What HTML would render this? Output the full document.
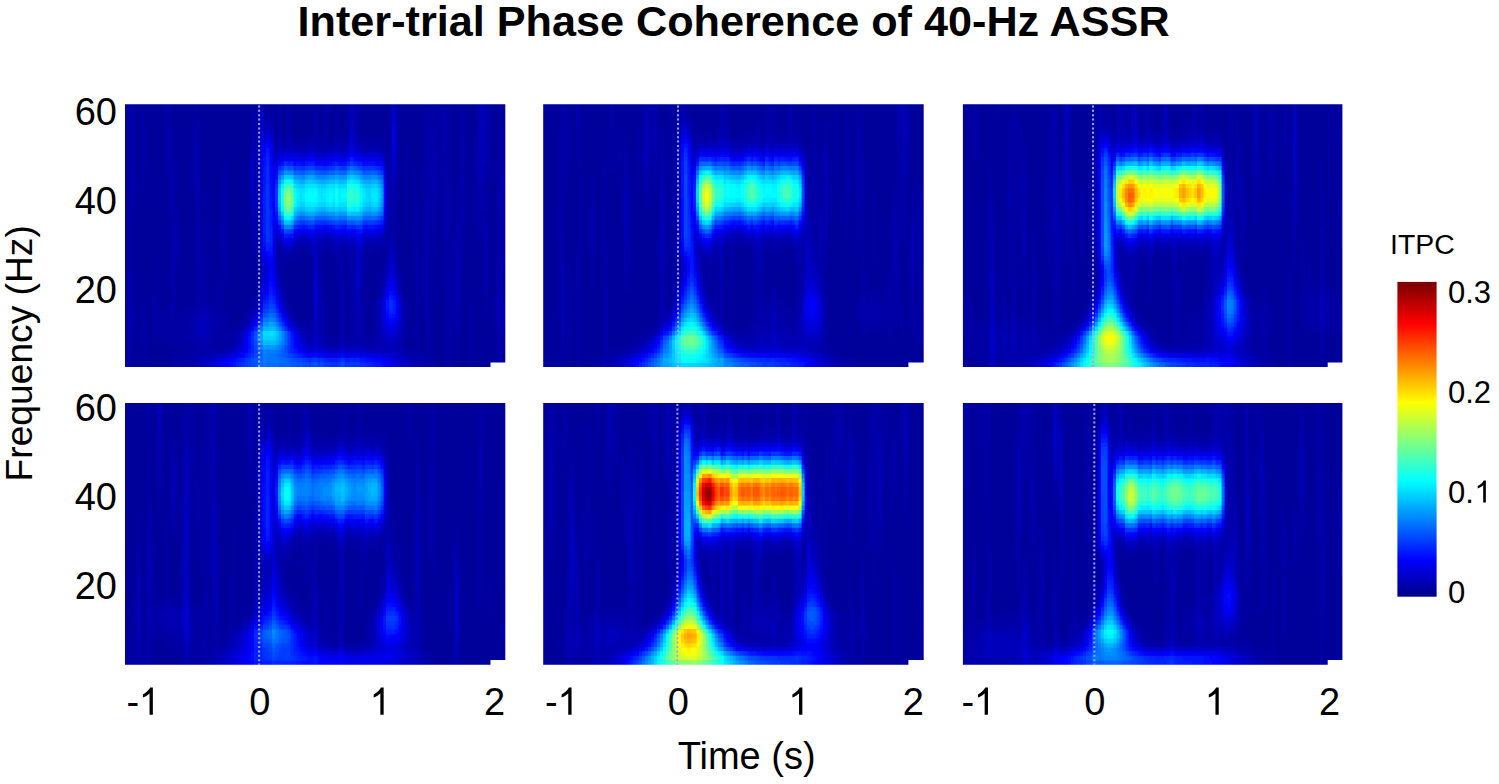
<!DOCTYPE html><html><head><meta charset="utf-8"><style>html,body{margin:0;padding:0;background:#fff;overflow:hidden}</style></head><body><svg width="1499" height="784" viewBox="0 0 1499 784" style="display:block" font-family="Liberation Sans, sans-serif"><rect width="1499" height="784" fill="#fff"/><defs><filter id="hb" x="-2%" y="-2%" width="104%" height="104%" color-interpolation-filters="sRGB"><feGaussianBlur stdDeviation="0.75"/></filter></defs><clipPath id="cp00"><polygon points="125.0,104.3 505.3,104.3 505.3,362.6 490.5,362.6 490.5,367.0 125.0,367.0"/></clipPath><g clip-path="url(#cp00)"><g fill="none" stroke-width="5.16" filter="url(#hb)"><rect x="119.0" y="99.5" width="394.0" height="271.9" fill="#00009b"/><path stroke="#0000a3" d="M128 101.8h3.6M164 101.8h3.6M194 101.8h3.6M251 101.8h3.6M263 101.8h3.6M323 101.8h3.6M353 101.8h3.6M389 101.8h3.6M425 101.8h6.6M434 101.8h3.6M458 101.8h6.6M476 101.8h3.6M488 101.8h3.6M128 106.2h3.6M164 106.2h3.6M194 106.2h3.6M251 106.2h3.6M263 106.2h3.6M323 106.2h3.6M353 106.2h3.6M389 106.2h3.6M425 106.2h12.6M449 106.2h3.6M458 106.2h6.6M476 106.2h3.6M485 106.2h6.6M128 110.7h3.6M164 110.7h3.6M194 110.7h3.6M251 110.7h3.6M266 110.7h3.6M323 110.7h6.6M353 110.7h3.6M389 110.7h3.6M425 110.7h12.6M449 110.7h3.6M458 110.7h6.6M476 110.7h3.6M485 110.7h6.6M128 115.1h3.6M140 115.1h3.6M164 115.1h3.6M194 115.1h3.6M254 115.1h3.6M266 115.1h9.6M323 115.1h6.6M335 115.1h3.6M353 115.1h3.6M389 115.1h3.6M428 115.1h6.6M449 115.1h3.6M458 115.1h6.6M476 115.1h3.6M485 115.1h6.6M128 119.6h3.6M140 119.6h3.6M164 119.6h3.6M194 119.6h6.6M254 119.6h3.6M269 119.6h6.6M323 119.6h6.6M335 119.6h3.6M353 119.6h3.6M428 119.6h6.6M449 119.6h3.6M458 119.6h6.6M476 119.6h3.6M485 119.6h6.6M128 124.1h3.6M140 124.1h3.6M164 124.1h3.6M197 124.1h3.6M254 124.1h3.6M272 124.1h3.6M323 124.1h6.6M335 124.1h3.6M428 124.1h6.6M446 124.1h6.6M458 124.1h6.6M476 124.1h3.6M485 124.1h6.6M128 128.5h3.6M140 128.5h6.6M164 128.5h3.6M197 128.5h3.6M254 128.5h3.6M323 128.5h6.6M335 128.5h3.6M428 128.5h6.6M446 128.5h6.6M458 128.5h6.6M476 128.5h3.6M485 128.5h6.6M500 128.5h3.6M128 133h3.6M140 133h6.6M164 133h3.6M170 133h3.6M191 133h3.6M197 133h3.6M254 133h3.6M284 133h3.6M323 133h6.6M359 133h3.6M446 133h6.6M458 133h6.6M473 133h6.6M485 133h6.6M500 133h3.6M128 137.4h3.6M140 137.4h6.6M164 137.4h3.6M170 137.4h3.6M191 137.4h3.6M197 137.4h3.6M254 137.4h3.6M284 137.4h3.6M290 137.4h3.6M296 137.4h3.6M308 137.4h6.6M323 137.4h6.6M332 137.4h3.6M338 137.4h3.6M359 137.4h3.6M368 137.4h3.6M446 137.4h6.6M458 137.4h3.6M473 137.4h6.6M485 137.4h6.6M497 137.4h6.6M128 141.9h3.6M140 141.9h6.6M164 141.9h3.6M170 141.9h3.6M191 141.9h3.6M197 141.9h3.6M254 141.9h3.6M275 141.9h3.6M281 141.9h3.6M293 141.9h15.6M317 141.9h9.6M329 141.9h6.6M338 141.9h9.6M362 141.9h21.6M446 141.9h6.6M458 141.9h3.6M473 141.9h6.6M485 141.9h6.6M497 141.9h6.6M128 146.3h3.6M140 146.3h6.6M164 146.3h3.6M170 146.3h3.6M191 146.3h3.6M197 146.3h3.6M254 146.3h3.6M404 146.3h3.6M446 146.3h6.6M458 146.3h3.6M473 146.3h6.6M485 146.3h6.6M497 146.3h6.6M128 150.8h3.6M140 150.8h6.6M164 150.8h3.6M170 150.8h3.6M191 150.8h3.6M197 150.8h3.6M383 150.8h3.6M404 150.8h3.6M437 150.8h6.6M446 150.8h6.6M458 150.8h3.6M473 150.8h3.6M485 150.8h6.6M497 150.8h6.6M128 155.3h3.6M140 155.3h6.6M164 155.3h3.6M170 155.3h3.6M191 155.3h3.6M197 155.3h3.6M404 155.3h3.6M437 155.3h6.6M446 155.3h6.6M458 155.3h3.6M473 155.3h3.6M485 155.3h6.6M497 155.3h6.6M128 159.7h3.6M140 159.7h6.6M164 159.7h3.6M170 159.7h3.6M191 159.7h3.6M197 159.7h3.6M224 159.7h3.6M404 159.7h3.6M437 159.7h6.6M446 159.7h6.6M458 159.7h3.6M473 159.7h3.6M485 159.7h6.6M497 159.7h6.6M128 164.2h3.6M140 164.2h6.6M164 164.2h3.6M173 164.2h3.6M191 164.2h3.6M197 164.2h3.6M224 164.2h3.6M248 164.2h3.6M404 164.2h3.6M440 164.2h3.6M446 164.2h6.6M458 164.2h3.6M473 164.2h3.6M485 164.2h6.6M497 164.2h6.6M128 168.6h3.6M140 168.6h6.6M164 168.6h6.6M173 168.6h3.6M191 168.6h3.6M197 168.6h3.6M224 168.6h3.6M248 168.6h3.6M386 168.6h3.6M404 168.6h3.6M413 168.6h3.6M422 168.6h3.6M440 168.6h3.6M446 168.6h6.6M458 168.6h3.6M473 168.6h3.6M488 168.6h3.6M497 168.6h6.6M128 173.1h3.6M140 173.1h3.6M167 173.1h3.6M173 173.1h3.6M191 173.1h3.6M197 173.1h3.6M221 173.1h6.6M248 173.1h3.6M386 173.1h3.6M404 173.1h3.6M413 173.1h3.6M422 173.1h3.6M440 173.1h3.6M446 173.1h6.6M458 173.1h3.6M473 173.1h6.6M488 173.1h3.6M497 173.1h3.6M128 177.6h3.6M140 177.6h3.6M167 177.6h3.6M173 177.6h3.6M191 177.6h3.6M221 177.6h6.6M248 177.6h3.6M386 177.6h3.6M395 177.6h3.6M404 177.6h3.6M413 177.6h3.6M422 177.6h3.6M428 177.6h3.6M440 177.6h3.6M449 177.6h3.6M458 177.6h3.6M473 177.6h6.6M488 177.6h3.6M497 177.6h3.6M128 182h3.6M140 182h3.6M167 182h3.6M173 182h3.6M191 182h3.6M221 182h6.6M248 182h3.6M395 182h3.6M404 182h3.6M413 182h3.6M422 182h3.6M428 182h3.6M440 182h3.6M449 182h3.6M458 182h3.6M473 182h6.6M488 182h3.6M497 182h3.6M128 186.5h3.6M140 186.5h3.6M167 186.5h3.6M173 186.5h3.6M191 186.5h3.6M221 186.5h6.6M248 186.5h3.6M395 186.5h3.6M404 186.5h3.6M413 186.5h3.6M422 186.5h3.6M428 186.5h3.6M440 186.5h3.6M449 186.5h3.6M458 186.5h3.6M473 186.5h6.6M488 186.5h3.6M128 190.9h3.6M167 190.9h3.6M173 190.9h3.6M191 190.9h3.6M221 190.9h6.6M248 190.9h3.6M395 190.9h3.6M404 190.9h3.6M413 190.9h3.6M422 190.9h3.6M428 190.9h3.6M440 190.9h3.6M449 190.9h3.6M455 190.9h6.6M473 190.9h6.6M128 195.4h3.6M167 195.4h3.6M173 195.4h3.6M203 195.4h3.6M221 195.4h3.6M395 195.4h3.6M404 195.4h3.6M413 195.4h3.6M422 195.4h3.6M428 195.4h6.6M449 195.4h3.6M455 195.4h6.6M473 195.4h6.6M485 195.4h3.6M509 195.4h3.6M128 199.8h3.6M167 199.8h3.6M173 199.8h3.6M197 199.8h3.6M203 199.8h3.6M221 199.8h3.6M395 199.8h3.6M404 199.8h3.6M413 199.8h3.6M422 199.8h3.6M428 199.8h6.6M449 199.8h3.6M455 199.8h6.6M473 199.8h6.6M485 199.8h3.6M509 199.8h3.6M128 204.3h3.6M167 204.3h3.6M173 204.3h3.6M197 204.3h3.6M203 204.3h3.6M221 204.3h3.6M404 204.3h3.6M413 204.3h6.6M422 204.3h3.6M428 204.3h6.6M449 204.3h3.6M455 204.3h6.6M473 204.3h6.6M485 204.3h3.6M509 204.3h3.6M128 208.8h3.6M167 208.8h3.6M173 208.8h3.6M197 208.8h3.6M203 208.8h3.6M221 208.8h3.6M404 208.8h3.6M413 208.8h6.6M422 208.8h3.6M428 208.8h6.6M449 208.8h3.6M455 208.8h6.6M473 208.8h6.6M485 208.8h3.6M509 208.8h3.6M128 213.2h6.6M167 213.2h3.6M173 213.2h6.6M194 213.2h3.6M203 213.2h3.6M221 213.2h3.6M404 213.2h3.6M413 213.2h6.6M422 213.2h3.6M428 213.2h6.6M449 213.2h3.6M455 213.2h6.6M473 213.2h9.6M485 213.2h3.6M500 213.2h3.6M509 213.2h3.6M128 217.7h6.6M170 217.7h9.6M194 217.7h3.6M203 217.7h3.6M221 217.7h3.6M254 217.7h6.6M386 217.7h3.6M404 217.7h3.6M413 217.7h6.6M422 217.7h3.6M428 217.7h6.6M449 217.7h3.6M455 217.7h6.6M473 217.7h9.6M485 217.7h3.6M500 217.7h3.6M509 217.7h3.6M128 222.1h6.6M170 222.1h3.6M176 222.1h3.6M194 222.1h3.6M203 222.1h3.6M221 222.1h3.6M254 222.1h6.6M386 222.1h3.6M404 222.1h3.6M413 222.1h6.6M428 222.1h6.6M449 222.1h3.6M458 222.1h3.6M473 222.1h9.6M485 222.1h3.6M500 222.1h3.6M509 222.1h3.6M128 226.6h6.6M170 226.6h3.6M176 226.6h3.6M194 226.6h3.6M203 226.6h6.6M254 226.6h6.6M386 226.6h3.6M404 226.6h3.6M413 226.6h6.6M428 226.6h6.6M449 226.6h3.6M461 226.6h3.6M476 226.6h6.6M485 226.6h3.6M500 226.6h3.6M506 226.6h3.6M128 231h6.6M170 231h3.6M176 231h3.6M194 231h3.6M203 231h6.6M254 231h6.6M386 231h3.6M404 231h3.6M413 231h6.6M428 231h9.6M449 231h3.6M461 231h3.6M476 231h6.6M500 231h3.6M506 231h3.6M128 235.5h6.6M170 235.5h3.6M176 235.5h3.6M194 235.5h3.6M203 235.5h6.6M254 235.5h6.6M386 235.5h3.6M413 235.5h6.6M428 235.5h9.6M446 235.5h6.6M461 235.5h3.6M479 235.5h3.6M500 235.5h3.6M506 235.5h3.6M128 240h6.6M170 240h3.6M176 240h3.6M194 240h3.6M203 240h6.6M254 240h6.6M383 240h6.6M413 240h6.6M422 240h3.6M428 240h9.6M443 240h12.6M461 240h3.6M479 240h3.6M500 240h3.6M506 240h3.6M128 244.4h6.6M176 244.4h3.6M194 244.4h3.6M203 244.4h6.6M221 244.4h3.6M254 244.4h6.6M326 244.4h3.6M383 244.4h6.6M413 244.4h6.6M422 244.4h3.6M428 244.4h9.6M443 244.4h12.6M461 244.4h3.6M479 244.4h6.6M500 244.4h3.6M506 244.4h3.6M128 248.9h6.6M176 248.9h3.6M194 248.9h3.6M200 248.9h9.6M221 248.9h6.6M251 248.9h9.6M278 248.9h3.6M296 248.9h12.6M323 248.9h12.6M344 248.9h3.6M365 248.9h18.6M395 248.9h3.6M413 248.9h6.6M422 248.9h3.6M428 248.9h9.6M443 248.9h12.6M461 248.9h3.6M482 248.9h3.6M500 248.9h3.6M506 248.9h3.6M128 253.3h6.6M176 253.3h3.6M194 253.3h3.6M200 253.3h3.6M206 253.3h3.6M221 253.3h6.6M251 253.3h9.6M278 253.3h6.6M293 253.3h6.6M308 253.3h3.6M317 253.3h6.6M332 253.3h3.6M338 253.3h3.6M353 253.3h3.6M362 253.3h3.6M368 253.3h3.6M377 253.3h3.6M395 253.3h3.6M413 253.3h3.6M422 253.3h3.6M428 253.3h3.6M434 253.3h3.6M443 253.3h12.6M461 253.3h3.6M482 253.3h3.6M500 253.3h3.6M506 253.3h3.6M128 257.8h6.6M155 257.8h3.6M176 257.8h3.6M194 257.8h3.6M200 257.8h3.6M206 257.8h3.6M221 257.8h6.6M251 257.8h3.6M278 257.8h15.6M311 257.8h3.6M317 257.8h6.6M338 257.8h3.6M353 257.8h3.6M362 257.8h3.6M395 257.8h3.6M413 257.8h3.6M422 257.8h3.6M428 257.8h3.6M434 257.8h3.6M443 257.8h12.6M461 257.8h3.6M482 257.8h3.6M500 257.8h3.6M506 257.8h3.6M128 262.2h6.6M155 262.2h3.6M176 262.2h3.6M194 262.2h3.6M200 262.2h3.6M206 262.2h3.6M221 262.2h6.6M251 262.2h3.6M278 262.2h3.6M284 262.2h3.6M311 262.2h3.6M317 262.2h6.6M335 262.2h6.6M347 262.2h3.6M353 262.2h3.6M362 262.2h3.6M383 262.2h3.6M395 262.2h3.6M413 262.2h3.6M422 262.2h3.6M428 262.2h3.6M434 262.2h3.6M443 262.2h12.6M461 262.2h3.6M482 262.2h3.6M500 262.2h3.6M506 262.2h3.6M128 266.7h6.6M155 266.7h3.6M200 266.7h3.6M206 266.7h3.6M221 266.7h6.6M251 266.7h3.6M278 266.7h3.6M311 266.7h3.6M317 266.7h6.6M335 266.7h6.6M347 266.7h3.6M353 266.7h3.6M362 266.7h3.6M383 266.7h3.6M413 266.7h3.6M422 266.7h3.6M428 266.7h3.6M434 266.7h3.6M443 266.7h12.6M461 266.7h3.6M482 266.7h3.6M500 266.7h3.6M506 266.7h3.6M128 271.2h6.6M155 271.2h3.6M200 271.2h3.6M206 271.2h3.6M215 271.2h3.6M221 271.2h6.6M278 271.2h3.6M311 271.2h3.6M317 271.2h6.6M335 271.2h6.6M347 271.2h3.6M353 271.2h3.6M362 271.2h3.6M383 271.2h3.6M422 271.2h3.6M428 271.2h3.6M434 271.2h3.6M443 271.2h12.6M461 271.2h3.6M482 271.2h3.6M500 271.2h3.6M506 271.2h3.6M131 275.6h3.6M155 275.6h3.6M200 275.6h3.6M206 275.6h3.6M215 275.6h3.6M221 275.6h6.6M311 275.6h3.6M317 275.6h3.6M335 275.6h6.6M347 275.6h3.6M353 275.6h3.6M362 275.6h3.6M377 275.6h3.6M398 275.6h3.6M422 275.6h3.6M428 275.6h3.6M434 275.6h3.6M443 275.6h12.6M461 275.6h3.6M482 275.6h3.6M500 275.6h3.6M506 275.6h3.6M131 280.1h3.6M155 280.1h3.6M200 280.1h3.6M206 280.1h3.6M215 280.1h3.6M221 280.1h6.6M257 280.1h3.6M311 280.1h3.6M317 280.1h3.6M335 280.1h6.6M347 280.1h3.6M353 280.1h3.6M362 280.1h3.6M377 280.1h6.6M398 280.1h3.6M422 280.1h3.6M428 280.1h3.6M434 280.1h3.6M443 280.1h12.6M482 280.1h3.6M500 280.1h3.6M506 280.1h3.6M131 284.5h3.6M155 284.5h3.6M173 284.5h3.6M200 284.5h3.6M206 284.5h3.6M215 284.5h9.6M257 284.5h3.6M281 284.5h3.6M311 284.5h3.6M317 284.5h3.6M338 284.5h3.6M347 284.5h3.6M353 284.5h3.6M362 284.5h3.6M377 284.5h6.6M422 284.5h3.6M428 284.5h3.6M434 284.5h3.6M443 284.5h12.6M482 284.5h6.6M500 284.5h3.6M506 284.5h3.6M131 289h3.6M155 289h3.6M173 289h3.6M200 289h3.6M206 289h3.6M215 289h9.6M257 289h3.6M281 289h3.6M311 289h3.6M338 289h3.6M353 289h3.6M362 289h3.6M377 289h3.6M422 289h3.6M428 289h3.6M434 289h3.6M446 289h9.6M482 289h6.6M500 289h3.6M131 293.4h3.6M152 293.4h6.6M170 293.4h6.6M200 293.4h3.6M206 293.4h3.6M215 293.4h9.6M284 293.4h3.6M311 293.4h3.6M338 293.4h3.6M353 293.4h3.6M362 293.4h3.6M377 293.4h3.6M401 293.4h3.6M422 293.4h3.6M428 293.4h3.6M434 293.4h3.6M446 293.4h9.6M482 293.4h6.6M494 293.4h3.6M500 293.4h6.6M131 297.9h3.6M152 297.9h6.6M170 297.9h6.6M194 297.9h3.6M200 297.9h3.6M206 297.9h3.6M215 297.9h9.6M254 297.9h3.6M284 297.9h3.6M311 297.9h3.6M338 297.9h3.6M353 297.9h3.6M362 297.9h3.6M401 297.9h3.6M428 297.9h3.6M434 297.9h3.6M446 297.9h9.6M485 297.9h3.6M494 297.9h3.6M503 297.9h3.6M125 302.4h3.6M131 302.4h3.6M143 302.4h3.6M152 302.4h6.6M170 302.4h6.6M194 302.4h3.6M200 302.4h3.6M206 302.4h3.6M215 302.4h9.6M251 302.4h3.6M287 302.4h3.6M311 302.4h3.6M338 302.4h3.6M353 302.4h3.6M362 302.4h3.6M374 302.4h3.6M404 302.4h3.6M428 302.4h3.6M434 302.4h3.6M446 302.4h9.6M470 302.4h3.6M485 302.4h3.6M494 302.4h3.6M125 306.8h3.6M131 306.8h3.6M140 306.8h6.6M152 306.8h6.6M167 306.8h3.6M173 306.8h3.6M191 306.8h6.6M200 306.8h3.6M209 306.8h15.6M251 306.8h3.6M287 306.8h3.6M311 306.8h3.6M323 306.8h3.6M338 306.8h3.6M353 306.8h3.6M362 306.8h3.6M374 306.8h3.6M404 306.8h3.6M428 306.8h3.6M446 306.8h9.6M470 306.8h3.6M485 306.8h3.6M494 306.8h3.6M125 311.3h3.6M131 311.3h3.6M140 311.3h6.6M152 311.3h18.6M173 311.3h6.6M185 311.3h9.6M209 311.3h6.6M218 311.3h6.6M248 311.3h3.6M290 311.3h3.6M311 311.3h3.6M323 311.3h3.6M338 311.3h3.6M353 311.3h3.6M362 311.3h3.6M374 311.3h3.6M404 311.3h3.6M416 311.3h3.6M428 311.3h3.6M446 311.3h3.6M452 311.3h3.6M458 311.3h3.6M470 311.3h3.6M485 311.3h3.6M494 311.3h3.6M122 315.7h6.6M131 315.7h6.6M140 315.7h6.6M152 315.7h18.6M173 315.7h21.6M218 315.7h9.6M245 315.7h3.6M293 315.7h3.6M311 315.7h3.6M323 315.7h3.6M338 315.7h3.6M353 315.7h3.6M359 315.7h6.6M374 315.7h3.6M404 315.7h3.6M416 315.7h3.6M428 315.7h3.6M446 315.7h3.6M452 315.7h3.6M458 315.7h3.6M470 315.7h3.6M494 315.7h3.6M122 320.2h6.6M131 320.2h3.6M140 320.2h6.6M152 320.2h18.6M173 320.2h15.6M221 320.2h6.6M242 320.2h6.6M296 320.2h3.6M323 320.2h3.6M338 320.2h3.6M353 320.2h3.6M359 320.2h3.6M374 320.2h3.6M404 320.2h3.6M416 320.2h3.6M428 320.2h3.6M446 320.2h3.6M452 320.2h3.6M458 320.2h3.6M470 320.2h3.6M494 320.2h3.6M125 324.7h3.6M131 324.7h3.6M140 324.7h6.6M152 324.7h18.6M173 324.7h12.6M221 324.7h6.6M239 324.7h3.6M299 324.7h6.6M323 324.7h3.6M338 324.7h3.6M353 324.7h3.6M359 324.7h3.6M374 324.7h3.6M404 324.7h3.6M416 324.7h3.6M428 324.7h3.6M446 324.7h3.6M458 324.7h3.6M470 324.7h3.6M494 324.7h3.6M503 324.7h3.6M125 329.1h3.6M131 329.1h3.6M140 329.1h6.6M152 329.1h33.6M221 329.1h6.6M233 329.1h6.6M305 329.1h6.6M323 329.1h3.6M338 329.1h3.6M353 329.1h3.6M359 329.1h3.6M374 329.1h3.6M404 329.1h3.6M416 329.1h3.6M428 329.1h3.6M446 329.1h3.6M458 329.1h3.6M470 329.1h3.6M500 329.1h6.6M125 333.6h3.6M131 333.6h3.6M140 333.6h6.6M152 333.6h33.6M218 333.6h18.6M323 333.6h3.6M338 333.6h3.6M353 333.6h3.6M359 333.6h3.6M374 333.6h3.6M404 333.6h3.6M416 333.6h3.6M425 333.6h6.6M446 333.6h3.6M455 333.6h6.6M470 333.6h3.6M500 333.6h3.6M506 333.6h3.6M131 338h3.6M140 338h6.6M155 338h3.6M164 338h21.6M215 338h18.6M323 338h18.6M347 338h3.6M353 338h3.6M359 338h3.6M365 338h3.6M371 338h6.6M404 338h3.6M416 338h3.6M425 338h6.6M446 338h6.6M455 338h6.6M470 338h3.6M506 338h3.6M131 342.5h3.6M143 342.5h3.6M170 342.5h21.6M209 342.5h21.6M326 342.5h12.6M344 342.5h6.6M365 342.5h9.6M401 342.5h6.6M416 342.5h3.6M425 342.5h6.6M446 342.5h6.6M455 342.5h6.6M470 342.5h3.6M131 346.9h3.6M143 346.9h3.6M170 346.9h24.6M209 346.9h18.6M401 346.9h6.6M416 346.9h3.6M425 346.9h6.6M446 346.9h6.6M455 346.9h6.6M470 346.9h3.6M143 351.4h3.6M179 351.4h18.6M407 351.4h12.6M425 351.4h6.6M446 351.4h6.6M455 351.4h3.6M470 351.4h3.6M143 355.9h3.6M173 355.9h21.6M419 355.9h6.6M428 355.9h3.6M446 355.9h6.6M455 355.9h3.6M470 355.9h3.6M143 360.3h3.6M173 360.3h15.6M431 360.3h6.6M446 360.3h6.6M455 360.3h3.6M470 360.3h3.6M509 360.3h3.6M128 364.8h3.6M170 364.8h15.6M431 364.8h6.6M446 364.8h6.6M455 364.8h3.6M470 364.8h3.6M509 364.8h3.6M128 369.2h3.6M176 369.2h12.6M428 369.2h9.6M446 369.2h6.6M509 369.2h3.6"/><path stroke="#0000ab" d="M131 101.8h3.6M167 101.8h3.6M257 101.8h3.6M278 101.8h3.6M287 101.8h3.6M314 101.8h3.6M326 101.8h3.6M347 101.8h3.6M356 101.8h3.6M395 101.8h3.6M440 101.8h6.6M131 106.2h3.6M167 106.2h3.6M257 106.2h3.6M278 106.2h3.6M287 106.2h3.6M314 106.2h3.6M326 106.2h3.6M347 106.2h3.6M356 106.2h3.6M395 106.2h3.6M440 106.2h6.6M131 110.7h3.6M167 110.7h3.6M257 110.7h3.6M263 110.7h3.6M278 110.7h3.6M287 110.7h3.6M314 110.7h3.6M347 110.7h3.6M356 110.7h3.6M395 110.7h3.6M440 110.7h6.6M131 115.1h3.6M167 115.1h3.6M251 115.1h3.6M257 115.1h3.6M263 115.1h3.6M278 115.1h3.6M287 115.1h3.6M314 115.1h3.6M347 115.1h3.6M356 115.1h3.6M395 115.1h3.6M425 115.1h3.6M434 115.1h3.6M440 115.1h3.6M131 119.6h3.6M167 119.6h3.6M251 119.6h3.6M257 119.6h3.6M266 119.6h3.6M278 119.6h3.6M287 119.6h3.6M314 119.6h3.6M347 119.6h3.6M356 119.6h3.6M389 119.6h3.6M395 119.6h3.6M425 119.6h3.6M434 119.6h3.6M440 119.6h6.6M131 124.1h3.6M167 124.1h3.6M194 124.1h3.6M251 124.1h3.6M269 124.1h3.6M278 124.1h3.6M287 124.1h3.6M314 124.1h3.6M347 124.1h3.6M353 124.1h6.6M389 124.1h3.6M395 124.1h3.6M425 124.1h3.6M434 124.1h3.6M440 124.1h6.6M131 128.5h3.6M167 128.5h3.6M194 128.5h3.6M272 128.5h3.6M278 128.5h3.6M287 128.5h3.6M314 128.5h3.6M347 128.5h3.6M353 128.5h6.6M389 128.5h3.6M425 128.5h3.6M434 128.5h3.6M440 128.5h6.6M131 133h3.6M167 133h3.6M194 133h3.6M272 133h3.6M278 133h3.6M287 133h3.6M314 133h3.6M335 133h3.6M353 133h6.6M389 133h3.6M425 133h12.6M440 133h6.6M131 137.4h3.6M167 137.4h3.6M194 137.4h3.6M278 137.4h3.6M287 137.4h3.6M314 137.4h3.6M335 137.4h3.6M389 137.4h3.6M425 137.4h12.6M440 137.4h6.6M461 137.4h3.6M131 141.9h3.6M167 141.9h3.6M194 141.9h3.6M284 141.9h3.6M290 141.9h3.6M308 141.9h9.6M326 141.9h3.6M359 141.9h3.6M389 141.9h3.6M425 141.9h12.6M440 141.9h6.6M461 141.9h3.6M131 146.3h3.6M167 146.3h3.6M275 146.3h3.6M281 146.3h3.6M293 146.3h15.6M317 146.3h18.6M338 146.3h9.6M362 146.3h21.6M389 146.3h3.6M425 146.3h12.6M440 146.3h6.6M461 146.3h3.6M131 150.8h3.6M167 150.8h3.6M254 150.8h3.6M275 150.8h3.6M389 150.8h3.6M395 150.8h3.6M425 150.8h12.6M443 150.8h3.6M461 150.8h3.6M476 150.8h3.6M131 155.3h3.6M167 155.3h3.6M254 155.3h3.6M383 155.3h3.6M389 155.3h3.6M395 155.3h3.6M425 155.3h9.6M443 155.3h3.6M461 155.3h3.6M476 155.3h3.6M131 159.7h3.6M167 159.7h3.6M254 159.7h3.6M389 159.7h3.6M395 159.7h3.6M425 159.7h9.6M443 159.7h3.6M461 159.7h3.6M476 159.7h3.6M131 164.2h3.6M167 164.2h6.6M254 164.2h3.6M389 164.2h3.6M395 164.2h3.6M425 164.2h9.6M443 164.2h3.6M461 164.2h3.6M476 164.2h3.6M131 168.6h3.6M170 168.6h3.6M254 168.6h3.6M389 168.6h3.6M395 168.6h3.6M425 168.6h9.6M443 168.6h3.6M461 168.6h3.6M476 168.6h3.6M131 173.1h3.6M170 173.1h3.6M254 173.1h3.6M389 173.1h3.6M395 173.1h3.6M425 173.1h9.6M443 173.1h3.6M461 173.1h3.6M500 173.1h3.6M131 177.6h3.6M170 177.6h3.6M197 177.6h3.6M254 177.6h3.6M389 177.6h3.6M425 177.6h3.6M431 177.6h3.6M443 177.6h6.6M461 177.6h3.6M500 177.6h3.6M131 182h3.6M170 182h3.6M197 182h3.6M254 182h6.6M386 182h6.6M425 182h3.6M431 182h3.6M443 182h6.6M461 182h3.6M500 182h3.6M131 186.5h3.6M170 186.5h3.6M194 186.5h6.6M254 186.5h6.6M386 186.5h6.6M425 186.5h3.6M431 186.5h3.6M443 186.5h6.6M461 186.5h3.6M479 186.5h6.6M497 186.5h6.6M131 190.9h3.6M170 190.9h3.6M194 190.9h6.6M254 190.9h6.6M386 190.9h6.6M425 190.9h3.6M431 190.9h3.6M443 190.9h6.6M461 190.9h3.6M479 190.9h6.6M497 190.9h6.6M131 195.4h3.6M170 195.4h3.6M194 195.4h6.6M224 195.4h3.6M254 195.4h6.6M386 195.4h6.6M425 195.4h3.6M434 195.4h3.6M443 195.4h6.6M461 195.4h3.6M479 195.4h6.6M497 195.4h6.6M131 199.8h3.6M170 199.8h3.6M194 199.8h3.6M224 199.8h3.6M254 199.8h6.6M386 199.8h9.6M425 199.8h3.6M434 199.8h3.6M443 199.8h6.6M461 199.8h3.6M479 199.8h6.6M497 199.8h6.6M131 204.3h3.6M170 204.3h3.6M194 204.3h3.6M224 204.3h3.6M254 204.3h6.6M386 204.3h9.6M425 204.3h3.6M434 204.3h3.6M443 204.3h6.6M461 204.3h3.6M479 204.3h6.6M497 204.3h6.6M131 208.8h3.6M170 208.8h3.6M194 208.8h3.6M224 208.8h3.6M254 208.8h6.6M386 208.8h9.6M425 208.8h3.6M434 208.8h3.6M443 208.8h6.6M461 208.8h3.6M479 208.8h6.6M497 208.8h6.6M170 213.2h3.6M197 213.2h3.6M224 213.2h3.6M254 213.2h6.6M386 213.2h9.6M425 213.2h3.6M434 213.2h3.6M443 213.2h6.6M461 213.2h3.6M482 213.2h3.6M497 213.2h3.6M197 217.7h3.6M224 217.7h3.6M389 217.7h6.6M425 217.7h3.6M434 217.7h3.6M443 217.7h6.6M461 217.7h3.6M482 217.7h3.6M497 217.7h3.6M173 222.1h3.6M197 222.1h3.6M224 222.1h3.6M389 222.1h6.6M422 222.1h6.6M434 222.1h3.6M443 222.1h6.6M455 222.1h3.6M461 222.1h3.6M482 222.1h3.6M497 222.1h3.6M173 226.6h3.6M197 226.6h3.6M221 226.6h6.6M389 226.6h6.6M422 226.6h6.6M434 226.6h3.6M443 226.6h6.6M455 226.6h6.6M482 226.6h3.6M497 226.6h3.6M509 226.6h3.6M173 231h3.6M197 231h3.6M221 231h6.6M389 231h6.6M422 231h6.6M443 231h6.6M455 231h6.6M482 231h6.6M497 231h3.6M509 231h3.6M173 235.5h3.6M197 235.5h3.6M221 235.5h6.6M251 235.5h3.6M383 235.5h3.6M392 235.5h3.6M422 235.5h6.6M443 235.5h3.6M455 235.5h6.6M482 235.5h6.6M497 235.5h3.6M509 235.5h3.6M173 240h3.6M197 240h3.6M221 240h6.6M251 240h3.6M392 240h3.6M425 240h3.6M455 240h6.6M482 240h6.6M497 240h3.6M509 240h3.6M170 244.4h6.6M197 244.4h3.6M224 244.4h3.6M251 244.4h3.6M278 244.4h3.6M299 244.4h9.6M317 244.4h3.6M323 244.4h3.6M329 244.4h6.6M344 244.4h3.6M365 244.4h18.6M392 244.4h3.6M425 244.4h3.6M458 244.4h3.6M485 244.4h3.6M497 244.4h3.6M170 248.9h6.6M197 248.9h3.6M275 248.9h3.6M281 248.9h3.6M293 248.9h3.6M308 248.9h3.6M317 248.9h6.6M338 248.9h6.6M350 248.9h6.6M362 248.9h3.6M386 248.9h3.6M425 248.9h3.6M458 248.9h3.6M485 248.9h3.6M497 248.9h3.6M170 253.3h6.6M197 253.3h3.6M203 253.3h3.6M275 253.3h3.6M284 253.3h9.6M311 253.3h3.6M335 253.3h3.6M341 253.3h3.6M347 253.3h6.6M386 253.3h3.6M416 253.3h3.6M425 253.3h3.6M458 253.3h3.6M485 253.3h3.6M497 253.3h3.6M170 257.8h6.6M197 257.8h3.6M203 257.8h3.6M275 257.8h3.6M335 257.8h3.6M341 257.8h3.6M347 257.8h6.6M386 257.8h3.6M416 257.8h3.6M425 257.8h3.6M458 257.8h3.6M485 257.8h3.6M497 257.8h3.6M170 262.2h6.6M197 262.2h3.6M203 262.2h3.6M341 262.2h3.6M350 262.2h3.6M416 262.2h3.6M425 262.2h3.6M458 262.2h3.6M485 262.2h3.6M170 266.7h6.6M197 266.7h3.6M203 266.7h3.6M341 266.7h3.6M350 266.7h3.6M395 266.7h3.6M416 266.7h3.6M425 266.7h3.6M458 266.7h3.6M485 266.7h3.6M170 271.2h6.6M197 271.2h3.6M203 271.2h3.6M341 271.2h3.6M350 271.2h3.6M395 271.2h3.6M416 271.2h3.6M425 271.2h3.6M458 271.2h3.6M485 271.2h3.6M128 275.6h3.6M170 275.6h6.6M197 275.6h3.6M203 275.6h3.6M278 275.6h3.6M320 275.6h3.6M341 275.6h3.6M350 275.6h3.6M383 275.6h3.6M416 275.6h3.6M425 275.6h3.6M458 275.6h3.6M485 275.6h3.6M128 280.1h3.6M170 280.1h6.6M197 280.1h3.6M203 280.1h3.6M278 280.1h3.6M320 280.1h3.6M341 280.1h3.6M350 280.1h3.6M383 280.1h3.6M416 280.1h3.6M425 280.1h3.6M458 280.1h3.6M485 280.1h3.6M128 284.5h3.6M170 284.5h3.6M197 284.5h3.6M203 284.5h3.6M320 284.5h3.6M341 284.5h3.6M350 284.5h3.6M398 284.5h3.6M416 284.5h3.6M425 284.5h3.6M458 284.5h3.6M128 289h3.6M170 289h3.6M197 289h3.6M203 289h3.6M317 289h6.6M350 289h3.6M359 289h3.6M380 289h3.6M398 289h3.6M416 289h3.6M425 289h3.6M458 289h3.6M506 289h3.6M128 293.4h3.6M197 293.4h3.6M203 293.4h3.6M257 293.4h3.6M281 293.4h3.6M317 293.4h6.6M350 293.4h3.6M359 293.4h3.6M380 293.4h3.6M416 293.4h3.6M425 293.4h3.6M458 293.4h3.6M506 293.4h3.6M128 297.9h3.6M197 297.9h3.6M203 297.9h3.6M317 297.9h6.6M350 297.9h3.6M359 297.9h3.6M377 297.9h3.6M416 297.9h3.6M425 297.9h3.6M458 297.9h3.6M500 297.9h3.6M506 297.9h3.6M128 302.4h3.6M197 302.4h3.6M203 302.4h3.6M254 302.4h3.6M284 302.4h3.6M317 302.4h3.6M350 302.4h3.6M359 302.4h3.6M401 302.4h3.6M416 302.4h3.6M425 302.4h3.6M458 302.4h3.6M500 302.4h6.6M128 306.8h3.6M170 306.8h3.6M197 306.8h3.6M203 306.8h6.6M317 306.8h3.6M350 306.8h3.6M359 306.8h3.6M416 306.8h3.6M425 306.8h3.6M455 306.8h6.6M500 306.8h6.6M170 311.3h3.6M194 311.3h3.6M200 311.3h3.6M206 311.3h3.6M215 311.3h3.6M251 311.3h3.6M287 311.3h3.6M317 311.3h3.6M350 311.3h3.6M359 311.3h3.6M425 311.3h3.6M449 311.3h3.6M455 311.3h3.6M500 311.3h6.6M170 315.7h3.6M194 315.7h3.6M209 315.7h9.6M248 315.7h3.6M290 315.7h3.6M317 315.7h3.6M350 315.7h3.6M425 315.7h3.6M449 315.7h3.6M455 315.7h3.6M500 315.7h6.6M170 320.2h3.6M188 320.2h6.6M212 320.2h9.6M293 320.2h3.6M311 320.2h3.6M317 320.2h3.6M350 320.2h3.6M362 320.2h3.6M425 320.2h3.6M449 320.2h3.6M455 320.2h3.6M500 320.2h6.6M170 324.7h3.6M185 324.7h9.6M212 324.7h9.6M242 324.7h3.6M296 324.7h3.6M311 324.7h3.6M317 324.7h3.6M350 324.7h3.6M362 324.7h3.6M425 324.7h3.6M449 324.7h3.6M455 324.7h3.6M500 324.7h3.6M506 324.7h3.6M128 329.1h3.6M185 329.1h9.6M212 329.1h9.6M239 329.1h3.6M302 329.1h3.6M311 329.1h3.6M317 329.1h3.6M350 329.1h3.6M362 329.1h3.6M401 329.1h3.6M425 329.1h3.6M449 329.1h3.6M455 329.1h3.6M506 329.1h3.6M128 333.6h3.6M185 333.6h9.6M209 333.6h9.6M236 333.6h3.6M305 333.6h6.6M317 333.6h3.6M350 333.6h3.6M362 333.6h3.6M401 333.6h3.6M449 333.6h3.6M128 338h3.6M185 338h12.6M209 338h6.6M233 338h3.6M308 338h3.6M350 338h3.6M362 338h3.6M401 338h3.6M128 342.5h3.6M191 342.5h12.6M206 342.5h3.6M230 342.5h6.6M323 342.5h3.6M338 342.5h3.6M353 342.5h3.6M359 342.5h6.6M374 342.5h3.6M398 342.5h3.6M497 342.5h3.6M509 342.5h3.6M128 346.9h3.6M194 346.9h15.6M227 346.9h6.6M326 346.9h12.6M344 346.9h6.6M365 346.9h12.6M398 346.9h3.6M497 346.9h3.6M509 346.9h3.6M128 351.4h3.6M197 351.4h27.6M401 351.4h6.6M497 351.4h3.6M509 351.4h3.6M128 355.9h3.6M194 355.9h9.6M407 355.9h12.6M425 355.9h3.6M497 355.9h3.6M509 355.9h3.6M128 360.3h3.6M188 360.3h6.6M419 360.3h12.6M497 360.3h3.6M185 364.8h9.6M419 364.8h12.6M497 364.8h3.6M188 369.2h6.6M419 369.2h9.6M497 369.2h3.6"/><path stroke="#0000b3" d="M350 101.8h3.6M479 101.8h6.6M479 106.2h6.6M479 110.7h3.6M443 115.1h3.6M479 115.1h3.6M263 119.6h3.6M479 119.6h3.6M257 124.1h3.6M263 124.1h6.6M251 128.5h3.6M257 128.5h3.6M269 128.5h3.6M395 128.5h3.6M251 133h3.6M257 133h3.6M347 133h3.6M395 133h3.6M251 137.4h3.6M257 137.4h3.6M272 137.4h3.6M347 137.4h3.6M353 137.4h6.6M395 137.4h3.6M257 141.9h3.6M278 141.9h3.6M287 141.9h3.6M335 141.9h3.6M353 141.9h6.6M395 141.9h3.6M194 146.3h3.6M257 146.3h3.6M278 146.3h3.6M284 146.3h9.6M308 146.3h9.6M359 146.3h3.6M395 146.3h3.6M194 150.8h3.6M257 150.8h3.6M293 150.8h3.6M302 150.8h3.6M317 150.8h9.6M329 150.8h3.6M362 150.8h3.6M374 150.8h9.6M194 155.3h3.6M257 155.3h3.6M434 155.3h3.6M479 155.3h3.6M194 159.7h3.6M257 159.7h3.6M383 159.7h3.6M434 159.7h3.6M479 159.7h3.6M194 164.2h3.6M257 164.2h3.6M434 164.2h3.6M479 164.2h6.6M194 168.6h3.6M257 168.6h3.6M434 168.6h3.6M479 168.6h6.6M194 173.1h3.6M257 173.1h3.6M434 173.1h3.6M479 173.1h6.6M194 177.6h3.6M257 177.6h3.6M434 177.6h3.6M479 177.6h6.6M194 182h3.6M434 182h3.6M479 182h6.6M434 186.5h3.6M392 190.9h3.6M434 190.9h3.6M392 195.4h3.6M251 222.1h3.6M251 226.6h3.6M251 231h3.6M383 231h3.6M389 235.5h3.6M275 240h3.6M302 240h3.6M323 240h9.6M377 240h6.6M389 240h3.6M275 244.4h3.6M293 244.4h6.6M308 244.4h3.6M320 244.4h3.6M338 244.4h6.6M350 244.4h6.6M362 244.4h3.6M389 244.4h3.6M455 244.4h3.6M509 244.4h3.6M311 248.9h3.6M335 248.9h3.6M347 248.9h3.6M392 248.9h3.6M455 248.9h3.6M509 248.9h3.6M392 253.3h3.6M455 253.3h3.6M509 253.3h3.6M455 257.8h3.6M509 257.8h3.6M275 262.2h3.6M386 262.2h3.6M455 262.2h3.6M497 262.2h3.6M509 262.2h3.6M260 266.7h3.6M275 266.7h3.6M455 266.7h3.6M497 266.7h3.6M509 266.7h3.6M260 271.2h3.6M359 271.2h3.6M455 271.2h3.6M497 271.2h3.6M260 275.6h3.6M359 275.6h3.6M395 275.6h3.6M455 275.6h3.6M497 275.6h3.6M359 280.1h3.6M455 280.1h3.6M497 280.1h3.6M278 284.5h3.6M359 284.5h3.6M383 284.5h3.6M455 284.5h3.6M497 284.5h3.6M341 289h3.6M455 289h3.6M497 289h3.6M341 293.4h3.6M398 293.4h3.6M455 293.4h3.6M497 293.4h3.6M257 297.9h3.6M281 297.9h3.6M341 297.9h3.6M380 297.9h3.6M455 297.9h3.6M320 302.4h3.6M341 302.4h3.6M377 302.4h3.6M455 302.4h3.6M506 302.4h3.6M254 306.8h3.6M284 306.8h3.6M320 306.8h3.6M341 306.8h3.6M377 306.8h3.6M401 306.8h3.6M506 306.8h3.6M128 311.3h3.6M197 311.3h3.6M203 311.3h3.6M320 311.3h3.6M341 311.3h3.6M377 311.3h3.6M401 311.3h3.6M506 311.3h3.6M128 315.7h3.6M197 315.7h6.6M206 315.7h3.6M251 315.7h3.6M320 315.7h3.6M341 315.7h3.6M356 315.7h3.6M377 315.7h3.6M401 315.7h3.6M506 315.7h3.6M128 320.2h3.6M194 320.2h3.6M200 320.2h3.6M206 320.2h6.6M248 320.2h3.6M320 320.2h3.6M341 320.2h3.6M356 320.2h3.6M377 320.2h3.6M401 320.2h3.6M506 320.2h3.6M128 324.7h3.6M194 324.7h3.6M209 324.7h3.6M245 324.7h3.6M320 324.7h3.6M341 324.7h3.6M356 324.7h3.6M377 324.7h3.6M401 324.7h3.6M194 329.1h3.6M209 329.1h3.6M242 329.1h3.6M299 329.1h3.6M320 329.1h3.6M341 329.1h3.6M356 329.1h3.6M377 329.1h3.6M497 329.1h3.6M194 333.6h3.6M200 333.6h3.6M206 333.6h3.6M302 333.6h3.6M311 333.6h3.6M320 333.6h3.6M341 333.6h3.6M356 333.6h3.6M377 333.6h6.6M497 333.6h3.6M509 333.6h3.6M197 338h12.6M236 338h3.6M305 338h3.6M311 338h3.6M317 338h3.6M341 338h3.6M356 338h3.6M377 338h6.6M398 338h3.6M497 338h3.6M509 338h3.6M203 342.5h3.6M308 342.5h3.6M317 342.5h3.6M350 342.5h3.6M356 342.5h3.6M377 342.5h9.6M395 342.5h3.6M233 346.9h3.6M323 346.9h3.6M338 346.9h3.6M353 346.9h3.6M359 346.9h6.6M377 346.9h21.6M224 351.4h6.6M395 351.4h6.6M203 355.9h9.6M404 355.9h3.6M194 360.3h6.6M410 360.3h9.6M194 364.8h3.6M413 364.8h6.6M194 369.2h6.6M410 369.2h9.6"/><path stroke="#0000bb" d="M260 101.8h3.6M260 106.2h3.6M350 106.2h3.6M260 110.7h3.6M350 110.7h3.6M482 110.7h3.6M260 115.1h3.6M350 115.1h3.6M482 115.1h3.6M482 119.6h3.6M479 124.1h6.6M266 128.5h3.6M479 128.5h6.6M269 133h3.6M479 133h6.6M479 137.4h6.6M251 141.9h3.6M272 141.9h3.6M347 141.9h3.6M479 141.9h6.6M251 146.3h3.6M272 146.3h3.6M335 146.3h3.6M353 146.3h6.6M479 146.3h6.6M251 150.8h3.6M281 150.8h3.6M296 150.8h6.6M305 150.8h3.6M314 150.8h3.6M326 150.8h3.6M332 150.8h3.6M338 150.8h9.6M365 150.8h9.6M479 150.8h6.6M275 155.3h3.6M482 155.3h3.6M482 159.7h3.6M383 164.2h3.6M392 182h3.6M392 186.5h3.6M251 204.3h3.6M251 208.8h3.6M251 213.2h3.6M251 217.7h3.6M383 226.6h3.6M278 240h3.6M299 240h3.6M305 240h3.6M317 240h6.6M332 240h3.6M344 240h3.6M362 240h15.6M281 244.4h3.6M311 244.4h3.6M335 244.4h3.6M347 244.4h3.6M284 248.9h9.6M314 248.9h3.6M389 248.9h3.6M389 253.3h3.6M260 257.8h3.6M359 257.8h3.6M392 257.8h3.6M260 262.2h3.6M359 262.2h3.6M392 262.2h3.6M359 266.7h3.6M386 266.7h3.6M275 271.2h3.6M386 271.2h3.6M509 271.2h3.6M275 275.6h3.6M509 275.6h3.6M260 280.1h3.6M395 280.1h3.6M509 280.1h3.6M260 284.5h3.6M509 284.5h3.6M278 289h3.6M383 289h3.6M509 289h3.6M356 293.4h3.6M356 297.9h3.6M497 297.9h3.6M257 302.4h3.6M281 302.4h3.6M356 302.4h3.6M497 302.4h3.6M356 306.8h3.6M497 306.8h3.6M254 311.3h3.6M356 311.3h3.6M497 311.3h3.6M203 315.7h3.6M287 315.7h3.6M497 315.7h3.6M197 320.2h3.6M203 320.2h3.6M290 320.2h3.6M497 320.2h3.6M197 324.7h12.6M293 324.7h3.6M380 324.7h3.6M497 324.7h3.6M197 329.1h12.6M296 329.1h3.6M380 329.1h3.6M398 329.1h3.6M509 329.1h3.6M197 333.6h3.6M203 333.6h3.6M239 333.6h3.6M398 333.6h3.6M302 338h3.6M320 338h3.6M383 338h3.6M395 338h3.6M236 342.5h3.6M305 342.5h3.6M311 342.5h3.6M320 342.5h3.6M341 342.5h3.6M386 342.5h9.6M317 346.9h3.6M350 346.9h3.6M356 346.9h3.6M230 351.4h3.6M365 351.4h12.6M380 351.4h15.6M212 355.9h6.6M398 355.9h6.6M200 360.3h3.6M407 360.3h3.6M197 364.8h6.6M410 364.8h3.6M200 369.2h3.6M407 369.2h3.6"/><path stroke="#0000c3" d="M392 101.8h3.6M392 106.2h3.6M260 119.6h3.6M350 119.6h3.6M260 124.1h3.6M350 124.1h3.6M260 128.5h6.6M350 128.5h3.6M347 146.3h3.6M272 150.8h3.6M278 150.8h3.6M284 150.8h9.6M308 150.8h6.6M359 150.8h3.6M251 155.3h3.6M302 155.3h3.6M317 155.3h3.6M323 155.3h3.6M362 155.3h3.6M377 155.3h6.6M251 159.7h3.6M275 159.7h3.6M251 164.2h3.6M251 168.6h3.6M251 173.1h3.6M251 177.6h3.6M392 177.6h3.6M251 182h3.6M251 186.5h3.6M251 190.9h3.6M251 195.4h3.6M251 199.8h3.6M275 235.5h3.6M323 235.5h6.6M380 235.5h3.6M293 240h6.6M308 240h3.6M338 240h6.6M350 240h6.6M314 244.4h3.6M260 253.3h3.6M314 253.3h3.6M356 253.3h6.6M314 257.8h3.6M356 257.8h3.6M389 257.8h3.6M314 262.2h3.6M356 262.2h3.6M389 262.2h3.6M356 266.7h3.6M392 266.7h3.6M356 271.2h3.6M356 275.6h3.6M386 275.6h3.6M275 280.1h3.6M356 280.1h3.6M356 284.5h3.6M395 284.5h3.6M260 289h3.6M356 289h3.6M278 293.4h3.6M509 293.4h3.6M398 297.9h3.6M509 297.9h3.6M380 302.4h3.6M257 306.8h3.6M380 306.8h3.6M284 311.3h3.6M380 311.3h3.6M380 315.7h3.6M251 320.2h3.6M380 320.2h3.6M509 320.2h3.6M248 324.7h3.6M314 324.7h3.6M398 324.7h3.6M509 324.7h3.6M245 329.1h3.6M314 329.1h3.6M299 333.6h3.6M314 333.6h3.6M383 333.6h3.6M395 333.6h3.6M239 338h3.6M386 338h9.6M239 342.5h3.6M236 346.9h3.6M308 346.9h6.6M320 346.9h3.6M341 346.9h3.6M233 351.4h3.6M326 351.4h12.6M344 351.4h6.6M353 351.4h3.6M359 351.4h6.6M377 351.4h3.6M218 355.9h6.6M395 355.9h3.6M203 360.3h9.6M401 360.3h6.6M203 364.8h3.6M407 364.8h3.6M203 369.2h6.6M401 369.2h6.6"/><path stroke="#0000cb" d="M392 110.7h3.6M392 115.1h3.6M260 133h9.6M350 133h3.6M260 137.4h3.6M269 137.4h3.6M350 137.4h3.6M260 141.9h3.6M335 150.8h3.6M347 150.8h3.6M353 150.8h6.6M272 155.3h3.6M281 155.3h3.6M293 155.3h3.6M299 155.3h3.6M305 155.3h3.6M314 155.3h3.6M320 155.3h3.6M326 155.3h6.6M341 155.3h6.6M365 155.3h3.6M374 155.3h3.6M383 168.6h3.6M392 168.6h3.6M392 173.1h3.6M383 222.1h3.6M275 231h3.6M299 235.5h6.6M317 235.5h6.6M329 235.5h3.6M344 235.5h3.6M362 235.5h3.6M374 235.5h6.6M311 240h6.6M335 240h3.6M347 240h3.6M260 244.4h3.6M290 244.4h3.6M260 248.9h3.6M356 248.9h6.6M314 266.7h3.6M389 266.7h3.6M314 271.2h3.6M392 271.2h3.6M314 275.6h3.6M314 280.1h3.6M386 280.1h3.6M275 284.5h3.6M395 289h3.6M260 293.4h3.6M383 293.4h3.6M278 297.9h3.6M398 302.4h3.6M509 302.4h3.6M281 306.8h3.6M314 306.8h3.6M509 306.8h3.6M314 311.3h3.6M509 311.3h3.6M254 315.7h3.6M314 315.7h3.6M398 315.7h3.6M509 315.7h3.6M287 320.2h3.6M314 320.2h3.6M398 320.2h3.6M290 324.7h3.6M293 329.1h3.6M383 329.1h3.6M242 333.6h3.6M386 333.6h3.6M299 338h3.6M314 338h3.6M302 342.5h3.6M314 342.5h3.6M239 346.9h3.6M305 346.9h3.6M323 351.4h3.6M338 351.4h3.6M350 351.4h3.6M224 355.9h3.6M389 355.9h6.6M212 360.3h3.6M398 360.3h3.6M206 364.8h3.6M401 364.8h6.6M209 369.2h3.6M398 369.2h3.6"/><path stroke="#0000d3" d="M392 119.6h3.6M392 124.1h3.6M269 141.9h3.6M350 141.9h3.6M260 146.3h3.6M260 150.8h3.6M260 155.3h3.6M278 155.3h3.6M287 155.3h3.6M296 155.3h3.6M332 155.3h3.6M338 155.3h3.6M368 155.3h6.6M272 159.7h3.6M392 159.7h3.6M272 164.2h6.6M392 164.2h3.6M383 173.1h3.6M260 222.1h3.6M260 226.6h3.6M260 231h3.6M260 235.5h3.6M278 235.5h3.6M305 235.5h3.6M314 235.5h3.6M332 235.5h3.6M338 235.5h6.6M365 235.5h9.6M260 240h3.6M281 240h3.6M284 244.4h6.6M356 244.4h6.6M263 266.7h3.6M263 271.2h3.6M389 271.2h3.6M263 275.6h3.6M392 275.6h3.6M314 284.5h3.6M314 289h3.6M314 293.4h3.6M260 297.9h3.6M314 297.9h3.6M383 297.9h3.6M314 302.4h3.6M398 306.8h3.6M257 311.3h3.6M398 311.3h3.6M284 315.7h3.6M383 324.7h3.6M395 329.1h3.6M296 333.6h3.6M389 333.6h6.6M242 338h3.6M299 342.5h3.6M302 346.9h3.6M314 346.9h3.6M236 351.4h3.6M308 351.4h3.6M317 351.4h3.6M356 351.4h3.6M227 355.9h3.6M383 355.9h6.6M215 360.3h3.6M395 360.3h3.6M209 364.8h6.6M398 364.8h3.6M212 369.2h3.6M395 369.2h3.6"/><path stroke="#0000db" d="M392 128.5h3.6M392 133h3.6M263 137.4h3.6M392 137.4h3.6M392 141.9h3.6M350 146.3h3.6M392 146.3h3.6M392 150.8h3.6M284 155.3h3.6M290 155.3h3.6M308 155.3h6.6M335 155.3h3.6M356 155.3h6.6M392 155.3h3.6M260 159.7h3.6M323 159.7h3.6M377 159.7h6.6M260 164.2h3.6M260 168.6h3.6M272 168.6h3.6M260 173.1h3.6M260 177.6h3.6M260 182h3.6M260 186.5h3.6M260 190.9h3.6M260 195.4h3.6M260 199.8h3.6M260 204.3h3.6M260 208.8h3.6M260 213.2h3.6M260 217.7h3.6M383 217.7h3.6M275 226.6h3.6M323 231h3.6M380 231h3.6M293 235.5h6.6M308 235.5h3.6M335 235.5h3.6M350 235.5h6.6M356 240h3.6M272 257.8h3.6M263 262.2h3.6M272 262.2h3.6M266 266.7h3.6M266 271.2h3.6M266 275.6h3.6M389 275.6h3.6M263 280.1h3.6M392 280.1h3.6M386 284.5h3.6M275 289h3.6M395 293.4h3.6M278 302.4h3.6M281 311.3h3.6M383 320.2h3.6M251 324.7h3.6M395 324.7h3.6M248 329.1h3.6M386 329.1h3.6M392 329.1h3.6M242 342.5h3.6M242 346.9h3.6M239 351.4h3.6M305 351.4h3.6M311 351.4h3.6M320 351.4h3.6M341 351.4h3.6M230 355.9h3.6M371 355.9h6.6M380 355.9h3.6M218 360.3h3.6M392 360.3h3.6M395 364.8h3.6M215 369.2h3.6M392 369.2h3.6"/><path stroke="#0000e3" d="M266 137.4h3.6M263 141.9h3.6M269 146.3h3.6M347 155.3h3.6M353 155.3h3.6M278 159.7h3.6M293 159.7h3.6M302 159.7h3.6M314 159.7h9.6M326 159.7h6.6M341 159.7h6.6M362 159.7h3.6M374 159.7h3.6M272 173.1h3.6M272 177.6h3.6M383 177.6h3.6M383 213.2h3.6M302 231h3.6M317 231h3.6M326 231h6.6M374 231h6.6M272 235.5h3.6M311 235.5h3.6M347 235.5h3.6M272 240h3.6M359 240h3.6M272 244.4h3.6M272 248.9h3.6M272 253.3h3.6M263 257.8h3.6M266 262.2h3.6M272 266.7h3.6M272 271.2h3.6M266 280.1h3.6M389 280.1h3.6M263 284.5h3.6M392 284.5h3.6M386 289h3.6M275 293.4h3.6M395 297.9h3.6M260 302.4h3.6M383 302.4h3.6M383 311.3h3.6M383 315.7h3.6M254 320.2h3.6M395 320.2h3.6M287 324.7h3.6M290 329.1h3.6M389 329.1h3.6M245 333.6h3.6M296 338h3.6M299 346.9h3.6M314 351.4h3.6M233 355.9h3.6M365 355.9h6.6M377 355.9h3.6M221 360.3h3.6M389 360.3h3.6M215 364.8h3.6M218 369.2h6.6M389 369.2h3.6"/><path stroke="#0000eb" d="M269 150.8h3.6M350 150.8h3.6M281 159.7h3.6M296 159.7h6.6M305 159.7h3.6M332 159.7h3.6M338 159.7h3.6M365 159.7h9.6M275 168.6h3.6M272 182h3.6M272 222.1h3.6M272 226.6h3.6M272 231h3.6M278 231h3.6M299 231h3.6M305 231h3.6M314 231h3.6M320 231h3.6M344 231h3.6M362 231h12.6M281 235.5h3.6M287 240h6.6M272 275.6h3.6M266 284.5h3.6M263 289h3.6M278 306.8h3.6M383 306.8h3.6M257 315.7h3.6M284 320.2h3.6M386 324.7h3.6M392 324.7h3.6M293 333.6h3.6M245 338h3.6M296 342.5h3.6M242 351.4h3.6M302 351.4h3.6M236 355.9h3.6M326 355.9h12.6M344 355.9h6.6M353 355.9h3.6M359 355.9h6.6M224 360.3h3.6M386 360.3h3.6M218 364.8h3.6M392 364.8h3.6M224 369.2h3.6M386 369.2h3.6"/><path stroke="#0000f3" d="M266 141.9h3.6M263 146.3h3.6M269 155.3h3.6M287 159.7h3.6M359 159.7h3.6M380 164.2h3.6M383 182h3.6M272 186.5h3.6M272 190.9h3.6M272 195.4h3.6M272 199.8h3.6M272 204.3h3.6M272 208.8h3.6M383 208.8h3.6M272 213.2h3.6M272 217.7h3.6M275 222.1h3.6M296 231h3.6M332 231h3.6M338 231h6.6M356 235.5h6.6M284 240h3.6M263 253.3h3.6M266 257.8h3.6M269 266.7h3.6M272 280.1h3.6M389 284.5h3.6M266 289h3.6M392 289h3.6M386 293.4h3.6M275 297.9h3.6M260 306.8h3.6M395 311.3h3.6M281 315.7h3.6M395 315.7h3.6M386 320.2h3.6M389 324.7h3.6M245 342.5h3.6M245 346.9h3.6M296 346.9h3.6M299 351.4h3.6M323 355.9h3.6M338 355.9h3.6M350 355.9h3.6M356 355.9h3.6M227 360.3h3.6M383 360.3h3.6M221 364.8h3.6M389 364.8h3.6M227 369.2h3.6M383 369.2h3.6"/><path stroke="#0000fb" d="M263 150.8h3.6M350 155.3h3.6M269 159.7h3.6M284 159.7h3.6M290 159.7h3.6M308 159.7h6.6M335 159.7h3.6M356 159.7h3.6M269 164.2h3.6M323 164.2h3.6M377 164.2h3.6M275 173.1h3.6M383 186.5h3.6M383 204.3h3.6M380 226.6h3.6M308 231h3.6M335 231h3.6M350 231h6.6M269 262.2h3.6M269 271.2h3.6M269 275.6h3.6M272 284.5h3.6M389 289h3.6M263 293.4h3.6M392 293.4h3.6M386 297.9h3.6M395 302.4h3.6M395 306.8h3.6M392 320.2h3.6M254 324.7h3.6M251 329.1h3.6M293 338h3.6M245 351.4h3.6M239 355.9h3.6M317 355.9h3.6M230 360.3h3.6M380 360.3h3.6M224 364.8h3.6M386 364.8h3.6M230 369.2h3.6M380 369.2h3.6"/><path stroke="#0004ff" d="M266 146.3h3.6M263 155.3h3.6M347 159.7h3.6M353 159.7h3.6M278 164.2h3.6M293 164.2h3.6M302 164.2h3.6M314 164.2h9.6M326 164.2h3.6M362 164.2h3.6M374 164.2h3.6M269 168.6h3.6M269 173.1h3.6M269 177.6h3.6M383 190.9h3.6M383 195.4h3.6M383 199.8h3.6M275 217.7h3.6M323 226.6h6.6M377 226.6h3.6M293 231h3.6M311 231h3.6M347 231h3.6M263 248.9h3.6M266 253.3h3.6M269 257.8h3.6M269 280.1h3.6M272 289h3.6M266 293.4h3.6M275 302.4h3.6M260 311.3h3.6M278 311.3h3.6M386 315.7h3.6M257 320.2h3.6M389 320.2h3.6M284 324.7h3.6M287 329.1h3.6M248 333.6h3.6M293 342.5h3.6M293 346.9h3.6M296 351.4h3.6M242 355.9h3.6M305 355.9h9.6M320 355.9h3.6M341 355.9h3.6M233 360.3h3.6M371 360.3h9.6M227 364.8h3.6M383 364.8h3.6M233 369.2h3.6M374 369.2h6.6"/><path stroke="#000cff" d="M263 159.7h3.6M263 164.2h3.6M281 164.2h3.6M299 164.2h3.6M329 164.2h3.6M338 164.2h9.6M365 164.2h9.6M275 177.6h3.6M269 182h3.6M269 186.5h3.6M269 190.9h3.6M269 195.4h3.6M278 226.6h3.6M302 226.6h3.6M314 226.6h9.6M329 226.6h3.6M344 226.6h3.6M362 226.6h6.6M374 226.6h3.6M356 231h3.6M263 244.4h3.6M269 253.3h3.6M269 284.5h3.6M272 293.4h3.6M389 293.4h3.6M263 297.9h3.6M392 297.9h3.6M386 311.3h3.6M392 315.7h3.6M281 320.2h3.6M290 333.6h3.6M248 338h3.6M248 342.5h3.6M248 346.9h3.6M302 355.9h3.6M314 355.9h3.6M365 360.3h6.6M230 364.8h3.6M380 364.8h3.6M236 369.2h3.6M368 369.2h6.6"/><path stroke="#0014ff" d="M266 150.8h3.6M296 164.2h3.6M305 164.2h3.6M332 164.2h3.6M263 168.6h3.6M380 168.6h3.6M263 173.1h3.6M263 177.6h3.6M263 182h3.6M263 186.5h3.6M269 199.8h3.6M269 204.3h3.6M269 208.8h3.6M275 213.2h3.6M299 226.6h3.6M305 226.6h3.6M332 226.6h3.6M341 226.6h3.6M368 226.6h6.6M281 231h3.6M359 231h3.6M263 235.5h3.6M287 235.5h6.6M263 240h3.6M269 248.9h3.6M269 289h3.6M266 297.9h3.6M386 302.4h3.6M275 306.8h3.6M386 306.8h3.6M389 315.7h3.6M290 338h3.6M248 351.4h3.6M293 351.4h3.6M245 355.9h3.6M299 355.9h3.6M236 360.3h3.6M359 360.3h6.6M233 364.8h3.6M374 364.8h6.6M239 369.2h3.6M365 369.2h3.6"/><path stroke="#001cff" d="M266 155.3h3.6M350 159.7h3.6M287 164.2h3.6M308 164.2h6.6M335 164.2h3.6M356 164.2h6.6M275 182h3.6M263 190.9h3.6M263 195.4h3.6M263 199.8h3.6M263 204.3h3.6M263 208.8h3.6M263 213.2h3.6M269 213.2h3.6M263 217.7h3.6M269 217.7h3.6M263 222.1h3.6M269 222.1h3.6M380 222.1h3.6M263 226.6h3.6M269 226.6h3.6M296 226.6h3.6M338 226.6h3.6M263 231h3.6M284 235.5h3.6M269 244.4h3.6M266 248.9h3.6M269 293.4h3.6M272 297.9h3.6M389 297.9h3.6M263 302.4h3.6M392 302.4h3.6M392 306.8h3.6M392 311.3h3.6M260 315.7h3.6M278 315.7h3.6M290 342.5h3.6M290 346.9h3.6M239 360.3h3.6M326 360.3h12.6M344 360.3h6.6M353 360.3h3.6M371 364.8h3.6M242 369.2h6.6M359 369.2h6.6"/><path stroke="#0024ff" d="M266 159.7h3.6M266 164.2h3.6M290 164.2h3.6M347 164.2h3.6M278 168.6h3.6M323 168.6h3.6M377 168.6h3.6M275 208.8h3.6M308 226.6h6.6M335 226.6h3.6M350 226.6h6.6M269 231h3.6M269 235.5h3.6M269 240h3.6M266 244.4h3.6M266 302.4h3.6M389 311.3h3.6M257 324.7h3.6M254 329.1h3.6M251 333.6h3.6M251 346.9h3.6M251 351.4h3.6M290 351.4h3.6M248 355.9h3.6M296 355.9h3.6M242 360.3h3.6M323 360.3h3.6M338 360.3h3.6M350 360.3h3.6M356 360.3h3.6M236 364.8h3.6M365 364.8h6.6M248 369.2h3.6M326 369.2h15.6M344 369.2h15.6"/><path stroke="#002cff" d="M284 164.2h3.6M353 164.2h3.6M266 168.6h3.6M293 168.6h3.6M302 168.6h3.6M314 168.6h9.6M326 168.6h3.6M362 168.6h3.6M374 168.6h3.6M266 173.1h3.6M266 177.6h3.6M266 182h3.6M275 186.5h3.6M323 222.1h3.6M377 222.1h3.6M293 226.6h3.6M347 226.6h3.6M269 297.9h3.6M272 302.4h3.6M389 302.4h3.6M263 306.8h3.6M389 306.8h3.6M275 311.3h3.6M281 324.7h3.6M284 329.1h3.6M251 338h3.6M251 342.5h3.6M293 355.9h3.6M308 360.3h3.6M317 360.3h3.6M239 364.8h3.6M359 364.8h6.6M251 369.2h6.6M308 369.2h3.6M323 369.2h3.6"/><path stroke="#0034ff" d="M299 168.6h3.6M329 168.6h3.6M341 168.6h6.6M365 168.6h9.6M380 173.1h3.6M266 186.5h3.6M266 190.9h3.6M275 190.9h3.6M266 195.4h3.6M275 195.4h3.6M266 199.8h3.6M275 199.8h3.6M266 204.3h3.6M275 204.3h3.6M266 208.8h3.6M266 213.2h3.6M266 217.7h3.6M266 222.1h3.6M278 222.1h3.6M302 222.1h3.6M314 222.1h9.6M326 222.1h3.6M362 222.1h6.6M374 222.1h3.6M266 226.6h3.6M356 226.6h6.6M266 231h3.6M266 235.5h3.6M266 240h3.6M269 302.4h3.6M266 306.8h3.6M260 320.2h3.6M278 320.2h3.6M287 333.6h3.6M287 346.9h3.6M287 351.4h3.6M251 355.9h3.6M245 360.3h3.6M305 360.3h3.6M311 360.3h3.6M320 360.3h3.6M341 360.3h3.6M242 364.8h3.6M329 364.8h9.6M344 364.8h6.6M353 364.8h3.6M257 369.2h6.6M293 369.2h15.6M311 369.2h3.6M317 369.2h6.6M341 369.2h3.6"/><path stroke="#003cff" d="M350 164.2h3.6M281 168.6h3.6M296 168.6h3.6M305 168.6h3.6M332 168.6h3.6M338 168.6h3.6M380 217.7h3.6M299 222.1h3.6M329 222.1h3.6M344 222.1h3.6M368 222.1h6.6M290 231h3.6M272 306.8h3.6M263 311.3h3.6M287 338h3.6M287 342.5h3.6M254 351.4h3.6M290 355.9h3.6M248 360.3h3.6M302 360.3h3.6M314 360.3h3.6M245 364.8h3.6M323 364.8h6.6M338 364.8h3.6M350 364.8h3.6M356 364.8h3.6M266 369.2h27.6M314 369.2h3.6"/><path stroke="#0044ff" d="M308 168.6h6.6M359 168.6h3.6M305 222.1h3.6M332 222.1h3.6M338 222.1h6.6M281 226.6h3.6M287 231h3.6M269 306.8h3.6M266 311.3h3.6M275 315.7h3.6M254 346.9h3.6M254 355.9h3.6M287 355.9h3.6M296 360.3h6.6M248 364.8h3.6M308 364.8h3.6M317 364.8h3.6M263 369.2h3.6"/><path stroke="#004cff" d="M287 168.6h3.6M335 168.6h3.6M356 168.6h3.6M278 173.1h3.6M377 173.1h3.6M296 222.1h3.6M308 222.1h3.6M335 222.1h3.6M284 231h3.6M272 311.3h3.6M257 329.1h3.6M254 333.6h3.6M254 342.5h3.6M284 346.9h3.6M257 351.4h3.6M284 351.4h3.6M251 360.3h3.6M293 360.3h3.6M251 364.8h3.6M302 364.8h6.6M311 364.8h3.6M320 364.8h3.6M341 364.8h3.6"/><path stroke="#0054ff" d="M290 168.6h3.6M347 168.6h3.6M320 173.1h6.6M362 173.1h3.6M377 217.7h3.6M311 222.1h3.6M350 222.1h3.6M269 311.3h3.6M263 315.7h3.6M260 324.7h3.6M278 324.7h3.6M281 329.1h3.6M254 338h3.6M257 355.9h3.6M284 355.9h3.6M254 360.3h3.6M290 360.3h3.6M254 364.8h3.6M296 364.8h6.6M314 364.8h3.6"/><path stroke="#005cff" d="M284 168.6h3.6M353 168.6h3.6M293 173.1h3.6M299 173.1h6.6M314 173.1h6.6M326 173.1h3.6M365 173.1h6.6M374 173.1h3.6M380 177.6h3.6M278 217.7h3.6M323 217.7h3.6M293 222.1h3.6M347 222.1h3.6M353 222.1h3.6M359 222.1h3.6M266 315.7h3.6M275 320.2h3.6M284 333.6h3.6M284 338h3.6M284 342.5h3.6M257 346.9h3.6M281 351.4h3.6M281 355.9h3.6M257 360.3h3.6M287 360.3h3.6M257 364.8h3.6M290 364.8h6.6"/><path stroke="#0064ff" d="M296 173.1h3.6M329 173.1h6.6M338 173.1h9.6M371 173.1h3.6M380 213.2h3.6M299 217.7h6.6M314 217.7h9.6M326 217.7h3.6M362 217.7h9.6M374 217.7h3.6M356 222.1h3.6M272 315.7h3.6M281 346.9h3.6M260 351.4h3.6M260 355.9h3.6M278 355.9h3.6M284 360.3h3.6M260 364.8h3.6M278 364.8h12.6"/><path stroke="#006cff" d="M350 168.6h3.6M281 173.1h3.6M305 173.1h3.6M329 217.7h3.6M338 217.7h3.6M344 217.7h3.6M371 217.7h3.6M269 315.7h3.6M257 342.5h3.6M278 351.4h3.6M275 355.9h3.6M260 360.3h3.6M278 360.3h6.6M266 364.8h12.6"/><path stroke="#0074ff" d="M308 173.1h6.6M335 173.1h3.6M359 173.1h3.6M278 177.6h3.6M377 177.6h3.6M380 182h3.6M296 217.7h3.6M305 217.7h3.6M332 217.7h3.6M341 217.7h3.6M281 222.1h3.6M290 226.6h3.6M263 320.2h6.6M257 333.6h3.6M275 351.4h3.6M266 355.9h9.6M266 360.3h12.6M263 364.8h3.6"/><path stroke="#007cff" d="M380 208.8h3.6M377 213.2h3.6M308 217.7h3.6M335 217.7h3.6M272 320.2h3.6M275 324.7h3.6M260 329.1h3.6M278 329.1h3.6M257 338h3.6M281 342.5h3.6M260 346.9h3.6M278 346.9h3.6M266 351.4h9.6M263 355.9h3.6M263 360.3h3.6"/><path stroke="#0083ff" d="M356 173.1h3.6M302 177.6h3.6M317 177.6h9.6M362 177.6h9.6M278 213.2h3.6M311 217.7h3.6M284 226.6h6.6M269 320.2h3.6M281 333.6h3.6M281 338h3.6M263 351.4h3.6"/><path stroke="#008bff" d="M287 173.1h6.6M347 173.1h3.6M353 173.1h3.6M299 177.6h3.6M314 177.6h3.6M326 177.6h3.6M371 177.6h6.6M380 186.5h3.6M320 213.2h6.6M365 213.2h6.6M293 217.7h3.6M350 217.7h6.6M359 217.7h3.6M275 346.9h3.6"/><path stroke="#0093ff" d="M284 173.1h3.6M293 177.6h6.6M329 177.6h6.6M338 177.6h9.6M278 182h3.6M380 204.3h3.6M299 213.2h6.6M317 213.2h3.6M326 213.2h3.6M362 213.2h3.6M371 213.2h6.6M347 217.7h3.6M356 217.7h3.6M263 324.7h6.6M260 342.5h3.6M278 342.5h3.6"/><path stroke="#009bff" d="M350 173.1h3.6M281 177.6h3.6M305 177.6h3.6M359 177.6h3.6M377 182h3.6M380 190.9h3.6M380 199.8h3.6M314 213.2h3.6M329 213.2h6.6M338 213.2h9.6M272 324.7h3.6M275 329.1h3.6M263 346.9h12.6"/><path stroke="#00a3ff" d="M308 177.6h6.6M335 177.6h3.6M368 182h3.6M380 195.4h3.6M278 208.8h3.6M377 208.8h3.6M296 213.2h3.6M305 213.2h3.6M281 217.7h3.6M269 324.7h3.6M260 333.6h3.6M278 333.6h3.6M260 338h3.6M278 338h3.6"/><path stroke="#00abff" d="M299 182h6.6M320 182h6.6M362 182h6.6M368 208.8h3.6M308 213.2h6.6M335 213.2h3.6M290 222.1h3.6M275 342.5h3.6"/><path stroke="#00b3ff" d="M356 177.6h3.6M317 182h3.6M326 182h3.6M338 182h3.6M371 182h6.6M278 186.5h3.6M377 186.5h3.6M320 208.8h6.6M365 208.8h3.6M359 213.2h3.6M263 329.1h6.6"/><path stroke="#00bbff" d="M347 177.6h3.6M353 177.6h3.6M293 182h6.6M314 182h3.6M329 182h6.6M341 182h6.6M278 204.3h3.6M377 204.3h3.6M299 208.8h6.6M317 208.8h3.6M362 208.8h3.6M371 208.8h6.6M293 213.2h3.6M269 329.1h6.6M275 338h3.6M263 342.5h12.6"/><path stroke="#00c3ff" d="M290 177.6h3.6M305 182h3.6M311 182h3.6M359 182h3.6M365 186.5h6.6M278 190.9h3.6M368 204.3h3.6M296 208.8h3.6M314 208.8h3.6M326 208.8h3.6M332 208.8h3.6M338 208.8h3.6M344 208.8h3.6M350 213.2h9.6M284 222.1h6.6M275 333.6h3.6"/><path stroke="#00cbff" d="M284 177.6h6.6M350 177.6h3.6M281 182h3.6M308 182h3.6M335 182h3.6M299 186.5h6.6M320 186.5h6.6M362 186.5h3.6M371 186.5h3.6M377 190.9h3.6M278 195.4h3.6M278 199.8h3.6M377 199.8h3.6M365 204.3h3.6M305 208.8h3.6M329 208.8h3.6M341 208.8h3.6M347 213.2h3.6"/><path stroke="#00d3ff" d="M296 186.5h3.6M317 186.5h3.6M338 186.5h3.6M374 186.5h3.6M365 190.9h6.6M368 195.4h3.6M377 195.4h3.6M368 199.8h3.6M299 204.3h6.6M320 204.3h6.6M362 204.3h3.6M371 204.3h3.6M308 208.8h6.6M335 208.8h3.6M359 208.8h3.6M281 213.2h3.6M263 338h12.6"/><path stroke="#00dbff" d="M326 186.5h3.6M332 186.5h3.6M341 186.5h6.6M320 190.9h3.6M365 195.4h3.6M365 199.8h3.6M317 204.3h3.6M332 204.3h3.6M338 204.3h3.6M374 204.3h3.6M293 208.8h3.6M263 333.6h6.6M272 333.6h3.6"/><path stroke="#00e3ff" d="M353 182h6.6M293 186.5h3.6M305 186.5h12.6M329 186.5h3.6M359 186.5h3.6M299 190.9h6.6M317 190.9h3.6M323 190.9h3.6M362 190.9h3.6M371 190.9h6.6M299 195.4h3.6M320 195.4h3.6M299 199.8h6.6M320 199.8h6.6M362 199.8h3.6M371 199.8h3.6M296 204.3h3.6M326 204.3h3.6M341 204.3h6.6M290 217.7h3.6M269 333.6h3.6"/><path stroke="#00ebff" d="M347 182h3.6M335 186.5h3.6M296 190.9h3.6M326 190.9h3.6M332 190.9h3.6M338 190.9h3.6M302 195.4h3.6M317 195.4h3.6M323 195.4h3.6M338 195.4h3.6M362 195.4h3.6M371 195.4h6.6M296 199.8h3.6M317 199.8h3.6M332 199.8h3.6M338 199.8h3.6M374 199.8h3.6M305 204.3h12.6M329 204.3h3.6M353 208.8h3.6"/><path stroke="#00f3ff" d="M350 182h3.6M281 186.5h3.6M305 190.9h3.6M311 190.9h3.6M329 190.9h3.6M341 190.9h6.6M359 190.9h3.6M296 195.4h3.6M326 195.4h3.6M332 195.4h3.6M326 199.8h3.6M341 199.8h6.6M335 204.3h3.6M359 204.3h3.6M347 208.8h6.6M356 208.8h3.6"/><path stroke="#00fbff" d="M290 182h3.6M293 190.9h3.6M308 190.9h3.6M314 190.9h3.6M305 195.4h9.6M329 195.4h3.6M341 195.4h6.6M359 195.4h3.6M305 199.8h12.6M329 199.8h3.6M359 199.8h3.6M293 204.3h3.6M281 208.8h3.6M284 217.7h3.6"/><path stroke="#04fffb" d="M284 182h3.6M335 190.9h3.6M314 195.4h3.6M335 199.8h3.6M287 217.7h3.6"/><path stroke="#0cfff3" d="M287 182h3.6M353 186.5h6.6M293 195.4h3.6M335 195.4h3.6M293 199.8h3.6M353 204.3h3.6"/><path stroke="#14ffeb" d="M347 186.5h3.6M281 190.9h3.6M281 204.3h3.6M350 204.3h3.6M356 204.3h3.6"/><path stroke="#1cffe3" d="M350 186.5h3.6M353 190.9h3.6M281 195.4h3.6M347 204.3h3.6M290 213.2h3.6"/><path stroke="#24ffdb" d="M356 190.9h3.6M353 195.4h3.6M281 199.8h3.6M353 199.8h6.6"/><path stroke="#2cffd3" d="M290 186.5h3.6M347 190.9h6.6M356 195.4h3.6M347 199.8h6.6"/><path stroke="#34ffcb" d="M284 186.5h3.6M347 195.4h6.6M284 213.2h3.6"/><path stroke="#3cffc3" d="M287 213.2h3.6"/><path stroke="#44ffbb" d="M290 208.8h3.6"/><path stroke="#4cffb3" d="M287 186.5h3.6M290 190.9h3.6"/><path stroke="#5cffa3" d="M284 190.9h3.6M290 195.4h3.6M290 204.3h3.6M284 208.8h3.6"/><path stroke="#64ff9b" d="M290 199.8h3.6"/><path stroke="#6cff93" d="M287 208.8h3.6"/><path stroke="#74ff8b" d="M287 190.9h3.6M284 195.4h3.6M284 204.3h3.6"/><path stroke="#7cff83" d="M284 199.8h3.6"/><path stroke="#8bff74" d="M287 195.4h3.6M287 204.3h3.6"/><path stroke="#9bff64" d="M287 199.8h3.6"/></g></g><line x1="259.1" y1="105.39999999999999" x2="259.1" y2="367.0" stroke="#a4a4ff" stroke-width="2" stroke-dasharray="2,2.4"/><clipPath id="cp01"><polygon points="543.2,104.3 923.7,104.3 923.7,362.6 908.4,362.6 908.4,367.0 543.2,367.0"/></clipPath><g clip-path="url(#cp01)"><g fill="none" stroke-width="5.16" filter="url(#hb)"><rect x="537.0" y="99.5" width="395.0" height="271.9" fill="#00009b"/><path stroke="#0000a3" d="M564 101.8h3.6M576 101.8h3.6M609 101.8h6.6M642 101.8h3.6M675 101.8h3.6M684 101.8h3.6M765 101.8h6.6M774 101.8h3.6M786 101.8h3.6M834 101.8h3.6M855 101.8h3.6M861 101.8h3.6M900 101.8h3.6M906 101.8h3.6M564 106.2h3.6M609 106.2h6.6M642 106.2h3.6M669 106.2h3.6M675 106.2h3.6M684 106.2h3.6M690 106.2h3.6M765 106.2h6.6M774 106.2h3.6M786 106.2h3.6M834 106.2h3.6M855 106.2h3.6M861 106.2h3.6M900 106.2h3.6M906 106.2h3.6M564 110.7h3.6M609 110.7h6.6M669 110.7h3.6M675 110.7h3.6M690 110.7h3.6M726 110.7h3.6M765 110.7h6.6M774 110.7h3.6M786 110.7h3.6M834 110.7h3.6M855 110.7h3.6M861 110.7h3.6M906 110.7h3.6M564 115.1h3.6M579 115.1h3.6M609 115.1h6.6M669 115.1h3.6M675 115.1h3.6M687 115.1h6.6M726 115.1h3.6M765 115.1h6.6M774 115.1h3.6M786 115.1h3.6M834 115.1h3.6M846 115.1h3.6M855 115.1h9.6M906 115.1h3.6M564 119.6h3.6M579 119.6h3.6M609 119.6h6.6M669 119.6h3.6M675 119.6h3.6M687 119.6h6.6M726 119.6h3.6M756 119.6h3.6M765 119.6h6.6M774 119.6h3.6M786 119.6h3.6M834 119.6h3.6M846 119.6h3.6M855 119.6h9.6M564 124.1h6.6M579 124.1h3.6M609 124.1h6.6M618 124.1h3.6M669 124.1h3.6M726 124.1h3.6M756 124.1h6.6M768 124.1h9.6M786 124.1h3.6M825 124.1h3.6M834 124.1h3.6M846 124.1h3.6M855 124.1h9.6M564 128.5h6.6M576 128.5h6.6M609 128.5h6.6M618 128.5h3.6M636 128.5h3.6M660 128.5h6.6M669 128.5h3.6M717 128.5h3.6M756 128.5h6.6M768 128.5h9.6M786 128.5h3.6M795 128.5h3.6M825 128.5h3.6M834 128.5h3.6M846 128.5h3.6M855 128.5h9.6M540 133h3.6M564 133h6.6M576 133h6.6M609 133h6.6M618 133h3.6M636 133h3.6M660 133h6.6M669 133h3.6M693 133h3.6M699 133h3.6M708 133h3.6M717 133h3.6M747 133h3.6M753 133h9.6M771 133h6.6M786 133h3.6M792 133h6.6M825 133h3.6M834 133h3.6M846 133h3.6M858 133h6.6M540 137.4h3.6M558 137.4h3.6M564 137.4h6.6M576 137.4h6.6M609 137.4h6.6M618 137.4h3.6M636 137.4h3.6M660 137.4h6.6M669 137.4h3.6M675 137.4h3.6M693 137.4h6.6M702 137.4h15.6M729 137.4h3.6M735 137.4h3.6M741 137.4h6.6M750 137.4h3.6M759 137.4h3.6M771 137.4h3.6M777 137.4h12.6M798 137.4h3.6M822 137.4h6.6M834 137.4h3.6M846 137.4h3.6M858 137.4h6.6M900 137.4h3.6M540 141.9h3.6M558 141.9h3.6M564 141.9h6.6M576 141.9h6.6M609 141.9h6.6M618 141.9h3.6M624 141.9h3.6M636 141.9h3.6M660 141.9h6.6M669 141.9h3.6M675 141.9h3.6M693 141.9h6.6M732 141.9h3.6M738 141.9h3.6M750 141.9h3.6M762 141.9h3.6M798 141.9h6.6M822 141.9h6.6M834 141.9h3.6M846 141.9h3.6M858 141.9h6.6M900 141.9h3.6M906 141.9h3.6M540 146.3h3.6M558 146.3h3.6M564 146.3h6.6M576 146.3h6.6M609 146.3h6.6M618 146.3h3.6M624 146.3h3.6M636 146.3h3.6M660 146.3h6.6M669 146.3h9.6M822 146.3h3.6M834 146.3h3.6M858 146.3h6.6M900 146.3h3.6M906 146.3h3.6M558 150.8h3.6M564 150.8h6.6M576 150.8h6.6M609 150.8h6.6M618 150.8h3.6M624 150.8h3.6M636 150.8h3.6M660 150.8h6.6M669 150.8h9.6M804 150.8h3.6M810 150.8h3.6M819 150.8h3.6M834 150.8h3.6M858 150.8h6.6M900 150.8h3.6M906 150.8h3.6M558 155.3h3.6M564 155.3h6.6M576 155.3h6.6M609 155.3h6.6M618 155.3h3.6M624 155.3h6.6M636 155.3h3.6M651 155.3h3.6M663 155.3h3.6M669 155.3h9.6M804 155.3h3.6M810 155.3h3.6M819 155.3h3.6M834 155.3h3.6M858 155.3h3.6M900 155.3h3.6M906 155.3h3.6M558 159.7h3.6M564 159.7h6.6M576 159.7h6.6M603 159.7h3.6M609 159.7h6.6M618 159.7h3.6M627 159.7h3.6M636 159.7h3.6M651 159.7h3.6M663 159.7h3.6M669 159.7h9.6M810 159.7h3.6M819 159.7h3.6M834 159.7h3.6M858 159.7h3.6M900 159.7h3.6M906 159.7h3.6M558 164.2h3.6M564 164.2h3.6M579 164.2h3.6M603 164.2h3.6M609 164.2h6.6M618 164.2h3.6M627 164.2h3.6M636 164.2h3.6M651 164.2h3.6M669 164.2h9.6M810 164.2h3.6M819 164.2h3.6M834 164.2h3.6M858 164.2h3.6M900 164.2h3.6M906 164.2h3.6M558 168.6h3.6M564 168.6h3.6M579 168.6h3.6M603 168.6h3.6M609 168.6h6.6M618 168.6h3.6M627 168.6h3.6M636 168.6h3.6M642 168.6h3.6M648 168.6h6.6M669 168.6h9.6M810 168.6h3.6M819 168.6h3.6M834 168.6h3.6M858 168.6h3.6M900 168.6h3.6M906 168.6h3.6M558 173.1h3.6M564 173.1h3.6M579 173.1h3.6M591 173.1h3.6M603 173.1h3.6M618 173.1h3.6M627 173.1h3.6M636 173.1h3.6M642 173.1h3.6M648 173.1h6.6M669 173.1h9.6M810 173.1h3.6M819 173.1h3.6M834 173.1h3.6M858 173.1h3.6M897 173.1h6.6M906 173.1h3.6M558 177.6h3.6M564 177.6h3.6M579 177.6h3.6M591 177.6h3.6M603 177.6h3.6M627 177.6h3.6M636 177.6h3.6M642 177.6h3.6M648 177.6h9.6M669 177.6h9.6M810 177.6h3.6M819 177.6h3.6M834 177.6h3.6M858 177.6h3.6M897 177.6h6.6M906 177.6h3.6M558 182h3.6M564 182h3.6M579 182h3.6M591 182h3.6M603 182h3.6M621 182h3.6M627 182h3.6M636 182h3.6M642 182h3.6M648 182h9.6M669 182h9.6M810 182h3.6M816 182h6.6M834 182h3.6M858 182h3.6M894 182h9.6M906 182h3.6M558 186.5h9.6M579 186.5h3.6M591 186.5h3.6M603 186.5h3.6M621 186.5h3.6M627 186.5h3.6M636 186.5h3.6M642 186.5h3.6M648 186.5h3.6M654 186.5h3.6M669 186.5h9.6M807 186.5h6.6M816 186.5h3.6M858 186.5h3.6M894 186.5h9.6M906 186.5h3.6M918 186.5h3.6M558 190.9h9.6M579 190.9h3.6M591 190.9h3.6M603 190.9h3.6M621 190.9h3.6M636 190.9h3.6M642 190.9h3.6M648 190.9h3.6M654 190.9h3.6M669 190.9h9.6M807 190.9h6.6M816 190.9h3.6M858 190.9h3.6M894 190.9h9.6M915 190.9h6.6M558 195.4h6.6M579 195.4h3.6M591 195.4h3.6M603 195.4h3.6M621 195.4h3.6M645 195.4h3.6M654 195.4h3.6M669 195.4h9.6M807 195.4h12.6M858 195.4h3.6M873 195.4h3.6M894 195.4h9.6M909 195.4h12.6M558 199.8h6.6M579 199.8h3.6M603 199.8h3.6M621 199.8h3.6M645 199.8h3.6M654 199.8h3.6M669 199.8h9.6M807 199.8h12.6M822 199.8h3.6M858 199.8h3.6M873 199.8h3.6M894 199.8h9.6M909 199.8h12.6M558 204.3h6.6M579 204.3h3.6M603 204.3h3.6M621 204.3h3.6M645 204.3h3.6M669 204.3h9.6M807 204.3h12.6M822 204.3h3.6M840 204.3h3.6M858 204.3h6.6M873 204.3h3.6M894 204.3h9.6M909 204.3h9.6M561 208.8h3.6M579 208.8h3.6M588 208.8h3.6M603 208.8h3.6M621 208.8h3.6M645 208.8h3.6M669 208.8h9.6M810 208.8h9.6M822 208.8h3.6M840 208.8h3.6M858 208.8h6.6M873 208.8h3.6M894 208.8h9.6M909 208.8h9.6M561 213.2h3.6M579 213.2h3.6M588 213.2h3.6M603 213.2h3.6M621 213.2h3.6M669 213.2h6.6M810 213.2h9.6M822 213.2h3.6M840 213.2h3.6M858 213.2h6.6M873 213.2h3.6M891 213.2h3.6M897 213.2h6.6M909 213.2h9.6M555 217.7h3.6M561 217.7h3.6M579 217.7h3.6M588 217.7h3.6M603 217.7h3.6M621 217.7h3.6M669 217.7h6.6M810 217.7h9.6M822 217.7h3.6M840 217.7h3.6M846 217.7h3.6M855 217.7h9.6M873 217.7h3.6M891 217.7h3.6M897 217.7h6.6M909 217.7h3.6M555 222.1h3.6M561 222.1h3.6M579 222.1h3.6M588 222.1h3.6M603 222.1h3.6M621 222.1h3.6M657 222.1h3.6M669 222.1h6.6M813 222.1h6.6M822 222.1h3.6M840 222.1h3.6M846 222.1h3.6M855 222.1h9.6M873 222.1h3.6M888 222.1h6.6M897 222.1h6.6M909 222.1h3.6M555 226.6h3.6M561 226.6h3.6M579 226.6h3.6M588 226.6h3.6M603 226.6h3.6M657 226.6h3.6M669 226.6h6.6M813 226.6h6.6M822 226.6h3.6M846 226.6h3.6M855 226.6h9.6M873 226.6h3.6M888 226.6h6.6M897 226.6h6.6M909 226.6h3.6M555 231h3.6M561 231h3.6M579 231h3.6M588 231h3.6M603 231h3.6M657 231h3.6M669 231h3.6M813 231h6.6M822 231h3.6M846 231h3.6M855 231h9.6M873 231h3.6M888 231h6.6M897 231h9.6M909 231h3.6M579 235.5h3.6M588 235.5h3.6M603 235.5h3.6M657 235.5h3.6M669 235.5h3.6M813 235.5h6.6M822 235.5h3.6M846 235.5h3.6M855 235.5h9.6M873 235.5h3.6M888 235.5h6.6M897 235.5h9.6M915 235.5h3.6M579 240h3.6M588 240h3.6M603 240h3.6M657 240h3.6M669 240h3.6M813 240h6.6M822 240h3.6M846 240h3.6M855 240h9.6M873 240h3.6M888 240h6.6M897 240h9.6M915 240h3.6M558 244.4h3.6M579 244.4h3.6M588 244.4h3.6M603 244.4h3.6M657 244.4h3.6M663 244.4h3.6M669 244.4h3.6M726 244.4h3.6M732 244.4h15.6M750 244.4h3.6M762 244.4h3.6M768 244.4h6.6M777 244.4h15.6M816 244.4h3.6M822 244.4h6.6M855 244.4h3.6M861 244.4h3.6M873 244.4h3.6M888 244.4h6.6M897 244.4h3.6M903 244.4h3.6M915 244.4h3.6M558 248.9h3.6M576 248.9h6.6M588 248.9h3.6M657 248.9h3.6M663 248.9h3.6M723 248.9h12.6M747 248.9h3.6M762 248.9h21.6M792 248.9h3.6M801 248.9h3.6M822 248.9h6.6M855 248.9h3.6M861 248.9h3.6M873 248.9h3.6M888 248.9h6.6M897 248.9h3.6M903 248.9h3.6M915 248.9h3.6M558 253.3h3.6M576 253.3h6.6M657 253.3h3.6M663 253.3h3.6M714 253.3h3.6M729 253.3h6.6M762 253.3h3.6M774 253.3h3.6M792 253.3h3.6M801 253.3h3.6M822 253.3h6.6M855 253.3h3.6M861 253.3h3.6M873 253.3h3.6M888 253.3h6.6M897 253.3h3.6M915 253.3h3.6M558 257.8h3.6M576 257.8h6.6M591 257.8h3.6M657 257.8h3.6M663 257.8h3.6M711 257.8h6.6M729 257.8h6.6M753 257.8h3.6M762 257.8h3.6M801 257.8h3.6M822 257.8h6.6M855 257.8h3.6M861 257.8h3.6M873 257.8h3.6M888 257.8h6.6M897 257.8h3.6M915 257.8h3.6M558 262.2h3.6M576 262.2h6.6M591 262.2h3.6M657 262.2h3.6M663 262.2h3.6M702 262.2h6.6M711 262.2h6.6M729 262.2h6.6M753 262.2h3.6M762 262.2h3.6M795 262.2h3.6M801 262.2h3.6M822 262.2h6.6M861 262.2h3.6M888 262.2h6.6M897 262.2h3.6M915 262.2h3.6M558 266.7h3.6M567 266.7h3.6M576 266.7h6.6M591 266.7h3.6M627 266.7h3.6M657 266.7h3.6M663 266.7h3.6M702 266.7h9.6M714 266.7h6.6M729 266.7h6.6M753 266.7h3.6M795 266.7h9.6M822 266.7h6.6M861 266.7h3.6M888 266.7h6.6M897 266.7h3.6M915 266.7h6.6M558 271.2h3.6M567 271.2h3.6M576 271.2h6.6M591 271.2h3.6M624 271.2h6.6M657 271.2h3.6M663 271.2h3.6M702 271.2h9.6M714 271.2h6.6M729 271.2h6.6M753 271.2h3.6M771 271.2h3.6M795 271.2h9.6M822 271.2h3.6M861 271.2h6.6M888 271.2h6.6M897 271.2h3.6M915 271.2h6.6M558 275.6h3.6M567 275.6h6.6M576 275.6h6.6M591 275.6h3.6M624 275.6h6.6M657 275.6h3.6M663 275.6h3.6M702 275.6h3.6M708 275.6h3.6M714 275.6h6.6M729 275.6h6.6M753 275.6h3.6M771 275.6h3.6M795 275.6h9.6M822 275.6h3.6M861 275.6h6.6M888 275.6h6.6M897 275.6h3.6M915 275.6h6.6M558 280.1h3.6M567 280.1h6.6M576 280.1h6.6M591 280.1h3.6M624 280.1h6.6M657 280.1h3.6M663 280.1h3.6M702 280.1h3.6M708 280.1h3.6M714 280.1h6.6M729 280.1h6.6M753 280.1h6.6M771 280.1h3.6M795 280.1h9.6M822 280.1h3.6M861 280.1h6.6M888 280.1h6.6M897 280.1h3.6M909 280.1h3.6M918 280.1h3.6M558 284.5h3.6M567 284.5h6.6M576 284.5h6.6M591 284.5h3.6M624 284.5h6.6M657 284.5h3.6M663 284.5h3.6M672 284.5h3.6M705 284.5h6.6M714 284.5h3.6M729 284.5h6.6M753 284.5h6.6M771 284.5h3.6M798 284.5h6.6M822 284.5h3.6M861 284.5h6.6M888 284.5h6.6M897 284.5h3.6M909 284.5h3.6M918 284.5h3.6M558 289h3.6M567 289h6.6M576 289h6.6M624 289h6.6M672 289h3.6M705 289h6.6M714 289h3.6M729 289h3.6M753 289h6.6M771 289h6.6M798 289h3.6M822 289h3.6M861 289h6.6M873 289h3.6M891 289h3.6M897 289h3.6M909 289h3.6M918 289h3.6M558 293.4h3.6M567 293.4h6.6M576 293.4h6.6M672 293.4h3.6M708 293.4h3.6M714 293.4h3.6M729 293.4h3.6M753 293.4h6.6M774 293.4h3.6M798 293.4h3.6M822 293.4h3.6M861 293.4h18.6M885 293.4h3.6M891 293.4h3.6M897 293.4h3.6M909 293.4h6.6M918 293.4h3.6M558 297.9h3.6M570 297.9h3.6M576 297.9h6.6M672 297.9h3.6M714 297.9h3.6M729 297.9h3.6M753 297.9h6.6M762 297.9h3.6M768 297.9h3.6M774 297.9h3.6M798 297.9h3.6M858 297.9h3.6M867 297.9h21.6M891 297.9h9.6M909 297.9h6.6M918 297.9h3.6M558 302.4h3.6M570 302.4h3.6M576 302.4h6.6M669 302.4h3.6M711 302.4h3.6M729 302.4h3.6M753 302.4h6.6M762 302.4h9.6M777 302.4h6.6M795 302.4h3.6M825 302.4h3.6M858 302.4h3.6M867 302.4h3.6M876 302.4h12.6M891 302.4h9.6M909 302.4h6.6M918 302.4h3.6M927 302.4h3.6M558 306.8h3.6M570 306.8h3.6M576 306.8h6.6M669 306.8h3.6M711 306.8h3.6M729 306.8h3.6M753 306.8h6.6M762 306.8h9.6M777 306.8h9.6M795 306.8h3.6M825 306.8h3.6M855 306.8h6.6M879 306.8h9.6M891 306.8h12.6M909 306.8h6.6M918 306.8h12.6M558 311.3h3.6M567 311.3h6.6M576 311.3h6.6M666 311.3h3.6M729 311.3h3.6M753 311.3h6.6M762 311.3h3.6M780 311.3h18.6M825 311.3h3.6M855 311.3h6.6M882 311.3h6.6M891 311.3h12.6M909 311.3h21.6M558 315.7h3.6M567 315.7h6.6M576 315.7h6.6M717 315.7h3.6M729 315.7h3.6M753 315.7h3.6M780 315.7h18.6M825 315.7h3.6M855 315.7h6.6M879 315.7h9.6M891 315.7h12.6M909 315.7h18.6M567 320.2h6.6M576 320.2h6.6M657 320.2h3.6M717 320.2h3.6M729 320.2h3.6M750 320.2h6.6M783 320.2h12.6M825 320.2h3.6M858 320.2h3.6M879 320.2h18.6M900 320.2h3.6M909 320.2h15.6M567 324.7h3.6M576 324.7h6.6M657 324.7h3.6M723 324.7h3.6M729 324.7h3.6M747 324.7h6.6M786 324.7h9.6M825 324.7h3.6M858 324.7h39.6M900 324.7h3.6M909 324.7h15.6M567 329.1h3.6M576 329.1h6.6M651 329.1h6.6M726 329.1h9.6M744 329.1h9.6M825 329.1h3.6M861 329.1h21.6M888 329.1h6.6M900 329.1h3.6M909 329.1h15.6M567 333.6h3.6M576 333.6h6.6M645 333.6h6.6M732 333.6h18.6M825 333.6h3.6M861 333.6h6.6M888 333.6h6.6M900 333.6h3.6M912 333.6h15.6M567 338h3.6M576 338h6.6M636 338h6.6M825 338h3.6M888 338h3.6M918 338h12.6M567 342.5h3.6M576 342.5h6.6M630 342.5h9.6M822 342.5h6.6M918 342.5h12.6M567 346.9h3.6M576 346.9h6.6M621 346.9h12.6M822 346.9h6.6M924 346.9h6.6M567 351.4h3.6M576 351.4h6.6M606 351.4h3.6M612 351.4h12.6M825 351.4h9.6M567 355.9h3.6M576 355.9h6.6M606 355.9h6.6M834 355.9h12.6M567 360.3h3.6M576 360.3h6.6M594 360.3h9.6M843 360.3h12.6M561 364.8h3.6M567 364.8h3.6M576 364.8h6.6M591 364.8h12.6M846 364.8h12.6M561 369.2h3.6M576 369.2h6.6M591 369.2h12.6M843 369.2h12.6"/><path stroke="#0000ab" d="M561 101.8h3.6M645 101.8h12.6M678 101.8h6.6M723 101.8h3.6M771 101.8h3.6M789 101.8h3.6M813 101.8h3.6M561 106.2h3.6M576 106.2h3.6M645 106.2h12.6M678 106.2h6.6M723 106.2h3.6M771 106.2h3.6M789 106.2h3.6M813 106.2h3.6M561 110.7h3.6M576 110.7h3.6M642 110.7h15.6M678 110.7h3.6M684 110.7h3.6M723 110.7h3.6M771 110.7h3.6M789 110.7h3.6M813 110.7h3.6M900 110.7h3.6M561 115.1h3.6M576 115.1h3.6M642 115.1h3.6M648 115.1h9.6M678 115.1h3.6M684 115.1h3.6M723 115.1h3.6M771 115.1h3.6M789 115.1h3.6M813 115.1h3.6M900 115.1h3.6M561 119.6h3.6M576 119.6h3.6M642 119.6h3.6M648 119.6h9.6M678 119.6h3.6M723 119.6h3.6M771 119.6h3.6M789 119.6h3.6M813 119.6h3.6M900 119.6h3.6M906 119.6h3.6M561 124.1h3.6M576 124.1h3.6M642 124.1h3.6M648 124.1h9.6M687 124.1h6.6M723 124.1h3.6M765 124.1h3.6M789 124.1h3.6M813 124.1h3.6M900 124.1h3.6M906 124.1h3.6M561 128.5h3.6M642 128.5h3.6M648 128.5h6.6M690 128.5h3.6M723 128.5h6.6M765 128.5h3.6M789 128.5h3.6M813 128.5h3.6M900 128.5h3.6M906 128.5h3.6M561 133h3.6M642 133h3.6M648 133h6.6M723 133h6.6M765 133h6.6M789 133h3.6M813 133h3.6M855 133h3.6M900 133h3.6M906 133h3.6M561 137.4h3.6M642 137.4h3.6M648 137.4h6.6M699 137.4h3.6M717 137.4h3.6M723 137.4h3.6M747 137.4h3.6M753 137.4h6.6M768 137.4h3.6M774 137.4h3.6M789 137.4h9.6M813 137.4h3.6M855 137.4h3.6M906 137.4h3.6M561 141.9h3.6M642 141.9h3.6M648 141.9h6.6M702 141.9h6.6M711 141.9h6.6M729 141.9h3.6M735 141.9h3.6M741 141.9h6.6M759 141.9h3.6M771 141.9h3.6M777 141.9h12.6M813 141.9h3.6M855 141.9h3.6M561 146.3h3.6M642 146.3h3.6M648 146.3h6.6M693 146.3h3.6M732 146.3h3.6M738 146.3h3.6M762 146.3h3.6M798 146.3h6.6M813 146.3h3.6M825 146.3h3.6M846 146.3h3.6M855 146.3h3.6M897 146.3h3.6M561 150.8h3.6M642 150.8h3.6M648 150.8h6.6M813 150.8h3.6M822 150.8h6.6M846 150.8h3.6M855 150.8h3.6M897 150.8h3.6M561 155.3h3.6M642 155.3h3.6M648 155.3h3.6M654 155.3h3.6M660 155.3h3.6M813 155.3h3.6M822 155.3h6.6M846 155.3h3.6M855 155.3h3.6M861 155.3h3.6M897 155.3h3.6M561 159.7h3.6M624 159.7h3.6M642 159.7h3.6M648 159.7h3.6M654 159.7h3.6M660 159.7h3.6M804 159.7h3.6M813 159.7h3.6M822 159.7h3.6M846 159.7h3.6M855 159.7h3.6M861 159.7h3.6M897 159.7h3.6M561 164.2h3.6M624 164.2h3.6M642 164.2h3.6M648 164.2h3.6M654 164.2h3.6M660 164.2h6.6M804 164.2h3.6M813 164.2h3.6M822 164.2h3.6M846 164.2h3.6M855 164.2h3.6M861 164.2h3.6M897 164.2h3.6M561 168.6h3.6M624 168.6h3.6M654 168.6h3.6M660 168.6h6.6M813 168.6h3.6M822 168.6h3.6M846 168.6h3.6M855 168.6h3.6M861 168.6h3.6M897 168.6h3.6M561 173.1h3.6M624 173.1h3.6M654 173.1h3.6M660 173.1h6.6M813 173.1h3.6M822 173.1h3.6M846 173.1h3.6M855 173.1h3.6M861 173.1h3.6M561 177.6h3.6M660 177.6h6.6M813 177.6h3.6M822 177.6h3.6M846 177.6h3.6M855 177.6h3.6M861 177.6h3.6M903 177.6h3.6M561 182h3.6M645 182h3.6M663 182h3.6M813 182h3.6M822 182h3.6M846 182h3.6M855 182h3.6M861 182h3.6M903 182h3.6M645 186.5h3.6M663 186.5h3.6M813 186.5h3.6M819 186.5h6.6M846 186.5h3.6M855 186.5h3.6M861 186.5h3.6M903 186.5h3.6M627 190.9h3.6M645 190.9h3.6M663 190.9h3.6M813 190.9h3.6M819 190.9h6.6M846 190.9h3.6M855 190.9h3.6M861 190.9h3.6M903 190.9h3.6M627 195.4h3.6M663 195.4h3.6M819 195.4h6.6M846 195.4h3.6M855 195.4h3.6M861 195.4h3.6M903 195.4h3.6M591 199.8h3.6M627 199.8h3.6M663 199.8h3.6M819 199.8h3.6M846 199.8h3.6M855 199.8h3.6M861 199.8h3.6M903 199.8h3.6M591 204.3h3.6M627 204.3h3.6M663 204.3h3.6M819 204.3h3.6M846 204.3h3.6M855 204.3h3.6M903 204.3h3.6M918 204.3h3.6M558 208.8h3.6M591 208.8h3.6M627 208.8h3.6M663 208.8h3.6M807 208.8h3.6M819 208.8h3.6M846 208.8h3.6M855 208.8h3.6M903 208.8h3.6M918 208.8h3.6M558 213.2h3.6M591 213.2h3.6M627 213.2h3.6M663 213.2h3.6M675 213.2h3.6M807 213.2h3.6M819 213.2h3.6M846 213.2h3.6M855 213.2h3.6M894 213.2h3.6M903 213.2h3.6M918 213.2h3.6M558 217.7h3.6M591 217.7h3.6M627 217.7h3.6M663 217.7h3.6M675 217.7h3.6M807 217.7h3.6M894 217.7h3.6M903 217.7h3.6M912 217.7h9.6M558 222.1h3.6M591 222.1h3.6M627 222.1h3.6M663 222.1h3.6M675 222.1h3.6M810 222.1h3.6M894 222.1h3.6M903 222.1h3.6M912 222.1h9.6M558 226.6h3.6M591 226.6h3.6M627 226.6h3.6M663 226.6h3.6M675 226.6h3.6M810 226.6h3.6M825 226.6h3.6M894 226.6h3.6M903 226.6h3.6M912 226.6h9.6M558 231h3.6M591 231h3.6M627 231h3.6M663 231h3.6M675 231h3.6M810 231h3.6M825 231h3.6M894 231h3.6M912 231h9.6M558 235.5h6.6M591 235.5h3.6M627 235.5h3.6M663 235.5h3.6M810 235.5h3.6M825 235.5h3.6M894 235.5h3.6M909 235.5h3.6M918 235.5h3.6M558 240h6.6M591 240h3.6M627 240h3.6M663 240h3.6M732 240h12.6M750 240h3.6M762 240h3.6M768 240h6.6M786 240h6.6M801 240h3.6M810 240h3.6M825 240h3.6M909 240h3.6M918 240h3.6M561 244.4h3.6M591 244.4h3.6M627 244.4h3.6M723 244.4h3.6M729 244.4h3.6M747 244.4h3.6M765 244.4h3.6M774 244.4h3.6M792 244.4h3.6M801 244.4h3.6M810 244.4h6.6M909 244.4h3.6M918 244.4h3.6M561 248.9h3.6M591 248.9h3.6M603 248.9h3.6M624 248.9h6.6M714 248.9h3.6M753 248.9h3.6M798 248.9h3.6M813 248.9h6.6M909 248.9h3.6M918 248.9h3.6M561 253.3h3.6M591 253.3h3.6M603 253.3h3.6M624 253.3h6.6M711 253.3h3.6M717 253.3h3.6M753 253.3h6.6M795 253.3h6.6M813 253.3h6.6M909 253.3h3.6M918 253.3h3.6M561 257.8h3.6M603 257.8h3.6M624 257.8h6.6M678 257.8h3.6M699 257.8h9.6M717 257.8h3.6M756 257.8h3.6M795 257.8h6.6M813 257.8h6.6M909 257.8h3.6M918 257.8h3.6M561 262.2h3.6M603 262.2h3.6M624 262.2h6.6M678 262.2h3.6M699 262.2h3.6M708 262.2h3.6M717 262.2h3.6M756 262.2h3.6M798 262.2h3.6M816 262.2h3.6M909 262.2h3.6M918 262.2h3.6M603 266.7h3.6M624 266.7h3.6M678 266.7h3.6M699 266.7h3.6M756 266.7h3.6M816 266.7h3.6M894 266.7h3.6M909 266.7h3.6M603 271.2h3.6M678 271.2h3.6M699 271.2h3.6M756 271.2h6.6M894 271.2h3.6M909 271.2h3.6M603 275.6h3.6M678 275.6h3.6M756 275.6h6.6M894 275.6h3.6M909 275.6h6.6M603 280.1h3.6M678 280.1h3.6M759 280.1h3.6M894 280.1h3.6M912 280.1h3.6M603 284.5h3.6M702 284.5h3.6M759 284.5h3.6M894 284.5h3.6M912 284.5h3.6M603 289h3.6M663 289h3.6M759 289h3.6M801 289h3.6M888 289h3.6M894 289h3.6M912 289h3.6M603 293.4h3.6M663 293.4h3.6M705 293.4h3.6M759 293.4h3.6M771 293.4h3.6M801 293.4h3.6M888 293.4h3.6M894 293.4h3.6M567 297.9h3.6M603 297.9h3.6M663 297.9h3.6M705 297.9h6.6M759 297.9h3.6M771 297.9h3.6M822 297.9h3.6M861 297.9h6.6M888 297.9h3.6M567 302.4h3.6M603 302.4h3.6M663 302.4h3.6M672 302.4h3.6M708 302.4h3.6M714 302.4h3.6M759 302.4h3.6M774 302.4h3.6M798 302.4h3.6M822 302.4h3.6M861 302.4h6.6M870 302.4h6.6M888 302.4h3.6M567 306.8h3.6M603 306.8h3.6M663 306.8h3.6M714 306.8h3.6M759 306.8h3.6M774 306.8h3.6M798 306.8h3.6M861 306.8h18.6M888 306.8h3.6M603 311.3h3.6M669 311.3h3.6M711 311.3h3.6M759 311.3h3.6M765 311.3h6.6M774 311.3h6.6M798 311.3h3.6M861 311.3h21.6M888 311.3h3.6M603 315.7h3.6M666 315.7h3.6M756 315.7h15.6M777 315.7h3.6M798 315.7h3.6M861 315.7h18.6M888 315.7h3.6M927 315.7h3.6M603 320.2h3.6M756 320.2h15.6M777 320.2h6.6M795 320.2h3.6M861 320.2h18.6M924 320.2h6.6M603 324.7h3.6M753 324.7h18.6M777 324.7h9.6M795 324.7h3.6M822 324.7h3.6M924 324.7h6.6M603 329.1h3.6M723 329.1h3.6M753 329.1h6.6M777 329.1h21.6M822 329.1h3.6M924 329.1h6.6M603 333.6h3.6M651 333.6h3.6M750 333.6h6.6M786 333.6h12.6M822 333.6h3.6M927 333.6h3.6M561 338h3.6M603 338h3.6M642 338h6.6M735 338h18.6M822 338h3.6M561 342.5h3.6M603 342.5h3.6M639 342.5h3.6M561 346.9h3.6M603 346.9h3.6M633 346.9h6.6M561 351.4h3.6M603 351.4h3.6M624 351.4h6.6M822 351.4h3.6M561 355.9h3.6M603 355.9h3.6M612 355.9h9.6M828 355.9h6.6M561 360.3h3.6M606 360.3h6.6M834 360.3h9.6M606 364.8h3.6M837 364.8h9.6M606 369.2h3.6M834 369.2h9.6"/><path stroke="#0000b3" d="M720 101.8h3.6M897 101.8h3.6M903 101.8h3.6M720 106.2h3.6M897 106.2h3.6M681 110.7h3.6M720 110.7h3.6M897 110.7h3.6M645 115.1h3.6M681 115.1h3.6M720 115.1h3.6M897 115.1h3.6M645 119.6h3.6M684 119.6h3.6M720 119.6h3.6M897 119.6h3.6M645 124.1h3.6M678 124.1h3.6M720 124.1h3.6M897 124.1h3.6M645 128.5h3.6M654 128.5h3.6M678 128.5h3.6M720 128.5h3.6M897 128.5h3.6M645 133h3.6M654 133h3.6M678 133h3.6M690 133h3.6M720 133h3.6M897 133h3.6M654 137.4h3.6M726 137.4h3.6M765 137.4h3.6M897 137.4h3.6M654 141.9h3.6M699 141.9h3.6M708 141.9h3.6M717 141.9h3.6M723 141.9h3.6M747 141.9h3.6M753 141.9h6.6M768 141.9h3.6M774 141.9h3.6M789 141.9h9.6M897 141.9h3.6M654 146.3h3.6M696 146.3h3.6M729 146.3h3.6M735 146.3h3.6M741 146.3h3.6M750 146.3h3.6M771 146.3h3.6M654 150.8h3.6M693 150.8h3.6M801 150.8h3.6M903 155.3h3.6M825 159.7h3.6M903 159.7h3.6M645 164.2h3.6M825 164.2h3.6M903 164.2h3.6M645 168.6h3.6M804 168.6h3.6M825 168.6h3.6M903 168.6h3.6M645 173.1h3.6M825 173.1h3.6M903 173.1h3.6M624 177.6h3.6M645 177.6h3.6M825 177.6h3.6M624 182h3.6M660 182h3.6M825 182h3.6M624 186.5h3.6M660 186.5h3.6M825 186.5h3.6M624 190.9h3.6M660 190.9h3.6M825 190.9h3.6M624 195.4h3.6M660 195.4h3.6M825 195.4h3.6M624 199.8h3.6M660 199.8h3.6M825 199.8h3.6M624 204.3h3.6M660 204.3h3.6M825 204.3h3.6M624 208.8h3.6M660 208.8h3.6M825 208.8h3.6M624 213.2h3.6M660 213.2h3.6M825 213.2h3.6M624 217.7h3.6M660 217.7h3.6M819 217.7h3.6M825 217.7h3.6M624 222.1h3.6M660 222.1h3.6M807 222.1h3.6M819 222.1h3.6M825 222.1h3.6M624 226.6h3.6M660 226.6h3.6M807 226.6h3.6M819 226.6h3.6M624 231h3.6M807 231h3.6M819 231h3.6M624 235.5h3.6M675 235.5h3.6M738 235.5h3.6M771 235.5h3.6M801 235.5h3.6M819 235.5h3.6M912 235.5h3.6M624 240h3.6M675 240h3.6M723 240h9.6M744 240h3.6M765 240h3.6M777 240h9.6M819 240h3.6M894 240h3.6M912 240h3.6M624 244.4h3.6M675 244.4h3.6M714 244.4h3.6M753 244.4h3.6M798 244.4h3.6M819 244.4h3.6M894 244.4h3.6M912 244.4h3.6M675 248.9h6.6M696 248.9h3.6M711 248.9h3.6M717 248.9h3.6M756 248.9h3.6M795 248.9h3.6M810 248.9h3.6M819 248.9h3.6M894 248.9h3.6M912 248.9h3.6M675 253.3h6.6M696 253.3h9.6M759 253.3h3.6M810 253.3h3.6M819 253.3h3.6M894 253.3h3.6M912 253.3h3.6M675 257.8h3.6M708 257.8h3.6M720 257.8h3.6M759 257.8h3.6M810 257.8h3.6M819 257.8h3.6M894 257.8h3.6M912 257.8h3.6M675 262.2h3.6M720 262.2h3.6M759 262.2h3.6M813 262.2h3.6M819 262.2h3.6M894 262.2h3.6M912 262.2h3.6M561 266.7h3.6M660 266.7h3.6M675 266.7h3.6M720 266.7h3.6M759 266.7h3.6M813 266.7h3.6M819 266.7h3.6M912 266.7h3.6M561 271.2h3.6M660 271.2h3.6M675 271.2h3.6M720 271.2h3.6M816 271.2h6.6M912 271.2h3.6M561 275.6h3.6M660 275.6h3.6M675 275.6h3.6M699 275.6h3.6M720 275.6h3.6M816 275.6h6.6M561 280.1h3.6M660 280.1h3.6M675 280.1h3.6M720 280.1h3.6M561 284.5h3.6M660 284.5h3.6M678 284.5h3.6M720 284.5h3.6M561 289h3.6M660 289h3.6M702 289h3.6M720 289h3.6M561 293.4h3.6M660 293.4h3.6M720 293.4h3.6M561 297.9h3.6M660 297.9h3.6M720 297.9h3.6M801 297.9h3.6M561 302.4h3.6M660 302.4h3.6M720 302.4h3.6M771 302.4h3.6M561 306.8h3.6M660 306.8h3.6M672 306.8h3.6M708 306.8h3.6M720 306.8h3.6M771 306.8h3.6M822 306.8h3.6M561 311.3h3.6M660 311.3h6.6M714 311.3h3.6M720 311.3h3.6M771 311.3h3.6M822 311.3h3.6M561 315.7h3.6M660 315.7h6.6M711 315.7h6.6M720 315.7h3.6M774 315.7h3.6M822 315.7h3.6M561 320.2h3.6M660 320.2h3.6M666 320.2h3.6M720 320.2h3.6M774 320.2h3.6M798 320.2h3.6M822 320.2h3.6M561 324.7h3.6M717 324.7h3.6M774 324.7h3.6M798 324.7h3.6M561 329.1h3.6M657 329.1h3.6M759 329.1h12.6M774 329.1h3.6M798 329.1h3.6M561 333.6h3.6M654 333.6h3.6M726 333.6h6.6M756 333.6h15.6M777 333.6h9.6M798 333.6h3.6M648 338h3.6M753 338h6.6M762 338h3.6M777 338h24.6M642 342.5h3.6M738 342.5h18.6M783 342.5h18.6M813 342.5h9.6M639 346.9h3.6M807 346.9h15.6M630 351.4h3.6M813 351.4h9.6M621 355.9h3.6M822 355.9h6.6M603 360.3h3.6M612 360.3h6.6M831 360.3h3.6M603 364.8h3.6M609 364.8h6.6M834 364.8h3.6M603 369.2h3.6M609 369.2h3.6M831 369.2h3.6"/><path stroke="#0000bb" d="M903 106.2h3.6M903 110.7h3.6M903 115.1h3.6M681 119.6h3.6M903 119.6h3.6M681 124.1h6.6M903 124.1h3.6M687 128.5h3.6M903 128.5h3.6M903 133h3.6M645 137.4h3.6M678 137.4h3.6M690 137.4h3.6M720 137.4h3.6M903 137.4h3.6M645 141.9h3.6M678 141.9h3.6M726 141.9h3.6M765 141.9h3.6M903 141.9h3.6M645 146.3h3.6M678 146.3h3.6M702 146.3h6.6M711 146.3h6.6M744 146.3h3.6M759 146.3h3.6M768 146.3h3.6M777 146.3h15.6M903 146.3h3.6M645 150.8h3.6M696 150.8h3.6M732 150.8h3.6M738 150.8h3.6M762 150.8h3.6M798 150.8h3.6M903 150.8h3.6M645 155.3h3.6M693 155.3h3.6M645 159.7h3.6M804 173.1h3.6M804 177.6h3.6M804 217.7h3.6M804 222.1h3.6M804 226.6h3.6M660 231h3.6M801 231h6.6M660 235.5h3.6M729 235.5h9.6M741 235.5h3.6M750 235.5h3.6M762 235.5h3.6M768 235.5h3.6M786 235.5h6.6M804 235.5h6.6M660 240h3.6M678 240h3.6M747 240h3.6M774 240h3.6M792 240h3.6M798 240h3.6M804 240h6.6M660 244.4h3.6M678 244.4h3.6M696 244.4h3.6M717 244.4h3.6M756 244.4h6.6M795 244.4h3.6M804 244.4h6.6M660 248.9h3.6M699 248.9h3.6M720 248.9h3.6M759 248.9h3.6M804 248.9h3.6M660 253.3h3.6M705 253.3h6.6M720 253.3h3.6M804 253.3h3.6M660 257.8h3.6M696 257.8h3.6M804 257.8h3.6M660 262.2h3.6M696 262.2h3.6M804 262.2h3.6M810 262.2h3.6M804 266.7h3.6M810 266.7h3.6M804 271.2h3.6M813 271.2h3.6M813 275.6h3.6M699 280.1h3.6M816 280.1h6.6M675 284.5h3.6M816 284.5h6.6M675 289h6.6M819 289h3.6M675 293.4h3.6M702 293.4h3.6M705 302.4h3.6M801 302.4h3.6M669 315.7h3.6M771 315.7h3.6M663 320.2h3.6M771 320.2h3.6M660 324.7h3.6M720 324.7h3.6M771 324.7h3.6M771 329.1h3.6M723 333.6h3.6M774 333.6h3.6M801 333.6h3.6M819 333.6h3.6M732 338h3.6M759 338h3.6M765 338h6.6M774 338h3.6M801 338h3.6M807 338h15.6M645 342.5h3.6M735 342.5h3.6M756 342.5h15.6M774 342.5h9.6M801 342.5h12.6M642 346.9h3.6M744 346.9h12.6M777 346.9h30.6M633 351.4h6.6M807 351.4h6.6M624 355.9h6.6M618 360.3h3.6M825 360.3h6.6M615 364.8h3.6M828 364.8h6.6M612 369.2h6.6M825 369.2h6.6"/><path stroke="#0000c3" d="M687 133h3.6M690 141.9h3.6M720 141.9h3.6M690 146.3h3.6M708 146.3h3.6M717 146.3h3.6M723 146.3h3.6M747 146.3h3.6M753 146.3h6.6M774 146.3h3.6M792 146.3h6.6M678 150.8h3.6M729 150.8h3.6M735 150.8h3.6M741 150.8h3.6M750 150.8h3.6M771 150.8h3.6M678 155.3h3.6M801 155.3h3.6M678 159.7h3.6M678 164.2h3.6M678 168.6h3.6M678 173.1h3.6M678 177.6h3.6M678 182h3.6M804 182h3.6M678 186.5h3.6M804 186.5h3.6M678 190.9h3.6M804 190.9h3.6M678 195.4h3.6M678 199.8h3.6M678 204.3h3.6M804 204.3h3.6M678 208.8h3.6M804 208.8h3.6M678 213.2h3.6M804 213.2h3.6M678 217.7h3.6M678 222.1h3.6M678 226.6h3.6M678 231h3.6M678 235.5h3.6M723 235.5h6.6M744 235.5h3.6M765 235.5h3.6M777 235.5h9.6M798 235.5h3.6M696 240h3.6M714 240h3.6M753 240h9.6M711 244.4h3.6M720 244.4h3.6M702 248.9h3.6M807 248.9h3.6M807 253.3h3.6M807 257.8h3.6M807 262.2h3.6M681 266.7h3.6M696 266.7h3.6M681 271.2h3.6M810 271.2h3.6M804 275.6h3.6M810 275.6h3.6M804 280.1h3.6M813 280.1h3.6M699 284.5h3.6M816 289h3.6M678 293.4h3.6M819 293.4h3.6M675 297.9h3.6M702 297.9h3.6M819 297.9h3.6M705 306.8h3.6M801 306.8h3.6M672 311.3h3.6M708 311.3h3.6M801 311.3h3.6M801 315.7h3.6M714 320.2h3.6M801 320.2h3.6M801 324.7h3.6M801 329.1h3.6M819 329.1h3.6M657 333.6h3.6M771 333.6h3.6M807 333.6h3.6M813 333.6h6.6M651 338h3.6M729 338h3.6M771 338h3.6M804 338h3.6M648 342.5h3.6M732 342.5h3.6M771 342.5h3.6M738 346.9h6.6M756 346.9h15.6M774 346.9h3.6M639 351.4h3.6M795 351.4h6.6M804 351.4h3.6M630 355.9h3.6M813 355.9h9.6M621 360.3h3.6M822 360.3h3.6M618 364.8h3.6M825 364.8h3.6M618 369.2h3.6M822 369.2h3.6"/><path stroke="#0000cb" d="M681 128.5h6.6M699 146.3h3.6M720 146.3h3.6M726 146.3h3.6M765 146.3h3.6M690 150.8h3.6M714 150.8h3.6M744 150.8h3.6M759 150.8h3.6M777 150.8h3.6M786 150.8h6.6M693 159.7h3.6M804 195.4h3.6M804 199.8h3.6M801 226.6h3.6M732 231h9.6M762 231h3.6M771 231h3.6M747 235.5h3.6M774 235.5h3.6M792 235.5h3.6M717 240h6.6M795 240h3.6M699 244.4h3.6M705 248.9h6.6M681 262.2h3.6M807 266.7h3.6M696 271.2h3.6M807 271.2h3.6M681 275.6h3.6M807 275.6h3.6M807 280.1h6.6M804 284.5h3.6M813 284.5h3.6M699 289h3.6M804 289h3.6M816 293.4h3.6M675 302.4h3.6M819 302.4h3.6M669 320.2h3.6M711 320.2h3.6M819 320.2h3.6M663 324.7h6.6M819 324.7h3.6M660 329.1h3.6M717 329.1h6.6M813 329.1h6.6M804 333.6h3.6M810 333.6h3.6M726 338h3.6M645 346.9h3.6M735 346.9h3.6M771 346.9h3.6M780 351.4h15.6M801 351.4h3.6M810 355.9h3.6M624 360.3h3.6M621 364.8h3.6M822 364.8h3.6M621 369.2h3.6"/><path stroke="#0000d3" d="M681 133h3.6M687 137.4h3.6M702 150.8h6.6M711 150.8h3.6M717 150.8h3.6M756 150.8h3.6M768 150.8h3.6M780 150.8h6.6M792 150.8h3.6M690 155.3h3.6M696 155.3h3.6M732 155.3h3.6M762 155.3h3.6M798 155.3h3.6M690 159.7h3.6M801 159.7h3.6M693 164.2h3.6M729 231h3.6M741 231h3.6M750 231h3.6M768 231h3.6M786 231h6.6M798 231h3.6M696 235.5h3.6M714 235.5h3.6M753 235.5h9.6M693 240h3.6M711 240h3.6M693 244.4h3.6M681 257.8h3.6M696 275.6h3.6M681 280.1h3.6M807 284.5h6.6M813 289h3.6M804 293.4h3.6M678 297.9h3.6M816 297.9h3.6M702 302.4h3.6M819 306.8h3.6M819 311.3h3.6M672 315.7h3.6M708 315.7h3.6M819 315.7h3.6M714 324.7h3.6M804 324.7h3.6M816 324.7h3.6M804 329.1h9.6M654 338h3.6M651 342.5h3.6M648 346.9h3.6M642 351.4h3.6M747 351.4h24.6M774 351.4h6.6M633 355.9h3.6M807 355.9h3.6M627 360.3h3.6M816 360.3h6.6M624 364.8h3.6M624 369.2h3.6M816 369.2h6.6"/><path stroke="#0000db" d="M684 133h3.6M708 150.8h3.6M723 150.8h3.6M747 150.8h3.6M753 150.8h3.6M774 150.8h3.6M795 150.8h3.6M729 155.3h3.6M735 155.3h6.6M771 155.3h3.6M690 164.2h3.6M693 231h3.6M723 231h6.6M744 231h3.6M777 231h9.6M693 235.5h3.6M717 235.5h6.6M795 235.5h3.6M702 244.4h3.6M708 244.4h3.6M693 248.9h3.6M693 253.3h3.6M807 289h6.6M699 293.4h3.6M813 293.4h3.6M804 297.9h3.6M675 306.8h3.6M705 311.3h3.6M816 315.7h3.6M804 320.2h3.6M816 320.2h3.6M807 324.7h9.6M729 342.5h3.6M732 346.9h3.6M645 351.4h3.6M741 351.4h6.6M771 351.4h3.6M636 355.9h3.6M804 355.9h3.6M813 360.3h3.6M816 364.8h6.6M813 369.2h3.6"/><path stroke="#0000e3" d="M681 137.4h3.6M687 141.9h3.6M699 150.8h3.6M720 150.8h3.6M726 150.8h3.6M765 150.8h3.6M741 155.3h3.6M750 155.3h3.6M759 155.3h3.6M801 164.2h3.6M690 168.6h3.6M690 173.1h3.6M801 222.1h3.6M693 226.6h3.6M738 226.6h3.6M762 226.6h3.6M771 226.6h3.6M696 231h3.6M759 231h3.6M765 231h3.6M792 231h3.6M699 240h3.6M705 244.4h3.6M681 253.3h3.6M693 257.8h3.6M684 266.7h3.6M684 271.2h3.6M696 280.1h3.6M681 284.5h3.6M807 293.4h6.6M813 297.9h3.6M678 302.4h3.6M804 302.4h3.6M816 302.4h3.6M816 306.8h3.6M804 311.3h3.6M816 311.3h3.6M804 315.7h3.6M807 320.2h3.6M813 320.2h3.6M669 324.7h3.6M711 324.7h3.6M663 329.1h3.6M720 333.6h3.6M723 338h3.6M726 342.5h3.6M651 346.9h3.6M738 351.4h3.6M639 355.9h3.6M795 355.9h9.6M630 360.3h3.6M810 360.3h3.6M627 364.8h3.6M813 364.8h3.6M627 369.2h3.6M810 369.2h3.6"/><path stroke="#0000eb" d="M684 137.4h3.6M681 141.9h3.6M714 155.3h3.6M744 155.3h3.6M768 155.3h3.6M777 155.3h3.6M783 155.3h9.6M693 168.6h3.6M690 177.6h3.6M693 222.1h3.6M732 226.6h6.6M798 226.6h3.6M714 231h3.6M747 231h3.6M753 231h6.6M774 231h3.6M684 262.2h3.6M693 262.2h3.6M684 275.6h3.6M696 284.5h3.6M681 289h3.6M699 297.9h3.6M807 297.9h3.6M702 306.8h3.6M804 306.8h3.6M675 311.3h3.6M807 315.7h3.6M813 315.7h3.6M672 320.2h3.6M708 320.2h3.6M810 320.2h3.6M666 329.1h3.6M660 333.6h3.6M717 333.6h3.6M657 338h3.6M654 342.5h3.6M729 346.9h3.6M648 351.4h3.6M735 351.4h3.6M786 355.9h9.6M633 360.3h3.6M807 360.3h3.6M630 364.8h3.6M810 364.8h3.6M630 369.2h3.6M807 369.2h3.6"/><path stroke="#0000f3" d="M687 146.3h3.6M705 155.3h3.6M711 155.3h3.6M717 155.3h3.6M723 155.3h3.6M756 155.3h3.6M780 155.3h3.6M792 155.3h3.6M696 159.7h3.6M732 159.7h3.6M762 159.7h3.6M798 159.7h3.6M690 182h3.6M690 186.5h3.6M729 226.6h3.6M741 226.6h3.6M750 226.6h3.6M768 226.6h3.6M789 226.6h3.6M720 231h3.6M795 231h3.6M711 235.5h3.6M702 240h3.6M681 248.9h3.6M693 266.7h3.6M684 280.1h3.6M810 297.9h3.6M807 302.4h3.6M813 302.4h3.6M807 306.8h3.6M813 306.8h3.6M807 311.3h3.6M813 311.3h3.6M705 315.7h3.6M810 315.7h3.6M714 329.1h3.6M642 355.9h3.6M768 355.9h3.6M777 355.9h9.6M633 369.2h3.6M804 369.2h3.6"/><path stroke="#0000fb" d="M681 146.3h3.6M687 150.8h3.6M702 155.3h3.6M708 155.3h3.6M720 155.3h3.6M726 155.3h3.6M753 155.3h3.6M765 155.3h3.6M774 155.3h3.6M795 155.3h3.6M738 159.7h3.6M771 159.7h3.6M801 168.6h3.6M693 173.1h3.6M690 190.9h3.6M690 195.4h3.6M690 199.8h3.6M690 204.3h3.6M693 217.7h3.6M801 217.7h3.6M723 226.6h6.6M744 226.6h3.6M777 226.6h3.6M783 226.6h6.6M717 231h3.6M708 240h3.6M681 244.4h3.6M684 257.8h3.6M693 271.2h3.6M696 289h3.6M681 293.4h3.6M810 302.4h3.6M678 306.8h3.6M810 306.8h3.6M810 311.3h3.6M723 342.5h3.6M654 346.9h3.6M726 346.9h3.6M651 351.4h3.6M732 351.4h3.6M753 355.9h15.6M771 355.9h6.6M636 360.3h3.6M804 360.3h3.6M633 364.8h3.6M807 364.8h3.6M801 369.2h3.6"/><path stroke="#0004ff" d="M684 141.9h3.6M681 150.8h3.6M687 155.3h3.6M699 155.3h3.6M747 155.3h3.6M729 159.7h3.6M735 159.7h3.6M741 159.7h3.6M759 159.7h3.6M690 208.8h3.6M690 213.2h6.6M690 217.7h3.6M690 222.1h3.6M690 226.6h3.6M696 226.6h3.6M759 226.6h3.6M765 226.6h3.6M780 226.6h3.6M792 226.6h3.6M699 235.5h3.6M681 240h3.6M705 240h3.6M687 262.2h3.6M687 266.7h3.6M687 271.2h3.6M693 275.6h3.6M684 284.5h3.6M699 302.4h3.6M702 311.3h3.6M675 315.7h3.6M711 329.1h3.6M657 342.5h3.6M645 355.9h3.6M747 355.9h6.6M639 360.3h3.6M798 360.3h6.6M804 364.8h3.6M636 369.2h3.6M795 369.2h6.6"/><path stroke="#000cff" d="M681 155.3h3.6M681 159.7h3.6M687 159.7h3.6M714 159.7h3.6M750 159.7h3.6M768 159.7h3.6M789 159.7h3.6M687 164.2h3.6M693 177.6h3.6M681 199.8h3.6M681 204.3h3.6M681 208.8h3.6M681 213.2h3.6M801 213.2h3.6M681 217.7h3.6M681 222.1h3.6M732 222.1h3.6M738 222.1h3.6M762 222.1h3.6M771 222.1h3.6M798 222.1h3.6M681 226.6h3.6M756 226.6h3.6M774 226.6h3.6M681 231h3.6M690 231h3.6M681 235.5h3.6M690 235.5h3.6M690 240h3.6M684 253.3h3.6M687 257.8h3.6M687 275.6h3.6M696 293.4h3.6M705 320.2h3.6M708 324.7h3.6M669 329.1h3.6M663 333.6h3.6M723 346.9h3.6M729 351.4h3.6M741 355.9h6.6M792 360.3h6.6M636 364.8h3.6M792 369.2h3.6"/><path stroke="#0014ff" d="M684 146.3h3.6M744 159.7h3.6M756 159.7h3.6M777 159.7h3.6M783 159.7h6.6M681 164.2h3.6M696 164.2h3.6M798 164.2h3.6M681 168.6h3.6M687 168.6h3.6M681 173.1h3.6M687 173.1h3.6M801 173.1h3.6M681 177.6h3.6M687 177.6h3.6M681 182h3.6M693 182h3.6M681 186.5h3.6M681 190.9h3.6M681 195.4h3.6M693 208.8h3.6M729 222.1h3.6M735 222.1h3.6M714 226.6h3.6M720 226.6h3.6M747 226.6h3.6M753 226.6h3.6M711 231h3.6M690 244.4h3.6M690 248.9h3.6M690 253.3h3.6M690 257.8h3.6M690 262.2h3.6M690 266.7h3.6M693 280.1h3.6M684 289h3.6M681 297.9h3.6M678 311.3h3.6M672 324.7h3.6M666 333.6h3.6M660 338h3.6M720 338h3.6M657 346.9h3.6M654 351.4h3.6M726 351.4h3.6M648 355.9h3.6M738 355.9h3.6M642 360.3h3.6M786 360.3h6.6M798 364.8h6.6M639 369.2h3.6M786 369.2h6.6"/><path stroke="#001cff" d="M711 159.7h3.6M717 159.7h3.6M723 159.7h3.6M780 159.7h3.6M792 159.7h3.6M762 164.2h3.6M687 182h3.6M687 186.5h3.6M693 186.5h3.6M687 190.9h3.6M687 195.4h3.6M693 204.3h3.6M741 222.1h3.6M768 222.1h3.6M789 222.1h3.6M717 226.6h3.6M795 226.6h3.6M702 235.5h3.6M687 253.3h3.6M690 271.2h3.6M687 280.1h3.6M693 284.5h3.6M699 306.8h3.6M702 315.7h3.6M714 333.6h3.6M735 355.9h3.6M777 360.3h9.6M639 364.8h3.6M792 364.8h6.6M642 369.2h3.6M777 369.2h9.6"/><path stroke="#0024ff" d="M684 150.8h3.6M705 159.7h3.6M720 159.7h3.6M726 159.7h3.6M753 159.7h3.6M765 159.7h3.6M774 159.7h3.6M795 159.7h3.6M732 164.2h3.6M738 164.2h3.6M771 164.2h3.6M693 190.9h3.6M693 195.4h3.6M687 199.8h3.6M693 199.8h3.6M687 204.3h3.6M687 208.8h3.6M801 208.8h3.6M687 213.2h3.6M696 222.1h3.6M723 222.1h6.6M750 222.1h3.6M759 222.1h3.6M777 222.1h3.6M786 222.1h3.6M708 235.5h3.6M684 248.9h6.6M690 275.6h3.6M687 284.5h3.6M684 293.4h3.6M696 297.9h3.6M681 302.4h3.6M675 320.2h3.6M717 338h3.6M651 355.9h3.6M645 360.3h3.6M765 360.3h6.6M774 360.3h3.6M789 364.8h3.6M768 369.2h9.6"/><path stroke="#002cff" d="M684 155.3h3.6M699 159.7h6.6M708 159.7h3.6M747 159.7h3.6M729 164.2h3.6M735 164.2h3.6M801 177.6h3.6M687 217.7h3.6M687 222.1h3.6M744 222.1h3.6M765 222.1h3.6M780 222.1h6.6M792 222.1h3.6M687 226.6h3.6M699 231h3.6M705 235.5h3.6M687 244.4h3.6M690 280.1h3.6M693 289h3.6M660 342.5h3.6M720 342.5h3.6M657 351.4h3.6M723 351.4h3.6M732 355.9h3.6M756 360.3h9.6M771 360.3h3.6M642 364.8h3.6M780 364.8h9.6M645 369.2h3.6M759 369.2h9.6"/><path stroke="#0034ff" d="M684 159.7h3.6M741 164.2h3.6M759 164.2h3.6M768 164.2h3.6M801 204.3h3.6M756 222.1h3.6M774 222.1h3.6M687 231h3.6M687 235.5h3.6M687 240h3.6M684 244.4h3.6M687 289h3.6M684 297.9h3.6M699 311.3h3.6M678 315.7h3.6M705 324.7h3.6M708 329.1h3.6M711 333.6h3.6M750 360.3h6.6M774 364.8h6.6M648 369.2h3.6M753 369.2h6.6"/><path stroke="#003cff" d="M684 164.2h3.6M714 164.2h3.6M777 164.2h3.6M789 164.2h3.6M684 168.6h3.6M684 173.1h3.6M801 182h3.6M732 217.7h3.6M738 217.7h3.6M762 217.7h3.6M771 217.7h3.6M798 217.7h3.6M720 222.1h3.6M684 240h3.6M690 284.5h3.6M693 293.4h3.6M696 302.4h3.6M672 329.1h3.6M669 333.6h3.6M717 342.5h3.6M660 346.9h3.6M720 346.9h3.6M654 355.9h3.6M729 355.9h3.6M648 360.3h3.6M744 360.3h6.6M645 364.8h3.6M762 364.8h12.6M747 369.2h6.6"/><path stroke="#0044ff" d="M723 164.2h3.6M744 164.2h3.6M750 164.2h3.6M756 164.2h3.6M786 164.2h3.6M792 164.2h3.6M696 168.6h3.6M798 168.6h3.6M684 177.6h3.6M684 182h3.6M684 186.5h3.6M801 186.5h3.6M684 190.9h3.6M684 195.4h3.6M684 199.8h3.6M801 199.8h3.6M684 204.3h3.6M684 208.8h3.6M684 213.2h3.6M684 217.7h3.6M729 217.7h3.6M735 217.7h3.6M768 217.7h3.6M684 222.1h3.6M714 222.1h3.6M747 222.1h3.6M753 222.1h3.6M795 222.1h3.6M684 226.6h3.6M711 226.6h3.6M684 231h3.6M684 235.5h3.6M687 293.4h3.6M681 306.8h3.6M702 320.2h3.6M663 338h3.6M726 355.9h3.6M741 360.3h3.6M756 364.8h6.6M651 369.2h3.6M744 369.2h3.6"/><path stroke="#004cff" d="M711 164.2h3.6M717 164.2h6.6M726 164.2h3.6M765 164.2h3.6M774 164.2h3.6M780 164.2h6.6M795 164.2h3.6M762 168.6h3.6M801 190.9h3.6M801 195.4h3.6M696 217.7h3.6M741 217.7h3.6M717 222.1h3.6M702 231h3.6M690 289h3.6M684 302.4h3.6M675 324.7h3.6M717 346.9h3.6M651 360.3h3.6M738 360.3h3.6M648 364.8h3.6M750 364.8h6.6M654 369.2h3.6M738 369.2h6.6"/><path stroke="#0054ff" d="M753 164.2h3.6M732 168.6h3.6M738 168.6h3.6M771 168.6h3.6M723 217.7h6.6M759 217.7h3.6M765 217.7h3.6M777 217.7h3.6M789 217.7h3.6M708 231h3.6M687 297.9h3.6M693 297.9h3.6M696 306.8h3.6M699 315.7h3.6M678 320.2h3.6M666 338h3.6M714 338h3.6M660 351.4h3.6M720 351.4h3.6M657 355.9h3.6M723 355.9h3.6M735 360.3h3.6M747 364.8h3.6M735 369.2h3.6"/><path stroke="#005cff" d="M747 164.2h3.6M729 168.6h3.6M735 168.6h3.6M744 217.7h3.6M750 217.7h3.6M774 217.7h3.6M792 217.7h3.6M699 226.6h3.6M690 293.4h3.6M681 311.3h3.6M663 342.5h3.6M654 360.3h3.6M732 360.3h3.6M651 364.8h3.6M741 364.8h6.6M657 369.2h3.6M732 369.2h3.6"/><path stroke="#0064ff" d="M699 164.2h9.6M741 168.6h3.6M759 168.6h3.6M768 168.6h3.6M798 213.2h3.6M756 217.7h3.6M780 217.7h9.6M705 231h3.6M693 302.4h3.6M684 306.8h3.6M705 329.1h3.6M708 333.6h3.6M717 351.4h3.6M738 364.8h3.6M723 369.2h9.6"/><path stroke="#006cff" d="M708 164.2h3.6M723 168.6h3.6M777 168.6h3.6M696 173.1h3.6M738 213.2h3.6M762 213.2h3.6M771 213.2h3.6M720 217.7h3.6M795 217.7h3.6M690 297.9h3.6M687 302.4h3.6M696 311.3h3.6M702 324.7h3.6M666 342.5h3.6M714 342.5h3.6M663 346.9h3.6M729 360.3h3.6M654 364.8h3.6M735 364.8h3.6M660 369.2h3.6"/><path stroke="#0074ff" d="M714 168.6h3.6M744 168.6h3.6M756 168.6h3.6M765 168.6h3.6M774 168.6h3.6M789 168.6h6.6M798 173.1h3.6M696 213.2h3.6M732 213.2h6.6M714 217.7h3.6M747 217.7h3.6M753 217.7h3.6M711 222.1h3.6M699 320.2h3.6M675 329.1h3.6M672 333.6h3.6M711 338h3.6M714 346.9h3.6M660 355.9h3.6M657 360.3h3.6M726 360.3h3.6M732 364.8h3.6M663 369.2h6.6M717 369.2h3.6"/><path stroke="#007cff" d="M717 168.6h6.6M726 168.6h3.6M750 168.6h3.6M780 168.6h3.6M795 168.6h3.6M729 213.2h3.6M741 213.2h3.6M768 213.2h3.6M717 217.7h3.6M690 302.4h3.6M693 306.8h3.6M681 315.7h3.6M678 324.7h3.6M669 338h3.6M666 346.9h3.6M663 351.4h3.6M717 355.9h6.6M657 364.8h3.6M669 369.2h3.6M708 369.2h9.6M720 369.2h3.6"/><path stroke="#0083ff" d="M783 168.6h6.6M738 173.1h3.6M762 173.1h3.6M771 173.1h3.6M723 213.2h6.6M759 213.2h3.6M765 213.2h3.6M687 306.8h3.6M684 311.3h3.6M666 351.4h3.6M714 351.4h3.6M723 360.3h3.6M726 364.8h6.6M672 369.2h3.6M699 369.2h9.6"/><path stroke="#008bff" d="M711 168.6h3.6M753 168.6h3.6M729 173.1h9.6M774 213.2h6.6M789 213.2h6.6M702 226.6h3.6M708 226.6h3.6M696 315.7h3.6M711 342.5h3.6M660 360.3h3.6M723 364.8h3.6M675 369.2h6.6M687 369.2h12.6"/><path stroke="#0093ff" d="M699 168.6h3.6M747 168.6h3.6M741 173.1h3.6M759 173.1h3.6M768 173.1h3.6M696 177.6h3.6M798 208.8h3.6M744 213.2h3.6M756 213.2h3.6M699 222.1h3.6M690 306.8h3.6M693 311.3h3.6M702 329.1h3.6M705 333.6h3.6M711 346.9h3.6M663 355.9h6.6M660 364.8h3.6M681 369.2h6.6"/><path stroke="#009bff" d="M723 173.1h3.6M774 173.1h3.6M696 208.8h3.6M738 208.8h3.6M762 208.8h3.6M771 208.8h3.6M780 213.2h9.6M795 213.2h3.6M705 226.6h3.6M687 311.3h3.6M684 315.7h3.6M681 320.2h3.6M699 324.7h3.6M669 342.5h3.6M669 346.9h3.6M711 351.4h3.6M714 355.9h3.6M717 360.3h3.6"/><path stroke="#00a3ff" d="M702 168.6h3.6M726 173.1h3.6M765 173.1h3.6M777 173.1h3.6M792 173.1h3.6M798 177.6h3.6M732 208.8h6.6M720 213.2h3.6M750 213.2h3.6M708 338h3.6M669 351.4h3.6M720 360.3h3.6M663 364.8h6.6M717 364.8h6.6"/><path stroke="#00abff" d="M705 168.6h6.6M714 173.1h3.6M744 173.1h3.6M756 173.1h3.6M789 173.1h3.6M795 173.1h3.6M729 208.8h3.6M768 208.8h3.6M714 213.2h6.6M747 213.2h3.6M753 213.2h3.6M690 311.3h3.6M696 320.2h3.6M678 329.1h3.6M675 333.6h3.6M669 355.9h3.6M711 355.9h3.6M663 360.3h6.6M669 364.8h3.6M714 364.8h3.6"/><path stroke="#00b3ff" d="M717 173.1h6.6M780 173.1h3.6M735 177.6h6.6M762 177.6h3.6M771 177.6h3.6M696 182h3.6M723 208.8h6.6M741 208.8h3.6M765 208.8h3.6M774 208.8h3.6M711 217.7h3.6M687 315.7h3.6M693 315.7h3.6M672 338h3.6M714 360.3h3.6M711 364.8h3.6"/><path stroke="#00bbff" d="M750 173.1h3.6M783 173.1h6.6M729 177.6h6.6M768 177.6h3.6M696 204.3h3.6M798 204.3h3.6M759 208.8h3.6M777 208.8h3.6M792 208.8h3.6M684 320.2h3.6M708 342.5h3.6M708 346.9h3.6M708 351.4h3.6M669 360.3h3.6M711 360.3h3.6M672 364.8h3.6M708 364.8h3.6"/><path stroke="#00c3ff" d="M711 173.1h3.6M747 173.1h3.6M753 173.1h3.6M723 177.6h3.6M741 177.6h3.6M759 177.6h3.6M774 177.6h3.6M798 182h3.6M744 208.8h3.6M789 208.8h3.6M690 315.7h3.6M681 324.7h3.6M672 351.4h3.6M708 355.9h3.6M705 364.8h3.6"/><path stroke="#00cbff" d="M699 173.1h3.6M726 177.6h3.6M765 177.6h3.6M777 177.6h3.6M792 177.6h3.6M696 186.5h3.6M735 204.3h6.6M762 204.3h3.6M771 204.3h3.6M756 208.8h3.6M780 208.8h3.6M795 208.8h3.6M699 217.7h3.6M702 222.1h3.6M708 222.1h3.6M693 320.2h3.6M696 324.7h3.6M699 329.1h3.6M702 333.6h3.6M672 342.5h3.6M672 346.9h3.6M672 355.9h3.6M672 360.3h3.6M708 360.3h3.6M675 364.8h6.6M699 364.8h6.6"/><path stroke="#00d3ff" d="M795 177.6h3.6M696 199.8h3.6M729 204.3h6.6M765 204.3h6.6M774 204.3h3.6M720 208.8h3.6M783 208.8h3.6M687 320.2h3.6M705 338h3.6M705 355.9h3.6M687 364.8h12.6"/><path stroke="#00dbff" d="M714 177.6h3.6M744 177.6h3.6M756 177.6h3.6M735 182h6.6M762 182h3.6M771 182h3.6M798 186.5h3.6M696 190.9h3.6M696 195.4h3.6M798 199.8h3.6M723 204.3h6.6M741 204.3h3.6M714 208.8h3.6M750 208.8h3.6M786 208.8h3.6M690 320.2h3.6M678 333.6h3.6M705 351.4h3.6M705 360.3h3.6M681 364.8h6.6"/><path stroke="#00e3ff" d="M717 177.6h6.6M780 177.6h3.6M789 177.6h3.6M723 182h3.6M729 182h6.6M765 182h6.6M774 182h3.6M759 204.3h3.6M777 204.3h3.6M792 204.3h3.6M717 208.8h3.6M747 208.8h3.6M753 208.8h3.6M705 222.1h3.6M684 324.7h3.6M705 342.5h3.6M705 346.9h3.6M675 355.9h3.6M675 360.3h3.6M702 360.3h3.6"/><path stroke="#00ebff" d="M702 173.1h3.6M783 177.6h3.6M741 182h3.6M759 182h3.6M798 190.9h3.6M798 195.4h3.6M735 199.8h6.6M762 199.8h3.6M768 199.8h9.6M795 204.3h3.6M711 213.2h3.6M693 324.7h3.6M681 329.1h3.6M675 338h3.6M675 351.4h3.6M702 355.9h3.6M678 360.3h3.6M699 360.3h3.6"/><path stroke="#00f3ff" d="M708 173.1h3.6M747 177.6h3.6M753 177.6h3.6M786 177.6h3.6M726 182h3.6M777 182h3.6M792 182h6.6M735 186.5h6.6M762 186.5h3.6M771 186.5h6.6M723 199.8h3.6M729 199.8h6.6M765 199.8h3.6M744 204.3h3.6M756 204.3h3.6M687 324.7h3.6M696 329.1h3.6M675 346.9h3.6M702 351.4h3.6M678 355.9h3.6M696 360.3h3.6"/><path stroke="#00fbff" d="M705 173.1h3.6M711 177.6h3.6M750 177.6h3.6M756 182h3.6M723 186.5h3.6M729 186.5h6.6M765 186.5h6.6M735 190.9h6.6M762 190.9h3.6M771 190.9h6.6M735 195.4h6.6M762 195.4h15.6M726 199.8h3.6M741 199.8h3.6M720 204.3h3.6M780 204.3h3.6M789 204.3h3.6M699 213.2h3.6M690 324.7h3.6M699 333.6h3.6M675 342.5h3.6M699 355.9h3.6M687 360.3h9.6"/><path stroke="#04fffb" d="M699 177.6h3.6M714 182h3.6M744 182h3.6M726 186.5h3.6M741 186.5h3.6M759 186.5h3.6M792 186.5h3.6M723 190.9h3.6M729 190.9h6.6M765 190.9h6.6M723 195.4h3.6M729 195.4h6.6M759 199.8h3.6M777 199.8h3.6M792 199.8h6.6M783 204.3h3.6M702 338h3.6M702 346.9h3.6M678 351.4h3.6M696 355.9h3.6M681 360.3h6.6"/><path stroke="#0cfff3" d="M717 182h6.6M780 182h3.6M789 182h3.6M777 186.5h3.6M795 186.5h3.6M726 190.9h3.6M741 190.9h3.6M792 190.9h3.6M726 195.4h3.6M741 195.4h3.6M777 195.4h3.6M792 195.4h3.6M714 204.3h6.6M747 204.3h3.6M753 204.3h3.6M786 204.3h3.6M702 217.7h3.6M684 329.1h3.6M699 351.4h3.6M693 355.9h3.6"/><path stroke="#14ffeb" d="M783 182h3.6M756 186.5h3.6M759 190.9h3.6M777 190.9h3.6M795 190.9h3.6M759 195.4h3.6M795 195.4h3.6M744 199.8h3.6M756 199.8h3.6M750 204.3h3.6M708 217.7h3.6M687 329.1h3.6M693 329.1h3.6M678 338h3.6M702 342.5h3.6M678 346.9h3.6M681 355.9h12.6"/><path stroke="#1cffe3" d="M747 182h3.6M753 182h3.6M744 186.5h3.6M720 199.8h3.6M780 199.8h3.6M789 199.8h3.6M711 208.8h3.6M690 329.1h3.6M681 333.6h3.6M696 333.6h3.6M696 351.4h3.6"/><path stroke="#24ffdb" d="M786 182h3.6M714 186.5h9.6M780 186.5h3.6M744 190.9h3.6M756 190.9h3.6M744 195.4h3.6M756 195.4h3.6M714 199.8h6.6M678 342.5h3.6M699 346.9h3.6M681 351.4h3.6"/><path stroke="#2cffd3" d="M702 177.6h3.6M699 182h3.6M750 182h3.6M789 186.5h3.6M720 190.9h3.6M780 190.9h3.6M720 195.4h3.6M780 195.4h3.6M747 199.8h3.6M753 199.8h3.6M783 199.8h3.6M699 208.8h3.6M705 217.7h3.6M699 338h3.6M684 351.4h12.6"/><path stroke="#34ffcb" d="M711 182h3.6M747 186.5h3.6M753 186.5h3.6M783 186.5h3.6M714 190.9h6.6M789 190.9h3.6M714 195.4h6.6M789 195.4h3.6M786 199.8h3.6M684 333.6h3.6M699 342.5h3.6"/><path stroke="#3cffc3" d="M708 177.6h3.6M786 186.5h3.6M747 190.9h3.6M753 190.9h3.6M783 190.9h3.6M747 195.4h3.6M753 195.4h3.6M783 195.4h3.6M750 199.8h3.6M687 333.6h3.6M693 333.6h3.6M696 346.9h3.6"/><path stroke="#44ffbb" d="M690 333.6h3.6M681 346.9h3.6"/><path stroke="#4cffb3" d="M705 177.6h3.6M699 186.5h3.6M750 186.5h3.6M786 190.9h3.6M786 195.4h3.6M699 204.3h3.6M711 204.3h3.6M702 213.2h3.6M696 338h3.6M684 346.9h6.6M693 346.9h3.6"/><path stroke="#54ffab" d="M711 186.5h3.6M750 190.9h3.6M750 195.4h3.6M708 213.2h3.6M681 338h3.6M681 342.5h3.6M696 342.5h3.6M690 346.9h3.6"/><path stroke="#64ff9b" d="M699 190.9h3.6M699 199.8h3.6M711 199.8h3.6M684 338h3.6M693 338h3.6M684 342.5h3.6M693 342.5h3.6"/><path stroke="#6cff93" d="M702 182h3.6M711 190.9h3.6M699 195.4h3.6M711 195.4h3.6M687 338h6.6M687 342.5h6.6"/><path stroke="#74ff8b" d="M708 182h3.6M705 213.2h3.6"/><path stroke="#83ff7c" d="M702 208.8h3.6"/><path stroke="#8bff74" d="M708 208.8h3.6"/><path stroke="#93ff6c" d="M705 182h3.6"/><path stroke="#9bff64" d="M702 186.5h3.6"/><path stroke="#a3ff5c" d="M708 186.5h3.6"/><path stroke="#abff54" d="M702 204.3h3.6"/><path stroke="#b3ff4c" d="M708 204.3h3.6M705 208.8h3.6"/><path stroke="#bbff44" d="M702 190.9h3.6"/><path stroke="#c3ff3c" d="M708 190.9h3.6M702 199.8h3.6"/><path stroke="#cbff34" d="M705 186.5h3.6M702 195.4h3.6M708 199.8h3.6"/><path stroke="#d3ff2c" d="M708 195.4h3.6"/><path stroke="#e3ff1c" d="M705 204.3h3.6"/><path stroke="#ebff14" d="M705 190.9h3.6"/><path stroke="#fbff04" d="M705 199.8h3.6"/><path stroke="#fffb00" d="M705 195.4h3.6"/></g></g><line x1="678.0" y1="105.39999999999999" x2="678.0" y2="367.0" stroke="#a4a4ff" stroke-width="2" stroke-dasharray="2,2.4"/><clipPath id="cp02"><polygon points="962.9,104.3 1342.4,104.3 1342.4,362.6 1327.7,362.6 1327.7,367.0 962.9,367.0"/></clipPath><g clip-path="url(#cp02)"><g fill="none" stroke-width="5.16" filter="url(#hb)"><rect x="957.0" y="99.5" width="393.0" height="271.9" fill="#00009b"/><path stroke="#0000a3" d="M957 101.8h6.6M972 101.8h6.6M996 101.8h3.6M1011 101.8h6.6M1050 101.8h6.6M1062 101.8h3.6M1095 101.8h3.6M1101 101.8h3.6M1125 101.8h3.6M1137 101.8h3.6M1146 101.8h3.6M1191 101.8h3.6M1230 101.8h3.6M1251 101.8h3.6M1257 101.8h3.6M1269 101.8h6.6M1296 101.8h3.6M1338 101.8h3.6M957 106.2h3.6M972 106.2h6.6M996 106.2h3.6M1011 106.2h6.6M1053 106.2h3.6M1062 106.2h3.6M1095 106.2h3.6M1101 106.2h3.6M1137 106.2h3.6M1143 106.2h3.6M1191 106.2h3.6M1227 106.2h6.6M1251 106.2h3.6M1257 106.2h3.6M1266 106.2h9.6M1296 106.2h3.6M1338 106.2h3.6M957 110.7h3.6M975 110.7h3.6M996 110.7h3.6M1011 110.7h6.6M1053 110.7h3.6M1062 110.7h3.6M1095 110.7h3.6M1101 110.7h6.6M1137 110.7h3.6M1143 110.7h3.6M1149 110.7h3.6M1191 110.7h3.6M1227 110.7h6.6M1251 110.7h3.6M1257 110.7h3.6M1266 110.7h9.6M1296 110.7h3.6M1338 110.7h3.6M957 115.1h3.6M975 115.1h3.6M996 115.1h3.6M1011 115.1h6.6M1062 115.1h3.6M1095 115.1h3.6M1101 115.1h9.6M1137 115.1h3.6M1143 115.1h3.6M1149 115.1h3.6M1191 115.1h3.6M1227 115.1h6.6M1251 115.1h3.6M1257 115.1h3.6M1266 115.1h9.6M1296 115.1h3.6M1329 115.1h3.6M1338 115.1h3.6M957 119.6h3.6M975 119.6h3.6M1008 119.6h6.6M1062 119.6h3.6M1095 119.6h3.6M1104 119.6h6.6M1137 119.6h3.6M1143 119.6h3.6M1149 119.6h3.6M1167 119.6h3.6M1185 119.6h9.6M1227 119.6h6.6M1251 119.6h3.6M1257 119.6h3.6M1266 119.6h6.6M1296 119.6h3.6M1329 119.6h3.6M1338 119.6h3.6M957 124.1h3.6M975 124.1h3.6M1008 124.1h6.6M1062 124.1h3.6M1068 124.1h3.6M1092 124.1h6.6M1110 124.1h3.6M1137 124.1h3.6M1143 124.1h3.6M1149 124.1h3.6M1167 124.1h3.6M1185 124.1h9.6M1227 124.1h6.6M1236 124.1h3.6M1251 124.1h3.6M1257 124.1h3.6M1266 124.1h6.6M1296 124.1h3.6M1329 124.1h3.6M1338 124.1h3.6M957 128.5h3.6M975 128.5h3.6M1008 128.5h6.6M1020 128.5h3.6M1047 128.5h3.6M1062 128.5h3.6M1068 128.5h3.6M1092 128.5h6.6M1110 128.5h3.6M1128 128.5h3.6M1137 128.5h3.6M1143 128.5h3.6M1167 128.5h3.6M1182 128.5h9.6M1227 128.5h6.6M1236 128.5h3.6M1251 128.5h3.6M1257 128.5h3.6M1266 128.5h6.6M1296 128.5h3.6M1329 128.5h3.6M1338 128.5h3.6M957 133h3.6M975 133h3.6M1008 133h6.6M1020 133h3.6M1047 133h3.6M1062 133h3.6M1068 133h3.6M1092 133h6.6M1113 133h3.6M1128 133h3.6M1140 133h3.6M1152 133h9.6M1176 133h3.6M1182 133h3.6M1197 133h3.6M1203 133h3.6M1209 133h12.6M1227 133h6.6M1236 133h3.6M1251 133h3.6M1257 133h3.6M1266 133h6.6M1296 133h3.6M1329 133h3.6M1335 133h6.6M957 137.4h3.6M975 137.4h3.6M1008 137.4h6.6M1020 137.4h3.6M1047 137.4h3.6M1062 137.4h3.6M1068 137.4h3.6M1092 137.4h6.6M1113 137.4h3.6M1158 137.4h3.6M1170 137.4h6.6M1179 137.4h3.6M1206 137.4h6.6M1215 137.4h3.6M1227 137.4h6.6M1236 137.4h3.6M1251 137.4h3.6M1257 137.4h3.6M1266 137.4h6.6M1296 137.4h3.6M1329 137.4h3.6M1335 137.4h6.6M957 141.9h3.6M972 141.9h6.6M1008 141.9h6.6M1017 141.9h6.6M1047 141.9h3.6M1062 141.9h3.6M1068 141.9h3.6M1092 141.9h3.6M1221 141.9h3.6M1227 141.9h6.6M1239 141.9h3.6M1251 141.9h3.6M1257 141.9h3.6M1266 141.9h6.6M1296 141.9h3.6M1329 141.9h3.6M1338 141.9h3.6M972 146.3h6.6M1008 146.3h6.6M1017 146.3h9.6M1047 146.3h3.6M1062 146.3h3.6M1068 146.3h3.6M1227 146.3h6.6M1239 146.3h3.6M1251 146.3h3.6M1257 146.3h3.6M1266 146.3h6.6M1284 146.3h3.6M1296 146.3h3.6M1329 146.3h3.6M1338 146.3h3.6M972 150.8h6.6M1011 150.8h15.6M1047 150.8h3.6M1062 150.8h3.6M1068 150.8h3.6M1227 150.8h6.6M1239 150.8h3.6M1251 150.8h3.6M1257 150.8h3.6M1266 150.8h6.6M1284 150.8h3.6M1296 150.8h3.6M1329 150.8h3.6M1338 150.8h3.6M972 155.3h6.6M1011 155.3h9.6M1023 155.3h3.6M1047 155.3h3.6M1056 155.3h3.6M1062 155.3h3.6M1068 155.3h3.6M1227 155.3h6.6M1239 155.3h3.6M1251 155.3h3.6M1257 155.3h3.6M1266 155.3h9.6M1284 155.3h3.6M1296 155.3h3.6M1329 155.3h3.6M1338 155.3h3.6M972 159.7h3.6M1011 159.7h9.6M1023 159.7h3.6M1047 159.7h3.6M1056 159.7h3.6M1062 159.7h3.6M1068 159.7h3.6M1224 159.7h9.6M1239 159.7h3.6M1251 159.7h3.6M1257 159.7h3.6M1266 159.7h9.6M1284 159.7h3.6M1296 159.7h3.6M1329 159.7h3.6M1338 159.7h3.6M987 164.2h3.6M1011 164.2h9.6M1023 164.2h3.6M1047 164.2h3.6M1056 164.2h3.6M1062 164.2h3.6M1068 164.2h3.6M1224 164.2h9.6M1239 164.2h3.6M1251 164.2h3.6M1257 164.2h3.6M1266 164.2h9.6M1284 164.2h3.6M1296 164.2h3.6M1320 164.2h3.6M1329 164.2h3.6M1338 164.2h3.6M987 168.6h3.6M1011 168.6h9.6M1023 168.6h3.6M1047 168.6h3.6M1056 168.6h3.6M1062 168.6h3.6M1068 168.6h3.6M1227 168.6h6.6M1239 168.6h3.6M1251 168.6h3.6M1257 168.6h3.6M1266 168.6h9.6M1296 168.6h3.6M1320 168.6h3.6M1329 168.6h3.6M1338 168.6h3.6M987 173.1h6.6M1011 173.1h9.6M1023 173.1h3.6M1047 173.1h3.6M1056 173.1h3.6M1062 173.1h3.6M1068 173.1h3.6M1089 173.1h3.6M1227 173.1h6.6M1239 173.1h6.6M1257 173.1h3.6M1266 173.1h9.6M1296 173.1h3.6M1320 173.1h3.6M1329 173.1h3.6M1338 173.1h6.6M987 177.6h6.6M1011 177.6h9.6M1047 177.6h3.6M1056 177.6h3.6M1062 177.6h3.6M1068 177.6h3.6M1089 177.6h3.6M1227 177.6h6.6M1242 177.6h3.6M1257 177.6h3.6M1266 177.6h3.6M1272 177.6h3.6M1296 177.6h3.6M1320 177.6h3.6M1329 177.6h3.6M1338 177.6h6.6M987 182h6.6M1011 182h9.6M1044 182h6.6M1056 182h3.6M1062 182h3.6M1068 182h3.6M1089 182h3.6M1230 182h3.6M1242 182h3.6M1257 182h3.6M1266 182h3.6M1272 182h3.6M1296 182h3.6M1320 182h3.6M1329 182h3.6M1338 182h6.6M987 186.5h6.6M1011 186.5h9.6M1044 186.5h6.6M1056 186.5h3.6M1062 186.5h3.6M1068 186.5h6.6M1080 186.5h3.6M1089 186.5h3.6M1257 186.5h3.6M1266 186.5h3.6M1296 186.5h3.6M1320 186.5h3.6M1329 186.5h3.6M1338 186.5h6.6M987 190.9h6.6M1011 190.9h9.6M1044 190.9h6.6M1059 190.9h6.6M1071 190.9h3.6M1080 190.9h3.6M1089 190.9h3.6M1233 190.9h3.6M1254 190.9h6.6M1266 190.9h3.6M1296 190.9h3.6M1320 190.9h3.6M1329 190.9h3.6M1338 190.9h6.6M987 195.4h6.6M1011 195.4h9.6M1044 195.4h6.6M1059 195.4h6.6M1071 195.4h3.6M1080 195.4h3.6M1089 195.4h3.6M1233 195.4h3.6M1254 195.4h6.6M1266 195.4h3.6M1290 195.4h3.6M1296 195.4h3.6M1329 195.4h3.6M1338 195.4h6.6M987 199.8h6.6M1011 199.8h9.6M1044 199.8h9.6M1059 199.8h6.6M1071 199.8h3.6M1080 199.8h3.6M1089 199.8h3.6M1233 199.8h3.6M1254 199.8h3.6M1266 199.8h3.6M1290 199.8h3.6M1296 199.8h3.6M1329 199.8h3.6M1338 199.8h6.6M960 204.3h3.6M1011 204.3h9.6M1044 204.3h9.6M1059 204.3h3.6M1068 204.3h6.6M1077 204.3h6.6M1089 204.3h3.6M1233 204.3h3.6M1239 204.3h3.6M1254 204.3h3.6M1266 204.3h3.6M1290 204.3h3.6M1296 204.3h3.6M1338 204.3h3.6M960 208.8h3.6M1011 208.8h9.6M1044 208.8h9.6M1059 208.8h3.6M1068 208.8h6.6M1077 208.8h3.6M1089 208.8h3.6M1233 208.8h3.6M1239 208.8h3.6M1254 208.8h3.6M1290 208.8h3.6M1296 208.8h3.6M1338 208.8h3.6M960 213.2h3.6M1011 213.2h9.6M1044 213.2h9.6M1059 213.2h3.6M1068 213.2h6.6M1077 213.2h3.6M1089 213.2h3.6M1233 213.2h9.6M1254 213.2h3.6M1290 213.2h3.6M1296 213.2h3.6M1338 213.2h3.6M960 217.7h3.6M1011 217.7h9.6M1044 217.7h9.6M1059 217.7h3.6M1068 217.7h6.6M1077 217.7h3.6M1089 217.7h3.6M1233 217.7h9.6M1254 217.7h3.6M1290 217.7h3.6M1296 217.7h3.6M1341 217.7h3.6M960 222.1h3.6M1011 222.1h9.6M1044 222.1h9.6M1059 222.1h3.6M1068 222.1h6.6M1077 222.1h3.6M1089 222.1h3.6M1233 222.1h9.6M1254 222.1h3.6M1290 222.1h3.6M1296 222.1h3.6M1341 222.1h3.6M960 226.6h3.6M1011 226.6h12.6M1044 226.6h9.6M1059 226.6h3.6M1068 226.6h6.6M1077 226.6h3.6M1089 226.6h3.6M1233 226.6h9.6M1290 226.6h3.6M1341 226.6h3.6M960 231h3.6M1011 231h6.6M1020 231h3.6M1044 231h9.6M1059 231h3.6M1065 231h3.6M1071 231h3.6M1077 231h3.6M1089 231h3.6M1236 231h6.6M1290 231h3.6M1341 231h3.6M960 235.5h3.6M1011 235.5h6.6M1020 235.5h3.6M1032 235.5h3.6M1044 235.5h9.6M1059 235.5h3.6M1065 235.5h3.6M1071 235.5h3.6M1077 235.5h3.6M1236 235.5h6.6M1290 235.5h3.6M1341 235.5h3.6M960 240h3.6M1011 240h6.6M1020 240h3.6M1032 240h3.6M1047 240h6.6M1059 240h3.6M1065 240h3.6M1071 240h3.6M1077 240h6.6M1236 240h3.6M1242 240h3.6M1290 240h6.6M1341 240h3.6M993 244.4h3.6M1011 244.4h6.6M1020 244.4h3.6M1032 244.4h3.6M1047 244.4h6.6M1059 244.4h3.6M1065 244.4h3.6M1071 244.4h3.6M1080 244.4h3.6M1236 244.4h3.6M1242 244.4h3.6M1290 244.4h6.6M1302 244.4h3.6M1341 244.4h3.6M993 248.9h3.6M1008 248.9h9.6M1020 248.9h3.6M1032 248.9h3.6M1047 248.9h3.6M1059 248.9h3.6M1065 248.9h3.6M1071 248.9h3.6M1080 248.9h3.6M1155 248.9h6.6M1170 248.9h3.6M1179 248.9h3.6M1194 248.9h3.6M1203 248.9h3.6M1236 248.9h3.6M1242 248.9h3.6M1290 248.9h6.6M1302 248.9h3.6M993 253.3h3.6M1008 253.3h9.6M1020 253.3h3.6M1032 253.3h3.6M1047 253.3h3.6M1059 253.3h3.6M1065 253.3h3.6M1071 253.3h3.6M1080 253.3h3.6M1137 253.3h9.6M1152 253.3h3.6M1161 253.3h12.6M1176 253.3h18.6M1197 253.3h9.6M1236 253.3h3.6M1242 253.3h3.6M1290 253.3h6.6M1302 253.3h3.6M993 257.8h3.6M1008 257.8h9.6M1020 257.8h3.6M1032 257.8h3.6M1047 257.8h3.6M1059 257.8h3.6M1065 257.8h3.6M1071 257.8h3.6M1080 257.8h3.6M1119 257.8h6.6M1137 257.8h3.6M1146 257.8h3.6M1176 257.8h12.6M1200 257.8h3.6M1206 257.8h3.6M1290 257.8h6.6M1302 257.8h3.6M993 262.2h3.6M1008 262.2h9.6M1047 262.2h3.6M1059 262.2h3.6M1071 262.2h3.6M1119 262.2h9.6M1131 262.2h3.6M1137 262.2h3.6M1146 262.2h3.6M1182 262.2h3.6M1206 262.2h6.6M1239 262.2h3.6M1290 262.2h6.6M1302 262.2h3.6M993 266.7h3.6M1008 266.7h9.6M1059 266.7h3.6M1071 266.7h3.6M1092 266.7h6.6M1122 266.7h6.6M1131 266.7h9.6M1146 266.7h6.6M1182 266.7h3.6M1209 266.7h3.6M1239 266.7h3.6M1290 266.7h6.6M1302 266.7h3.6M1308 266.7h3.6M993 271.2h3.6M1008 271.2h9.6M1059 271.2h3.6M1071 271.2h3.6M1092 271.2h6.6M1122 271.2h6.6M1131 271.2h6.6M1146 271.2h6.6M1209 271.2h3.6M1239 271.2h3.6M1290 271.2h3.6M1302 271.2h3.6M1308 271.2h3.6M1008 275.6h9.6M1059 275.6h3.6M1071 275.6h3.6M1092 275.6h6.6M1122 275.6h6.6M1131 275.6h6.6M1146 275.6h6.6M1179 275.6h3.6M1209 275.6h3.6M1242 275.6h3.6M1287 275.6h6.6M1302 275.6h3.6M1308 275.6h3.6M1008 280.1h3.6M1014 280.1h3.6M1059 280.1h3.6M1071 280.1h3.6M1092 280.1h6.6M1122 280.1h6.6M1131 280.1h6.6M1146 280.1h6.6M1176 280.1h6.6M1209 280.1h3.6M1242 280.1h3.6M1287 280.1h6.6M1302 280.1h3.6M1308 280.1h3.6M957 284.5h3.6M1008 284.5h3.6M1014 284.5h3.6M1053 284.5h3.6M1059 284.5h3.6M1071 284.5h3.6M1092 284.5h3.6M1125 284.5h3.6M1131 284.5h6.6M1146 284.5h6.6M1176 284.5h6.6M1209 284.5h3.6M1242 284.5h3.6M1287 284.5h6.6M1302 284.5h3.6M1308 284.5h6.6M957 289h3.6M1002 289h3.6M1014 289h3.6M1053 289h3.6M1059 289h3.6M1071 289h3.6M1092 289h3.6M1131 289h3.6M1149 289h3.6M1176 289h6.6M1209 289h3.6M1245 289h3.6M1263 289h3.6M1287 289h6.6M1302 289h3.6M1308 289h12.6M1323 289h3.6M957 293.4h6.6M1002 293.4h3.6M1014 293.4h3.6M1023 293.4h3.6M1053 293.4h9.6M1071 293.4h3.6M1131 293.4h3.6M1149 293.4h3.6M1176 293.4h6.6M1203 293.4h3.6M1209 293.4h3.6M1245 293.4h3.6M1263 293.4h3.6M1287 293.4h6.6M1302 293.4h18.6M1323 293.4h9.6M960 297.9h9.6M1002 297.9h3.6M1014 297.9h3.6M1023 297.9h3.6M1053 297.9h9.6M1089 297.9h3.6M1131 297.9h3.6M1149 297.9h3.6M1176 297.9h6.6M1203 297.9h3.6M1248 297.9h3.6M1263 297.9h3.6M1287 297.9h6.6M1299 297.9h9.6M1314 297.9h3.6M1323 297.9h15.6M963 302.4h9.6M1002 302.4h6.6M1014 302.4h3.6M1023 302.4h3.6M1053 302.4h9.6M1131 302.4h3.6M1176 302.4h6.6M1203 302.4h3.6M1251 302.4h6.6M1260 302.4h9.6M1287 302.4h6.6M1299 302.4h9.6M1326 302.4h18.6M966 306.8h6.6M1005 306.8h3.6M1014 306.8h3.6M1023 306.8h3.6M1053 306.8h6.6M1086 306.8h3.6M1134 306.8h3.6M1173 306.8h9.6M1203 306.8h3.6M1251 306.8h12.6M1266 306.8h3.6M1287 306.8h6.6M1299 306.8h9.6M1329 306.8h21.6M966 311.3h9.6M1005 311.3h3.6M1014 311.3h3.6M1023 311.3h3.6M1053 311.3h6.6M1083 311.3h3.6M1134 311.3h3.6M1173 311.3h9.6M1197 311.3h9.6M1251 311.3h12.6M1266 311.3h6.6M1287 311.3h6.6M1299 311.3h9.6M1329 311.3h21.6M966 315.7h9.6M1005 315.7h6.6M1014 315.7h3.6M1023 315.7h3.6M1053 315.7h6.6M1080 315.7h3.6M1137 315.7h3.6M1173 315.7h9.6M1191 315.7h12.6M1254 315.7h9.6M1266 315.7h6.6M1287 315.7h6.6M1302 315.7h6.6M1329 315.7h21.6M966 320.2h9.6M996 320.2h3.6M1008 320.2h3.6M1017 320.2h15.6M1053 320.2h6.6M1077 320.2h3.6M1140 320.2h3.6M1173 320.2h9.6M1188 320.2h15.6M1254 320.2h6.6M1266 320.2h6.6M1287 320.2h6.6M1302 320.2h9.6M1326 320.2h24.6M960 324.7h18.6M996 324.7h6.6M1008 324.7h3.6M1017 324.7h6.6M1026 324.7h6.6M1035 324.7h6.6M1053 324.7h6.6M1071 324.7h6.6M1143 324.7h6.6M1173 324.7h9.6M1185 324.7h18.6M1257 324.7h3.6M1266 324.7h6.6M1287 324.7h6.6M1302 324.7h18.6M1323 324.7h27.6M960 329.1h27.6M996 329.1h6.6M1008 329.1h3.6M1017 329.1h3.6M1029 329.1h3.6M1035 329.1h12.6M1053 329.1h6.6M1068 329.1h3.6M1146 329.1h6.6M1173 329.1h9.6M1185 329.1h18.6M1254 329.1h9.6M1266 329.1h6.6M1287 329.1h6.6M1308 329.1h12.6M1323 329.1h27.6M957 333.6h30.6M996 333.6h6.6M1035 333.6h15.6M1053 333.6h15.6M1152 333.6h3.6M1173 333.6h9.6M1185 333.6h18.6M1254 333.6h9.6M1266 333.6h3.6M1287 333.6h6.6M957 338h3.6M963 338h24.6M999 338h3.6M1038 338h24.6M1155 338h6.6M1173 338h9.6M1185 338h18.6M1254 338h9.6M1266 338h3.6M1287 338h6.6M957 342.5h3.6M966 342.5h21.6M1038 342.5h18.6M1158 342.5h9.6M1173 342.5h30.6M1251 342.5h18.6M1287 342.5h6.6M957 346.9h3.6M966 346.9h21.6M999 346.9h3.6M1041 346.9h12.6M1167 346.9h6.6M1182 346.9h9.6M1251 346.9h15.6M1287 346.9h6.6M957 351.4h3.6M969 351.4h18.6M999 351.4h3.6M1254 351.4h12.6M1287 351.4h6.6M1320 351.4h3.6M957 355.9h3.6M972 355.9h15.6M996 355.9h6.6M1257 355.9h6.6M1266 355.9h3.6M1287 355.9h6.6M1320 355.9h3.6M978 360.3h9.6M996 360.3h6.6M1008 360.3h3.6M1266 360.3h9.6M1287 360.3h6.6M1320 360.3h3.6M987 364.8h3.6M996 364.8h6.6M1005 364.8h6.6M1266 364.8h12.6M1287 364.8h6.6M1320 364.8h3.6M987 369.2h3.6M996 369.2h15.6M1266 369.2h9.6M1287 369.2h6.6M1320 369.2h3.6"/><path stroke="#0000ab" d="M1068 101.8h3.6M1098 101.8h3.6M1116 101.8h9.6M1161 101.8h3.6M1194 101.8h3.6M1200 101.8h3.6M1284 101.8h3.6M960 106.2h3.6M1050 106.2h3.6M1068 106.2h3.6M1098 106.2h3.6M1116 106.2h12.6M1146 106.2h3.6M1161 106.2h3.6M1194 106.2h3.6M1200 106.2h3.6M1284 106.2h3.6M960 110.7h3.6M972 110.7h3.6M1050 110.7h3.6M1068 110.7h3.6M1116 110.7h12.6M1146 110.7h3.6M1161 110.7h3.6M1194 110.7h3.6M1200 110.7h3.6M1284 110.7h3.6M960 115.1h3.6M972 115.1h3.6M1050 115.1h6.6M1068 115.1h3.6M1116 115.1h12.6M1146 115.1h3.6M1161 115.1h3.6M1194 115.1h3.6M1200 115.1h3.6M1284 115.1h3.6M960 119.6h3.6M972 119.6h3.6M1014 119.6h3.6M1050 119.6h6.6M1068 119.6h3.6M1101 119.6h3.6M1116 119.6h12.6M1146 119.6h3.6M1161 119.6h3.6M1194 119.6h3.6M1200 119.6h3.6M1272 119.6h3.6M1284 119.6h3.6M960 124.1h3.6M972 124.1h3.6M1014 124.1h3.6M1050 124.1h6.6M1101 124.1h9.6M1116 124.1h3.6M1122 124.1h6.6M1146 124.1h3.6M1161 124.1h3.6M1194 124.1h3.6M1200 124.1h3.6M1272 124.1h3.6M1284 124.1h3.6M960 128.5h3.6M972 128.5h3.6M1014 128.5h3.6M1050 128.5h6.6M1107 128.5h3.6M1122 128.5h6.6M1149 128.5h3.6M1161 128.5h3.6M1191 128.5h3.6M1200 128.5h3.6M1272 128.5h3.6M1284 128.5h3.6M960 133h3.6M972 133h3.6M1014 133h3.6M1050 133h6.6M1110 133h3.6M1122 133h3.6M1137 133h3.6M1143 133h3.6M1161 133h3.6M1167 133h3.6M1185 133h9.6M1272 133h3.6M1284 133h3.6M960 137.4h3.6M972 137.4h3.6M1014 137.4h3.6M1050 137.4h6.6M1110 137.4h3.6M1122 137.4h3.6M1128 137.4h3.6M1137 137.4h6.6M1152 137.4h6.6M1176 137.4h3.6M1182 137.4h6.6M1197 137.4h3.6M1203 137.4h3.6M1212 137.4h3.6M1218 137.4h3.6M1272 137.4h3.6M1284 137.4h3.6M960 141.9h3.6M1014 141.9h3.6M1050 141.9h6.6M1095 141.9h3.6M1113 141.9h3.6M1170 141.9h6.6M1206 141.9h3.6M1215 141.9h3.6M1236 141.9h3.6M1272 141.9h3.6M1284 141.9h3.6M960 146.3h3.6M1014 146.3h3.6M1050 146.3h6.6M1092 146.3h6.6M1221 146.3h3.6M1236 146.3h3.6M1272 146.3h3.6M960 150.8h3.6M1008 150.8h3.6M1050 150.8h6.6M1092 150.8h6.6M1236 150.8h3.6M1272 150.8h3.6M960 155.3h3.6M1008 155.3h3.6M1020 155.3h3.6M1050 155.3h6.6M1092 155.3h3.6M1236 155.3h3.6M960 159.7h3.6M1008 159.7h3.6M1020 159.7h3.6M1050 159.7h6.6M1092 159.7h3.6M960 164.2h3.6M1008 164.2h3.6M1020 164.2h3.6M1050 164.2h6.6M1092 164.2h3.6M960 168.6h3.6M1008 168.6h3.6M1020 168.6h3.6M1050 168.6h6.6M1224 168.6h3.6M1254 168.6h3.6M960 173.1h3.6M1008 173.1h3.6M1020 173.1h3.6M1050 173.1h6.6M1224 173.1h3.6M1254 173.1h3.6M960 177.6h3.6M1008 177.6h3.6M1020 177.6h6.6M1050 177.6h6.6M1239 177.6h3.6M1254 177.6h3.6M960 182h3.6M1008 182h3.6M1020 182h6.6M1050 182h6.6M1227 182h3.6M1239 182h3.6M1254 182h3.6M960 186.5h3.6M1008 186.5h3.6M1023 186.5h3.6M1050 186.5h6.6M1227 186.5h6.6M1239 186.5h6.6M1254 186.5h3.6M960 190.9h3.6M1023 190.9h3.6M1050 190.9h9.6M1068 190.9h3.6M1227 190.9h6.6M1239 190.9h6.6M960 195.4h3.6M1020 195.4h6.6M1050 195.4h9.6M1068 195.4h3.6M1227 195.4h6.6M1236 195.4h9.6M1320 195.4h3.6M960 199.8h3.6M1020 199.8h6.6M1053 199.8h6.6M1068 199.8h3.6M1227 199.8h6.6M1236 199.8h9.6M1320 199.8h3.6M987 204.3h6.6M1020 204.3h6.6M1053 204.3h6.6M1230 204.3h3.6M1236 204.3h3.6M1320 204.3h3.6M1341 204.3h3.6M987 208.8h6.6M1008 208.8h3.6M1020 208.8h6.6M1053 208.8h3.6M1080 208.8h3.6M1230 208.8h3.6M1236 208.8h3.6M1320 208.8h3.6M1341 208.8h3.6M987 213.2h6.6M1008 213.2h3.6M1020 213.2h3.6M1065 213.2h3.6M1080 213.2h3.6M1320 213.2h3.6M1341 213.2h3.6M987 217.7h6.6M1008 217.7h3.6M1020 217.7h3.6M1065 217.7h3.6M1080 217.7h3.6M1320 217.7h3.6M987 222.1h6.6M1008 222.1h3.6M1020 222.1h3.6M1065 222.1h3.6M1080 222.1h3.6M1224 222.1h3.6M1293 222.1h3.6M1320 222.1h3.6M987 226.6h3.6M1008 226.6h3.6M1065 226.6h3.6M1080 226.6h3.6M1224 226.6h3.6M1242 226.6h3.6M1293 226.6h3.6M1320 226.6h3.6M987 231h3.6M1008 231h3.6M1080 231h3.6M1224 231h3.6M1233 231h3.6M1242 231h3.6M1293 231h3.6M987 235.5h3.6M1008 235.5h3.6M1053 235.5h3.6M1080 235.5h3.6M1224 235.5h3.6M1233 235.5h3.6M1242 235.5h3.6M1293 235.5h3.6M987 240h3.6M1008 240h3.6M1053 240h3.6M1221 240h6.6M1233 240h3.6M1008 244.4h3.6M1053 244.4h3.6M1155 244.4h6.6M1170 244.4h3.6M1179 244.4h3.6M1194 244.4h3.6M1221 244.4h3.6M1053 248.9h3.6M1092 248.9h3.6M1119 248.9h3.6M1137 248.9h12.6M1152 248.9h3.6M1161 248.9h9.6M1176 248.9h3.6M1182 248.9h12.6M1197 248.9h6.6M1206 248.9h6.6M1221 248.9h3.6M1053 253.3h3.6M1092 253.3h6.6M1119 253.3h9.6M1146 253.3h3.6M1206 253.3h6.6M1221 253.3h3.6M1023 257.8h3.6M1053 257.8h3.6M1092 257.8h6.6M1125 257.8h3.6M1131 257.8h6.6M1149 257.8h3.6M1209 257.8h3.6M1221 257.8h3.6M1236 257.8h3.6M1023 262.2h3.6M1032 262.2h3.6M1053 262.2h3.6M1092 262.2h6.6M1128 262.2h3.6M1134 262.2h3.6M1149 262.2h3.6M1236 262.2h3.6M1023 266.7h3.6M1032 266.7h3.6M1053 266.7h6.6M1119 266.7h3.6M1128 266.7h3.6M1173 266.7h3.6M1206 266.7h3.6M1023 271.2h3.6M1032 271.2h3.6M1053 271.2h6.6M1119 271.2h3.6M1128 271.2h3.6M1173 271.2h3.6M1206 271.2h3.6M993 275.6h3.6M1023 275.6h3.6M1032 275.6h3.6M1053 275.6h6.6M1128 275.6h3.6M1173 275.6h3.6M1206 275.6h3.6M1239 275.6h3.6M993 280.1h3.6M1011 280.1h3.6M1023 280.1h3.6M1032 280.1h3.6M1053 280.1h6.6M1128 280.1h3.6M1173 280.1h3.6M1206 280.1h3.6M993 284.5h3.6M1011 284.5h3.6M1023 284.5h3.6M1032 284.5h3.6M1056 284.5h3.6M1095 284.5h3.6M1122 284.5h3.6M1128 284.5h3.6M1173 284.5h3.6M1206 284.5h3.6M987 289h3.6M993 289h3.6M1011 289h3.6M1023 289h3.6M1032 289h3.6M1056 289h3.6M1122 289h9.6M1173 289h3.6M1206 289h3.6M1242 289h3.6M987 293.4h3.6M993 293.4h3.6M1011 293.4h3.6M1032 293.4h3.6M1092 293.4h3.6M1125 293.4h6.6M1173 293.4h3.6M1206 293.4h3.6M957 297.9h3.6M987 297.9h3.6M1011 297.9h3.6M1032 297.9h3.6M1173 297.9h3.6M1209 297.9h3.6M1245 297.9h3.6M1308 297.9h6.6M1317 297.9h3.6M957 302.4h6.6M987 302.4h3.6M1011 302.4h3.6M1032 302.4h3.6M1089 302.4h3.6M1173 302.4h3.6M1248 302.4h3.6M1308 302.4h12.6M1323 302.4h3.6M960 306.8h6.6M987 306.8h3.6M1002 306.8h3.6M1011 306.8h3.6M1032 306.8h3.6M1131 306.8h3.6M1248 306.8h3.6M1263 306.8h3.6M1308 306.8h12.6M1323 306.8h6.6M960 311.3h6.6M987 311.3h3.6M1002 311.3h3.6M1011 311.3h3.6M1032 311.3h3.6M1086 311.3h3.6M1248 311.3h3.6M1263 311.3h3.6M1308 311.3h12.6M1323 311.3h6.6M960 315.7h6.6M987 315.7h3.6M1002 315.7h3.6M1032 315.7h3.6M1083 315.7h3.6M1134 315.7h3.6M1203 315.7h3.6M1251 315.7h3.6M1263 315.7h3.6M1308 315.7h12.6M1323 315.7h6.6M960 320.2h6.6M987 320.2h3.6M1005 320.2h3.6M1014 320.2h3.6M1032 320.2h3.6M1080 320.2h3.6M1137 320.2h3.6M1203 320.2h3.6M1251 320.2h3.6M1260 320.2h6.6M1311 320.2h9.6M1323 320.2h3.6M957 324.7h3.6M987 324.7h3.6M1005 324.7h3.6M1014 324.7h3.6M1023 324.7h3.6M1032 324.7h3.6M1077 324.7h3.6M1140 324.7h3.6M1203 324.7h3.6M1251 324.7h6.6M1260 324.7h6.6M957 329.1h3.6M987 329.1h3.6M1005 329.1h3.6M1014 329.1h3.6M1020 329.1h9.6M1032 329.1h3.6M1071 329.1h3.6M1143 329.1h3.6M1203 329.1h3.6M1251 329.1h3.6M1263 329.1h3.6M1008 333.6h3.6M1017 333.6h15.6M1068 333.6h3.6M1149 333.6h3.6M1203 333.6h3.6M1251 333.6h3.6M1263 333.6h3.6M996 338h3.6M1008 338h3.6M1017 338h6.6M1026 338h6.6M1035 338h3.6M1062 338h3.6M1152 338h3.6M1203 338h3.6M1248 338h6.6M1263 338h3.6M1320 338h3.6M996 342.5h6.6M1008 342.5h3.6M1017 342.5h6.6M1026 342.5h6.6M1035 342.5h3.6M1056 342.5h6.6M1155 342.5h3.6M1203 342.5h3.6M1248 342.5h3.6M1320 342.5h3.6M996 346.9h3.6M1008 346.9h3.6M1017 346.9h6.6M1026 346.9h6.6M1035 346.9h6.6M1053 346.9h3.6M1161 346.9h6.6M1173 346.9h9.6M1191 346.9h12.6M1248 346.9h3.6M1320 346.9h3.6M987 351.4h3.6M996 351.4h3.6M1005 351.4h6.6M1014 351.4h18.6M1035 351.4h15.6M1248 351.4h6.6M987 355.9h3.6M1002 355.9h9.6M1014 355.9h15.6M1251 355.9h6.6M1263 355.9h3.6M987 360.3h3.6M1002 360.3h6.6M1014 360.3h9.6M1257 360.3h9.6M1002 364.8h3.6M1011 364.8h12.6M1260 364.8h6.6M1011 369.2h12.6M1257 369.2h9.6"/><path stroke="#0000b3" d="M1131 101.8h3.6M1131 106.2h3.6M1098 110.7h3.6M1098 115.1h3.6M1098 119.6h3.6M1098 124.1h3.6M1119 124.1h3.6M1101 128.5h6.6M1116 128.5h6.6M1146 128.5h3.6M1194 128.5h3.6M1116 133h6.6M1125 133h3.6M1146 133h6.6M1194 133h3.6M1200 133h3.6M1119 137.4h3.6M1125 137.4h3.6M1143 137.4h3.6M1167 137.4h3.6M1188 137.4h6.6M1155 141.9h6.6M1176 141.9h6.6M1203 141.9h3.6M1209 141.9h6.6M1218 141.9h3.6M1221 150.8h3.6M1254 150.8h3.6M1095 155.3h3.6M1254 155.3h3.6M1095 159.7h3.6M1236 159.7h3.6M1254 159.7h3.6M1095 164.2h3.6M1236 164.2h3.6M1254 164.2h3.6M1092 168.6h6.6M1236 168.6h3.6M1092 173.1h6.6M1236 173.1h3.6M1092 177.6h6.6M1224 177.6h3.6M1236 177.6h3.6M1092 182h6.6M1224 182h3.6M1236 182h3.6M1020 186.5h3.6M1092 186.5h6.6M1236 186.5h3.6M1008 190.9h3.6M1020 190.9h3.6M1065 190.9h3.6M1095 190.9h3.6M1236 190.9h3.6M1008 195.4h3.6M1065 195.4h3.6M1095 195.4h3.6M1008 199.8h3.6M1065 199.8h3.6M1095 199.8h3.6M1008 204.3h3.6M1065 204.3h3.6M1095 204.3h3.6M1227 204.3h3.6M1242 204.3h3.6M1293 204.3h3.6M1056 208.8h3.6M1065 208.8h3.6M1095 208.8h3.6M1224 208.8h6.6M1242 208.8h3.6M1293 208.8h3.6M1023 213.2h3.6M1053 213.2h6.6M1095 213.2h3.6M1224 213.2h9.6M1242 213.2h3.6M1293 213.2h3.6M1023 217.7h3.6M1053 217.7h6.6M1095 217.7h3.6M1224 217.7h9.6M1242 217.7h3.6M1293 217.7h3.6M1023 222.1h3.6M1053 222.1h6.6M1095 222.1h3.6M1242 222.1h3.6M990 226.6h3.6M1023 226.6h3.6M1053 226.6h6.6M1092 226.6h6.6M990 231h3.6M1023 231h3.6M1053 231h6.6M1092 231h6.6M1320 231h3.6M990 235.5h3.6M1023 235.5h3.6M1056 235.5h3.6M1092 235.5h6.6M1221 235.5h3.6M1320 235.5h3.6M990 240h3.6M1023 240h3.6M1056 240h3.6M1092 240h6.6M1320 240h3.6M987 244.4h6.6M1023 244.4h3.6M1056 244.4h3.6M1092 244.4h6.6M1119 244.4h3.6M1140 244.4h3.6M1146 244.4h3.6M1152 244.4h3.6M1161 244.4h9.6M1176 244.4h3.6M1185 244.4h9.6M1203 244.4h6.6M1224 244.4h3.6M1233 244.4h3.6M1320 244.4h3.6M987 248.9h3.6M1023 248.9h3.6M1056 248.9h3.6M1095 248.9h3.6M1116 248.9h3.6M1122 248.9h3.6M1224 248.9h3.6M1233 248.9h3.6M1320 248.9h3.6M987 253.3h3.6M1023 253.3h3.6M1056 253.3h3.6M1116 253.3h3.6M1131 253.3h6.6M1149 253.3h3.6M1173 253.3h3.6M1218 253.3h3.6M1320 253.3h3.6M987 257.8h3.6M1056 257.8h3.6M1116 257.8h3.6M1128 257.8h3.6M1173 257.8h3.6M1218 257.8h3.6M1320 257.8h3.6M987 262.2h3.6M1056 262.2h3.6M1116 262.2h3.6M1173 262.2h3.6M1218 262.2h6.6M1320 262.2h3.6M987 266.7h3.6M1218 266.7h6.6M1236 266.7h3.6M1320 266.7h3.6M987 271.2h3.6M1218 271.2h3.6M1320 271.2h3.6M987 275.6h3.6M1119 275.6h3.6M1320 275.6h3.6M987 280.1h3.6M1119 280.1h3.6M1239 280.1h3.6M1320 280.1h3.6M987 284.5h3.6M1320 284.5h3.6M1095 289h3.6M1320 289h3.6M1242 293.4h3.6M993 297.9h3.6M1092 297.9h3.6M1125 297.9h6.6M1206 297.9h3.6M993 302.4h3.6M1128 302.4h3.6M1206 302.4h6.6M957 306.8h3.6M993 306.8h3.6M1089 306.8h3.6M1206 306.8h6.6M957 311.3h3.6M993 311.3h3.6M1131 311.3h3.6M1209 311.3h3.6M957 315.7h3.6M993 315.7h3.6M1011 315.7h3.6M1209 315.7h3.6M1248 315.7h3.6M957 320.2h3.6M993 320.2h3.6M1002 320.2h3.6M1011 320.2h3.6M1209 320.2h3.6M1248 320.2h3.6M1002 324.7h3.6M1011 324.7h3.6M1248 324.7h3.6M1002 329.1h3.6M1011 329.1h3.6M1074 329.1h3.6M1209 329.1h3.6M1248 329.1h3.6M1320 329.1h3.6M987 333.6h3.6M1005 333.6h3.6M1014 333.6h3.6M1032 333.6h3.6M1209 333.6h3.6M1248 333.6h3.6M1320 333.6h3.6M987 338h3.6M1005 338h3.6M1014 338h3.6M1023 338h3.6M1032 338h3.6M1065 338h3.6M1209 338h3.6M1245 338h3.6M987 342.5h3.6M1005 342.5h3.6M1014 342.5h3.6M1023 342.5h3.6M1032 342.5h3.6M1062 342.5h3.6M1209 342.5h3.6M1245 342.5h3.6M987 346.9h3.6M1002 346.9h6.6M1011 346.9h6.6M1023 346.9h3.6M1032 346.9h3.6M1056 346.9h6.6M1158 346.9h3.6M1203 346.9h3.6M1209 346.9h3.6M1245 346.9h3.6M1002 351.4h3.6M1011 351.4h3.6M1032 351.4h3.6M1050 351.4h3.6M1245 351.4h3.6M1011 355.9h3.6M1029 355.9h12.6M1248 355.9h3.6M1011 360.3h3.6M1023 360.3h9.6M1251 360.3h6.6M990 364.8h6.6M1023 364.8h6.6M1254 364.8h6.6M990 369.2h6.6M1023 369.2h3.6M1251 369.2h6.6"/><path stroke="#0000bb" d="M1065 101.8h3.6M1134 101.8h3.6M1254 101.8h3.6M1293 101.8h3.6M1065 106.2h3.6M1134 106.2h3.6M1254 106.2h3.6M1293 106.2h3.6M1131 110.7h6.6M1254 110.7h3.6M1293 110.7h3.6M1131 115.1h6.6M1254 115.1h3.6M1131 119.6h6.6M1164 119.6h3.6M1254 119.6h3.6M1131 124.1h6.6M1164 124.1h3.6M1254 124.1h3.6M1098 128.5h3.6M1131 128.5h3.6M1164 128.5h3.6M1254 128.5h3.6M1098 133h6.6M1107 133h3.6M1131 133h3.6M1164 133h3.6M1254 133h3.6M1116 137.4h3.6M1146 137.4h6.6M1161 137.4h3.6M1194 137.4h3.6M1200 137.4h3.6M1254 137.4h3.6M1065 141.9h3.6M1110 141.9h3.6M1119 141.9h6.6M1128 141.9h3.6M1137 141.9h6.6M1152 141.9h3.6M1182 141.9h9.6M1197 141.9h3.6M1254 141.9h3.6M1065 146.3h3.6M1113 146.3h3.6M1170 146.3h3.6M1254 146.3h3.6M1065 150.8h3.6M1065 155.3h3.6M1065 159.7h3.6M1065 164.2h3.6M1065 168.6h3.6M1065 173.1h3.6M1065 177.6h3.6M1065 182h3.6M1065 186.5h3.6M1224 186.5h3.6M1293 186.5h3.6M1092 190.9h3.6M1224 190.9h3.6M1293 190.9h3.6M1092 195.4h3.6M1224 195.4h3.6M1293 195.4h3.6M1092 199.8h3.6M1224 199.8h3.6M1293 199.8h3.6M1092 204.3h3.6M1224 204.3h3.6M1092 208.8h3.6M1092 213.2h3.6M1092 217.7h3.6M1092 222.1h3.6M1227 222.1h6.6M1227 226.6h6.6M1230 231h3.6M1158 240h3.6M1170 240h3.6M1179 240h3.6M1194 240h3.6M1116 244.4h3.6M1137 244.4h3.6M1143 244.4h3.6M1182 244.4h3.6M1197 244.4h6.6M1209 244.4h3.6M990 248.9h3.6M1125 248.9h3.6M1149 248.9h3.6M1173 248.9h3.6M1218 248.9h3.6M990 253.3h3.6M1128 253.3h3.6M1224 253.3h3.6M1233 253.3h3.6M990 257.8h3.6M1212 257.8h6.6M990 262.2h3.6M1212 262.2h6.6M990 266.7h3.6M1116 266.7h3.6M1212 266.7h6.6M990 271.2h3.6M1098 271.2h3.6M1212 271.2h6.6M1221 271.2h3.6M1236 271.2h3.6M990 275.6h3.6M1098 275.6h3.6M1212 275.6h9.6M990 280.1h3.6M1212 280.1h9.6M990 284.5h3.6M1212 284.5h3.6M1239 284.5h3.6M990 289h3.6M1212 289h3.6M990 293.4h3.6M1095 293.4h3.6M1122 293.4h3.6M1212 293.4h3.6M1320 293.4h3.6M990 297.9h3.6M1320 297.9h3.6M990 302.4h3.6M1092 302.4h3.6M1245 302.4h3.6M990 306.8h3.6M1128 306.8h3.6M1245 306.8h3.6M990 311.3h3.6M1206 311.3h3.6M1245 311.3h3.6M990 315.7h3.6M1086 315.7h3.6M1131 315.7h3.6M1206 315.7h3.6M1083 320.2h3.6M1134 320.2h3.6M1206 320.2h3.6M1320 320.2h3.6M993 324.7h3.6M1080 324.7h3.6M1137 324.7h3.6M1206 324.7h6.6M1320 324.7h3.6M993 329.1h3.6M1140 329.1h3.6M1206 329.1h3.6M1245 329.1h3.6M993 333.6h3.6M1002 333.6h3.6M1011 333.6h3.6M1071 333.6h3.6M1146 333.6h3.6M1206 333.6h3.6M1245 333.6h3.6M1002 338h3.6M1011 338h3.6M1068 338h3.6M1149 338h3.6M1206 338h3.6M1002 342.5h3.6M1011 342.5h3.6M1065 342.5h3.6M1152 342.5h3.6M1206 342.5h3.6M1212 342.5h3.6M1242 342.5h3.6M1062 346.9h3.6M1155 346.9h3.6M1206 346.9h3.6M1212 346.9h3.6M1242 346.9h3.6M993 351.4h3.6M1053 351.4h3.6M1167 351.4h36.6M1239 351.4h6.6M990 355.9h6.6M1041 355.9h6.6M1245 355.9h3.6M990 360.3h6.6M1032 360.3h6.6M1248 360.3h3.6M1029 364.8h3.6M1251 364.8h3.6M1026 369.2h6.6M1248 369.2h3.6"/><path stroke="#0000c3" d="M1164 101.8h3.6M1164 106.2h3.6M1065 110.7h3.6M1164 110.7h3.6M1065 115.1h3.6M1164 115.1h3.6M1293 115.1h3.6M1065 119.6h3.6M1293 119.6h3.6M1065 124.1h3.6M1293 124.1h3.6M1065 128.5h3.6M1134 128.5h3.6M1293 128.5h3.6M1065 133h3.6M1104 133h3.6M1134 133h3.6M1293 133h3.6M1065 137.4h3.6M1098 137.4h3.6M1107 137.4h3.6M1131 137.4h3.6M1164 137.4h3.6M1125 141.9h3.6M1143 141.9h6.6M1161 141.9h3.6M1167 141.9h3.6M1191 141.9h6.6M1110 146.3h3.6M1158 146.3h3.6M1173 146.3h3.6M1179 146.3h3.6M1206 146.3h15.6M1221 155.3h3.6M1293 164.2h3.6M1293 168.6h3.6M1293 173.1h3.6M1293 177.6h3.6M1293 182h3.6M1221 231h3.6M1227 231h3.6M1227 235.5h6.6M1119 240h3.6M1146 240h3.6M1155 240h3.6M1176 240h3.6M1188 240h3.6M1203 240h6.6M1122 244.4h3.6M1173 244.4h3.6M1218 244.4h3.6M1131 248.9h6.6M1212 248.9h6.6M1212 253.3h6.6M1224 257.8h3.6M1233 257.8h3.6M1233 262.2h3.6M1098 266.7h3.6M1116 271.2h3.6M1221 275.6h3.6M1236 275.6h3.6M1098 280.1h3.6M1119 284.5h3.6M1215 284.5h6.6M1239 289h3.6M1122 297.9h3.6M1212 297.9h3.6M1242 297.9h3.6M1125 302.4h3.6M1320 302.4h3.6M1320 306.8h3.6M1089 311.3h3.6M1320 311.3h3.6M1245 315.7h3.6M1320 315.7h3.6M990 320.2h3.6M1245 320.2h3.6M990 324.7h3.6M1245 324.7h3.6M990 329.1h3.6M1077 329.1h3.6M990 333.6h3.6M1212 333.6h3.6M990 338h6.6M1212 338h3.6M1242 338h3.6M990 342.5h6.6M1149 342.5h3.6M1239 342.5h3.6M990 346.9h6.6M1236 346.9h6.6M990 351.4h3.6M1056 351.4h6.6M1161 351.4h6.6M1203 351.4h3.6M1209 351.4h3.6M1236 351.4h3.6M1047 355.9h6.6M1239 355.9h6.6M1038 360.3h3.6M1245 360.3h3.6M1032 364.8h6.6M1248 364.8h3.6M1032 369.2h3.6M1242 369.2h6.6"/><path stroke="#0000cb" d="M1101 137.4h3.6M1134 137.4h3.6M1293 137.4h3.6M1098 141.9h3.6M1116 141.9h3.6M1131 141.9h3.6M1149 141.9h3.6M1164 141.9h3.6M1200 141.9h3.6M1293 141.9h3.6M1119 146.3h6.6M1137 146.3h3.6M1155 146.3h3.6M1176 146.3h3.6M1203 146.3h3.6M1293 146.3h3.6M1110 150.8h6.6M1293 150.8h3.6M1293 155.3h3.6M1293 159.7h3.6M1170 235.5h3.6M1116 240h3.6M1137 240h9.6M1152 240h3.6M1161 240h9.6M1173 240h3.6M1182 240h6.6M1191 240h3.6M1197 240h6.6M1209 240h3.6M1227 240h6.6M1149 244.4h3.6M1212 244.4h6.6M1230 244.4h3.6M1128 248.9h3.6M1098 262.2h3.6M1224 262.2h3.6M1116 275.6h3.6M1221 280.1h3.6M1236 280.1h3.6M1098 284.5h3.6M1119 289h3.6M1215 289h3.6M1215 293.4h3.6M1095 297.9h3.6M1212 302.4h3.6M1092 306.8h3.6M1212 306.8h3.6M1128 311.3h3.6M1212 311.3h3.6M1212 315.7h3.6M1212 320.2h3.6M1212 324.7h3.6M1212 329.1h3.6M1242 329.1h3.6M1074 333.6h3.6M1143 333.6h3.6M1242 333.6h3.6M1146 338h3.6M1068 342.5h3.6M1215 342.5h6.6M1065 346.9h3.6M1152 346.9h3.6M1215 346.9h9.6M1233 346.9h3.6M1158 351.4h3.6M1206 351.4h3.6M1212 351.4h3.6M1218 351.4h6.6M1233 351.4h3.6M1236 355.9h3.6M1041 360.3h3.6M1242 360.3h3.6M1038 364.8h3.6M1245 364.8h3.6M1035 369.2h3.6M1239 369.2h3.6"/><path stroke="#0000d3" d="M1104 137.4h3.6M1107 141.9h3.6M1098 146.3h3.6M1128 146.3h3.6M1140 146.3h3.6M1146 146.3h3.6M1152 146.3h3.6M1182 146.3h9.6M1194 146.3h3.6M1170 150.8h3.6M1221 159.7h3.6M1221 226.6h3.6M1158 235.5h3.6M1122 240h3.6M1215 240h6.6M1113 244.4h3.6M1125 244.4h3.6M1131 244.4h6.6M1227 244.4h3.6M1113 248.9h3.6M1230 248.9h3.6M1098 257.8h3.6M1224 266.7h3.6M1233 266.7h3.6M1098 289h3.6M1218 289h3.6M1239 293.4h3.6M1122 302.4h3.6M1242 302.4h3.6M1125 306.8h3.6M1242 306.8h3.6M1086 320.2h3.6M1131 320.2h3.6M1242 320.2h3.6M1083 324.7h3.6M1134 324.7h3.6M1242 324.7h3.6M1137 329.1h3.6M1071 338h3.6M1215 338h6.6M1239 338h3.6M1221 342.5h3.6M1236 342.5h3.6M1224 346.9h3.6M1062 351.4h3.6M1215 351.4h3.6M1224 351.4h3.6M1053 355.9h3.6M1233 355.9h3.6M1044 360.3h3.6M1239 360.3h3.6M1041 364.8h3.6M1242 364.8h3.6M1038 369.2h3.6M1236 369.2h3.6"/><path stroke="#0000db" d="M1101 141.9h3.6M1134 141.9h3.6M1116 146.3h3.6M1125 146.3h3.6M1143 146.3h3.6M1161 146.3h3.6M1167 146.3h3.6M1191 146.3h3.6M1197 146.3h6.6M1098 150.8h3.6M1158 150.8h3.6M1173 150.8h3.6M1206 150.8h3.6M1215 150.8h3.6M1110 155.3h3.6M1119 235.5h3.6M1155 235.5h3.6M1179 235.5h3.6M1194 235.5h3.6M1206 235.5h3.6M1113 240h3.6M1212 240h3.6M1128 244.4h3.6M1227 248.9h3.6M1098 253.3h3.6M1113 253.3h3.6M1230 253.3h3.6M1113 257.8h3.6M1224 271.2h3.6M1233 271.2h3.6M1116 280.1h3.6M1221 284.5h3.6M1236 284.5h3.6M1119 293.4h3.6M1218 293.4h3.6M1215 297.9h3.6M1095 302.4h3.6M1242 311.3h3.6M1089 315.7h3.6M1242 315.7h3.6M1080 329.1h3.6M1215 329.1h3.6M1215 333.6h3.6M1239 333.6h3.6M1221 338h3.6M1236 338h3.6M1071 342.5h3.6M1146 342.5h3.6M1224 342.5h3.6M1233 342.5h3.6M1068 346.9h3.6M1149 346.9h3.6M1230 346.9h3.6M1155 351.4h3.6M1227 351.4h6.6M1056 355.9h3.6M1191 355.9h12.6M1047 360.3h3.6M1236 360.3h3.6M1239 364.8h3.6M1233 369.2h3.6"/><path stroke="#0000e3" d="M1131 146.3h3.6M1149 146.3h3.6M1164 146.3h3.6M1119 150.8h6.6M1179 150.8h3.6M1209 150.8h6.6M1218 150.8h3.6M1098 155.3h3.6M1113 155.3h3.6M1110 159.7h3.6M1113 235.5h3.6M1140 235.5h3.6M1146 235.5h3.6M1164 235.5h3.6M1173 235.5h6.6M1185 235.5h6.6M1203 235.5h3.6M1209 235.5h3.6M1149 240h3.6M1098 244.4h3.6M1098 248.9h3.6M1227 253.3h3.6M1230 257.8h3.6M1113 262.2h3.6M1224 275.6h3.6M1233 275.6h3.6M1098 293.4h3.6M1239 297.9h3.6M1092 311.3h3.6M1128 315.7h3.6M1215 324.7h3.6M1239 329.1h3.6M1077 333.6h3.6M1140 333.6h3.6M1218 333.6h3.6M1143 338h3.6M1227 346.9h3.6M1065 351.4h3.6M1152 351.4h3.6M1170 355.9h3.6M1179 355.9h12.6M1203 355.9h3.6M1209 355.9h6.6M1218 355.9h9.6M1230 355.9h3.6M1050 360.3h3.6M1233 360.3h3.6M1044 364.8h3.6M1236 364.8h3.6M1041 369.2h3.6"/><path stroke="#0000eb" d="M1104 141.9h3.6M1107 146.3h3.6M1134 146.3h3.6M1137 150.8h3.6M1155 150.8h3.6M1176 150.8h3.6M1203 150.8h3.6M1098 159.7h3.6M1098 164.2h3.6M1221 164.2h3.6M1098 168.6h3.6M1098 173.1h3.6M1098 177.6h3.6M1098 182h3.6M1098 186.5h3.6M1098 190.9h3.6M1098 195.4h3.6M1098 199.8h3.6M1098 204.3h3.6M1098 208.8h3.6M1098 213.2h3.6M1098 217.7h3.6M1098 222.1h3.6M1221 222.1h3.6M1098 226.6h3.6M1098 231h3.6M1098 235.5h3.6M1116 235.5h3.6M1137 235.5h3.6M1143 235.5h3.6M1152 235.5h3.6M1161 235.5h3.6M1167 235.5h3.6M1182 235.5h3.6M1191 235.5h3.6M1200 235.5h3.6M1215 235.5h6.6M1098 240h3.6M1134 240h3.6M1227 257.8h3.6M1230 262.2h3.6M1113 266.7h3.6M1116 284.5h3.6M1221 289h3.6M1236 289h3.6M1218 297.9h3.6M1215 302.4h3.6M1122 306.8h3.6M1215 306.8h3.6M1125 311.3h3.6M1215 311.3h3.6M1215 315.7h3.6M1215 320.2h3.6M1239 324.7h3.6M1218 329.1h3.6M1221 333.6h3.6M1236 333.6h3.6M1074 338h3.6M1224 338h3.6M1233 338h3.6M1227 342.5h6.6M1146 346.9h3.6M1059 355.9h3.6M1167 355.9h3.6M1173 355.9h6.6M1206 355.9h3.6M1215 355.9h3.6M1227 355.9h3.6M1047 364.8h3.6M1233 364.8h3.6M1044 369.2h3.6M1230 369.2h3.6"/><path stroke="#0000f3" d="M1101 146.3h3.6M1128 150.8h3.6M1140 150.8h3.6M1146 150.8h3.6M1152 150.8h3.6M1182 150.8h9.6M1194 150.8h3.6M1110 164.2h3.6M1113 231h3.6M1170 231h3.6M1197 235.5h3.6M1212 235.5h3.6M1125 240h3.6M1131 240h3.6M1227 262.2h3.6M1230 266.7h3.6M1101 271.2h3.6M1113 271.2h3.6M1101 275.6h3.6M1101 280.1h3.6M1224 280.1h3.6M1233 280.1h3.6M1119 297.9h3.6M1239 320.2h3.6M1086 324.7h3.6M1131 324.7h3.6M1218 324.7h3.6M1134 329.1h3.6M1143 342.5h3.6M1071 346.9h3.6M1068 351.4h3.6M1164 355.9h3.6M1053 360.3h3.6M1224 360.3h3.6M1230 360.3h3.6M1221 369.2h9.6"/><path stroke="#0000fb" d="M1107 150.8h3.6M1116 150.8h3.6M1125 150.8h3.6M1161 150.8h3.6M1167 150.8h3.6M1197 150.8h3.6M1170 155.3h3.6M1113 159.7h3.6M1119 231h3.6M1158 231h3.6M1206 231h3.6M1122 235.5h3.6M1227 266.7h3.6M1233 284.5h3.6M1116 289h3.6M1221 293.4h3.6M1236 293.4h3.6M1098 297.9h3.6M1239 302.4h3.6M1095 306.8h3.6M1239 306.8h3.6M1239 311.3h3.6M1239 315.7h3.6M1089 320.2h3.6M1218 320.2h3.6M1083 329.1h3.6M1221 329.1h3.6M1236 329.1h3.6M1224 333.6h3.6M1233 333.6h3.6M1230 338h3.6M1074 342.5h3.6M1149 351.4h3.6M1062 355.9h3.6M1161 355.9h3.6M1221 360.3h3.6M1227 360.3h3.6M1050 364.8h3.6M1230 364.8h3.6M1047 369.2h3.6M1218 369.2h3.6"/><path stroke="#0004ff" d="M1104 146.3h3.6M1131 150.8h3.6M1143 150.8h3.6M1164 150.8h3.6M1191 150.8h3.6M1200 150.8h3.6M1119 155.3h3.6M1158 155.3h3.6M1173 155.3h3.6M1206 155.3h3.6M1215 155.3h6.6M1110 168.6h3.6M1221 168.6h3.6M1221 217.7h3.6M1146 231h3.6M1179 231h3.6M1194 231h3.6M1149 235.5h3.6M1128 240h3.6M1101 266.7h3.6M1230 271.2h3.6M1113 275.6h3.6M1101 284.5h3.6M1224 284.5h3.6M1218 302.4h3.6M1218 306.8h3.6M1218 311.3h3.6M1092 315.7h3.6M1125 315.7h3.6M1218 315.7h3.6M1128 320.2h3.6M1236 324.7h3.6M1137 333.6h3.6M1140 338h3.6M1227 338h3.6M1158 355.9h3.6M1056 360.3h3.6M1218 360.3h3.6M1221 364.8h9.6M1215 369.2h3.6"/><path stroke="#000cff" d="M1101 150.8h3.6M1134 150.8h3.6M1149 150.8h3.6M1122 155.3h3.6M1212 155.3h3.6M1110 173.1h3.6M1113 226.6h3.6M1155 231h3.6M1173 231h6.6M1188 231h3.6M1203 231h3.6M1209 231h3.6M1215 231h6.6M1227 271.2h3.6M1230 275.6h3.6M1236 297.9h3.6M1119 302.4h3.6M1122 311.3h3.6M1221 324.7h3.6M1224 329.1h3.6M1233 329.1h3.6M1080 333.6h3.6M1077 338h3.6M1074 346.9h3.6M1143 346.9h3.6M1065 355.9h3.6M1155 355.9h3.6M1191 360.3h15.6M1209 360.3h9.6M1218 364.8h3.6M1050 369.2h3.6M1209 369.2h6.6"/><path stroke="#0014ff" d="M1107 155.3h3.6M1137 155.3h3.6M1155 155.3h3.6M1179 155.3h3.6M1209 155.3h3.6M1110 177.6h3.6M1110 226.6h3.6M1110 231h3.6M1116 231h3.6M1137 231h6.6M1152 231h3.6M1161 231h9.6M1185 231h3.6M1191 231h3.6M1134 235.5h3.6M1101 262.2h3.6M1227 275.6h3.6M1113 280.1h3.6M1101 289h3.6M1224 289h3.6M1233 289h3.6M1116 293.4h3.6M1221 297.9h3.6M1098 302.4h3.6M1095 311.3h3.6M1221 320.2h3.6M1236 320.2h3.6M1227 333.6h6.6M1140 342.5h3.6M1071 351.4h3.6M1146 351.4h3.6M1059 360.3h3.6M1182 360.3h9.6M1206 360.3h3.6M1053 364.8h3.6M1197 369.2h12.6"/><path stroke="#001cff" d="M1101 155.3h3.6M1140 155.3h3.6M1146 155.3h3.6M1176 155.3h3.6M1203 155.3h3.6M1221 173.1h3.6M1110 182h3.6M1221 213.2h3.6M1110 217.7h3.6M1110 222.1h3.6M1143 231h3.6M1182 231h3.6M1200 231h3.6M1212 231h3.6M1110 235.5h3.6M1125 235.5h3.6M1110 240h3.6M1110 244.4h3.6M1230 280.1h3.6M1221 315.7h3.6M1236 315.7h3.6M1077 342.5h3.6M1152 355.9h3.6M1176 360.3h6.6M1209 364.8h9.6M1053 369.2h3.6M1191 369.2h6.6"/><path stroke="#0024ff" d="M1104 150.8h3.6M1116 155.3h3.6M1128 155.3h3.6M1152 155.3h3.6M1185 155.3h6.6M1194 155.3h3.6M1107 159.7h3.6M1113 164.2h3.6M1110 186.5h3.6M1110 208.8h3.6M1110 213.2h3.6M1113 222.1h3.6M1170 226.6h3.6M1122 231h3.6M1197 231h3.6M1131 235.5h3.6M1110 248.9h3.6M1110 253.3h3.6M1227 280.1h3.6M1113 284.5h3.6M1101 293.4h3.6M1224 293.4h3.6M1233 293.4h3.6M1221 302.4h3.6M1236 302.4h3.6M1236 306.8h3.6M1221 311.3h3.6M1236 311.3h3.6M1089 324.7h3.6M1224 324.7h3.6M1233 324.7h3.6M1086 329.1h3.6M1131 329.1h3.6M1230 329.1h3.6M1068 355.9h3.6M1062 360.3h3.6M1167 360.3h9.6M1056 364.8h3.6M1194 364.8h15.6M1185 369.2h6.6"/><path stroke="#002cff" d="M1125 155.3h3.6M1161 155.3h3.6M1167 155.3h3.6M1182 155.3h3.6M1101 159.7h3.6M1107 164.2h3.6M1110 190.9h3.6M1110 195.4h3.6M1110 199.8h3.6M1110 204.3h3.6M1158 226.6h3.6M1101 257.8h3.6M1110 257.8h3.6M1110 262.2h3.6M1110 266.7h3.6M1110 271.2h3.6M1230 284.5h3.6M1116 297.9h3.6M1119 306.8h3.6M1221 306.8h3.6M1092 320.2h3.6M1125 320.2h3.6M1128 324.7h3.6M1227 329.1h3.6M1134 333.6h3.6M1137 338h3.6M1140 346.9h3.6M1074 351.4h3.6M1143 351.4h3.6M1164 360.3h3.6M1185 364.8h9.6M1056 369.2h3.6M1182 369.2h3.6"/><path stroke="#0034ff" d="M1131 155.3h3.6M1143 155.3h3.6M1164 155.3h3.6M1191 155.3h3.6M1197 155.3h6.6M1170 159.7h3.6M1215 159.7h6.6M1101 164.2h3.6M1221 177.6h3.6M1221 208.8h3.6M1119 226.6h3.6M1206 226.6h3.6M1218 226.6h3.6M1149 231h3.6M1128 235.5h3.6M1104 271.2h3.6M1104 275.6h3.6M1104 280.1h3.6M1227 284.5h3.6M1098 306.8h3.6M1122 315.7h3.6M1224 320.2h3.6M1233 320.2h3.6M1083 333.6h3.6M1080 338h3.6M1077 346.9h3.6M1149 355.9h3.6M1161 360.3h3.6M1059 364.8h3.6M1182 364.8h3.6M1179 369.2h3.6"/><path stroke="#003cff" d="M1104 155.3h3.6M1134 155.3h3.6M1149 155.3h3.6M1119 159.7h3.6M1158 159.7h3.6M1173 159.7h3.6M1206 159.7h3.6M1101 168.6h3.6M1107 168.6h3.6M1107 173.1h3.6M1146 226.6h3.6M1173 226.6h3.6M1179 226.6h3.6M1194 226.6h3.6M1101 253.3h3.6M1110 275.6h3.6M1113 289h3.6M1230 289h3.6M1101 297.9h3.6M1224 297.9h3.6M1233 297.9h3.6M1095 315.7h3.6M1233 315.7h3.6M1230 324.7h3.6M1137 342.5h3.6M1071 355.9h3.6M1065 360.3h3.6M1176 364.8h6.6M1059 369.2h3.6M1176 369.2h3.6"/><path stroke="#0044ff" d="M1212 159.7h3.6M1101 173.1h3.6M1101 177.6h3.6M1107 177.6h3.6M1221 182h3.6M1221 204.3h3.6M1116 226.6h3.6M1155 226.6h3.6M1176 226.6h3.6M1203 226.6h3.6M1209 226.6h3.6M1215 226.6h3.6M1101 248.9h3.6M1110 280.1h3.6M1104 284.5h3.6M1227 289h3.6M1224 315.7h3.6M1227 324.7h3.6M1080 342.5h3.6M1158 360.3h3.6M1170 364.8h6.6M1170 369.2h6.6"/><path stroke="#004cff" d="M1104 159.7h3.6M1122 159.7h3.6M1137 159.7h3.6M1209 159.7h3.6M1113 168.6h3.6M1101 182h3.6M1107 182h3.6M1101 186.5h3.6M1107 186.5h3.6M1101 190.9h3.6M1101 195.4h3.6M1101 199.8h3.6M1101 204.3h3.6M1101 208.8h3.6M1101 213.2h3.6M1101 217.7h3.6M1113 217.7h3.6M1101 222.1h3.6M1101 226.6h3.6M1140 226.6h3.6M1152 226.6h3.6M1161 226.6h6.6M1185 226.6h6.6M1212 226.6h3.6M1101 231h3.6M1134 231h3.6M1101 235.5h3.6M1101 240h3.6M1101 244.4h3.6M1104 266.7h3.6M1107 271.2h3.6M1107 275.6h3.6M1116 302.4h3.6M1119 311.3h3.6M1224 311.3h3.6M1233 311.3h3.6M1077 351.4h3.6M1140 351.4h3.6M1146 355.9h3.6M1155 360.3h3.6M1062 364.8h3.6M1167 364.8h3.6M1167 369.2h3.6"/><path stroke="#0054ff" d="M1146 159.7h3.6M1155 159.7h3.6M1176 159.7h6.6M1203 159.7h3.6M1221 186.5h3.6M1107 190.9h3.6M1221 190.9h3.6M1107 195.4h3.6M1221 195.4h3.6M1107 199.8h3.6M1221 199.8h3.6M1137 226.6h3.6M1167 226.6h3.6M1191 226.6h3.6M1107 266.7h3.6M1107 280.1h3.6M1110 284.5h3.6M1104 289h3.6M1113 293.4h3.6M1230 293.4h3.6M1224 302.4h3.6M1233 302.4h3.6M1224 306.8h3.6M1233 306.8h3.6M1230 320.2h3.6M1137 346.9h3.6M1068 360.3h3.6M1164 364.8h3.6M1062 369.2h3.6"/><path stroke="#005cff" d="M1116 159.7h3.6M1140 159.7h3.6M1152 159.7h3.6M1194 159.7h3.6M1104 164.2h3.6M1107 204.3h3.6M1107 208.8h3.6M1107 213.2h3.6M1143 226.6h3.6M1182 226.6h3.6M1200 226.6h3.6M1125 231h3.6M1131 231h3.6M1104 262.2h6.6M1227 293.4h3.6M1101 302.4h3.6M1098 311.3h3.6M1227 320.2h3.6M1089 329.1h3.6M1134 338h3.6M1080 346.9h3.6M1074 355.9h3.6M1152 360.3h3.6M1164 369.2h3.6"/><path stroke="#0064ff" d="M1128 159.7h3.6M1161 159.7h3.6M1185 159.7h6.6M1107 217.7h3.6M1107 222.1h3.6M1170 222.1h3.6M1122 226.6h3.6M1197 226.6h3.6M1107 284.5h3.6M1104 293.4h3.6M1230 297.9h3.6M1230 315.7h3.6M1122 320.2h3.6M1092 324.7h3.6M1125 324.7h3.6M1128 329.1h3.6M1131 333.6h3.6M1083 338h3.6M1143 355.9h3.6M1065 364.8h3.6M1161 364.8h3.6M1065 369.2h3.6M1161 369.2h3.6"/><path stroke="#006cff" d="M1125 159.7h3.6M1131 159.7h3.6M1143 159.7h3.6M1164 159.7h6.6M1182 159.7h3.6M1191 159.7h3.6M1218 164.2h3.6M1104 168.6h3.6M1218 222.1h3.6M1107 226.6h3.6M1149 226.6h3.6M1107 231h3.6M1107 257.8h3.6M1110 289h3.6M1113 297.9h3.6M1116 306.8h3.6M1227 315.7h3.6M1095 320.2h3.6M1086 333.6h3.6M1134 342.5h3.6M1158 364.8h3.6M1158 369.2h3.6"/><path stroke="#0074ff" d="M1200 159.7h3.6M1170 164.2h3.6M1104 173.1h3.6M1113 173.1h3.6M1104 177.6h3.6M1113 213.2h3.6M1158 222.1h3.6M1206 222.1h3.6M1128 231h3.6M1107 235.5h3.6M1107 240h3.6M1107 244.4h3.6M1107 253.3h3.6M1104 257.8h3.6M1107 289h3.6M1227 297.9h3.6M1230 311.3h3.6M1083 342.5h3.6M1080 351.4h3.6M1137 351.4h3.6M1071 360.3h3.6M1149 360.3h3.6"/><path stroke="#007cff" d="M1134 159.7h3.6M1149 159.7h3.6M1197 159.7h3.6M1119 164.2h3.6M1215 164.2h3.6M1104 182h3.6M1104 186.5h3.6M1119 222.1h3.6M1215 222.1h3.6M1107 248.9h3.6M1104 297.9h3.6M1230 302.4h3.6M1101 306.8h3.6M1230 306.8h3.6M1227 311.3h3.6M1119 315.7h3.6M1077 355.9h3.6M1068 364.8h3.6M1155 364.8h3.6M1068 369.2h3.6M1155 369.2h3.6"/><path stroke="#0083ff" d="M1158 164.2h3.6M1173 164.2h3.6M1206 164.2h3.6M1104 190.9h3.6M1104 195.4h3.6M1104 199.8h3.6M1116 222.1h3.6M1146 222.1h3.6M1155 222.1h3.6M1173 222.1h3.6M1194 222.1h3.6M1209 222.1h3.6M1107 293.4h6.6M1227 302.4h3.6M1227 306.8h3.6M1098 315.7h3.6M1134 346.9h3.6M1140 355.9h3.6"/><path stroke="#008bff" d="M1212 164.2h3.6M1104 204.3h3.6M1104 208.8h3.6M1104 213.2h3.6M1104 217.7h3.6M1176 222.1h6.6M1203 222.1h3.6M1134 226.6h3.6M1104 253.3h3.6M1113 302.4h3.6M1083 346.9h3.6M1074 360.3h3.6M1146 360.3h3.6M1152 364.8h3.6M1071 369.2h3.6M1152 369.2h3.6"/><path stroke="#0093ff" d="M1122 164.2h3.6M1137 164.2h3.6M1146 164.2h3.6M1209 164.2h3.6M1104 222.1h3.6M1140 222.1h3.6M1152 222.1h3.6M1161 222.1h9.6M1188 222.1h3.6M1212 222.1h3.6M1104 226.6h3.6M1104 231h3.6M1104 248.9h3.6M1116 311.3h3.6M1131 338h3.6M1071 364.8h3.6"/><path stroke="#009bff" d="M1116 164.2h3.6M1140 164.2h3.6M1155 164.2h3.6M1176 164.2h6.6M1203 164.2h3.6M1113 177.6h3.6M1113 208.8h3.6M1137 222.1h3.6M1185 222.1h3.6M1191 222.1h3.6M1104 235.5h3.6M1104 240h3.6M1104 244.4h3.6M1107 297.9h6.6M1104 302.4h3.6M1122 324.7h3.6M1125 329.1h3.6M1086 338h3.6M1134 351.4h3.6M1149 364.8h3.6M1149 369.2h3.6"/><path stroke="#00a3ff" d="M1152 164.2h3.6M1194 164.2h3.6M1143 222.1h3.6M1125 226.6h3.6M1101 311.3h3.6M1095 324.7h3.6M1092 329.1h3.6M1131 342.5h3.6M1083 351.4h3.6M1080 355.9h3.6M1137 355.9h3.6M1143 360.3h3.6M1074 369.2h3.6M1146 369.2h3.6"/><path stroke="#00abff" d="M1161 164.2h9.6M1185 164.2h6.6M1218 168.6h3.6M1218 217.7h3.6M1182 222.1h3.6M1200 222.1h3.6M1131 226.6h3.6M1113 306.8h3.6M1119 320.2h3.6M1089 333.6h3.6M1128 333.6h3.6M1086 342.5h3.6M1077 360.3h3.6M1074 364.8h3.6"/><path stroke="#00b3ff" d="M1125 164.2h6.6M1143 164.2h3.6M1191 164.2h3.6M1122 222.1h3.6M1149 222.1h3.6M1110 302.4h3.6M1098 320.2h3.6M1131 346.9h3.6M1146 364.8h3.6M1077 369.2h3.6M1143 369.2h3.6"/><path stroke="#00bbff" d="M1131 164.2h3.6M1182 164.2h3.6M1113 182h3.6M1113 204.3h3.6M1170 217.7h3.6M1197 222.1h3.6M1107 302.4h3.6M1104 306.8h3.6M1116 315.7h3.6M1086 346.9h3.6M1140 360.3h3.6"/><path stroke="#00c3ff" d="M1134 164.2h3.6M1149 164.2h3.6M1200 164.2h3.6M1215 168.6h3.6M1158 217.7h3.6M1206 217.7h3.6M1128 226.6h3.6M1083 355.9h3.6M1134 355.9h3.6M1077 364.8h3.6M1143 364.8h3.6M1140 369.2h3.6"/><path stroke="#00cbff" d="M1197 164.2h3.6M1170 168.6h3.6M1113 186.5h3.6M1113 199.8h3.6M1116 217.7h6.6M1215 217.7h3.6M1101 315.7h3.6M1086 351.4h3.6M1131 351.4h3.6M1080 360.3h3.6M1080 369.2h3.6"/><path stroke="#00d3ff" d="M1119 168.6h3.6M1158 168.6h3.6M1206 168.6h3.6M1146 217.7h3.6M1155 217.7h3.6M1173 217.7h3.6M1209 217.7h3.6M1110 306.8h3.6M1113 311.3h3.6M1137 360.3h3.6M1137 369.2h3.6"/><path stroke="#00dbff" d="M1116 168.6h3.6M1173 168.6h3.6M1212 168.6h3.6M1113 190.9h3.6M1113 195.4h3.6M1140 217.7h3.6M1176 217.7h3.6M1194 217.7h3.6M1203 217.7h3.6M1212 217.7h3.6M1134 222.1h3.6M1107 306.8h3.6M1104 311.3h3.6M1122 329.1h3.6M1089 338h3.6M1128 338h3.6M1140 364.8h3.6M1083 369.2h3.6"/><path stroke="#00e3ff" d="M1122 168.6h3.6M1146 168.6h3.6M1155 168.6h3.6M1209 168.6h3.6M1152 217.7h3.6M1161 217.7h9.6M1119 324.7h3.6M1095 329.1h3.6M1128 342.5h3.6M1080 364.8h3.6M1134 369.2h3.6"/><path stroke="#00ebff" d="M1137 168.6h6.6M1203 168.6h3.6M1218 173.1h3.6M1218 213.2h3.6M1137 217.7h3.6M1179 217.7h3.6M1188 217.7h3.6M1116 320.2h3.6M1098 324.7h3.6M1092 333.6h3.6M1125 333.6h3.6M1089 342.5h3.6M1128 346.9h3.6M1086 355.9h3.6M1131 355.9h3.6M1083 360.3h3.6M1086 369.2h3.6"/><path stroke="#00f3ff" d="M1152 168.6h3.6M1161 168.6h3.6M1176 168.6h3.6M1143 217.7h3.6M1185 217.7h3.6M1191 217.7h3.6M1089 346.9h3.6M1134 360.3h3.6M1137 364.8h3.6M1131 369.2h3.6"/><path stroke="#00fbff" d="M1164 168.6h6.6M1179 168.6h3.6M1194 168.6h3.6M1125 222.1h3.6M1107 311.3h6.6M1113 315.7h3.6M1101 320.2h3.6M1089 351.4h3.6M1128 351.4h3.6M1083 364.8h3.6M1089 369.2h3.6"/><path stroke="#04fffb" d="M1143 168.6h3.6M1185 168.6h6.6M1149 217.7h3.6M1200 217.7h3.6M1131 222.1h3.6M1104 315.7h3.6M1134 364.8h3.6M1092 369.2h3.6M1128 369.2h3.6"/><path stroke="#0cfff3" d="M1125 168.6h3.6M1149 168.6h3.6M1191 168.6h3.6M1122 217.7h3.6M1182 217.7h3.6M1086 360.3h3.6M1125 369.2h3.6"/><path stroke="#14ffeb" d="M1128 168.6h3.6M1134 168.6h3.6M1200 168.6h3.6M1116 213.2h3.6M1170 213.2h3.6M1197 217.7h3.6M1089 355.9h3.6M1131 360.3h3.6M1086 364.8h3.6M1095 369.2h3.6M1122 369.2h3.6"/><path stroke="#1cffe3" d="M1131 168.6h3.6M1182 168.6h3.6M1215 173.1h3.6M1158 213.2h3.6M1206 213.2h3.6M1215 213.2h3.6M1128 222.1h3.6M1110 315.7h3.6M1092 338h3.6M1125 338h3.6M1128 355.9h3.6M1131 364.8h3.6M1098 369.2h3.6"/><path stroke="#24ffdb" d="M1197 168.6h3.6M1116 173.1h3.6M1170 173.1h3.6M1206 173.1h3.6M1218 177.6h3.6M1218 208.8h3.6M1119 213.2h3.6M1146 213.2h3.6M1107 315.7h3.6M1116 324.7h3.6M1119 329.1h3.6M1092 342.5h3.6M1125 342.5h3.6M1125 346.9h3.6M1101 369.2h3.6M1116 369.2h6.6"/><path stroke="#2cffd3" d="M1119 173.1h3.6M1158 173.1h3.6M1173 173.1h3.6M1212 173.1h3.6M1140 213.2h3.6M1155 213.2h3.6M1173 213.2h3.6M1209 213.2h6.6M1113 320.2h3.6M1098 329.1h3.6M1122 333.6h3.6M1092 346.9h3.6M1092 351.4h3.6M1125 351.4h3.6M1089 360.3h3.6M1089 364.8h3.6M1104 369.2h12.6"/><path stroke="#34ffcb" d="M1140 173.1h3.6M1209 173.1h3.6M1152 213.2h3.6M1161 213.2h9.6M1176 213.2h3.6M1203 213.2h3.6M1134 217.7h3.6M1104 320.2h3.6M1101 324.7h3.6M1095 333.6h3.6M1128 360.3h3.6M1128 364.8h3.6"/><path stroke="#3cffc3" d="M1137 173.1h3.6M1146 173.1h3.6M1155 173.1h3.6M1194 213.2h3.6M1092 355.9h3.6M1125 355.9h3.6"/><path stroke="#44ffbb" d="M1122 173.1h3.6M1152 173.1h3.6M1161 173.1h3.6M1167 173.1h3.6M1176 173.1h3.6M1203 173.1h3.6M1137 213.2h3.6M1143 213.2h3.6M1188 213.2h6.6M1092 364.8h3.6"/><path stroke="#4cffb3" d="M1164 173.1h3.6M1149 213.2h3.6M1179 213.2h3.6M1185 213.2h3.6M1107 320.2h6.6M1092 360.3h3.6M1125 364.8h3.6"/><path stroke="#54ffab" d="M1143 173.1h3.6M1194 173.1h3.6M1218 182h3.6M1218 204.3h3.6M1122 338h3.6M1122 342.5h3.6M1122 346.9h3.6M1122 351.4h3.6M1125 360.3h3.6M1095 364.8h3.6M1122 364.8h3.6"/><path stroke="#5cffa3" d="M1149 173.1h3.6M1179 173.1h3.6M1185 173.1h9.6M1116 208.8h3.6M1200 213.2h3.6M1125 217.7h3.6M1113 324.7h3.6M1095 338h3.6M1095 346.9h3.6M1095 351.4h3.6M1095 355.9h3.6M1122 355.9h3.6"/><path stroke="#64ff9b" d="M1134 173.1h3.6M1116 177.6h3.6M1215 177.6h3.6M1215 208.8h3.6M1122 213.2h3.6M1131 217.7h3.6M1104 324.7h3.6M1116 329.1h3.6M1095 342.5h3.6M1095 360.3h3.6M1098 364.8h3.6M1119 364.8h3.6"/><path stroke="#6cff93" d="M1125 173.1h3.6M1158 208.8h3.6M1170 208.8h3.6M1206 208.8h3.6M1182 213.2h3.6M1101 329.1h3.6M1119 333.6h3.6M1122 360.3h3.6"/><path stroke="#74ff8b" d="M1128 173.1h3.6M1200 173.1h3.6M1158 177.6h3.6M1170 177.6h3.6M1206 177.6h3.6M1218 186.5h3.6M1218 199.8h3.6M1140 208.8h3.6M1197 213.2h3.6M1098 333.6h3.6M1101 364.8h3.6M1116 364.8h3.6"/><path stroke="#7cff83" d="M1131 173.1h3.6M1182 173.1h3.6M1119 177.6h3.6M1140 177.6h3.6M1212 177.6h3.6M1119 208.8h3.6M1146 208.8h3.6M1152 208.8h6.6M1161 208.8h9.6M1173 208.8h3.6M1209 208.8h6.6M1128 217.7h3.6M1107 324.7h6.6M1098 351.4h3.6M1119 351.4h3.6M1098 355.9h3.6M1119 355.9h3.6M1098 360.3h3.6M1119 360.3h3.6M1104 364.8h12.6"/><path stroke="#83ff7c" d="M1197 173.1h3.6M1146 177.6h3.6M1155 177.6h3.6M1161 177.6h3.6M1173 177.6h3.6M1209 177.6h3.6M1218 190.9h3.6M1218 195.4h3.6M1203 208.8h3.6M1119 346.9h3.6"/><path stroke="#8bff74" d="M1152 177.6h3.6M1164 177.6h6.6M1143 208.8h3.6M1176 208.8h3.6M1134 213.2h3.6M1119 342.5h3.6M1098 346.9h3.6M1116 360.3h3.6"/><path stroke="#93ff6c" d="M1137 177.6h3.6M1176 177.6h3.6M1203 177.6h3.6M1116 204.3h3.6M1149 208.8h3.6M1191 208.8h6.6M1113 329.1h3.6M1119 338h3.6M1098 342.5h3.6M1101 355.9h3.6M1116 355.9h3.6M1101 360.3h3.6"/><path stroke="#9bff64" d="M1122 177.6h3.6M1143 177.6h3.6M1149 177.6h3.6M1116 182h3.6M1137 208.8h3.6M1188 208.8h3.6M1104 329.1h3.6M1098 338h3.6M1101 351.4h3.6M1116 351.4h3.6M1104 360.3h3.6M1113 360.3h3.6"/><path stroke="#a3ff5c" d="M1191 177.6h3.6M1215 182h3.6M1215 204.3h3.6M1185 208.8h3.6M1116 333.6h3.6M1104 355.9h3.6M1113 355.9h3.6M1107 360.3h6.6"/><path stroke="#abff54" d="M1188 177.6h3.6M1194 177.6h3.6M1206 204.3h3.6M1179 208.8h3.6M1107 329.1h6.6M1101 333.6h3.6M1116 346.9h3.6M1113 351.4h3.6M1107 355.9h6.6"/><path stroke="#b3ff4c" d="M1134 177.6h3.6M1179 177.6h3.6M1185 177.6h3.6M1140 182h3.6M1158 182h3.6M1206 182h3.6M1140 204.3h3.6M1158 204.3h6.6M1170 204.3h3.6M1200 208.8h3.6M1101 346.9h3.6M1104 351.4h3.6"/><path stroke="#bbff44" d="M1161 182h3.6M1170 182h3.6M1212 182h3.6M1116 186.5h3.6M1116 199.8h3.6M1146 204.3h3.6M1152 204.3h6.6M1164 204.3h6.6M1209 204.3h6.6M1122 208.8h3.6M1125 213.2h3.6M1116 342.5h3.6M1107 351.4h6.6"/><path stroke="#c3ff3c" d="M1125 177.6h3.6M1200 177.6h3.6M1146 182h3.6M1152 182h6.6M1167 182h3.6M1173 182h3.6M1209 182h3.6M1173 204.3h3.6M1182 208.8h3.6M1131 213.2h3.6M1116 338h3.6M1101 342.5h3.6M1113 346.9h3.6"/><path stroke="#cbff34" d="M1119 182h3.6M1164 182h3.6M1116 190.9h3.6M1116 195.4h3.6M1119 204.3h3.6M1143 204.3h3.6M1176 204.3h3.6M1203 204.3h3.6M1197 208.8h3.6M1113 333.6h3.6M1101 338h3.6M1104 346.9h3.6"/><path stroke="#d3ff2c" d="M1128 177.6h6.6M1182 177.6h3.6M1137 182h3.6M1143 182h3.6M1149 182h3.6M1176 182h3.6M1203 182h3.6M1215 186.5h3.6M1215 199.8h3.6M1149 204.3h3.6M1104 333.6h3.6M1107 346.9h6.6"/><path stroke="#dbff24" d="M1197 177.6h3.6M1140 186.5h3.6M1206 186.5h3.6M1140 199.8h3.6M1161 199.8h3.6M1206 199.8h3.6M1137 204.3h3.6M1191 204.3h3.6M1134 208.8h3.6M1128 213.2h3.6M1113 342.5h3.6"/><path stroke="#e3ff1c" d="M1122 182h3.6M1191 182h3.6M1152 186.5h3.6M1158 186.5h6.6M1167 186.5h3.6M1212 186.5h3.6M1215 190.9h3.6M1215 195.4h3.6M1152 199.8h9.6M1167 199.8h6.6M1212 199.8h3.6M1188 204.3h3.6M1194 204.3h3.6M1107 333.6h6.6M1104 342.5h3.6"/><path stroke="#ebff14" d="M1188 182h3.6M1194 182h3.6M1155 186.5h3.6M1164 186.5h3.6M1170 186.5h3.6M1209 186.5h3.6M1146 199.8h3.6M1164 199.8h3.6M1209 199.8h3.6M1185 204.3h3.6M1113 338h3.6M1110 342.5h3.6"/><path stroke="#f3ff0c" d="M1185 182h3.6M1146 186.5h3.6M1173 186.5h3.6M1140 190.9h3.6M1158 190.9h6.6M1167 190.9h3.6M1206 190.9h3.6M1140 195.4h3.6M1158 195.4h6.6M1167 195.4h3.6M1206 195.4h3.6M1143 199.8h3.6M1173 199.8h3.6M1104 338h3.6M1107 342.5h3.6"/><path stroke="#fbff04" d="M1134 182h3.6M1119 186.5h3.6M1143 186.5h3.6M1149 186.5h3.6M1176 186.5h3.6M1203 186.5h3.6M1152 190.9h6.6M1164 190.9h3.6M1170 190.9h3.6M1212 190.9h3.6M1152 195.4h6.6M1164 195.4h3.6M1170 195.4h3.6M1212 195.4h3.6M1119 199.8h3.6M1149 199.8h3.6M1176 199.8h3.6M1203 199.8h3.6M1179 204.3h3.6M1200 204.3h3.6M1110 338h3.6"/><path stroke="#fffb00" d="M1179 182h3.6M1200 182h3.6M1137 186.5h3.6M1146 190.9h3.6M1209 190.9h3.6M1146 195.4h3.6M1209 195.4h3.6M1191 199.8h3.6M1122 204.3h3.6M1107 338h3.6"/><path stroke="#fff300" d="M1191 186.5h3.6M1143 190.9h3.6M1149 190.9h3.6M1173 190.9h3.6M1203 190.9h3.6M1143 195.4h3.6M1149 195.4h3.6M1173 195.4h3.6M1203 195.4h3.6M1137 199.8h3.6M1125 208.8h3.6"/><path stroke="#ffeb00" d="M1125 182h3.6M1182 182h3.6M1119 190.9h3.6M1176 190.9h3.6M1119 195.4h3.6M1176 195.4h3.6M1188 199.8h3.6M1194 199.8h3.6M1134 204.3h3.6M1182 204.3h3.6M1197 204.3h3.6"/><path stroke="#ffe300" d="M1197 182h3.6M1122 186.5h3.6M1188 186.5h3.6M1194 186.5h3.6M1137 190.9h3.6M1191 190.9h3.6M1191 195.4h3.6M1131 208.8h3.6"/><path stroke="#ffdb00" d="M1185 186.5h3.6M1137 195.4h3.6M1185 199.8h3.6"/><path stroke="#ffd300" d="M1128 182h6.6M1134 186.5h3.6M1188 190.9h3.6M1188 195.4h3.6M1122 199.8h3.6M1200 199.8h3.6"/><path stroke="#ffcb00" d="M1179 186.5h3.6M1200 186.5h3.6M1194 190.9h3.6M1194 195.4h3.6M1179 199.8h3.6M1128 208.8h3.6"/><path stroke="#ffc300" d="M1122 190.9h3.6M1185 190.9h3.6M1185 195.4h3.6M1134 199.8h3.6"/><path stroke="#ffbb00" d="M1134 190.9h3.6M1200 190.9h3.6M1122 195.4h3.6M1200 195.4h3.6M1182 199.8h3.6"/><path stroke="#ffb300" d="M1182 186.5h3.6M1197 186.5h3.6M1179 190.9h3.6M1134 195.4h3.6M1179 195.4h3.6M1197 199.8h3.6M1125 204.3h3.6"/><path stroke="#ffab00" d="M1125 186.5h3.6"/><path stroke="#ffa300" d="M1182 190.9h3.6M1182 195.4h3.6M1131 204.3h3.6"/><path stroke="#ff9b00" d="M1131 186.5h3.6M1197 190.9h3.6M1197 195.4h3.6"/><path stroke="#ff9300" d="M1128 186.5h3.6"/><path stroke="#ff8b00" d="M1125 190.9h3.6M1125 199.8h3.6M1128 204.3h3.6"/><path stroke="#ff8300" d="M1125 195.4h3.6"/><path stroke="#ff7400" d="M1131 190.9h3.6M1131 199.8h3.6"/><path stroke="#ff6c00" d="M1128 190.9h3.6"/><path stroke="#ff6400" d="M1131 195.4h3.6M1128 199.8h3.6"/><path stroke="#ff5c00" d="M1128 195.4h3.6"/></g></g><line x1="1093.0" y1="105.39999999999999" x2="1093.0" y2="367.0" stroke="#a4a4ff" stroke-width="2" stroke-dasharray="2,2.4"/><clipPath id="cp10"><polygon points="125.0,402.9 505.3,402.9 505.3,660.1 490.5,660.1 490.5,664.7 125.0,664.7"/></clipPath><g clip-path="url(#cp10)"><g fill="none" stroke-width="5.14" filter="url(#hb)"><rect x="119.0" y="398.6" width="394.0" height="270.9" fill="#00009b"/><path stroke="#0000a3" d="M146 400.8h3.6M185 400.8h6.6M203 400.8h9.6M215 400.8h3.6M245 400.8h3.6M254 400.8h6.6M269 400.8h3.6M302 400.8h3.6M314 400.8h3.6M344 400.8h3.6M356 400.8h6.6M407 400.8h6.6M479 400.8h3.6M503 400.8h6.6M146 405.2h3.6M185 405.2h6.6M203 405.2h9.6M215 405.2h3.6M245 405.2h3.6M254 405.2h9.6M269 405.2h3.6M302 405.2h3.6M314 405.2h3.6M344 405.2h3.6M356 405.2h6.6M407 405.2h6.6M479 405.2h3.6M503 405.2h3.6M146 409.7h3.6M185 409.7h6.6M203 409.7h9.6M215 409.7h3.6M245 409.7h3.6M254 409.7h9.6M272 409.7h3.6M302 409.7h3.6M344 409.7h3.6M356 409.7h6.6M407 409.7h6.6M503 409.7h3.6M146 414.1h3.6M182 414.1h9.6M203 414.1h9.6M215 414.1h3.6M245 414.1h3.6M254 414.1h9.6M266 414.1h3.6M272 414.1h3.6M302 414.1h3.6M308 414.1h3.6M344 414.1h3.6M356 414.1h6.6M407 414.1h6.6M503 414.1h3.6M146 418.5h3.6M182 418.5h9.6M203 418.5h9.6M215 418.5h3.6M245 418.5h3.6M254 418.5h15.6M272 418.5h3.6M302 418.5h3.6M308 418.5h3.6M344 418.5h3.6M356 418.5h6.6M407 418.5h6.6M503 418.5h3.6M146 423h3.6M155 423h3.6M182 423h3.6M188 423h3.6M203 423h9.6M215 423h3.6M245 423h3.6M254 423h6.6M263 423h3.6M272 423h3.6M302 423h3.6M308 423h3.6M341 423h6.6M356 423h6.6M407 423h6.6M503 423h3.6M146 427.4h3.6M155 427.4h3.6M182 427.4h3.6M188 427.4h3.6M203 427.4h9.6M215 427.4h3.6M245 427.4h3.6M254 427.4h6.6M272 427.4h3.6M287 427.4h3.6M341 427.4h6.6M356 427.4h6.6M407 427.4h6.6M503 427.4h3.6M509 427.4h3.6M146 431.9h3.6M155 431.9h3.6M182 431.9h3.6M188 431.9h9.6M203 431.9h9.6M215 431.9h3.6M245 431.9h3.6M254 431.9h3.6M272 431.9h3.6M287 431.9h6.6M299 431.9h3.6M338 431.9h9.6M353 431.9h9.6M365 431.9h3.6M374 431.9h3.6M383 431.9h3.6M407 431.9h6.6M503 431.9h3.6M509 431.9h3.6M146 436.3h3.6M155 436.3h3.6M182 436.3h3.6M188 436.3h9.6M203 436.3h9.6M215 436.3h3.6M245 436.3h3.6M254 436.3h3.6M278 436.3h6.6M287 436.3h6.6M296 436.3h6.6M314 436.3h3.6M326 436.3h6.6M335 436.3h3.6M347 436.3h9.6M362 436.3h18.6M383 436.3h3.6M407 436.3h6.6M503 436.3h3.6M509 436.3h3.6M146 440.7h3.6M155 440.7h3.6M170 440.7h6.6M182 440.7h3.6M188 440.7h9.6M203 440.7h9.6M215 440.7h3.6M245 440.7h3.6M254 440.7h3.6M275 440.7h12.6M293 440.7h9.6M311 440.7h24.6M347 440.7h6.6M362 440.7h3.6M371 440.7h3.6M380 440.7h6.6M407 440.7h6.6M503 440.7h3.6M509 440.7h3.6M146 445.2h3.6M155 445.2h3.6M170 445.2h6.6M182 445.2h3.6M191 445.2h6.6M200 445.2h12.6M215 445.2h3.6M245 445.2h3.6M254 445.2h3.6M275 445.2h3.6M311 445.2h3.6M386 445.2h3.6M410 445.2h3.6M416 445.2h3.6M503 445.2h3.6M509 445.2h3.6M146 449.6h3.6M155 449.6h3.6M170 449.6h6.6M182 449.6h3.6M191 449.6h6.6M200 449.6h12.6M215 449.6h3.6M254 449.6h3.6M386 449.6h3.6M416 449.6h3.6M503 449.6h3.6M509 449.6h3.6M146 454.1h3.6M155 454.1h3.6M170 454.1h3.6M182 454.1h3.6M191 454.1h6.6M200 454.1h12.6M215 454.1h3.6M251 454.1h6.6M386 454.1h3.6M416 454.1h3.6M503 454.1h3.6M509 454.1h3.6M146 458.5h3.6M155 458.5h3.6M182 458.5h3.6M191 458.5h6.6M200 458.5h12.6M215 458.5h3.6M251 458.5h6.6M386 458.5h3.6M416 458.5h3.6M503 458.5h3.6M509 458.5h3.6M146 462.9h3.6M155 462.9h3.6M191 462.9h6.6M200 462.9h12.6M215 462.9h3.6M251 462.9h6.6M386 462.9h3.6M416 462.9h3.6M503 462.9h3.6M509 462.9h3.6M146 467.4h3.6M155 467.4h3.6M191 467.4h6.6M200 467.4h12.6M215 467.4h3.6M251 467.4h6.6M416 467.4h3.6M428 467.4h3.6M503 467.4h3.6M509 467.4h3.6M146 471.8h3.6M155 471.8h3.6M191 471.8h6.6M200 471.8h12.6M215 471.8h3.6M248 471.8h9.6M428 471.8h3.6M503 471.8h3.6M509 471.8h3.6M146 476.3h3.6M155 476.3h3.6M200 476.3h12.6M215 476.3h3.6M248 476.3h9.6M428 476.3h3.6M503 476.3h3.6M509 476.3h3.6M146 480.7h3.6M155 480.7h3.6M200 480.7h12.6M215 480.7h3.6M248 480.7h9.6M428 480.7h3.6M503 480.7h3.6M509 480.7h3.6M146 485.2h3.6M197 485.2h15.6M215 485.2h3.6M248 485.2h9.6M428 485.2h3.6M503 485.2h3.6M509 485.2h3.6M146 489.6h3.6M158 489.6h3.6M197 489.6h15.6M215 489.6h3.6M248 489.6h9.6M428 489.6h3.6M509 489.6h3.6M146 494h3.6M158 494h3.6M197 494h15.6M215 494h3.6M248 494h3.6M254 494h3.6M428 494h3.6M509 494h3.6M146 498.5h3.6M158 498.5h3.6M197 498.5h15.6M215 498.5h3.6M248 498.5h3.6M254 498.5h3.6M419 498.5h3.6M428 498.5h3.6M509 498.5h3.6M146 502.9h6.6M158 502.9h3.6M188 502.9h3.6M197 502.9h15.6M215 502.9h3.6M254 502.9h3.6M389 502.9h3.6M419 502.9h3.6M428 502.9h3.6M146 507.4h6.6M158 507.4h3.6M188 507.4h3.6M197 507.4h15.6M254 507.4h3.6M389 507.4h3.6M419 507.4h3.6M428 507.4h3.6M146 511.8h6.6M158 511.8h3.6M188 511.8h3.6M197 511.8h15.6M389 511.8h3.6M419 511.8h3.6M428 511.8h3.6M506 511.8h3.6M137 516.2h3.6M146 516.2h6.6M188 516.2h3.6M197 516.2h15.6M389 516.2h3.6M413 516.2h3.6M419 516.2h3.6M428 516.2h3.6M506 516.2h3.6M137 520.7h3.6M146 520.7h6.6M170 520.7h6.6M188 520.7h3.6M194 520.7h18.6M389 520.7h3.6M413 520.7h3.6M419 520.7h3.6M428 520.7h3.6M506 520.7h3.6M137 525.1h3.6M149 525.1h3.6M164 525.1h3.6M170 525.1h6.6M188 525.1h3.6M194 525.1h18.6M389 525.1h6.6M413 525.1h3.6M419 525.1h3.6M428 525.1h3.6M455 525.1h3.6M476 525.1h6.6M506 525.1h3.6M137 529.6h3.6M164 529.6h3.6M170 529.6h6.6M188 529.6h3.6M194 529.6h3.6M200 529.6h12.6M233 529.6h3.6M389 529.6h6.6M413 529.6h3.6M419 529.6h3.6M428 529.6h3.6M455 529.6h3.6M476 529.6h6.6M137 534h3.6M164 534h3.6M170 534h6.6M188 534h3.6M194 534h3.6M200 534h12.6M233 534h3.6M383 534h3.6M389 534h6.6M413 534h3.6M419 534h3.6M428 534h3.6M455 534h3.6M476 534h6.6M137 538.4h3.6M164 538.4h3.6M188 538.4h3.6M194 538.4h3.6M200 538.4h12.6M233 538.4h3.6M299 538.4h3.6M311 538.4h3.6M317 538.4h9.6M329 538.4h6.6M347 538.4h3.6M380 538.4h6.6M389 538.4h6.6M413 538.4h3.6M419 538.4h3.6M428 538.4h3.6M455 538.4h3.6M476 538.4h6.6M137 542.9h3.6M152 542.9h3.6M164 542.9h3.6M188 542.9h3.6M194 542.9h3.6M200 542.9h12.6M233 542.9h3.6M293 542.9h9.6M311 542.9h3.6M317 542.9h3.6M323 542.9h12.6M344 542.9h3.6M350 542.9h9.6M362 542.9h3.6M368 542.9h6.6M377 542.9h9.6M392 542.9h3.6M413 542.9h3.6M419 542.9h3.6M428 542.9h3.6M476 542.9h6.6M122 547.3h3.6M152 547.3h3.6M164 547.3h3.6M188 547.3h3.6M194 547.3h3.6M200 547.3h12.6M233 547.3h3.6M293 547.3h6.6M302 547.3h3.6M308 547.3h3.6M314 547.3h3.6M335 547.3h3.6M353 547.3h6.6M362 547.3h3.6M368 547.3h9.6M383 547.3h3.6M395 547.3h3.6M413 547.3h3.6M419 547.3h3.6M428 547.3h6.6M476 547.3h6.6M122 551.8h3.6M152 551.8h3.6M164 551.8h3.6M188 551.8h3.6M194 551.8h3.6M200 551.8h12.6M233 551.8h3.6M290 551.8h3.6M296 551.8h3.6M302 551.8h3.6M308 551.8h3.6M314 551.8h3.6M335 551.8h3.6M362 551.8h3.6M374 551.8h3.6M383 551.8h3.6M395 551.8h3.6M413 551.8h3.6M419 551.8h3.6M428 551.8h6.6M452 551.8h3.6M476 551.8h6.6M122 556.2h3.6M152 556.2h3.6M164 556.2h3.6M188 556.2h3.6M194 556.2h3.6M200 556.2h12.6M233 556.2h3.6M284 556.2h9.6M296 556.2h3.6M302 556.2h9.6M359 556.2h9.6M383 556.2h3.6M395 556.2h3.6M413 556.2h3.6M419 556.2h3.6M428 556.2h6.6M452 556.2h3.6M476 556.2h6.6M506 556.2h3.6M122 560.6h3.6M152 560.6h3.6M164 560.6h3.6M188 560.6h3.6M194 560.6h3.6M200 560.6h12.6M233 560.6h3.6M257 560.6h3.6M284 560.6h3.6M296 560.6h3.6M302 560.6h9.6M359 560.6h3.6M365 560.6h3.6M383 560.6h3.6M395 560.6h3.6M413 560.6h3.6M419 560.6h3.6M431 560.6h3.6M452 560.6h3.6M476 560.6h6.6M506 560.6h6.6M152 565.1h3.6M164 565.1h3.6M188 565.1h3.6M200 565.1h12.6M233 565.1h3.6M257 565.1h3.6M296 565.1h3.6M305 565.1h9.6M359 565.1h3.6M365 565.1h3.6M383 565.1h3.6M413 565.1h3.6M419 565.1h3.6M431 565.1h3.6M452 565.1h3.6M476 565.1h6.6M506 565.1h6.6M152 569.5h3.6M164 569.5h3.6M200 569.5h12.6M233 569.5h3.6M257 569.5h3.6M305 569.5h9.6M359 569.5h3.6M383 569.5h3.6M398 569.5h3.6M413 569.5h3.6M419 569.5h3.6M431 569.5h3.6M452 569.5h3.6M458 569.5h3.6M476 569.5h6.6M506 569.5h6.6M152 574h3.6M164 574h3.6M200 574h9.6M233 574h3.6M257 574h3.6M305 574h9.6M359 574h3.6M383 574h3.6M398 574h3.6M413 574h3.6M419 574h3.6M452 574h3.6M458 574h3.6M476 574h6.6M509 574h3.6M152 578.4h3.6M164 578.4h3.6M188 578.4h3.6M203 578.4h6.6M230 578.4h6.6M257 578.4h3.6M284 578.4h3.6M305 578.4h9.6M359 578.4h3.6M398 578.4h3.6M413 578.4h3.6M419 578.4h3.6M452 578.4h3.6M458 578.4h3.6M476 578.4h6.6M509 578.4h3.6M152 582.8h3.6M164 582.8h3.6M188 582.8h3.6M203 582.8h6.6M230 582.8h6.6M257 582.8h3.6M284 582.8h3.6M308 582.8h6.6M359 582.8h3.6M380 582.8h3.6M401 582.8h3.6M413 582.8h3.6M419 582.8h3.6M452 582.8h3.6M458 582.8h3.6M476 582.8h6.6M488 582.8h3.6M503 582.8h3.6M509 582.8h3.6M119 587.3h3.6M152 587.3h3.6M164 587.3h3.6M188 587.3h3.6M203 587.3h6.6M230 587.3h6.6M257 587.3h3.6M284 587.3h6.6M308 587.3h6.6M323 587.3h3.6M359 587.3h3.6M380 587.3h3.6M401 587.3h3.6M413 587.3h3.6M419 587.3h3.6M452 587.3h3.6M458 587.3h3.6M476 587.3h6.6M488 587.3h3.6M503 587.3h3.6M509 587.3h3.6M119 591.7h3.6M134 591.7h3.6M152 591.7h3.6M164 591.7h3.6M179 591.7h3.6M188 591.7h3.6M203 591.7h6.6M230 591.7h6.6M257 591.7h3.6M287 591.7h6.6M296 591.7h3.6M308 591.7h6.6M323 591.7h3.6M359 591.7h3.6M401 591.7h3.6M413 591.7h3.6M419 591.7h3.6M452 591.7h3.6M458 591.7h3.6M476 591.7h6.6M488 591.7h3.6M503 591.7h3.6M509 591.7h3.6M119 596.2h3.6M134 596.2h3.6M152 596.2h3.6M164 596.2h6.6M179 596.2h3.6M188 596.2h3.6M206 596.2h3.6M230 596.2h6.6M290 596.2h9.6M308 596.2h6.6M317 596.2h3.6M323 596.2h3.6M359 596.2h3.6M377 596.2h3.6M404 596.2h3.6M413 596.2h3.6M419 596.2h3.6M452 596.2h3.6M458 596.2h3.6M476 596.2h6.6M488 596.2h3.6M503 596.2h3.6M509 596.2h3.6M119 600.6h3.6M134 600.6h3.6M152 600.6h3.6M161 600.6h21.6M188 600.6h3.6M206 600.6h3.6M230 600.6h6.6M293 600.6h9.6M308 600.6h6.6M317 600.6h3.6M323 600.6h3.6M359 600.6h3.6M404 600.6h3.6M410 600.6h6.6M419 600.6h3.6M452 600.6h3.6M458 600.6h3.6M476 600.6h3.6M488 600.6h3.6M503 600.6h3.6M509 600.6h3.6M125 605.1h3.6M134 605.1h3.6M152 605.1h12.6M170 605.1h9.6M191 605.1h6.6M206 605.1h3.6M230 605.1h6.6M251 605.1h3.6M296 605.1h18.6M317 605.1h3.6M323 605.1h6.6M359 605.1h3.6M374 605.1h3.6M407 605.1h9.6M419 605.1h3.6M452 605.1h3.6M458 605.1h3.6M476 605.1h3.6M488 605.1h3.6M503 605.1h3.6M509 605.1h3.6M125 609.5h3.6M134 609.5h3.6M155 609.5h6.6M191 609.5h12.6M206 609.5h3.6M230 609.5h6.6M248 609.5h6.6M299 609.5h15.6M317 609.5h3.6M323 609.5h6.6M359 609.5h3.6M371 609.5h3.6M410 609.5h3.6M419 609.5h3.6M452 609.5h3.6M458 609.5h3.6M488 609.5h3.6M503 609.5h3.6M509 609.5h3.6M125 613.9h3.6M134 613.9h3.6M191 613.9h12.6M206 613.9h3.6M230 613.9h6.6M245 613.9h6.6M302 613.9h6.6M317 613.9h3.6M323 613.9h6.6M368 613.9h3.6M422 613.9h3.6M452 613.9h3.6M458 613.9h3.6M503 613.9h3.6M509 613.9h3.6M125 618.4h3.6M134 618.4h3.6M194 618.4h9.6M206 618.4h3.6M230 618.4h9.6M242 618.4h6.6M305 618.4h3.6M317 618.4h3.6M323 618.4h6.6M368 618.4h3.6M422 618.4h3.6M452 618.4h3.6M458 618.4h3.6M503 618.4h3.6M509 618.4h3.6M125 622.8h3.6M134 622.8h3.6M194 622.8h9.6M206 622.8h3.6M230 622.8h12.6M317 622.8h3.6M323 622.8h6.6M365 622.8h6.6M422 622.8h3.6M452 622.8h3.6M458 622.8h3.6M503 622.8h3.6M509 622.8h3.6M125 627.3h3.6M134 627.3h3.6M152 627.3h9.6M194 627.3h9.6M206 627.3h3.6M230 627.3h3.6M317 627.3h3.6M326 627.3h3.6M365 627.3h3.6M422 627.3h3.6M452 627.3h3.6M458 627.3h3.6M509 627.3h3.6M125 631.7h3.6M134 631.7h3.6M152 631.7h12.6M194 631.7h9.6M206 631.7h3.6M212 631.7h3.6M227 631.7h3.6M320 631.7h3.6M326 631.7h3.6M365 631.7h3.6M422 631.7h3.6M452 631.7h3.6M458 631.7h3.6M509 631.7h3.6M125 636.1h12.6M149 636.1h27.6M191 636.1h12.6M206 636.1h3.6M212 636.1h3.6M224 636.1h6.6M320 636.1h3.6M326 636.1h3.6M365 636.1h3.6M422 636.1h3.6M452 636.1h3.6M458 636.1h3.6M509 636.1h3.6M125 640.6h12.6M140 640.6h3.6M149 640.6h6.6M164 640.6h18.6M191 640.6h12.6M206 640.6h3.6M212 640.6h3.6M221 640.6h6.6M329 640.6h3.6M335 640.6h3.6M359 640.6h9.6M422 640.6h3.6M452 640.6h3.6M458 640.6h3.6M509 640.6h3.6M125 645h12.6M140 645h6.6M149 645h3.6M164 645h18.6M191 645h12.6M206 645h9.6M218 645h6.6M329 645h9.6M344 645h15.6M422 645h3.6M452 645h3.6M503 645h3.6M125 649.5h12.6M140 649.5h6.6M149 649.5h3.6M176 649.5h6.6M191 649.5h12.6M209 649.5h3.6M218 649.5h3.6M422 649.5h3.6M452 649.5h3.6M503 649.5h3.6M128 653.9h9.6M140 653.9h6.6M149 653.9h3.6M179 653.9h3.6M188 653.9h15.6M209 653.9h3.6M425 653.9h6.6M452 653.9h3.6M503 653.9h3.6M125 658.3h12.6M140 658.3h6.6M149 658.3h3.6M182 658.3h3.6M188 658.3h15.6M425 658.3h12.6M452 658.3h3.6M503 658.3h3.6M122 662.8h15.6M149 662.8h3.6M182 662.8h3.6M188 662.8h15.6M428 662.8h9.6M452 662.8h3.6M503 662.8h6.6M119 667.2h18.6M146 667.2h3.6M182 667.2h3.6M188 667.2h15.6M425 667.2h12.6M452 667.2h3.6M503 667.2h6.6"/><path stroke="#0000ab" d="M155 400.8h3.6M191 400.8h3.6M251 400.8h3.6M287 400.8h3.6M305 400.8h3.6M431 400.8h3.6M155 405.2h3.6M191 405.2h3.6M251 405.2h3.6M287 405.2h3.6M305 405.2h3.6M431 405.2h3.6M506 405.2h3.6M155 409.7h3.6M191 409.7h3.6M251 409.7h3.6M269 409.7h3.6M287 409.7h3.6M305 409.7h3.6M431 409.7h3.6M479 409.7h3.6M506 409.7h3.6M155 414.1h3.6M191 414.1h3.6M251 414.1h3.6M269 414.1h3.6M287 414.1h3.6M305 414.1h3.6M431 414.1h3.6M479 414.1h3.6M506 414.1h3.6M155 418.5h3.6M191 418.5h3.6M251 418.5h3.6M269 418.5h3.6M287 418.5h3.6M431 418.5h3.6M479 418.5h3.6M185 423h3.6M191 423h3.6M251 423h3.6M260 423h3.6M266 423h6.6M287 423h3.6M431 423h3.6M479 423h3.6M185 427.4h3.6M191 427.4h3.6M251 427.4h3.6M260 427.4h9.6M302 427.4h3.6M308 427.4h3.6M431 427.4h3.6M479 427.4h3.6M185 431.9h3.6M251 431.9h3.6M257 431.9h3.6M302 431.9h3.6M308 431.9h3.6M431 431.9h3.6M479 431.9h3.6M185 436.3h3.6M251 436.3h3.6M257 436.3h3.6M272 436.3h3.6M338 436.3h9.6M356 436.3h6.6M431 436.3h3.6M479 436.3h3.6M251 440.7h3.6M257 440.7h3.6M272 440.7h3.6M287 440.7h6.6M335 440.7h3.6M344 440.7h3.6M353 440.7h3.6M365 440.7h6.6M374 440.7h6.6M431 440.7h3.6M188 445.2h3.6M248 445.2h6.6M257 445.2h3.6M284 445.2h3.6M293 445.2h9.6M314 445.2h21.6M347 445.2h3.6M362 445.2h3.6M371 445.2h3.6M380 445.2h6.6M431 445.2h3.6M188 449.6h3.6M248 449.6h6.6M257 449.6h3.6M275 449.6h3.6M383 449.6h3.6M431 449.6h3.6M173 454.1h3.6M188 454.1h3.6M248 454.1h3.6M257 454.1h3.6M431 454.1h3.6M170 458.5h6.6M188 458.5h3.6M248 458.5h3.6M431 458.5h3.6M170 462.9h6.6M182 462.9h3.6M188 462.9h3.6M248 462.9h3.6M431 462.9h3.6M158 467.4h3.6M170 467.4h3.6M182 467.4h3.6M188 467.4h3.6M248 467.4h3.6M386 467.4h3.6M431 467.4h3.6M158 471.8h3.6M182 471.8h3.6M188 471.8h3.6M386 471.8h3.6M416 471.8h3.6M431 471.8h3.6M158 476.3h3.6M182 476.3h3.6M188 476.3h3.6M194 476.3h3.6M386 476.3h3.6M416 476.3h3.6M431 476.3h3.6M158 480.7h3.6M182 480.7h3.6M188 480.7h3.6M194 480.7h3.6M416 480.7h3.6M431 480.7h3.6M158 485.2h3.6M182 485.2h3.6M188 485.2h3.6M194 485.2h3.6M416 485.2h3.6M431 485.2h3.6M479 485.2h3.6M182 489.6h3.6M188 489.6h3.6M194 489.6h3.6M416 489.6h3.6M431 489.6h3.6M479 489.6h3.6M188 494h3.6M194 494h3.6M416 494h3.6M431 494h3.6M479 494h3.6M188 498.5h3.6M194 498.5h3.6M431 498.5h3.6M479 498.5h3.6M194 502.9h3.6M431 502.9h3.6M479 502.9h3.6M506 502.9h3.6M170 507.4h6.6M194 507.4h3.6M215 507.4h3.6M431 507.4h3.6M479 507.4h3.6M506 507.4h3.6M170 511.8h6.6M194 511.8h3.6M215 511.8h3.6M254 511.8h3.6M431 511.8h3.6M479 511.8h3.6M170 516.2h6.6M194 516.2h3.6M215 516.2h3.6M254 516.2h3.6M431 516.2h3.6M479 516.2h3.6M215 520.7h3.6M254 520.7h3.6M431 520.7h3.6M479 520.7h3.6M146 525.1h3.6M215 525.1h3.6M254 525.1h3.6M431 525.1h3.6M146 529.6h6.6M215 529.6h3.6M254 529.6h3.6M383 529.6h3.6M431 529.6h3.6M146 534h6.6M215 534h3.6M254 534h3.6M299 534h3.6M311 534h3.6M317 534h9.6M332 534h3.6M347 534h3.6M380 534h3.6M431 534h3.6M146 538.4h6.6M215 538.4h3.6M254 538.4h6.6M293 538.4h6.6M302 538.4h3.6M314 538.4h3.6M326 538.4h3.6M344 538.4h3.6M350 538.4h9.6M362 538.4h3.6M371 538.4h3.6M377 538.4h3.6M431 538.4h3.6M146 542.9h6.6M254 542.9h6.6M302 542.9h3.6M308 542.9h3.6M314 542.9h3.6M335 542.9h3.6M359 542.9h3.6M374 542.9h3.6M389 542.9h3.6M431 542.9h3.6M455 542.9h3.6M137 547.3h3.6M146 547.3h6.6M254 547.3h6.6M278 547.3h3.6M290 547.3h3.6M305 547.3h3.6M359 547.3h3.6M365 547.3h3.6M389 547.3h6.6M455 547.3h3.6M137 551.8h3.6M149 551.8h3.6M257 551.8h3.6M278 551.8h3.6M284 551.8h6.6M305 551.8h3.6M338 551.8h3.6M359 551.8h3.6M365 551.8h3.6M389 551.8h6.6M455 551.8h3.6M137 556.2h3.6M149 556.2h3.6M257 556.2h3.6M278 556.2h6.6M314 556.2h3.6M338 556.2h3.6M392 556.2h3.6M137 560.6h3.6M149 560.6h3.6M278 560.6h6.6M314 560.6h3.6M338 560.6h3.6M122 565.1h3.6M137 565.1h3.6M260 565.1h3.6M278 565.1h6.6M314 565.1h3.6M338 565.1h3.6M395 565.1h3.6M122 569.5h3.6M260 569.5h3.6M278 569.5h6.6M314 569.5h3.6M338 569.5h3.6M395 569.5h3.6M122 574h3.6M260 574h3.6M281 574h3.6M314 574h3.6M338 574h3.6M506 574h3.6M122 578.4h3.6M260 578.4h3.6M281 578.4h3.6M314 578.4h3.6M338 578.4h3.6M383 578.4h3.6M506 578.4h3.6M122 582.8h3.6M149 582.8h3.6M260 582.8h3.6M338 582.8h3.6M398 582.8h3.6M506 582.8h3.6M122 587.3h3.6M149 587.3h3.6M260 587.3h3.6M506 587.3h3.6M122 591.7h3.6M149 591.7h3.6M284 591.7h3.6M380 591.7h3.6M149 596.2h3.6M203 596.2h3.6M257 596.2h3.6M287 596.2h3.6M401 596.2h3.6M149 600.6h3.6M203 600.6h3.6M257 600.6h3.6M290 600.6h3.6M377 600.6h3.6M119 605.1h3.6M149 605.1h3.6M164 605.1h6.6M179 605.1h3.6M188 605.1h3.6M203 605.1h3.6M212 605.1h3.6M290 605.1h6.6M404 605.1h3.6M119 609.5h3.6M149 609.5h6.6M161 609.5h3.6M167 609.5h15.6M188 609.5h3.6M203 609.5h3.6M212 609.5h3.6M293 609.5h6.6M374 609.5h3.6M407 609.5h3.6M413 609.5h3.6M119 613.9h3.6M149 613.9h15.6M203 613.9h3.6M212 613.9h3.6M251 613.9h3.6M299 613.9h3.6M308 613.9h6.6M371 613.9h3.6M410 613.9h6.6M419 613.9h3.6M119 618.4h6.6M149 618.4h12.6M191 618.4h3.6M203 618.4h3.6M212 618.4h3.6M248 618.4h3.6M302 618.4h3.6M308 618.4h6.6M371 618.4h3.6M413 618.4h3.6M419 618.4h3.6M119 622.8h6.6M149 622.8h15.6M191 622.8h3.6M203 622.8h3.6M212 622.8h3.6M242 622.8h3.6M305 622.8h9.6M419 622.8h3.6M119 627.3h6.6M149 627.3h3.6M161 627.3h3.6M170 627.3h3.6M191 627.3h3.6M203 627.3h3.6M212 627.3h6.6M233 627.3h9.6M323 627.3h3.6M341 627.3h3.6M368 627.3h3.6M419 627.3h3.6M503 627.3h3.6M119 631.7h6.6M146 631.7h6.6M164 631.7h18.6M191 631.7h3.6M203 631.7h3.6M215 631.7h3.6M230 631.7h3.6M317 631.7h3.6M323 631.7h3.6M341 631.7h3.6M368 631.7h3.6M419 631.7h3.6M503 631.7h3.6M119 636.1h6.6M146 636.1h3.6M176 636.1h6.6M203 636.1h3.6M215 636.1h3.6M230 636.1h3.6M323 636.1h3.6M341 636.1h3.6M368 636.1h3.6M419 636.1h3.6M503 636.1h3.6M119 640.6h6.6M146 640.6h3.6M188 640.6h3.6M203 640.6h3.6M215 640.6h3.6M227 640.6h3.6M320 640.6h9.6M341 640.6h3.6M368 640.6h3.6M419 640.6h3.6M503 640.6h6.6M119 645h6.6M146 645h3.6M182 645h3.6M188 645h3.6M203 645h3.6M215 645h3.6M224 645h6.6M359 645h9.6M419 645h3.6M506 645h3.6M119 649.5h6.6M146 649.5h3.6M182 649.5h3.6M188 649.5h3.6M203 649.5h6.6M212 649.5h3.6M221 649.5h6.6M419 649.5h3.6M506 649.5h3.6M119 653.9h9.6M146 653.9h3.6M182 653.9h3.6M203 653.9h6.6M212 653.9h3.6M218 653.9h3.6M422 653.9h3.6M506 653.9h3.6M119 658.3h6.6M137 658.3h3.6M146 658.3h3.6M203 658.3h9.6M422 658.3h3.6M506 658.3h3.6M119 662.8h3.6M137 662.8h3.6M146 662.8h3.6M203 662.8h9.6M422 662.8h6.6M137 667.2h3.6M185 667.2h3.6M203 667.2h12.6M422 667.2h3.6"/><path stroke="#0000b3" d="M212 400.8h3.6M248 400.8h3.6M212 405.2h3.6M248 405.2h3.6M212 409.7h3.6M248 409.7h3.6M212 414.1h3.6M248 414.1h3.6M212 418.5h3.6M248 418.5h3.6M305 418.5h3.6M506 418.5h3.6M212 423h3.6M248 423h3.6M305 423h3.6M506 423h3.6M212 427.4h3.6M248 427.4h3.6M269 427.4h3.6M305 427.4h3.6M506 427.4h3.6M212 431.9h3.6M248 431.9h3.6M260 431.9h6.6M158 436.3h3.6M212 436.3h3.6M248 436.3h3.6M260 436.3h3.6M302 436.3h3.6M308 436.3h3.6M158 440.7h3.6M185 440.7h3.6M212 440.7h3.6M248 440.7h3.6M302 440.7h3.6M338 440.7h6.6M356 440.7h6.6M479 440.7h3.6M158 445.2h3.6M185 445.2h3.6M212 445.2h3.6M272 445.2h3.6M278 445.2h6.6M287 445.2h6.6M335 445.2h3.6M344 445.2h3.6M350 445.2h6.6M368 445.2h3.6M377 445.2h3.6M479 445.2h3.6M158 449.6h3.6M185 449.6h3.6M212 449.6h3.6M272 449.6h3.6M284 449.6h3.6M293 449.6h6.6M311 449.6h3.6M317 449.6h6.6M380 449.6h3.6M479 449.6h3.6M158 454.1h3.6M185 454.1h3.6M212 454.1h3.6M275 454.1h3.6M383 454.1h3.6M479 454.1h3.6M158 458.5h3.6M185 458.5h3.6M212 458.5h3.6M257 458.5h3.6M479 458.5h3.6M158 462.9h3.6M212 462.9h3.6M257 462.9h3.6M479 462.9h3.6M173 467.4h3.6M212 467.4h3.6M257 467.4h3.6M479 467.4h3.6M170 471.8h6.6M212 471.8h3.6M257 471.8h3.6M479 471.8h3.6M170 476.3h6.6M212 476.3h3.6M257 476.3h3.6M479 476.3h3.6M170 480.7h6.6M212 480.7h3.6M257 480.7h3.6M386 480.7h3.6M479 480.7h3.6M170 485.2h6.6M212 485.2h3.6M257 485.2h3.6M386 485.2h3.6M170 489.6h6.6M212 489.6h3.6M257 489.6h3.6M386 489.6h3.6M170 494h6.6M182 494h3.6M212 494h3.6M257 494h3.6M386 494h3.6M506 494h3.6M170 498.5h6.6M182 498.5h3.6M212 498.5h3.6M257 498.5h3.6M386 498.5h3.6M416 498.5h3.6M506 498.5h3.6M170 502.9h6.6M182 502.9h3.6M212 502.9h3.6M257 502.9h3.6M386 502.9h3.6M416 502.9h3.6M182 507.4h3.6M257 507.4h3.6M386 507.4h3.6M416 507.4h3.6M182 511.8h3.6M257 511.8h3.6M386 511.8h3.6M416 511.8h3.6M182 516.2h3.6M257 516.2h3.6M386 516.2h3.6M416 516.2h3.6M257 520.7h3.6M386 520.7h3.6M416 520.7h3.6M257 525.1h3.6M383 525.1h6.6M257 529.6h3.6M311 529.6h3.6M386 529.6h3.6M257 534h3.6M296 534h3.6M314 534h3.6M326 534h6.6M344 534h3.6M350 534h3.6M362 534h3.6M371 534h3.6M377 534h3.6M386 534h3.6M275 538.4h3.6M308 538.4h3.6M335 538.4h3.6M359 538.4h3.6M368 538.4h3.6M374 538.4h3.6M386 538.4h3.6M215 542.9h3.6M275 542.9h6.6M290 542.9h3.6M305 542.9h3.6M365 542.9h3.6M386 542.9h3.6M215 547.3h3.6M275 547.3h3.6M284 547.3h6.6M338 547.3h3.6M146 551.8h3.6M215 551.8h3.6M254 551.8h3.6M275 551.8h3.6M281 551.8h3.6M341 551.8h3.6M146 556.2h3.6M215 556.2h3.6M254 556.2h3.6M260 556.2h3.6M275 556.2h3.6M341 556.2h3.6M389 556.2h3.6M455 556.2h3.6M146 560.6h3.6M215 560.6h3.6M254 560.6h3.6M260 560.6h3.6M341 560.6h3.6M389 560.6h6.6M455 560.6h3.6M146 565.1h6.6M215 565.1h3.6M254 565.1h3.6M341 565.1h3.6M392 565.1h3.6M137 569.5h3.6M146 569.5h6.6M215 569.5h3.6M254 569.5h3.6M341 569.5h3.6M137 574h3.6M146 574h6.6M215 574h3.6M254 574h3.6M278 574h3.6M341 574h3.6M395 574h3.6M137 578.4h3.6M146 578.4h6.6M212 578.4h6.6M254 578.4h3.6M278 578.4h3.6M341 578.4h3.6M395 578.4h3.6M146 582.8h3.6M212 582.8h6.6M254 582.8h3.6M281 582.8h3.6M314 582.8h3.6M341 582.8h3.6M383 582.8h3.6M146 587.3h3.6M212 587.3h6.6M254 587.3h3.6M281 587.3h3.6M314 587.3h3.6M338 587.3h6.6M383 587.3h3.6M398 587.3h3.6M146 591.7h3.6M212 591.7h6.6M254 591.7h3.6M260 591.7h3.6M314 591.7h3.6M338 591.7h6.6M506 591.7h3.6M122 596.2h3.6M146 596.2h3.6M212 596.2h6.6M260 596.2h3.6M284 596.2h3.6M314 596.2h3.6M338 596.2h6.6M380 596.2h3.6M416 596.2h3.6M506 596.2h3.6M122 600.6h3.6M146 600.6h3.6M212 600.6h6.6M287 600.6h3.6M338 600.6h6.6M401 600.6h3.6M416 600.6h3.6M506 600.6h3.6M122 605.1h3.6M146 605.1h3.6M215 605.1h3.6M257 605.1h3.6M338 605.1h6.6M377 605.1h3.6M416 605.1h3.6M506 605.1h3.6M122 609.5h3.6M146 609.5h3.6M164 609.5h3.6M215 609.5h3.6M338 609.5h6.6M416 609.5h3.6M506 609.5h3.6M122 613.9h3.6M146 613.9h3.6M164 613.9h18.6M188 613.9h3.6M215 613.9h3.6M296 613.9h3.6M338 613.9h6.6M374 613.9h3.6M407 613.9h3.6M416 613.9h3.6M506 613.9h3.6M146 618.4h3.6M161 618.4h21.6M188 618.4h3.6M215 618.4h3.6M299 618.4h3.6M338 618.4h6.6M410 618.4h3.6M416 618.4h3.6M506 618.4h3.6M146 622.8h3.6M164 622.8h18.6M188 622.8h3.6M215 622.8h3.6M245 622.8h3.6M302 622.8h3.6M338 622.8h6.6M371 622.8h3.6M410 622.8h9.6M506 622.8h3.6M146 627.3h3.6M164 627.3h6.6M173 627.3h9.6M188 627.3h3.6M242 627.3h3.6M308 627.3h6.6M338 627.3h3.6M371 627.3h3.6M410 627.3h9.6M506 627.3h3.6M188 631.7h3.6M233 631.7h6.6M338 631.7h3.6M371 631.7h3.6M410 631.7h9.6M506 631.7h3.6M182 636.1h3.6M188 636.1h3.6M233 636.1h3.6M317 636.1h3.6M338 636.1h3.6M371 636.1h3.6M410 636.1h9.6M506 636.1h3.6M137 640.6h3.6M182 640.6h3.6M230 640.6h3.6M317 640.6h3.6M338 640.6h3.6M371 640.6h3.6M410 640.6h9.6M137 645h3.6M230 645h3.6M320 645h9.6M341 645h3.6M368 645h3.6M410 645h9.6M137 649.5h3.6M215 649.5h3.6M227 649.5h3.6M332 649.5h3.6M344 649.5h15.6M416 649.5h3.6M137 653.9h3.6M215 653.9h3.6M221 653.9h3.6M419 653.9h3.6M185 658.3h3.6M212 658.3h3.6M218 658.3h3.6M419 658.3h3.6M185 662.8h3.6M212 662.8h3.6M218 662.8h3.6M419 662.8h3.6M455 662.8h3.6M218 667.2h6.6M407 667.2h3.6M416 667.2h6.6M455 667.2h3.6"/><path stroke="#0000bb" d="M158 400.8h3.6M158 405.2h3.6M158 409.7h3.6M158 414.1h3.6M158 418.5h3.6M158 423h3.6M158 427.4h3.6M158 431.9h3.6M266 431.9h6.6M305 431.9h3.6M506 431.9h3.6M263 436.3h3.6M506 436.3h3.6M260 440.7h3.6M308 440.7h3.6M506 440.7h3.6M302 445.2h3.6M341 445.2h3.6M356 445.2h6.6M365 445.2h3.6M374 445.2h3.6M278 449.6h3.6M287 449.6h3.6M299 449.6h3.6M314 449.6h3.6M323 449.6h12.6M347 449.6h6.6M362 449.6h3.6M371 449.6h3.6M272 454.1h3.6M311 454.1h3.6M272 458.5h3.6M383 458.5h3.6M185 462.9h3.6M185 467.4h3.6M185 471.8h3.6M185 476.3h3.6M185 480.7h3.6M506 480.7h3.6M506 485.2h3.6M506 489.6h3.6M212 507.4h3.6M212 511.8h3.6M212 516.2h3.6M182 520.7h3.6M212 520.7h3.6M383 520.7h3.6M182 525.1h3.6M212 525.1h3.6M416 525.1h3.6M182 529.6h3.6M212 529.6h3.6M299 529.6h3.6M317 529.6h9.6M332 529.6h3.6M347 529.6h3.6M380 529.6h3.6M416 529.6h3.6M182 534h3.6M212 534h3.6M275 534h3.6M293 534h3.6M302 534h3.6M308 534h3.6M353 534h9.6M368 534h3.6M416 534h3.6M182 538.4h3.6M212 538.4h3.6M278 538.4h3.6M305 538.4h3.6M365 538.4h3.6M416 538.4h3.6M182 542.9h3.6M212 542.9h3.6M287 542.9h3.6M338 542.9h6.6M416 542.9h3.6M182 547.3h3.6M212 547.3h3.6M281 547.3h3.6M341 547.3h3.6M386 547.3h3.6M416 547.3h3.6M182 551.8h3.6M212 551.8h3.6M260 551.8h3.6M386 551.8h3.6M416 551.8h3.6M182 556.2h3.6M212 556.2h3.6M386 556.2h3.6M416 556.2h3.6M182 560.6h3.6M212 560.6h3.6M269 560.6h3.6M275 560.6h3.6M386 560.6h3.6M416 560.6h3.6M182 565.1h3.6M212 565.1h3.6M263 565.1h9.6M275 565.1h3.6M389 565.1h3.6M416 565.1h3.6M455 565.1h3.6M182 569.5h3.6M212 569.5h3.6M263 569.5h9.6M275 569.5h3.6M389 569.5h6.6M416 569.5h3.6M455 569.5h3.6M182 574h3.6M212 574h3.6M263 574h9.6M416 574h3.6M455 574h3.6M182 578.4h3.6M263 578.4h6.6M416 578.4h3.6M137 582.8h3.6M182 582.8h3.6M278 582.8h3.6M395 582.8h3.6M416 582.8h3.6M137 587.3h3.6M182 587.3h3.6M278 587.3h3.6M416 587.3h3.6M137 591.7h3.6M182 591.7h3.6M281 591.7h3.6M383 591.7h3.6M398 591.7h3.6M416 591.7h3.6M137 596.2h3.6M182 596.2h3.6M254 596.2h3.6M137 600.6h3.6M182 600.6h3.6M254 600.6h3.6M260 600.6h3.6M284 600.6h3.6M314 600.6h3.6M380 600.6h3.6M182 605.1h3.6M287 605.1h3.6M314 605.1h3.6M257 609.5h3.6M290 609.5h3.6M314 609.5h3.6M377 609.5h3.6M404 609.5h3.6M293 613.9h3.6M314 613.9h3.6M251 618.4h3.6M296 618.4h3.6M314 618.4h3.6M407 618.4h3.6M137 622.8h3.6M248 622.8h3.6M299 622.8h3.6M314 622.8h3.6M407 622.8h3.6M137 627.3h3.6M182 627.3h3.6M305 627.3h3.6M137 631.7h3.6M182 631.7h3.6M239 631.7h3.6M311 631.7h3.6M137 636.1h3.6M236 636.1h3.6M407 636.1h3.6M233 640.6h3.6M374 640.6h3.6M407 640.6h3.6M233 645h3.6M317 645h3.6M338 645h3.6M371 645h3.6M407 645h3.6M455 645h3.6M185 649.5h3.6M230 649.5h3.6M329 649.5h3.6M335 649.5h3.6M359 649.5h12.6M407 649.5h9.6M455 649.5h3.6M185 653.9h3.6M224 653.9h3.6M410 653.9h9.6M455 653.9h3.6M215 658.3h3.6M221 658.3h3.6M416 658.3h3.6M455 658.3h3.6M215 662.8h3.6M221 662.8h3.6M416 662.8h3.6M215 667.2h3.6M224 667.2h6.6M401 667.2h6.6M410 667.2h6.6"/><path stroke="#0000c3" d="M266 436.3h6.6M305 436.3h3.6M260 445.2h3.6M308 445.2h3.6M338 445.2h3.6M506 445.2h3.6M281 449.6h3.6M290 449.6h3.6M335 449.6h3.6M344 449.6h3.6M353 449.6h3.6M359 449.6h3.6M368 449.6h3.6M377 449.6h3.6M506 449.6h3.6M296 454.1h3.6M320 454.1h3.6M380 454.1h3.6M506 454.1h3.6M275 458.5h3.6M506 458.5h3.6M272 462.9h3.6M383 462.9h3.6M506 462.9h3.6M272 467.4h3.6M506 467.4h3.6M506 471.8h3.6M506 476.3h3.6M185 485.2h3.6M185 489.6h3.6M185 494h3.6M185 498.5h3.6M185 502.9h3.6M185 507.4h3.6M185 511.8h3.6M185 516.2h3.6M185 520.7h3.6M185 525.1h3.6M311 525.1h3.6M185 529.6h3.6M275 529.6h3.6M293 529.6h6.6M302 529.6h3.6M314 529.6h3.6M326 529.6h6.6M344 529.6h3.6M350 529.6h3.6M362 529.6h3.6M371 529.6h3.6M185 534h3.6M335 534h3.6M374 534h3.6M185 538.4h3.6M290 538.4h3.6M338 538.4h6.6M185 542.9h3.6M281 542.9h6.6M185 547.3h3.6M260 547.3h3.6M185 551.8h3.6M185 556.2h3.6M269 556.2h3.6M185 560.6h3.6M263 560.6h6.6M185 565.1h3.6M386 565.1h3.6M185 569.5h3.6M386 569.5h3.6M185 574h3.6M275 574h3.6M389 574h6.6M185 578.4h3.6M269 578.4h3.6M392 578.4h3.6M455 578.4h3.6M185 582.8h3.6M263 582.8h6.6M455 582.8h3.6M185 587.3h3.6M263 587.3h6.6M395 587.3h3.6M185 591.7h3.6M278 591.7h3.6M185 596.2h3.6M281 596.2h3.6M383 596.2h3.6M398 596.2h3.6M137 605.1h3.6M254 605.1h3.6M260 605.1h3.6M380 605.1h3.6M401 605.1h3.6M137 609.5h3.6M182 609.5h3.6M254 609.5h3.6M137 613.9h3.6M182 613.9h3.6M290 613.9h3.6M404 613.9h3.6M137 618.4h3.6M182 618.4h3.6M293 618.4h3.6M374 618.4h3.6M182 622.8h3.6M374 622.8h3.6M245 627.3h3.6M302 627.3h3.6M314 627.3h3.6M374 627.3h3.6M407 627.3h3.6M308 631.7h3.6M374 631.7h3.6M407 631.7h3.6M455 631.7h3.6M239 636.1h3.6M311 636.1h3.6M374 636.1h3.6M455 636.1h3.6M236 640.6h6.6M311 640.6h3.6M455 640.6h3.6M185 645h3.6M236 645h3.6M374 645h3.6M404 645h3.6M320 649.5h3.6M326 649.5h3.6M341 649.5h3.6M371 649.5h3.6M404 649.5h3.6M227 653.9h3.6M407 653.9h3.6M224 658.3h3.6M407 658.3h9.6M224 662.8h3.6M404 662.8h12.6M230 667.2h3.6M395 667.2h6.6"/><path stroke="#0000cb" d="M263 440.7h3.6M269 440.7h3.6M305 440.7h3.6M260 449.6h3.6M302 449.6h3.6M356 449.6h3.6M365 449.6h3.6M374 449.6h3.6M284 454.1h6.6M293 454.1h3.6M299 454.1h3.6M314 454.1h6.6M323 454.1h12.6M347 454.1h3.6M362 454.1h3.6M272 471.8h3.6M272 476.3h3.6M383 516.2h3.6M272 525.1h6.6M299 525.1h3.6M317 525.1h6.6M347 525.1h3.6M380 525.1h3.6M272 529.6h3.6M308 529.6h3.6M353 529.6h9.6M377 529.6h3.6M272 534h3.6M278 534h3.6M305 534h3.6M365 534h3.6M260 538.4h3.6M272 538.4h3.6M287 538.4h3.6M260 542.9h3.6M272 542.9h3.6M272 547.3h3.6M272 551.8h3.6M263 556.2h6.6M272 556.2h3.6M272 560.6h3.6M386 574h3.6M275 578.4h3.6M389 578.4h3.6M269 582.8h3.6M275 582.8h3.6M392 582.8h3.6M269 587.3h3.6M455 587.3h3.6M263 591.7h6.6M395 591.7h3.6M455 591.7h3.6M278 596.2h3.6M455 596.2h3.6M185 600.6h3.6M281 600.6h3.6M398 600.6h3.6M455 600.6h3.6M185 605.1h3.6M284 605.1h3.6M455 605.1h3.6M287 609.5h3.6M401 609.5h3.6M455 609.5h3.6M257 613.9h3.6M377 613.9h3.6M455 613.9h3.6M455 618.4h3.6M251 622.8h3.6M296 622.8h3.6M455 622.8h3.6M248 627.3h3.6M455 627.3h3.6M242 631.7h3.6M305 631.7h3.6M314 631.7h3.6M185 636.1h3.6M308 636.1h3.6M314 636.1h3.6M404 636.1h3.6M185 640.6h3.6M308 640.6h3.6M377 640.6h3.6M404 640.6h3.6M239 645h3.6M311 645h3.6M377 645h3.6M401 645h3.6M233 649.5h6.6M317 649.5h3.6M323 649.5h3.6M338 649.5h3.6M374 649.5h3.6M401 649.5h3.6M230 653.9h3.6M347 653.9h12.6M404 653.9h3.6M227 658.3h3.6M404 658.3h3.6M227 662.8h3.6M401 662.8h3.6M233 667.2h6.6M389 667.2h6.6"/><path stroke="#0000d3" d="M266 440.7h3.6M263 445.2h3.6M269 445.2h3.6M305 445.2h3.6M308 449.6h3.6M338 449.6h6.6M260 454.1h3.6M278 454.1h6.6M350 454.1h3.6M371 454.1h3.6M377 454.1h3.6M260 458.5h3.6M311 458.5h3.6M275 462.9h3.6M383 467.4h3.6M272 480.7h3.6M272 485.2h3.6M272 489.6h3.6M272 494h3.6M272 498.5h3.6M272 502.9h3.6M272 507.4h3.6M272 511.8h3.6M383 511.8h3.6M272 516.2h3.6M272 520.7h6.6M260 525.1h3.6M296 525.1h3.6M314 525.1h3.6M323 525.1h12.6M260 529.6h3.6M335 529.6h3.6M368 529.6h3.6M374 529.6h3.6M260 534h3.6M290 534h3.6M338 534h6.6M281 538.4h6.6M269 551.8h3.6M272 565.1h3.6M272 569.5h3.6M386 578.4h3.6M386 582.8h6.6M275 587.3h3.6M392 587.3h3.6M269 591.7h3.6M263 596.2h6.6M278 600.6h3.6M383 600.6h3.6M281 605.1h3.6M185 609.5h3.6M260 609.5h3.6M284 609.5h3.6M380 609.5h3.6M185 613.9h3.6M254 613.9h3.6M185 618.4h3.6M290 618.4h3.6M377 618.4h3.6M404 618.4h3.6M185 622.8h3.6M404 622.8h3.6M185 627.3h3.6M299 627.3h3.6M404 627.3h3.6M185 631.7h3.6M245 631.7h3.6M377 631.7h3.6M404 631.7h3.6M242 636.1h3.6M305 636.1h3.6M377 636.1h3.6M242 640.6h3.6M305 640.6h3.6M314 640.6h3.6M401 640.6h3.6M308 645h3.6M380 645h3.6M239 649.5h3.6M377 649.5h6.6M398 649.5h3.6M233 653.9h3.6M329 653.9h9.6M344 653.9h3.6M359 653.9h12.6M398 653.9h6.6M230 658.3h3.6M401 658.3h3.6M230 662.8h3.6M395 662.8h6.6M239 667.2h6.6M353 667.2h6.6M362 667.2h27.6"/><path stroke="#0000db" d="M290 454.1h3.6M302 454.1h3.6M335 454.1h3.6M344 454.1h3.6M353 454.1h9.6M368 454.1h3.6M293 458.5h9.6M317 458.5h6.6M380 458.5h3.6M260 462.9h3.6M260 467.4h3.6M260 471.8h3.6M383 471.8h3.6M260 502.9h3.6M260 507.4h3.6M383 507.4h3.6M260 511.8h3.6M260 516.2h3.6M260 520.7h3.6M311 520.7h3.6M293 525.1h3.6M302 525.1h3.6M308 525.1h3.6M344 525.1h3.6M350 525.1h3.6M362 525.1h3.6M371 525.1h3.6M377 525.1h3.6M278 529.6h3.6M305 529.6h3.6M365 529.6h3.6M269 547.3h3.6M263 551.8h3.6M272 574h3.6M386 587.3h6.6M275 591.7h3.6M269 596.2h3.6M395 596.2h3.6M263 600.6h6.6M398 605.1h3.6M260 613.9h3.6M287 613.9h3.6M254 618.4h6.6M293 622.8h3.6M377 622.8h3.6M251 627.3h3.6M377 627.3h3.6M302 631.7h3.6M245 636.1h3.6M401 636.1h3.6M380 640.6h3.6M242 645h3.6M305 645h3.6M314 645h3.6M383 645h3.6M398 645h3.6M242 649.5h3.6M311 649.5h3.6M383 649.5h3.6M392 649.5h6.6M236 653.9h3.6M326 653.9h3.6M341 653.9h3.6M371 653.9h6.6M395 653.9h3.6M233 658.3h3.6M395 658.3h6.6M233 662.8h6.6M392 662.8h3.6M245 667.2h6.6M329 667.2h9.6M344 667.2h9.6M359 667.2h3.6"/><path stroke="#0000e3" d="M266 445.2h3.6M263 449.6h3.6M269 449.6h3.6M305 449.6h3.6M308 454.1h3.6M341 454.1h3.6M365 454.1h3.6M374 454.1h3.6M284 458.5h3.6M314 458.5h3.6M323 458.5h6.6M332 458.5h3.6M347 458.5h3.6M362 458.5h3.6M275 467.4h3.6M260 476.3h3.6M383 476.3h3.6M260 480.7h3.6M260 485.2h3.6M260 489.6h3.6M260 494h3.6M260 498.5h3.6M383 502.9h3.6M275 516.2h3.6M299 520.7h3.6M320 520.7h3.6M380 520.7h3.6M353 525.1h9.6M341 529.6h3.6M281 534h3.6M287 534h3.6M266 551.8h3.6M272 578.4h3.6M386 591.7h9.6M275 596.2h3.6M269 600.6h3.6M395 600.6h3.6M263 605.1h3.6M278 605.1h3.6M383 605.1h3.6M281 609.5h3.6M380 613.9h3.6M401 613.9h3.6M296 627.3h3.6M401 631.7h3.6M302 636.1h3.6M380 636.1h3.6M245 640.6h3.6M302 640.6h3.6M383 640.6h3.6M398 640.6h3.6M245 645h3.6M389 645h9.6M308 649.5h3.6M386 649.5h6.6M239 653.9h3.6M320 653.9h6.6M338 653.9h3.6M377 653.9h9.6M389 653.9h6.6M236 658.3h3.6M347 658.3h12.6M392 658.3h3.6M239 662.8h3.6M383 662.8h9.6M251 667.2h3.6M320 667.2h9.6M341 667.2h3.6"/><path stroke="#0000eb" d="M263 454.1h3.6M269 454.1h3.6M269 458.5h3.6M278 458.5h3.6M287 458.5h3.6M329 458.5h3.6M350 458.5h3.6M371 458.5h3.6M377 458.5h3.6M311 462.9h3.6M383 480.7h3.6M383 498.5h3.6M296 520.7h3.6M314 520.7h6.6M323 520.7h3.6M347 520.7h3.6M305 525.1h3.6M335 525.1h3.6M368 525.1h3.6M290 529.6h3.6M338 529.6h3.6M284 534h3.6M269 542.9h3.6M263 547.3h3.6M272 582.8h3.6M389 596.2h6.6M275 600.6h3.6M266 605.1h3.6M263 609.5h3.6M398 609.5h3.6M284 613.9h3.6M287 618.4h3.6M401 618.4h3.6M290 622.8h3.6M401 622.8h3.6M401 627.3h3.6M248 631.7h3.6M299 631.7h3.6M380 631.7h3.6M395 640.6h3.6M302 645h3.6M386 645h3.6M245 649.5h3.6M305 649.5h3.6M314 649.5h3.6M242 653.9h3.6M317 653.9h3.6M386 653.9h3.6M239 658.3h3.6M329 658.3h9.6M344 658.3h3.6M359 658.3h33.6M242 662.8h3.6M332 662.8h3.6M344 662.8h39.6M257 667.2h6.6M302 667.2h12.6M317 667.2h3.6M338 667.2h3.6"/><path stroke="#0000f3" d="M266 449.6h3.6M305 454.1h3.6M338 454.1h3.6M263 458.5h3.6M281 458.5h3.6M302 458.5h3.6M344 458.5h3.6M353 458.5h9.6M269 462.9h3.6M296 462.9h3.6M380 462.9h3.6M269 467.4h3.6M269 471.8h3.6M275 471.8h3.6M383 485.2h3.6M383 489.6h3.6M383 494h3.6M275 511.8h3.6M311 516.2h3.6M302 520.7h3.6M308 520.7h3.6M326 520.7h9.6M350 520.7h3.6M362 520.7h3.6M278 525.1h3.6M365 525.1h3.6M374 525.1h3.6M269 529.6h3.6M269 534h3.6M269 538.4h3.6M263 542.9h3.6M266 547.3h3.6M272 587.3h3.6M386 596.2h3.6M269 605.1h3.6M395 605.1h3.6M266 609.5h3.6M278 609.5h3.6M383 609.5h3.6M281 613.9h3.6M260 618.4h3.6M380 618.4h3.6M254 622.8h6.6M380 622.8h3.6M293 627.3h3.6M380 627.3h3.6M248 636.1h3.6M299 636.1h3.6M383 636.1h3.6M398 636.1h3.6M248 640.6h3.6M299 640.6h3.6M389 640.6h6.6M248 645h3.6M248 649.5h3.6M245 653.9h3.6M311 653.9h3.6M242 658.3h3.6M320 658.3h3.6M326 658.3h3.6M341 658.3h3.6M245 662.8h3.6M329 662.8h3.6M335 662.8h3.6M254 667.2h3.6M263 667.2h6.6M293 667.2h9.6"/><path stroke="#0000fb" d="M290 458.5h3.6M308 458.5h3.6M335 458.5h3.6M365 458.5h6.6M263 462.9h3.6M293 462.9h3.6M299 462.9h3.6M314 462.9h12.6M269 476.3h3.6M269 480.7h3.6M269 485.2h3.6M269 489.6h3.6M269 494h3.6M269 498.5h3.6M269 502.9h3.6M269 507.4h3.6M269 511.8h3.6M269 516.2h3.6M380 516.2h3.6M269 520.7h3.6M293 520.7h3.6M344 520.7h3.6M353 520.7h9.6M371 520.7h3.6M377 520.7h3.6M269 525.1h3.6M341 525.1h3.6M281 529.6h3.6M287 529.6h3.6M263 538.4h3.6M272 591.7h3.6M386 600.6h9.6M275 605.1h3.6M263 613.9h3.6M284 618.4h3.6M251 631.7h3.6M296 631.7h3.6M398 631.7h3.6M395 636.1h3.6M386 640.6h3.6M299 645h3.6M302 649.5h3.6M248 653.9h3.6M308 653.9h3.6M245 658.3h3.6M323 658.3h3.6M338 658.3h3.6M248 662.8h6.6M320 662.8h9.6M338 662.8h6.6M269 667.2h3.6M275 667.2h18.6M314 667.2h3.6"/><path stroke="#0004ff" d="M266 454.1h3.6M341 458.5h3.6M374 458.5h3.6M278 462.9h3.6M326 462.9h9.6M347 462.9h3.6M362 462.9h3.6M263 467.4h3.6M263 471.8h3.6M263 476.3h3.6M275 476.3h3.6M263 480.7h3.6M275 507.4h3.6M296 516.2h6.6M317 516.2h6.6M305 520.7h3.6M368 520.7h3.6M338 525.1h3.6M263 529.6h3.6M284 529.6h3.6M263 534h3.6M266 542.9h3.6M272 596.2h3.6M392 605.1h3.6M269 609.5h3.6M395 609.5h3.6M266 613.9h3.6M278 613.9h3.6M383 613.9h3.6M398 613.9h3.6M260 622.8h3.6M287 622.8h3.6M290 627.3h3.6M398 627.3h3.6M383 631.7h3.6M251 636.1h3.6M296 636.1h3.6M389 636.1h6.6M251 640.6h3.6M251 645h3.6M251 649.5h3.6M299 649.5h3.6M305 653.9h3.6M314 653.9h3.6M248 658.3h3.6M317 658.3h3.6M317 662.8h3.6M272 667.2h3.6"/><path stroke="#000cff" d="M266 458.5h3.6M305 458.5h3.6M338 458.5h3.6M284 462.9h6.6M302 462.9h3.6M350 462.9h3.6M371 462.9h3.6M377 462.9h3.6M311 467.4h3.6M380 467.4h3.6M275 480.7h3.6M263 485.2h3.6M263 489.6h3.6M263 494h3.6M263 498.5h3.6M263 502.9h3.6M275 502.9h3.6M263 507.4h3.6M263 511.8h3.6M263 516.2h3.6M308 516.2h3.6M314 516.2h3.6M323 516.2h6.6M347 516.2h3.6M263 520.7h3.6M278 520.7h3.6M335 520.7h3.6M263 525.1h3.6M290 525.1h3.6M272 600.6h3.6M386 605.1h6.6M275 609.5h3.6M281 618.4h3.6M398 618.4h3.6M398 622.8h3.6M254 627.3h6.6M383 627.3h3.6M293 631.7h3.6M395 631.7h3.6M386 636.1h3.6M296 640.6h3.6M296 645h3.6M251 653.9h3.6M302 653.9h3.6M251 658.3h3.6M308 658.3h6.6M257 662.8h3.6M302 662.8h12.6"/><path stroke="#0014ff" d="M266 462.9h3.6M281 462.9h3.6M308 462.9h3.6M344 462.9h3.6M353 462.9h9.6M266 467.4h3.6M296 467.4h6.6M317 467.4h3.6M275 485.2h3.6M275 498.5h3.6M311 511.8h3.6M293 516.2h3.6M302 516.2h3.6M329 516.2h6.6M350 516.2h3.6M362 516.2h3.6M365 520.7h3.6M374 520.7h3.6M266 538.4h3.6M272 605.1h3.6M269 613.9h3.6M263 618.4h3.6M278 618.4h3.6M383 618.4h3.6M284 622.8h3.6M383 622.8h3.6M296 649.5h3.6M299 653.9h3.6M305 658.3h3.6M314 658.3h3.6M254 662.8h3.6M260 662.8h3.6M296 662.8h6.6M314 662.8h3.6"/><path stroke="#001cff" d="M290 462.9h3.6M335 462.9h3.6M365 462.9h6.6M293 467.4h3.6M314 467.4h3.6M320 467.4h3.6M266 471.8h3.6M266 476.3h3.6M266 480.7h3.6M266 485.2h3.6M266 489.6h3.6M275 489.6h3.6M266 494h3.6M275 494h3.6M380 511.8h3.6M344 516.2h3.6M353 516.2h9.6M377 516.2h3.6M341 520.7h3.6M281 525.1h3.6M287 525.1h3.6M266 529.6h3.6M266 534h3.6M386 609.5h9.6M275 613.9h3.6M395 613.9h3.6M266 618.4h3.6M260 627.3h3.6M395 627.3h3.6M386 631.7h9.6M293 636.1h3.6M293 640.6h3.6M257 645h3.6M293 645h3.6M254 649.5h6.6M293 649.5h3.6M257 653.9h3.6M296 653.9h3.6M257 658.3h3.6M299 658.3h6.6M263 662.8h9.6M290 662.8h6.6"/><path stroke="#0024ff" d="M305 462.9h3.6M341 462.9h3.6M374 462.9h3.6M278 467.4h3.6M323 467.4h9.6M347 467.4h3.6M362 467.4h3.6M311 471.8h3.6M266 498.5h3.6M266 502.9h3.6M266 507.4h3.6M266 511.8h3.6M296 511.8h6.6M317 511.8h6.6M266 516.2h3.6M305 516.2h3.6M371 516.2h3.6M266 520.7h3.6M338 520.7h3.6M266 525.1h3.6M284 525.1h3.6M272 609.5h3.6M269 618.4h3.6M263 622.8h3.6M281 622.8h3.6M395 622.8h3.6M287 627.3h3.6M254 631.7h3.6M290 631.7h3.6M254 640.6h6.6M254 645h3.6M260 649.5h3.6M254 653.9h3.6M260 653.9h3.6M293 653.9h3.6M254 658.3h3.6M260 658.3h3.6M296 658.3h3.6M275 662.8h15.6"/><path stroke="#002cff" d="M338 462.9h3.6M302 467.4h3.6M332 467.4h3.6M350 467.4h6.6M377 467.4h3.6M380 471.8h3.6M302 511.8h3.6M308 511.8h3.6M314 511.8h3.6M323 511.8h3.6M278 516.2h3.6M368 516.2h3.6M290 520.7h3.6M386 613.9h9.6M275 618.4h3.6M395 618.4h3.6M266 622.8h3.6M278 622.8h3.6M386 627.3h9.6M257 631.7h3.6M254 636.1h6.6M290 636.1h3.6M290 640.6h3.6M260 645h3.6M290 645h3.6M290 649.5h3.6M290 653.9h3.6M263 658.3h3.6M293 658.3h3.6M272 662.8h3.6"/><path stroke="#0034ff" d="M308 467.4h3.6M356 467.4h6.6M371 467.4h3.6M296 471.8h6.6M314 471.8h6.6M311 507.4h3.6M380 507.4h3.6M326 511.8h6.6M347 511.8h3.6M362 511.8h3.6M335 516.2h3.6M365 516.2h3.6M374 516.2h3.6M272 613.9h3.6M386 622.8h9.6M284 627.3h3.6M263 649.5h3.6M263 653.9h6.6M266 658.3h6.6M278 658.3h6.6M290 658.3h3.6"/><path stroke="#003cff" d="M281 467.4h12.6M305 467.4h3.6M335 467.4h3.6M344 467.4h3.6M365 467.4h6.6M293 471.8h3.6M320 471.8h3.6M293 511.8h3.6M305 511.8h3.6M332 511.8h3.6M350 511.8h12.6M377 511.8h3.6M281 520.7h3.6M386 618.4h9.6M269 622.8h3.6M263 627.3h3.6M281 627.3h3.6M260 631.7h3.6M260 640.6h3.6M287 645h3.6M266 649.5h3.6M281 649.5h9.6M269 653.9h3.6M278 653.9h12.6M275 658.3h3.6M284 658.3h6.6"/><path stroke="#0044ff" d="M374 467.4h3.6M278 471.8h3.6M302 471.8h3.6M323 471.8h6.6M362 471.8h3.6M311 476.3h3.6M380 476.3h3.6M296 507.4h6.6M308 507.4h3.6M314 507.4h6.6M344 511.8h3.6M338 516.2h6.6M287 520.7h3.6M272 618.4h3.6M275 622.8h3.6M266 627.3h3.6M278 627.3h3.6M287 631.7h3.6M260 636.1h3.6M287 640.6h3.6M263 645h6.6M281 645h6.6M269 649.5h3.6M278 649.5h3.6M275 653.9h3.6M272 658.3h3.6"/><path stroke="#004cff" d="M341 467.4h3.6M308 471.8h3.6M329 471.8h6.6M347 471.8h9.6M377 471.8h3.6M311 502.9h3.6M380 502.9h3.6M302 507.4h3.6M320 507.4h6.6M278 511.8h3.6M368 511.8h6.6M284 520.7h3.6M287 636.1h3.6M269 645h3.6M278 645h3.6M275 649.5h3.6M272 653.9h3.6"/><path stroke="#0054ff" d="M338 467.4h3.6M305 471.8h3.6M356 471.8h6.6M296 476.3h6.6M314 476.3h6.6M380 480.7h3.6M305 507.4h3.6M326 507.4h6.6M353 507.4h3.6M365 511.8h3.6M290 516.2h3.6M269 627.3h3.6M284 631.7h3.6M284 636.1h3.6M263 640.6h6.6M281 640.6h6.6M275 645h3.6M272 649.5h3.6"/><path stroke="#005cff" d="M344 471.8h3.6M365 471.8h3.6M371 471.8h3.6M278 476.3h3.6M302 476.3h3.6M308 476.3h3.6M320 476.3h6.6M311 480.7h3.6M380 485.2h3.6M380 498.5h3.6M299 502.9h3.6M308 502.9h3.6M314 502.9h6.6M293 507.4h3.6M332 507.4h3.6M347 507.4h6.6M356 507.4h9.6M377 507.4h3.6M335 511.8h3.6M374 511.8h3.6M272 622.8h3.6M275 627.3h3.6M263 631.7h3.6M281 631.7h3.6M263 636.1h3.6M281 636.1h3.6M269 640.6h3.6M278 640.6h3.6"/><path stroke="#0064ff" d="M281 471.8h3.6M290 471.8h3.6M335 471.8h3.6M368 471.8h3.6M293 476.3h3.6M326 476.3h6.6M353 476.3h3.6M362 476.3h3.6M314 480.7h3.6M380 489.6h3.6M380 494h3.6M311 498.5h3.6M296 502.9h3.6M302 502.9h3.6M320 502.9h3.6M278 507.4h3.6M338 511.8h6.6M281 516.2h3.6M266 631.7h3.6M278 631.7h3.6M266 636.1h3.6M278 636.1h3.6M272 645h3.6"/><path stroke="#006cff" d="M284 471.8h6.6M374 471.8h3.6M305 476.3h3.6M332 476.3h3.6M347 476.3h6.6M359 476.3h3.6M377 476.3h3.6M296 480.7h6.6M317 480.7h3.6M311 485.2h3.6M311 489.6h3.6M311 494h3.6M308 498.5h3.6M305 502.9h3.6M323 502.9h6.6M353 502.9h3.6M344 507.4h3.6M287 516.2h3.6M272 627.3h3.6M269 631.7h3.6M269 636.1h3.6M275 640.6h3.6"/><path stroke="#0074ff" d="M338 471.8h6.6M356 476.3h3.6M278 480.7h3.6M302 480.7h3.6M308 480.7h3.6M320 480.7h9.6M314 485.2h3.6M296 498.5h9.6M314 498.5h6.6M293 502.9h3.6M329 502.9h3.6M350 502.9h3.6M362 502.9h3.6M377 502.9h3.6M365 507.4h9.6M290 511.8h3.6M275 631.7h3.6M275 636.1h3.6M272 640.6h3.6"/><path stroke="#007cff" d="M344 476.3h3.6M365 476.3h3.6M293 480.7h3.6M305 480.7h3.6M329 480.7h3.6M353 480.7h3.6M362 480.7h3.6M377 480.7h3.6M296 485.2h9.6M308 485.2h3.6M317 485.2h3.6M299 489.6h3.6M308 489.6h3.6M314 489.6h6.6M299 494h3.6M308 494h3.6M314 494h6.6M305 498.5h3.6M320 498.5h3.6M326 498.5h3.6M278 502.9h3.6M332 502.9h3.6M347 502.9h3.6M356 502.9h6.6M335 507.4h3.6M374 507.4h3.6M284 516.2h3.6"/><path stroke="#0083ff" d="M290 476.3h3.6M335 476.3h3.6M368 476.3h9.6M350 480.7h3.6M356 480.7h6.6M278 485.2h3.6M305 485.2h3.6M320 485.2h9.6M353 485.2h3.6M296 489.6h3.6M302 489.6h6.6M320 489.6h3.6M296 494h3.6M302 494h6.6M320 494h3.6M323 498.5h3.6M329 498.5h3.6M353 498.5h3.6M377 498.5h3.6M338 507.4h6.6M272 636.1h3.6"/><path stroke="#008bff" d="M281 476.3h3.6M338 476.3h3.6M332 480.7h3.6M347 480.7h3.6M293 485.2h3.6M329 485.2h3.6M362 485.2h3.6M377 485.2h3.6M278 489.6h3.6M323 489.6h6.6M353 489.6h3.6M323 494h6.6M353 494h3.6M278 498.5h3.6M293 498.5h3.6M350 498.5h3.6M356 498.5h9.6M344 502.9h3.6M365 502.9h3.6M281 511.8h3.6M272 631.7h3.6"/><path stroke="#0093ff" d="M341 476.3h3.6M365 480.7h3.6M350 485.2h3.6M356 485.2h6.6M293 489.6h3.6M329 489.6h3.6M350 489.6h3.6M362 489.6h3.6M377 489.6h3.6M278 494h3.6M293 494h3.6M329 494h3.6M350 494h3.6M356 494h9.6M377 494h3.6M332 498.5h3.6M347 498.5h3.6M368 502.9h9.6M290 507.4h3.6"/><path stroke="#009bff" d="M284 476.3h6.6M335 480.7h3.6M344 480.7h3.6M368 480.7h3.6M332 485.2h3.6M347 485.2h3.6M356 489.6h6.6M365 498.5h3.6M335 502.9h6.6M287 511.8h3.6"/><path stroke="#00a3ff" d="M290 480.7h3.6M338 480.7h3.6M371 480.7h6.6M365 485.2h3.6M332 489.6h3.6M347 489.6h3.6M365 489.6h3.6M332 494h3.6M347 494h3.6M365 494h3.6M344 498.5h3.6M368 498.5h3.6M341 502.9h3.6M284 511.8h3.6"/><path stroke="#00abff" d="M281 480.7h3.6M341 480.7h3.6M344 485.2h3.6M368 485.2h3.6M344 494h3.6M368 494h3.6M335 498.5h6.6M371 498.5h6.6M281 507.4h3.6"/><path stroke="#00b3ff" d="M335 485.2h6.6M371 485.2h6.6M344 489.6h3.6M368 489.6h3.6M374 489.6h3.6M335 494h6.6M374 494h3.6M290 502.9h3.6"/><path stroke="#00bbff" d="M290 485.2h3.6M341 485.2h3.6M335 489.6h6.6M371 489.6h3.6M371 494h3.6M341 498.5h3.6"/><path stroke="#00c3ff" d="M281 485.2h3.6M290 489.6h3.6M341 489.6h3.6M341 494h3.6M290 498.5h3.6M281 502.9h3.6M287 507.4h3.6"/><path stroke="#00cbff" d="M284 480.7h6.6M290 494h3.6M284 507.4h3.6"/><path stroke="#00d3ff" d="M281 489.6h3.6M281 498.5h3.6"/><path stroke="#00dbff" d="M281 494h3.6"/><path stroke="#00ebff" d="M284 485.2h6.6M284 502.9h6.6"/><path stroke="#00fbff" d="M287 489.6h3.6M287 498.5h3.6"/><path stroke="#04fffb" d="M284 489.6h3.6M287 494h3.6M284 498.5h3.6"/><path stroke="#0cfff3" d="M284 494h3.6"/></g></g><line x1="259.1" y1="404.0" x2="259.1" y2="664.7" stroke="#a4a4ff" stroke-width="2" stroke-dasharray="2,2.4"/><clipPath id="cp11"><polygon points="543.2,402.9 923.7,402.9 923.7,660.1 908.4,660.1 908.4,664.7 543.2,664.7"/></clipPath><g clip-path="url(#cp11)"><g fill="none" stroke-width="5.14" filter="url(#hb)"><rect x="537.0" y="398.6" width="395.0" height="270.9" fill="#00009b"/><path stroke="#0000a3" d="M537 400.8h6.6M549 400.8h6.6M561 400.8h6.6M612 400.8h6.6M648 400.8h3.6M663 400.8h3.6M672 400.8h3.6M681 400.8h3.6M690 400.8h3.6M699 400.8h3.6M720 400.8h3.6M726 400.8h6.6M765 400.8h3.6M795 400.8h3.6M804 400.8h3.6M834 400.8h9.6M873 400.8h3.6M879 400.8h3.6M900 400.8h3.6M906 400.8h3.6M537 405.2h6.6M549 405.2h6.6M561 405.2h6.6M612 405.2h6.6M648 405.2h3.6M663 405.2h3.6M672 405.2h3.6M678 405.2h3.6M690 405.2h3.6M720 405.2h3.6M726 405.2h6.6M744 405.2h3.6M765 405.2h3.6M795 405.2h3.6M804 405.2h3.6M834 405.2h9.6M870 405.2h3.6M879 405.2h3.6M900 405.2h3.6M906 405.2h3.6M537 409.7h6.6M552 409.7h3.6M561 409.7h6.6M597 409.7h3.6M612 409.7h6.6M648 409.7h3.6M663 409.7h3.6M672 409.7h3.6M678 409.7h3.6M720 409.7h3.6M726 409.7h6.6M744 409.7h3.6M765 409.7h3.6M795 409.7h3.6M804 409.7h3.6M831 409.7h6.6M840 409.7h3.6M870 409.7h3.6M879 409.7h6.6M900 409.7h3.6M906 409.7h3.6M537 414.1h3.6M552 414.1h3.6M561 414.1h6.6M597 414.1h3.6M612 414.1h6.6M648 414.1h3.6M663 414.1h3.6M672 414.1h3.6M693 414.1h3.6M720 414.1h3.6M726 414.1h6.6M744 414.1h3.6M765 414.1h3.6M795 414.1h3.6M804 414.1h3.6M831 414.1h6.6M840 414.1h3.6M849 414.1h3.6M870 414.1h3.6M879 414.1h6.6M900 414.1h3.6M906 414.1h3.6M537 418.5h3.6M552 418.5h3.6M561 418.5h6.6M597 418.5h3.6M612 418.5h6.6M648 418.5h3.6M663 418.5h3.6M672 418.5h6.6M693 418.5h3.6M720 418.5h3.6M726 418.5h6.6M744 418.5h3.6M765 418.5h3.6M795 418.5h3.6M804 418.5h3.6M831 418.5h3.6M840 418.5h3.6M849 418.5h3.6M867 418.5h6.6M879 418.5h9.6M900 418.5h3.6M537 423h3.6M552 423h3.6M561 423h3.6M597 423h3.6M612 423h6.6M648 423h3.6M663 423h3.6M672 423h6.6M708 423h3.6M720 423h3.6M741 423h6.6M765 423h3.6M795 423h12.6M831 423h3.6M843 423h3.6M849 423h3.6M867 423h6.6M879 423h9.6M900 423h3.6M537 427.4h3.6M552 427.4h3.6M561 427.4h3.6M585 427.4h6.6M597 427.4h3.6M612 427.4h6.6M648 427.4h3.6M663 427.4h3.6M672 427.4h6.6M705 427.4h6.6M714 427.4h6.6M732 427.4h3.6M741 427.4h6.6M765 427.4h3.6M786 427.4h3.6M795 427.4h12.6M831 427.4h3.6M843 427.4h3.6M849 427.4h3.6M867 427.4h6.6M879 427.4h9.6M891 427.4h3.6M900 427.4h3.6M537 431.9h3.6M561 431.9h3.6M585 431.9h6.6M597 431.9h3.6M612 431.9h6.6M648 431.9h3.6M663 431.9h3.6M672 431.9h6.6M696 431.9h3.6M705 431.9h3.6M711 431.9h6.6M723 431.9h3.6M732 431.9h3.6M738 431.9h9.6M750 431.9h15.6M768 431.9h9.6M780 431.9h12.6M798 431.9h9.6M831 431.9h3.6M843 431.9h3.6M867 431.9h6.6M882 431.9h6.6M891 431.9h3.6M900 431.9h3.6M561 436.3h3.6M585 436.3h6.6M612 436.3h6.6M648 436.3h3.6M663 436.3h3.6M672 436.3h3.6M696 436.3h3.6M735 436.3h6.6M747 436.3h12.6M783 436.3h3.6M789 436.3h3.6M801 436.3h6.6M831 436.3h3.6M843 436.3h3.6M867 436.3h6.6M882 436.3h6.6M891 436.3h3.6M900 436.3h3.6M561 440.7h6.6M585 440.7h6.6M612 440.7h6.6M630 440.7h3.6M648 440.7h6.6M663 440.7h3.6M672 440.7h3.6M804 440.7h6.6M831 440.7h3.6M843 440.7h3.6M852 440.7h3.6M867 440.7h6.6M882 440.7h3.6M891 440.7h3.6M900 440.7h3.6M543 445.2h3.6M561 445.2h6.6M570 445.2h3.6M585 445.2h6.6M612 445.2h6.6M630 445.2h3.6M651 445.2h6.6M663 445.2h3.6M672 445.2h3.6M807 445.2h3.6M825 445.2h3.6M831 445.2h3.6M843 445.2h6.6M852 445.2h3.6M867 445.2h6.6M882 445.2h3.6M891 445.2h6.6M900 445.2h3.6M543 449.6h3.6M561 449.6h6.6M570 449.6h3.6M585 449.6h6.6M606 449.6h3.6M612 449.6h6.6M630 449.6h3.6M651 449.6h6.6M663 449.6h3.6M672 449.6h3.6M807 449.6h3.6M825 449.6h3.6M831 449.6h3.6M840 449.6h9.6M852 449.6h3.6M867 449.6h6.6M882 449.6h3.6M894 449.6h3.6M900 449.6h3.6M543 454.1h3.6M561 454.1h6.6M570 454.1h3.6M585 454.1h6.6M606 454.1h3.6M612 454.1h6.6M630 454.1h3.6M639 454.1h3.6M651 454.1h6.6M663 454.1h3.6M672 454.1h3.6M807 454.1h3.6M825 454.1h3.6M831 454.1h3.6M840 454.1h9.6M852 454.1h3.6M870 454.1h3.6M882 454.1h3.6M894 454.1h3.6M900 454.1h3.6M543 458.5h3.6M561 458.5h6.6M570 458.5h3.6M585 458.5h6.6M606 458.5h3.6M612 458.5h6.6M621 458.5h3.6M630 458.5h3.6M639 458.5h3.6M651 458.5h6.6M663 458.5h3.6M672 458.5h3.6M807 458.5h3.6M825 458.5h3.6M831 458.5h3.6M837 458.5h12.6M852 458.5h3.6M870 458.5h3.6M882 458.5h3.6M894 458.5h3.6M900 458.5h3.6M543 462.9h3.6M561 462.9h6.6M570 462.9h3.6M585 462.9h6.6M606 462.9h9.6M621 462.9h3.6M630 462.9h6.6M639 462.9h3.6M651 462.9h6.6M663 462.9h3.6M672 462.9h3.6M807 462.9h3.6M825 462.9h3.6M831 462.9h3.6M837 462.9h12.6M852 462.9h3.6M870 462.9h3.6M882 462.9h3.6M894 462.9h3.6M900 462.9h3.6M543 467.4h3.6M561 467.4h6.6M585 467.4h6.6M606 467.4h9.6M621 467.4h15.6M639 467.4h3.6M651 467.4h6.6M663 467.4h3.6M672 467.4h3.6M807 467.4h3.6M825 467.4h3.6M831 467.4h3.6M837 467.4h12.6M852 467.4h3.6M870 467.4h3.6M882 467.4h3.6M894 467.4h3.6M906 467.4h3.6M543 471.8h3.6M564 471.8h3.6M585 471.8h6.6M606 471.8h6.6M621 471.8h15.6M639 471.8h3.6M651 471.8h6.6M663 471.8h3.6M669 471.8h6.6M810 471.8h3.6M825 471.8h3.6M831 471.8h9.6M843 471.8h6.6M852 471.8h3.6M870 471.8h3.6M882 471.8h3.6M894 471.8h3.6M906 471.8h3.6M543 476.3h3.6M564 476.3h3.6M585 476.3h6.6M606 476.3h6.6M621 476.3h9.6M633 476.3h3.6M651 476.3h6.6M669 476.3h6.6M810 476.3h3.6M819 476.3h3.6M825 476.3h3.6M831 476.3h9.6M843 476.3h6.6M852 476.3h3.6M870 476.3h3.6M882 476.3h3.6M894 476.3h3.6M906 476.3h3.6M543 480.7h3.6M585 480.7h6.6M606 480.7h6.6M621 480.7h9.6M633 480.7h3.6M669 480.7h6.6M810 480.7h3.6M819 480.7h3.6M825 480.7h3.6M831 480.7h6.6M843 480.7h6.6M852 480.7h3.6M870 480.7h3.6M882 480.7h3.6M894 480.7h3.6M903 480.7h6.6M543 485.2h3.6M567 485.2h3.6M585 485.2h6.6M609 485.2h3.6M621 485.2h9.6M633 485.2h3.6M666 485.2h9.6M810 485.2h3.6M819 485.2h3.6M825 485.2h12.6M843 485.2h6.6M852 485.2h3.6M870 485.2h3.6M882 485.2h3.6M894 485.2h3.6M903 485.2h6.6M543 489.6h3.6M567 489.6h3.6M585 489.6h6.6M609 489.6h3.6M621 489.6h9.6M633 489.6h6.6M666 489.6h9.6M810 489.6h3.6M819 489.6h3.6M825 489.6h12.6M852 489.6h3.6M870 489.6h3.6M891 489.6h6.6M903 489.6h6.6M543 494h3.6M567 494h3.6M585 494h6.6M621 494h9.6M633 494h6.6M642 494h3.6M666 494h9.6M810 494h3.6M819 494h3.6M825 494h12.6M852 494h3.6M870 494h3.6M891 494h6.6M903 494h6.6M543 498.5h3.6M567 498.5h3.6M573 498.5h3.6M585 498.5h6.6M621 498.5h9.6M633 498.5h6.6M642 498.5h3.6M666 498.5h9.6M810 498.5h3.6M819 498.5h3.6M825 498.5h12.6M852 498.5h3.6M870 498.5h3.6M891 498.5h3.6M903 498.5h6.6M543 502.9h3.6M567 502.9h3.6M573 502.9h3.6M585 502.9h6.6M621 502.9h6.6M633 502.9h6.6M642 502.9h3.6M666 502.9h9.6M813 502.9h3.6M819 502.9h3.6M825 502.9h6.6M834 502.9h3.6M852 502.9h3.6M870 502.9h3.6M891 502.9h3.6M903 502.9h6.6M543 507.4h3.6M567 507.4h3.6M573 507.4h3.6M585 507.4h6.6M621 507.4h6.6M633 507.4h6.6M654 507.4h3.6M666 507.4h9.6M813 507.4h3.6M819 507.4h3.6M825 507.4h6.6M834 507.4h3.6M852 507.4h3.6M870 507.4h3.6M891 507.4h3.6M903 507.4h6.6M543 511.8h3.6M567 511.8h3.6M573 511.8h3.6M582 511.8h9.6M621 511.8h6.6M633 511.8h6.6M654 511.8h3.6M666 511.8h9.6M813 511.8h3.6M819 511.8h3.6M825 511.8h6.6M834 511.8h3.6M870 511.8h3.6M906 511.8h3.6M543 516.2h3.6M567 516.2h3.6M573 516.2h3.6M582 516.2h9.6M594 516.2h3.6M624 516.2h3.6M633 516.2h6.6M654 516.2h3.6M666 516.2h3.6M672 516.2h3.6M813 516.2h3.6M819 516.2h3.6M825 516.2h6.6M834 516.2h3.6M870 516.2h3.6M906 516.2h3.6M543 520.7h3.6M567 520.7h3.6M582 520.7h9.6M594 520.7h3.6M624 520.7h3.6M633 520.7h6.6M654 520.7h3.6M666 520.7h3.6M672 520.7h3.6M813 520.7h3.6M819 520.7h3.6M825 520.7h3.6M834 520.7h3.6M867 520.7h6.6M906 520.7h3.6M543 525.1h3.6M567 525.1h3.6M582 525.1h9.6M594 525.1h3.6M624 525.1h3.6M633 525.1h6.6M654 525.1h3.6M666 525.1h3.6M672 525.1h3.6M813 525.1h9.6M825 525.1h3.6M849 525.1h3.6M867 525.1h6.6M906 525.1h3.6M582 529.6h9.6M594 529.6h3.6M624 529.6h3.6M633 529.6h6.6M654 529.6h3.6M666 529.6h3.6M672 529.6h3.6M816 529.6h6.6M825 529.6h3.6M849 529.6h3.6M867 529.6h6.6M876 529.6h3.6M582 534h9.6M594 534h3.6M624 534h3.6M633 534h6.6M654 534h3.6M666 534h3.6M816 534h6.6M825 534h3.6M849 534h3.6M867 534h6.6M876 534h6.6M549 538.4h6.6M576 538.4h3.6M582 538.4h9.6M594 538.4h3.6M624 538.4h3.6M633 538.4h6.6M654 538.4h3.6M666 538.4h3.6M816 538.4h6.6M825 538.4h3.6M849 538.4h3.6M867 538.4h6.6M876 538.4h6.6M549 542.9h6.6M576 542.9h3.6M582 542.9h9.6M594 542.9h3.6M624 542.9h3.6M633 542.9h9.6M666 542.9h3.6M816 542.9h6.6M825 542.9h3.6M867 542.9h6.6M876 542.9h6.6M549 547.3h6.6M576 547.3h3.6M582 547.3h9.6M594 547.3h3.6M633 547.3h9.6M666 547.3h3.6M735 547.3h15.6M765 547.3h6.6M780 547.3h12.6M801 547.3h3.6M819 547.3h3.6M825 547.3h3.6M870 547.3h12.6M549 551.8h6.6M576 551.8h3.6M582 551.8h9.6M594 551.8h3.6M633 551.8h9.6M666 551.8h3.6M699 551.8h3.6M726 551.8h3.6M744 551.8h3.6M750 551.8h3.6M762 551.8h6.6M771 551.8h12.6M801 551.8h3.6M819 551.8h3.6M825 551.8h3.6M861 551.8h3.6M873 551.8h9.6M549 556.2h6.6M576 556.2h3.6M582 556.2h9.6M594 556.2h6.6M633 556.2h9.6M666 556.2h3.6M699 556.2h9.6M717 556.2h3.6M726 556.2h3.6M792 556.2h3.6M801 556.2h3.6M819 556.2h3.6M825 556.2h3.6M861 556.2h3.6M873 556.2h3.6M582 560.6h6.6M594 560.6h6.6M633 560.6h9.6M666 560.6h3.6M699 560.6h3.6M705 560.6h6.6M717 560.6h3.6M723 560.6h6.6M792 560.6h3.6M801 560.6h3.6M825 560.6h3.6M861 560.6h3.6M873 560.6h3.6M582 565.1h6.6M597 565.1h3.6M633 565.1h9.6M666 565.1h3.6M699 565.1h3.6M708 565.1h3.6M714 565.1h3.6M723 565.1h6.6M792 565.1h3.6M801 565.1h3.6M822 565.1h6.6M861 565.1h3.6M873 565.1h3.6M894 565.1h3.6M585 569.5h3.6M597 569.5h3.6M633 569.5h9.6M666 569.5h6.6M708 569.5h3.6M714 569.5h3.6M723 569.5h6.6M792 569.5h3.6M801 569.5h3.6M822 569.5h3.6M861 569.5h3.6M873 569.5h3.6M894 569.5h3.6M597 574h3.6M633 574h9.6M669 574h3.6M702 574h3.6M708 574h3.6M714 574h3.6M723 574h6.6M792 574h3.6M822 574h3.6M861 574h3.6M873 574h3.6M894 574h3.6M597 578.4h3.6M627 578.4h3.6M633 578.4h9.6M669 578.4h6.6M702 578.4h3.6M714 578.4h3.6M723 578.4h6.6M759 578.4h3.6M771 578.4h6.6M792 578.4h3.6M822 578.4h6.6M849 578.4h3.6M861 578.4h3.6M873 578.4h3.6M894 578.4h3.6M924 578.4h3.6M597 582.8h3.6M627 582.8h3.6M633 582.8h3.6M639 582.8h3.6M669 582.8h6.6M714 582.8h3.6M723 582.8h6.6M759 582.8h3.6M771 582.8h6.6M792 582.8h3.6M825 582.8h3.6M849 582.8h3.6M894 582.8h3.6M924 582.8h3.6M543 587.3h3.6M597 587.3h3.6M627 587.3h3.6M633 587.3h3.6M639 587.3h3.6M669 587.3h3.6M705 587.3h6.6M714 587.3h3.6M723 587.3h6.6M759 587.3h3.6M771 587.3h6.6M792 587.3h3.6M825 587.3h3.6M849 587.3h3.6M894 587.3h3.6M921 587.3h6.6M543 591.7h3.6M597 591.7h3.6M627 591.7h3.6M633 591.7h3.6M639 591.7h3.6M669 591.7h3.6M705 591.7h12.6M723 591.7h6.6M744 591.7h3.6M759 591.7h3.6M771 591.7h6.6M792 591.7h3.6M825 591.7h3.6M849 591.7h3.6M894 591.7h3.6M921 591.7h6.6M543 596.2h3.6M597 596.2h3.6M627 596.2h3.6M633 596.2h3.6M639 596.2h3.6M666 596.2h3.6M708 596.2h9.6M723 596.2h6.6M741 596.2h6.6M759 596.2h3.6M768 596.2h9.6M792 596.2h3.6M828 596.2h3.6M849 596.2h3.6M894 596.2h3.6M921 596.2h3.6M543 600.6h3.6M597 600.6h3.6M627 600.6h3.6M633 600.6h3.6M639 600.6h3.6M666 600.6h3.6M714 600.6h3.6M723 600.6h6.6M741 600.6h6.6M750 600.6h3.6M762 600.6h9.6M792 600.6h3.6M828 600.6h3.6M849 600.6h3.6M894 600.6h3.6M921 600.6h3.6M537 605.1h3.6M543 605.1h3.6M597 605.1h3.6M627 605.1h3.6M633 605.1h3.6M639 605.1h3.6M663 605.1h3.6M714 605.1h3.6M723 605.1h6.6M732 605.1h3.6M741 605.1h6.6M750 605.1h3.6M762 605.1h9.6M777 605.1h3.6M831 605.1h3.6M894 605.1h3.6M537 609.5h3.6M543 609.5h3.6M597 609.5h3.6M603 609.5h27.6M633 609.5h9.6M660 609.5h3.6M714 609.5h6.6M723 609.5h3.6M732 609.5h3.6M741 609.5h12.6M777 609.5h3.6M789 609.5h3.6M834 609.5h3.6M894 609.5h3.6M537 613.9h9.6M564 613.9h3.6M591 613.9h3.6M600 613.9h30.6M633 613.9h9.6M657 613.9h3.6M717 613.9h3.6M723 613.9h6.6M732 613.9h3.6M741 613.9h12.6M777 613.9h12.6M834 613.9h9.6M852 613.9h3.6M894 613.9h3.6M537 618.4h9.6M564 618.4h3.6M585 618.4h9.6M600 618.4h3.6M624 618.4h3.6M633 618.4h9.6M654 618.4h3.6M723 618.4h6.6M732 618.4h3.6M741 618.4h3.6M747 618.4h3.6M780 618.4h9.6M837 618.4h12.6M852 618.4h9.6M864 618.4h3.6M894 618.4h3.6M537 622.8h9.6M564 622.8h3.6M579 622.8h15.6M636 622.8h6.6M648 622.8h6.6M726 622.8h3.6M732 622.8h3.6M741 622.8h3.6M747 622.8h3.6M780 622.8h6.6M837 622.8h12.6M852 622.8h9.6M864 622.8h3.6M894 622.8h3.6M537 627.3h9.6M564 627.3h3.6M579 627.3h9.6M636 627.3h12.6M741 627.3h3.6M747 627.3h3.6M837 627.3h12.6M852 627.3h9.6M864 627.3h3.6M894 627.3h3.6M540 631.7h6.6M564 631.7h3.6M579 631.7h6.6M735 631.7h6.6M747 631.7h6.6M840 631.7h9.6M852 631.7h9.6M864 631.7h3.6M894 631.7h3.6M540 636.1h6.6M561 636.1h6.6M747 636.1h6.6M840 636.1h9.6M852 636.1h9.6M864 636.1h3.6M894 636.1h3.6M921 636.1h3.6M540 640.6h6.6M558 640.6h6.6M840 640.6h9.6M852 640.6h6.6M894 640.6h3.6M921 640.6h3.6M540 645h6.6M558 645h9.6M840 645h9.6M852 645h3.6M894 645h3.6M921 645h6.6M540 649.5h3.6M561 649.5h6.6M843 649.5h6.6M852 649.5h3.6M894 649.5h3.6M921 649.5h6.6M564 653.9h3.6M579 653.9h9.6M852 653.9h6.6M894 653.9h3.6M921 653.9h6.6M564 658.3h3.6M573 658.3h3.6M579 658.3h12.6M852 658.3h9.6M894 658.3h3.6M924 658.3h3.6M564 662.8h3.6M573 662.8h3.6M579 662.8h12.6M852 662.8h9.6M564 667.2h3.6M573 667.2h3.6M579 667.2h6.6M852 667.2h9.6"/><path stroke="#0000ab" d="M597 400.8h3.6M606 400.8h3.6M651 400.8h6.6M669 400.8h3.6M684 400.8h6.6M777 400.8h3.6M876 400.8h3.6M597 405.2h3.6M606 405.2h3.6M651 405.2h6.6M669 405.2h3.6M681 405.2h3.6M699 405.2h3.6M777 405.2h3.6M873 405.2h6.6M549 409.7h3.6M606 409.7h3.6M651 409.7h6.6M669 409.7h3.6M690 409.7h3.6M699 409.7h3.6M777 409.7h3.6M837 409.7h3.6M873 409.7h6.6M540 414.1h3.6M549 414.1h3.6M606 414.1h3.6M651 414.1h6.6M669 414.1h3.6M678 414.1h3.6M699 414.1h3.6M777 414.1h3.6M837 414.1h3.6M873 414.1h6.6M540 418.5h3.6M549 418.5h3.6M606 418.5h3.6M651 418.5h6.6M669 418.5h3.6M678 418.5h3.6M699 418.5h3.6M777 418.5h3.6M834 418.5h6.6M873 418.5h6.6M906 418.5h3.6M540 423h3.6M549 423h3.6M564 423h3.6M606 423h3.6M651 423h6.6M669 423h3.6M693 423h3.6M699 423h3.6M726 423h6.6M777 423h3.6M834 423h9.6M873 423h6.6M906 423h3.6M540 427.4h3.6M549 427.4h3.6M564 427.4h3.6M606 427.4h3.6M651 427.4h6.6M669 427.4h3.6M693 427.4h3.6M699 427.4h3.6M720 427.4h3.6M726 427.4h6.6M834 427.4h9.6M873 427.4h6.6M906 427.4h3.6M540 431.9h3.6M549 431.9h6.6M564 431.9h3.6M606 431.9h3.6M651 431.9h6.6M669 431.9h3.6M699 431.9h3.6M708 431.9h3.6M717 431.9h6.6M765 431.9h3.6M795 431.9h3.6M834 431.9h9.6M849 431.9h3.6M873 431.9h9.6M906 431.9h3.6M537 436.3h6.6M549 436.3h6.6M564 436.3h3.6M606 436.3h6.6M651 436.3h6.6M669 436.3h3.6M675 436.3h3.6M705 436.3h3.6M711 436.3h3.6M720 436.3h6.6M732 436.3h3.6M741 436.3h6.6M759 436.3h6.6M768 436.3h9.6M780 436.3h3.6M786 436.3h3.6M798 436.3h3.6M834 436.3h9.6M849 436.3h3.6M873 436.3h3.6M879 436.3h3.6M906 436.3h3.6M537 440.7h3.6M549 440.7h6.6M606 440.7h6.6M654 440.7h3.6M669 440.7h3.6M675 440.7h3.6M696 440.7h3.6M747 440.7h3.6M801 440.7h3.6M834 440.7h9.6M849 440.7h3.6M873 440.7h3.6M879 440.7h3.6M906 440.7h3.6M537 445.2h3.6M549 445.2h6.6M606 445.2h6.6M669 445.2h3.6M675 445.2h3.6M801 445.2h6.6M834 445.2h9.6M873 445.2h3.6M879 445.2h3.6M906 445.2h3.6M537 449.6h3.6M552 449.6h3.6M609 449.6h3.6M669 449.6h3.6M675 449.6h3.6M804 449.6h3.6M834 449.6h6.6M873 449.6h3.6M879 449.6h3.6M891 449.6h3.6M906 449.6h3.6M537 454.1h3.6M552 454.1h3.6M609 454.1h3.6M669 454.1h3.6M675 454.1h3.6M804 454.1h3.6M834 454.1h6.6M867 454.1h3.6M873 454.1h3.6M879 454.1h3.6M891 454.1h3.6M903 454.1h6.6M552 458.5h3.6M609 458.5h3.6M669 458.5h3.6M675 458.5h3.6M834 458.5h3.6M867 458.5h3.6M873 458.5h3.6M891 458.5h3.6M903 458.5h6.6M552 462.9h3.6M666 462.9h6.6M675 462.9h3.6M834 462.9h3.6M867 462.9h3.6M873 462.9h3.6M891 462.9h3.6M903 462.9h6.6M552 467.4h3.6M570 467.4h3.6M666 467.4h6.6M675 467.4h3.6M834 467.4h3.6M867 467.4h3.6M873 467.4h3.6M891 467.4h3.6M903 467.4h3.6M570 471.8h3.6M666 471.8h3.6M675 471.8h3.6M807 471.8h3.6M867 471.8h3.6M873 471.8h3.6M891 471.8h3.6M903 471.8h3.6M570 476.3h3.6M630 476.3h3.6M639 476.3h3.6M666 476.3h3.6M675 476.3h3.6M807 476.3h3.6M867 476.3h3.6M873 476.3h3.6M891 476.3h3.6M903 476.3h3.6M630 480.7h3.6M639 480.7h3.6M666 480.7h3.6M807 480.7h3.6M867 480.7h3.6M873 480.7h3.6M891 480.7h3.6M630 485.2h3.6M639 485.2h3.6M807 485.2h3.6M867 485.2h3.6M873 485.2h3.6M891 485.2h3.6M630 489.6h3.6M639 489.6h3.6M867 489.6h3.6M873 489.6h3.6M630 494h3.6M639 494h3.6M867 494h3.6M873 494h3.6M630 498.5h3.6M639 498.5h3.6M867 498.5h3.6M873 498.5h3.6M627 502.9h3.6M639 502.9h3.6M810 502.9h3.6M867 502.9h3.6M873 502.9h6.6M627 507.4h3.6M639 507.4h3.6M810 507.4h3.6M867 507.4h3.6M873 507.4h6.6M627 511.8h3.6M639 511.8h3.6M810 511.8h3.6M849 511.8h3.6M867 511.8h3.6M873 511.8h6.6M627 516.2h3.6M639 516.2h3.6M669 516.2h3.6M810 516.2h3.6M849 516.2h3.6M867 516.2h3.6M873 516.2h9.6M552 520.7h3.6M573 520.7h3.6M627 520.7h3.6M639 520.7h3.6M669 520.7h3.6M810 520.7h3.6M849 520.7h3.6M873 520.7h9.6M549 525.1h6.6M573 525.1h3.6M627 525.1h3.6M639 525.1h3.6M669 525.1h3.6M873 525.1h9.6M543 529.6h3.6M549 529.6h6.6M567 529.6h3.6M573 529.6h3.6M627 529.6h3.6M639 529.6h3.6M669 529.6h3.6M804 529.6h3.6M813 529.6h3.6M873 529.6h3.6M879 529.6h3.6M543 534h3.6M549 534h6.6M567 534h3.6M627 534h3.6M639 534h3.6M669 534h3.6M804 534h3.6M813 534h3.6M873 534h3.6M543 538.4h3.6M567 538.4h3.6M627 538.4h3.6M639 538.4h3.6M669 538.4h3.6M804 538.4h3.6M813 538.4h3.6M873 538.4h3.6M543 542.9h3.6M567 542.9h3.6M627 542.9h3.6M669 542.9h3.6M741 542.9h3.6M747 542.9h3.6M783 542.9h6.6M801 542.9h6.6M873 542.9h3.6M543 547.3h3.6M567 547.3h3.6M627 547.3h3.6M669 547.3h3.6M699 547.3h3.6M726 547.3h3.6M750 547.3h3.6M762 547.3h3.6M771 547.3h9.6M804 547.3h3.6M816 547.3h3.6M543 551.8h3.6M567 551.8h3.6M627 551.8h3.6M669 551.8h3.6M675 551.8h3.6M702 551.8h6.6M717 551.8h3.6M723 551.8h3.6M732 551.8h3.6M792 551.8h3.6M804 551.8h3.6M816 551.8h3.6M543 556.2h3.6M567 556.2h3.6M627 556.2h3.6M669 556.2h3.6M675 556.2h3.6M708 556.2h3.6M714 556.2h3.6M723 556.2h3.6M732 556.2h3.6M804 556.2h3.6M816 556.2h3.6M543 560.6h3.6M567 560.6h3.6M576 560.6h3.6M627 560.6h3.6M669 560.6h3.6M675 560.6h3.6M714 560.6h3.6M732 560.6h3.6M759 560.6h3.6M804 560.6h3.6M819 560.6h3.6M543 565.1h3.6M567 565.1h3.6M576 565.1h3.6M594 565.1h3.6M627 565.1h3.6M669 565.1h3.6M675 565.1h3.6M711 565.1h3.6M732 565.1h3.6M759 565.1h3.6M819 565.1h3.6M543 569.5h3.6M567 569.5h3.6M576 569.5h3.6M594 569.5h3.6M627 569.5h3.6M675 569.5h3.6M699 569.5h3.6M711 569.5h3.6M732 569.5h3.6M759 569.5h3.6M819 569.5h3.6M543 574h3.6M576 574h3.6M594 574h3.6M627 574h3.6M711 574h3.6M732 574h3.6M759 574h3.6M801 574h3.6M543 578.4h3.6M576 578.4h3.6M594 578.4h3.6M711 578.4h3.6M732 578.4h3.6M756 578.4h3.6M801 578.4h3.6M543 582.8h3.6M594 582.8h3.6M630 582.8h3.6M702 582.8h3.6M711 582.8h3.6M732 582.8h3.6M756 582.8h3.6M822 582.8h3.6M861 582.8h3.6M537 587.3h3.6M573 587.3h3.6M594 587.3h3.6M630 587.3h3.6M672 587.3h3.6M711 587.3h3.6M732 587.3h3.6M756 587.3h3.6M822 587.3h3.6M861 587.3h3.6M537 591.7h3.6M573 591.7h3.6M594 591.7h3.6M630 591.7h3.6M732 591.7h3.6M753 591.7h6.6M861 591.7h3.6M537 596.2h6.6M573 596.2h3.6M594 596.2h3.6M630 596.2h3.6M669 596.2h3.6M732 596.2h3.6M756 596.2h3.6M825 596.2h3.6M861 596.2h3.6M924 596.2h3.6M537 600.6h6.6M573 600.6h3.6M594 600.6h3.6M630 600.6h3.6M708 600.6h6.6M732 600.6h3.6M756 600.6h6.6M771 600.6h6.6M861 600.6h3.6M924 600.6h3.6M540 605.1h3.6M573 605.1h3.6M594 605.1h3.6M630 605.1h3.6M666 605.1h3.6M711 605.1h3.6M759 605.1h3.6M771 605.1h6.6M792 605.1h3.6M828 605.1h3.6M849 605.1h3.6M861 605.1h3.6M921 605.1h6.6M540 609.5h3.6M573 609.5h3.6M594 609.5h3.6M630 609.5h3.6M663 609.5h3.6M759 609.5h12.6M774 609.5h3.6M831 609.5h3.6M849 609.5h3.6M861 609.5h3.6M921 609.5h6.6M573 613.9h3.6M597 613.9h3.6M630 613.9h3.6M660 613.9h3.6M729 613.9h3.6M762 613.9h9.6M789 613.9h3.6M849 613.9h3.6M921 613.9h6.6M573 618.4h3.6M597 618.4h3.6M603 618.4h21.6M627 618.4h6.6M657 618.4h3.6M729 618.4h3.6M744 618.4h3.6M750 618.4h3.6M768 618.4h3.6M777 618.4h3.6M789 618.4h3.6M834 618.4h3.6M849 618.4h3.6M921 618.4h3.6M573 622.8h3.6M600 622.8h9.6M618 622.8h18.6M723 622.8h3.6M729 622.8h3.6M744 622.8h3.6M750 622.8h3.6M777 622.8h3.6M786 622.8h3.6M834 622.8h3.6M849 622.8h3.6M921 622.8h3.6M573 627.3h3.6M588 627.3h6.6M624 627.3h6.6M633 627.3h3.6M648 627.3h3.6M732 627.3h3.6M744 627.3h3.6M750 627.3h3.6M777 627.3h12.6M834 627.3h3.6M849 627.3h3.6M921 627.3h6.6M573 631.7h3.6M585 631.7h9.6M633 631.7h12.6M741 631.7h6.6M777 631.7h12.6M834 631.7h6.6M849 631.7h3.6M921 631.7h6.6M573 636.1h3.6M579 636.1h12.6M738 636.1h9.6M753 636.1h18.6M777 636.1h9.6M837 636.1h3.6M849 636.1h3.6M861 636.1h3.6M924 636.1h3.6M564 640.6h3.6M573 640.6h3.6M579 640.6h12.6M747 640.6h24.6M777 640.6h9.6M837 640.6h3.6M849 640.6h3.6M861 640.6h3.6M924 640.6h3.6M573 645h3.6M579 645h15.6M837 645h3.6M849 645h3.6M861 645h3.6M573 649.5h3.6M579 649.5h15.6M600 649.5h3.6M840 649.5h3.6M849 649.5h3.6M861 649.5h3.6M573 653.9h6.6M588 653.9h6.6M600 653.9h3.6M843 653.9h9.6M861 653.9h3.6M567 658.3h6.6M576 658.3h3.6M591 658.3h3.6M846 658.3h6.6M861 658.3h3.6M567 662.8h6.6M576 662.8h3.6M591 662.8h3.6M846 662.8h6.6M861 662.8h3.6M567 667.2h6.6M576 667.2h3.6M585 667.2h9.6M843 667.2h9.6M861 667.2h3.6"/><path stroke="#0000b3" d="M609 400.8h3.6M666 400.8h3.6M702 400.8h3.6M792 400.8h3.6M903 400.8h3.6M609 405.2h3.6M666 405.2h3.6M684 405.2h6.6M702 405.2h3.6M792 405.2h3.6M903 405.2h3.6M609 409.7h3.6M666 409.7h3.6M681 409.7h3.6M702 409.7h3.6M792 409.7h3.6M903 409.7h3.6M609 414.1h3.6M666 414.1h3.6M690 414.1h3.6M702 414.1h3.6M792 414.1h3.6M903 414.1h3.6M609 418.5h3.6M666 418.5h3.6M702 418.5h3.6M792 418.5h3.6M903 418.5h3.6M609 423h3.6M678 423h3.6M702 423h3.6M792 423h3.6M903 423h3.6M609 427.4h3.6M702 427.4h3.6M777 427.4h3.6M792 427.4h3.6M903 427.4h3.6M609 431.9h3.6M693 431.9h3.6M726 431.9h6.6M777 431.9h3.6M792 431.9h3.6M903 431.9h3.6M699 436.3h3.6M708 436.3h3.6M714 436.3h6.6M765 436.3h3.6M795 436.3h3.6M876 436.3h3.6M903 436.3h3.6M540 440.7h3.6M666 440.7h3.6M711 440.7h3.6M720 440.7h6.6M735 440.7h9.6M750 440.7h9.6M762 440.7h3.6M768 440.7h3.6M780 440.7h12.6M876 440.7h3.6M903 440.7h3.6M540 445.2h3.6M666 445.2h3.6M696 445.2h3.6M849 445.2h3.6M876 445.2h3.6M903 445.2h3.6M540 449.6h3.6M549 449.6h3.6M666 449.6h3.6M849 449.6h3.6M876 449.6h3.6M903 449.6h3.6M540 454.1h3.6M549 454.1h3.6M666 454.1h3.6M849 454.1h3.6M876 454.1h3.6M537 458.5h6.6M549 458.5h3.6M666 458.5h3.6M804 458.5h3.6M876 458.5h6.6M537 462.9h6.6M549 462.9h3.6M804 462.9h3.6M876 462.9h6.6M537 467.4h6.6M549 467.4h3.6M876 467.4h6.6M537 471.8h6.6M549 471.8h6.6M876 471.8h6.6M537 476.3h3.6M549 476.3h6.6M876 476.3h6.6M537 480.7h3.6M549 480.7h6.6M570 480.7h3.6M675 480.7h3.6M876 480.7h6.6M549 485.2h6.6M570 485.2h3.6M675 485.2h3.6M876 485.2h6.6M549 489.6h6.6M570 489.6h3.6M675 489.6h3.6M807 489.6h3.6M876 489.6h6.6M549 494h6.6M675 494h3.6M807 494h3.6M876 494h6.6M549 498.5h6.6M675 498.5h3.6M807 498.5h3.6M849 498.5h3.6M876 498.5h6.6M549 502.9h6.6M630 502.9h3.6M675 502.9h3.6M807 502.9h3.6M849 502.9h3.6M879 502.9h3.6M549 507.4h6.6M630 507.4h3.6M675 507.4h3.6M807 507.4h3.6M849 507.4h3.6M879 507.4h3.6M549 511.8h6.6M630 511.8h3.6M675 511.8h3.6M879 511.8h3.6M549 516.2h6.6M630 516.2h3.6M675 516.2h3.6M549 520.7h3.6M630 520.7h3.6M675 520.7h3.6M630 525.1h3.6M675 525.1h3.6M804 525.1h3.6M810 525.1h3.6M630 529.6h3.6M675 529.6h3.6M810 529.6h3.6M573 534h3.6M630 534h3.6M675 534h3.6M810 534h3.6M573 538.4h3.6M630 538.4h3.6M675 538.4h3.6M801 538.4h3.6M573 542.9h3.6M630 542.9h3.6M675 542.9h3.6M696 542.9h3.6M735 542.9h6.6M744 542.9h3.6M750 542.9h3.6M762 542.9h9.6M780 542.9h3.6M789 542.9h3.6M813 542.9h3.6M573 547.3h3.6M630 547.3h3.6M675 547.3h3.6M696 547.3h3.6M717 547.3h3.6M723 547.3h3.6M732 547.3h3.6M792 547.3h3.6M813 547.3h3.6M573 551.8h3.6M630 551.8h3.6M696 551.8h3.6M708 551.8h3.6M714 551.8h3.6M729 551.8h3.6M753 551.8h6.6M573 556.2h3.6M630 556.2h3.6M696 556.2h3.6M711 556.2h3.6M729 556.2h3.6M753 556.2h9.6M573 560.6h3.6M630 560.6h3.6M711 560.6h3.6M729 560.6h3.6M753 560.6h6.6M816 560.6h3.6M537 565.1h3.6M573 565.1h3.6M630 565.1h3.6M729 565.1h3.6M753 565.1h6.6M804 565.1h3.6M816 565.1h3.6M537 569.5h3.6M573 569.5h3.6M630 569.5h3.6M729 569.5h3.6M753 569.5h6.6M804 569.5h3.6M537 574h3.6M567 574h3.6M573 574h3.6M630 574h3.6M675 574h3.6M699 574h3.6M729 574h3.6M753 574h6.6M819 574h3.6M537 578.4h6.6M567 578.4h3.6M573 578.4h3.6M630 578.4h3.6M729 578.4h3.6M753 578.4h3.6M819 578.4h3.6M537 582.8h6.6M567 582.8h3.6M573 582.8h6.6M729 582.8h3.6M753 582.8h3.6M801 582.8h3.6M540 587.3h3.6M567 587.3h3.6M576 587.3h3.6M702 587.3h3.6M729 587.3h3.6M753 587.3h3.6M801 587.3h3.6M540 591.7h3.6M567 591.7h3.6M576 591.7h3.6M672 591.7h3.6M729 591.7h3.6M822 591.7h3.6M567 596.2h3.6M576 596.2h3.6M705 596.2h3.6M729 596.2h3.6M753 596.2h3.6M567 600.6h6.6M576 600.6h3.6M669 600.6h3.6M729 600.6h3.6M753 600.6h3.6M825 600.6h3.6M567 605.1h6.6M576 605.1h3.6M708 605.1h3.6M729 605.1h3.6M753 605.1h6.6M567 609.5h6.6M576 609.5h3.6M729 609.5h3.6M753 609.5h6.6M771 609.5h3.6M792 609.5h3.6M567 613.9h6.6M576 613.9h3.6M594 613.9h3.6M714 613.9h3.6M753 613.9h9.6M771 613.9h6.6M831 613.9h3.6M861 613.9h3.6M567 618.4h6.6M576 618.4h3.6M594 618.4h3.6M717 618.4h3.6M753 618.4h15.6M771 618.4h6.6M831 618.4h3.6M861 618.4h3.6M924 618.4h3.6M567 622.8h6.6M576 622.8h3.6M594 622.8h6.6M609 622.8h9.6M654 622.8h3.6M753 622.8h18.6M774 622.8h3.6M789 622.8h3.6M831 622.8h3.6M861 622.8h3.6M924 622.8h3.6M567 627.3h6.6M597 627.3h27.6M630 627.3h3.6M651 627.3h3.6M726 627.3h6.6M753 627.3h18.6M789 627.3h3.6M861 627.3h3.6M570 631.7h3.6M600 631.7h6.6M618 631.7h15.6M645 631.7h3.6M732 631.7h3.6M753 631.7h18.6M774 631.7h3.6M789 631.7h3.6M861 631.7h3.6M570 636.1h3.6M591 636.1h3.6M600 636.1h6.6M621 636.1h21.6M735 636.1h3.6M771 636.1h6.6M786 636.1h6.6M834 636.1h3.6M570 640.6h3.6M591 640.6h3.6M600 640.6h9.6M615 640.6h24.6M738 640.6h9.6M771 640.6h6.6M786 640.6h3.6M834 640.6h3.6M570 645h3.6M576 645h3.6M597 645h33.6M747 645h6.6M756 645h15.6M777 645h9.6M834 645h3.6M567 649.5h6.6M576 649.5h3.6M597 649.5h3.6M603 649.5h15.6M834 649.5h6.6M567 653.9h6.6M594 653.9h6.6M603 653.9h9.6M837 653.9h6.6M594 658.3h15.6M840 658.3h6.6M594 662.8h12.6M840 662.8h6.6M837 667.2h6.6"/><path stroke="#0000bb" d="M684 409.7h6.6M681 414.1h3.6M690 418.5h3.6M666 423h3.6M666 427.4h3.6M678 427.4h3.6M666 431.9h3.6M702 431.9h3.6M666 436.3h3.6M693 436.3h3.6M726 436.3h6.6M777 436.3h3.6M792 436.3h3.6M705 440.7h3.6M732 440.7h3.6M744 440.7h3.6M759 440.7h3.6M765 440.7h3.6M771 440.7h6.6M795 440.7h6.6M747 445.2h3.6M801 449.6h3.6M849 458.5h3.6M849 462.9h3.6M804 467.4h3.6M849 467.4h3.6M849 471.8h3.6M540 476.3h3.6M849 476.3h3.6M540 480.7h3.6M849 480.7h3.6M537 485.2h6.6M849 485.2h3.6M537 489.6h6.6M849 489.6h3.6M537 494h6.6M570 494h3.6M849 494h3.6M537 498.5h6.6M570 498.5h3.6M537 502.9h6.6M570 502.9h3.6M537 507.4h6.6M570 507.4h3.6M537 511.8h6.6M807 511.8h3.6M537 516.2h6.6M804 516.2h6.6M537 520.7h6.6M804 520.7h6.6M537 525.1h6.6M807 525.1h3.6M537 529.6h6.6M807 529.6h3.6M537 534h6.6M801 534h3.6M807 534h3.6M537 538.4h6.6M696 538.4h3.6M741 538.4h3.6M747 538.4h3.6M810 538.4h3.6M537 542.9h6.6M723 542.9h6.6M771 542.9h9.6M792 542.9h3.6M810 542.9h3.6M537 547.3h6.6M702 547.3h6.6M720 547.3h3.6M729 547.3h3.6M753 547.3h6.6M537 551.8h6.6M711 551.8h3.6M720 551.8h3.6M759 551.8h3.6M798 551.8h3.6M813 551.8h3.6M537 556.2h6.6M720 556.2h3.6M795 556.2h6.6M813 556.2h3.6M537 560.6h6.6M696 560.6h3.6M720 560.6h3.6M795 560.6h6.6M540 565.1h3.6M720 565.1h3.6M795 565.1h6.6M540 569.5h3.6M720 569.5h3.6M795 569.5h6.6M816 569.5h3.6M540 574h3.6M720 574h3.6M795 574h6.6M804 574h3.6M570 578.4h3.6M675 578.4h3.6M699 578.4h3.6M720 578.4h3.6M795 578.4h6.6M570 582.8h3.6M720 582.8h3.6M795 582.8h6.6M819 582.8h3.6M570 587.3h3.6M720 587.3h3.6M795 587.3h6.6M570 591.7h3.6M702 591.7h3.6M720 591.7h3.6M795 591.7h9.6M570 596.2h3.6M672 596.2h3.6M720 596.2h3.6M795 596.2h3.6M822 596.2h3.6M705 600.6h3.6M720 600.6h3.6M720 605.1h3.6M825 605.1h3.6M666 609.5h3.6M711 609.5h3.6M720 609.5h3.6M828 609.5h3.6M663 613.9h3.6M720 613.9h3.6M792 613.9h3.6M660 618.4h3.6M720 618.4h3.6M792 618.4h3.6M771 622.8h3.6M576 627.3h3.6M594 627.3h3.6M723 627.3h3.6M771 627.3h6.6M831 627.3h3.6M567 631.7h3.6M576 631.7h3.6M594 631.7h6.6M606 631.7h12.6M771 631.7h3.6M831 631.7h3.6M567 636.1h3.6M576 636.1h3.6M594 636.1h6.6M606 636.1h15.6M642 636.1h3.6M831 636.1h3.6M567 640.6h3.6M576 640.6h3.6M594 640.6h6.6M609 640.6h6.6M639 640.6h3.6M735 640.6h3.6M789 640.6h3.6M831 640.6h3.6M567 645h3.6M594 645h3.6M630 645h6.6M753 645h3.6M771 645h6.6M786 645h3.6M831 645h3.6M594 649.5h3.6M618 649.5h9.6M831 649.5h3.6M612 653.9h6.6M834 653.9h3.6M609 658.3h3.6M837 658.3h3.6M606 662.8h3.6M837 662.8h3.6M594 667.2h9.6M834 667.2h3.6"/><path stroke="#0000c3" d="M678 431.9h3.6M702 436.3h3.6M693 440.7h3.6M699 440.7h3.6M708 440.7h3.6M714 440.7h3.6M792 440.7h3.6M720 445.2h3.6M735 445.2h3.6M741 445.2h3.6M783 445.2h3.6M789 445.2h3.6M804 471.8h3.6M570 511.8h3.6M804 511.8h3.6M570 516.2h3.6M570 520.7h3.6M570 525.1h3.6M570 529.6h3.6M570 534h3.6M570 538.4h3.6M735 538.4h3.6M744 538.4h3.6M765 538.4h6.6M783 538.4h9.6M807 538.4h3.6M570 542.9h3.6M699 542.9h3.6M720 542.9h3.6M729 542.9h6.6M753 542.9h6.6M807 542.9h3.6M570 547.3h3.6M708 547.3h9.6M759 547.3h3.6M795 547.3h6.6M810 547.3h3.6M570 551.8h3.6M795 551.8h3.6M810 551.8h3.6M570 556.2h3.6M570 560.6h3.6M813 560.6h3.6M570 565.1h3.6M696 565.1h3.6M570 569.5h3.6M570 574h3.6M816 574h3.6M804 578.4h3.6M675 582.8h3.6M699 582.8h3.6M819 587.3h3.6M798 596.2h3.6M795 600.6h3.6M669 605.1h3.6M828 613.9h3.6M714 618.4h3.6M828 618.4h3.6M657 622.8h3.6M717 622.8h3.6M792 622.8h3.6M792 627.3h3.6M648 631.7h3.6M729 631.7h3.6M792 631.7h3.6M732 636.1h3.6M792 636.1h3.6M792 640.6h3.6M828 640.6h3.6M636 645h3.6M744 645h3.6M789 645h3.6M828 645h3.6M627 649.5h3.6M618 653.9h3.6M831 653.9h3.6M612 658.3h3.6M834 658.3h3.6M609 662.8h3.6M834 662.8h3.6M603 667.2h6.6M828 667.2h6.6"/><path stroke="#0000cb" d="M684 414.1h6.6M681 418.5h3.6M690 423h3.6M678 436.3h3.6M717 440.7h3.6M726 440.7h6.6M777 440.7h3.6M711 445.2h3.6M723 445.2h3.6M738 445.2h3.6M744 445.2h3.6M750 445.2h9.6M762 445.2h3.6M768 445.2h3.6M780 445.2h3.6M786 445.2h3.6M798 445.2h3.6M696 449.6h3.6M801 454.1h3.6M804 476.3h3.6M804 480.7h3.6M804 507.4h3.6M801 529.6h3.6M738 538.4h3.6M750 538.4h3.6M762 538.4h3.6M777 538.4h6.6M717 542.9h3.6M798 542.9h3.6M807 547.3h3.6M807 551.8h3.6M678 556.2h3.6M807 556.2h6.6M678 560.6h3.6M810 560.6h3.6M678 565.1h3.6M813 565.1h3.6M696 569.5h3.6M813 569.5h3.6M816 578.4h3.6M804 582.8h3.6M675 587.3h3.6M702 596.2h3.6M801 596.2h3.6M798 600.6h3.6M822 600.6h3.6M795 605.1h3.6M708 609.5h3.6M825 609.5h3.6M711 613.9h3.6M720 622.8h3.6M828 622.8h3.6M654 627.3h3.6M828 627.3h3.6M726 631.7h3.6M828 631.7h3.6M645 636.1h3.6M828 636.1h3.6M642 640.6h3.6M639 645h3.6M738 645h6.6M792 645h3.6M630 649.5h3.6M828 649.5h3.6M621 653.9h3.6M615 658.3h3.6M831 658.3h3.6M612 662.8h3.6M831 662.8h3.6M609 667.2h3.6M825 667.2h3.6"/><path stroke="#0000d3" d="M678 440.7h3.6M702 440.7h3.6M678 445.2h3.6M693 445.2h3.6M705 445.2h3.6M732 445.2h3.6M765 445.2h3.6M771 445.2h6.6M795 445.2h3.6M747 449.6h3.6M804 485.2h3.6M804 489.6h3.6M804 494h3.6M804 498.5h3.6M804 502.9h3.6M696 534h3.6M747 534h3.6M720 538.4h9.6M732 538.4h3.6M771 538.4h6.6M792 538.4h3.6M702 542.9h6.6M714 542.9h3.6M759 542.9h3.6M795 542.9h3.6M678 551.8h3.6M807 560.6h3.6M810 565.1h3.6M678 569.5h3.6M813 574h3.6M816 582.8h3.6M699 587.3h3.6M804 587.3h3.6M819 591.7h3.6M672 600.6h3.6M705 605.1h3.6M795 609.5h3.6M666 613.9h3.6M663 618.4h3.6M732 640.6h3.6M825 640.6h3.6M735 645h3.6M825 645h3.6M633 649.5h3.6M756 649.5h33.6M825 649.5h3.6M624 653.9h3.6M828 653.9h3.6M618 658.3h3.6M828 658.3h3.6M615 662.8h3.6M828 662.8h3.6M822 667.2h3.6"/><path stroke="#0000db" d="M690 427.4h3.6M699 445.2h3.6M708 445.2h3.6M729 445.2h3.6M759 445.2h3.6M792 445.2h3.6M678 449.6h3.6M720 449.6h3.6M741 449.6h3.6M678 454.1h3.6M678 458.5h3.6M678 462.9h3.6M678 467.4h3.6M678 471.8h3.6M741 534h3.6M699 538.4h3.6M729 538.4h3.6M753 538.4h6.6M708 542.9h6.6M678 547.3h3.6M807 565.1h3.6M807 569.5h6.6M678 574h3.6M696 574h3.6M816 587.3h3.6M675 591.7h3.6M804 591.7h3.6M819 596.2h3.6M801 600.6h3.6M798 605.1h3.6M822 605.1h3.6M669 609.5h3.6M795 613.9h3.6M825 613.9h3.6M825 618.4h3.6M660 622.8h3.6M651 631.7h3.6M825 631.7h3.6M648 636.1h3.6M729 636.1h3.6M795 636.1h3.6M825 636.1h3.6M645 640.6h3.6M795 640.6h3.6M642 645h3.6M795 645h3.6M822 645h3.6M636 649.5h3.6M747 649.5h9.6M789 649.5h3.6M627 653.9h3.6M825 653.9h3.6M621 658.3h3.6M618 662.8h3.6M825 662.8h3.6M612 667.2h3.6M819 667.2h3.6"/><path stroke="#0000e3" d="M684 418.5h6.6M681 423h3.6M690 431.9h3.6M714 445.2h6.6M726 445.2h3.6M777 445.2h3.6M693 449.6h3.6M735 449.6h3.6M783 449.6h3.6M789 449.6h3.6M801 458.5h3.6M678 476.3h3.6M678 480.7h3.6M678 485.2h3.6M678 489.6h3.6M678 494h3.6M678 498.5h3.6M678 502.9h3.6M678 507.4h3.6M678 511.8h3.6M801 525.1h3.6M735 534h3.6M783 534h9.6M678 538.4h3.6M717 538.4h3.6M795 538.4h6.6M678 542.9h3.6M807 574h6.6M813 578.4h3.6M702 600.6h3.6M708 613.9h3.6M711 618.4h3.6M795 618.4h3.6M714 622.8h3.6M795 622.8h3.6M825 622.8h3.6M657 627.3h3.6M720 627.3h3.6M795 627.3h3.6M825 627.3h3.6M723 631.7h3.6M795 631.7h3.6M798 640.6h3.6M822 640.6h3.6M798 645h3.6M792 649.5h3.6M822 649.5h3.6M822 653.9h3.6M825 658.3h3.6M822 662.8h3.6M615 667.2h3.6M813 667.2h6.6"/><path stroke="#0000eb" d="M702 445.2h3.6M723 449.6h3.6M738 449.6h3.6M750 449.6h9.6M768 449.6h3.6M786 449.6h3.6M798 449.6h3.6M696 454.1h3.6M678 516.2h3.6M678 520.7h3.6M678 525.1h3.6M678 529.6h3.6M678 534h3.6M720 534h3.6M738 534h3.6M744 534h3.6M750 534h3.6M765 534h6.6M759 538.4h3.6M693 542.9h3.6M693 547.3h3.6M693 551.8h3.6M693 556.2h3.6M678 578.4h3.6M696 578.4h3.6M807 578.4h6.6M813 582.8h3.6M699 591.7h3.6M816 591.7h3.6M804 596.2h3.6M819 600.6h3.6M672 605.1h3.6M801 605.1h3.6M705 609.5h3.6M798 609.5h3.6M822 609.5h3.6M717 627.3h3.6M726 636.1h3.6M798 636.1h3.6M822 636.1h3.6M729 640.6h3.6M801 640.6h3.6M732 645h3.6M801 645h3.6M819 645h3.6M639 649.5h3.6M744 649.5h3.6M819 649.5h3.6M630 653.9h3.6M624 658.3h3.6M822 658.3h3.6M621 662.8h3.6M618 667.2h3.6M810 667.2h3.6"/><path stroke="#0000f3" d="M681 427.4h3.6M690 436.3h3.6M705 449.6h3.6M711 449.6h3.6M732 449.6h3.6M744 449.6h3.6M762 449.6h6.6M780 449.6h3.6M795 449.6h3.6M696 529.6h3.6M723 534h3.6M732 534h3.6M762 534h3.6M777 534h6.6M693 538.4h3.6M702 538.4h6.6M711 538.4h6.6M681 560.6h3.6M693 560.6h3.6M807 582.8h6.6M813 587.3h3.6M675 596.2h3.6M798 613.9h3.6M798 627.3h3.6M654 631.7h3.6M798 631.7h3.6M822 631.7h3.6M801 636.1h3.6M648 640.6h3.6M819 640.6h3.6M645 645h3.6M804 645h3.6M816 645h3.6M738 649.5h6.6M795 649.5h9.6M816 649.5h3.6M633 653.9h3.6M819 653.9h3.6M819 662.8h3.6M807 667.2h3.6"/><path stroke="#0000fb" d="M687 423h3.6M690 440.7h3.6M699 449.6h3.6M759 449.6h3.6M771 449.6h6.6M792 449.6h3.6M693 454.1h3.6M693 534h3.6M726 534h6.6M753 534h6.6M771 534h6.6M792 534h3.6M798 534h3.6M681 556.2h3.6M681 565.1h3.6M681 569.5h3.6M678 582.8h3.6M696 582.8h3.6M807 587.3h3.6M816 596.2h3.6M804 600.6h3.6M702 605.1h3.6M819 605.1h3.6M801 609.5h3.6M669 613.9h3.6M822 613.9h3.6M666 618.4h3.6M798 618.4h3.6M822 618.4h3.6M663 622.8h3.6M798 622.8h3.6M822 622.8h3.6M822 627.3h3.6M651 636.1h3.6M726 640.6h3.6M804 640.6h3.6M807 645h9.6M642 649.5h3.6M804 649.5h3.6M810 649.5h6.6M816 653.9h3.6M627 658.3h3.6M819 658.3h3.6M624 662.8h3.6M816 662.8h3.6M621 667.2h3.6M801 667.2h6.6"/><path stroke="#0004ff" d="M684 423h3.6M690 445.2h3.6M708 449.6h3.6M729 449.6h3.6M777 449.6h3.6M747 454.1h3.6M801 462.9h3.6M747 529.6h3.6M699 534h3.6M708 538.4h3.6M693 565.1h3.6M810 587.3h3.6M813 591.7h3.6M699 596.2h3.6M660 627.3h3.6M801 627.3h3.6M801 631.7h3.6M723 636.1h3.6M819 636.1h3.6M816 640.6h3.6M729 645h3.6M735 649.5h3.6M807 649.5h3.6M636 653.9h3.6M762 653.9h30.6M813 653.9h3.6M816 658.3h3.6M813 662.8h3.6M624 667.2h3.6M798 667.2h3.6"/><path stroke="#000cff" d="M681 431.9h3.6M690 449.6h3.6M714 449.6h3.6M726 449.6h3.6M720 454.1h3.6M741 454.1h3.6M801 520.7h3.6M741 529.6h3.6M795 534h3.6M681 551.8h3.6M681 574h3.6M678 587.3h3.6M807 591.7h6.6M675 600.6h3.6M816 600.6h3.6M804 605.1h3.6M672 609.5h3.6M801 613.9h3.6M708 618.4h3.6M801 618.4h3.6M711 622.8h3.6M801 622.8h3.6M819 631.7h3.6M804 636.1h3.6M651 640.6h3.6M807 640.6h9.6M648 645h3.6M756 653.9h6.6M792 653.9h3.6M801 653.9h6.6M810 653.9h3.6M630 658.3h3.6M813 658.3h3.6M627 662.8h3.6M810 662.8h3.6M792 667.2h6.6"/><path stroke="#0014ff" d="M702 449.6h3.6M717 449.6h3.6M690 454.1h3.6M735 454.1h3.6M783 454.1h9.6M798 454.1h3.6M693 458.5h3.6M693 529.6h3.6M720 529.6h3.6M735 529.6h3.6M783 529.6h9.6M717 534h3.6M759 534h3.6M693 569.5h3.6M696 587.3h3.6M807 596.2h3.6M813 596.2h3.6M819 609.5h3.6M705 613.9h3.6M714 627.3h3.6M819 627.3h3.6M720 631.7h3.6M804 631.7h3.6M816 636.1h3.6M645 649.5h3.6M750 653.9h6.6M795 653.9h6.6M807 653.9h3.6M810 658.3h3.6M807 662.8h3.6M627 667.2h3.6M783 667.2h9.6"/><path stroke="#001cff" d="M687 427.4h3.6M681 436.3h3.6M723 454.1h3.6M738 454.1h3.6M750 454.1h9.6M768 454.1h3.6M690 458.5h3.6M696 458.5h3.6M738 529.6h3.6M744 529.6h3.6M750 529.6h3.6M765 529.6h6.6M681 578.4h3.6M810 596.2h3.6M699 600.6h3.6M816 605.1h3.6M819 622.8h3.6M657 631.7h3.6M816 631.7h3.6M654 636.1h3.6M807 636.1h9.6M723 640.6h3.6M726 645h3.6M732 649.5h3.6M639 653.9h3.6M747 653.9h3.6M633 658.3h3.6M807 658.3h3.6M630 662.8h3.6M801 662.8h6.6M777 667.2h6.6"/><path stroke="#0024ff" d="M684 427.4h3.6M681 440.7h3.6M711 454.1h3.6M732 454.1h3.6M744 454.1h3.6M762 454.1h6.6M780 454.1h3.6M690 462.9h3.6M723 529.6h3.6M732 529.6h3.6M762 529.6h3.6M777 529.6h6.6M798 529.6h3.6M711 534h6.6M681 547.3h3.6M693 574h3.6M678 591.7h3.6M807 600.6h3.6M813 600.6h3.6M702 609.5h3.6M804 609.5h3.6M819 613.9h3.6M819 618.4h3.6M804 627.3h3.6M717 631.7h3.6M801 658.3h6.6M798 662.8h3.6M774 667.2h3.6"/><path stroke="#002cff" d="M681 445.2h3.6M705 454.1h3.6M792 454.1h6.6M690 467.4h3.6M801 467.4h3.6M693 525.1h6.6M729 529.6h3.6M753 529.6h6.6M792 529.6h3.6M702 534h6.6M696 591.7h3.6M810 600.6h3.6M675 605.1h3.6M669 618.4h3.6M666 622.8h3.6M804 622.8h3.6M816 627.3h3.6M807 631.7h3.6M813 631.7h3.6M651 645h3.6M744 653.9h3.6M636 658.3h3.6M777 658.3h18.6M798 658.3h3.6M789 662.8h9.6M630 667.2h3.6M768 667.2h6.6"/><path stroke="#0034ff" d="M687 431.9h3.6M681 449.6h3.6M681 454.1h3.6M699 454.1h3.6M729 454.1h3.6M759 454.1h3.6M771 454.1h9.6M801 516.2h3.6M726 529.6h3.6M771 529.6h6.6M681 542.9h3.6M690 551.8h3.6M690 556.2h3.6M684 560.6h3.6M690 560.6h3.6M684 565.1h3.6M684 569.5h3.6M681 582.8h3.6M813 605.1h3.6M816 609.5h3.6M672 613.9h3.6M804 613.9h3.6M804 618.4h3.6M663 627.3h3.6M810 631.7h3.6M654 640.6h3.6M648 649.5h3.6M642 653.9h3.6M741 653.9h3.6M765 658.3h12.6M795 658.3h3.6M633 662.8h3.6M780 662.8h9.6M633 667.2h3.6M762 667.2h6.6"/><path stroke="#003cff" d="M684 431.9h3.6M708 454.1h3.6M726 454.1h3.6M681 458.5h3.6M681 462.9h3.6M693 462.9h3.6M681 467.4h3.6M681 471.8h3.6M690 471.8h3.6M681 476.3h3.6M681 480.7h3.6M681 485.2h3.6M681 489.6h3.6M795 529.6h3.6M708 534h3.6M681 538.4h3.6M690 547.3h3.6M690 565.1h3.6M693 578.4h3.6M678 596.2h3.6M807 605.1h6.6M816 618.4h3.6M708 622.8h3.6M816 622.8h3.6M807 627.3h3.6M813 627.3h3.6M720 636.1h3.6M723 645h3.6M729 649.5h3.6M738 653.9h3.6M759 658.3h6.6M771 662.8h9.6M759 667.2h3.6"/><path stroke="#0044ff" d="M687 436.3h3.6M714 454.1h3.6M747 458.5h3.6M690 476.3h3.6M681 494h3.6M681 498.5h3.6M681 502.9h3.6M681 507.4h3.6M681 511.8h3.6M681 516.2h3.6M681 520.7h3.6M681 525.1h3.6M747 525.1h3.6M681 529.6h3.6M699 529.6h3.6M681 534h3.6M690 542.9h3.6M684 556.2h3.6M684 574h3.6M681 587.3h3.6M699 605.1h3.6M816 613.9h3.6M705 618.4h3.6M711 627.3h3.6M810 627.3h3.6M639 658.3h3.6M756 658.3h3.6M636 662.8h3.6M765 662.8h6.6M636 667.2h3.6M756 667.2h3.6"/><path stroke="#004cff" d="M717 454.1h3.6M720 458.5h3.6M741 458.5h3.6M798 458.5h3.6M690 480.7h3.6M690 520.7h3.6M690 525.1h3.6M741 525.1h3.6M690 529.6h3.6M759 529.6h3.6M690 534h3.6M690 538.4h3.6M690 569.5h3.6M696 596.2h3.6M807 609.5h3.6M813 609.5h3.6M807 622.8h9.6M660 631.7h3.6M657 636.1h3.6M654 645h3.6M726 649.5h3.6M645 653.9h3.6M735 653.9h3.6M750 658.3h6.6M759 662.8h6.6"/><path stroke="#0054ff" d="M684 436.3h3.6M702 454.1h3.6M735 458.5h3.6M801 471.8h3.6M690 485.2h3.6M690 489.6h3.6M690 511.8h3.6M690 516.2h3.6M693 520.7h3.6M720 525.1h3.6M735 525.1h3.6M786 525.1h3.6M717 529.6h3.6M687 560.6h3.6M687 565.1h3.6M684 578.4h3.6M693 582.8h3.6M675 609.5h3.6M810 609.5h3.6M702 613.9h3.6M813 613.9h3.6M807 618.4h3.6M813 618.4h3.6M717 636.1h3.6M720 640.6h3.6M651 649.5h3.6M747 658.3h3.6M756 662.8h3.6M750 667.2h6.6"/><path stroke="#005cff" d="M687 440.7h3.6M768 458.5h3.6M783 458.5h9.6M690 494h3.6M690 498.5h3.6M690 502.9h3.6M690 507.4h3.6M801 511.8h3.6M783 525.1h3.6M789 525.1h3.6M684 551.8h3.6M687 569.5h3.6M690 574h3.6M678 600.6h3.6M807 613.9h6.6M810 618.4h3.6M714 631.7h3.6M642 658.3h3.6M639 662.8h3.6M753 662.8h3.6M639 667.2h3.6"/><path stroke="#0064ff" d="M687 445.2h3.6M723 458.5h3.6M732 458.5h3.6M738 458.5h3.6M744 458.5h3.6M750 458.5h9.6M762 458.5h6.6M696 462.9h3.6M693 467.4h3.6M732 525.1h3.6M738 525.1h3.6M744 525.1h3.6M750 525.1h3.6M765 525.1h6.6M798 525.1h3.6M711 529.6h6.6M687 556.2h3.6M681 591.7h3.6M669 622.8h3.6M657 640.6h3.6M648 653.9h3.6M732 653.9h3.6M744 658.3h3.6M750 662.8h3.6M747 667.2h3.6"/><path stroke="#006cff" d="M684 440.7h3.6M687 449.6h3.6M780 458.5h3.6M795 458.5h3.6M723 525.1h3.6M729 525.1h3.6M762 525.1h3.6M777 525.1h6.6M687 574h3.6M690 578.4h3.6M684 582.8h3.6M693 587.3h3.6M696 600.6h3.6M699 609.5h3.6M672 618.4h3.6M666 627.3h3.6M717 640.6h3.6M723 649.5h3.6M747 662.8h3.6M642 667.2h3.6"/><path stroke="#0074ff" d="M684 445.2h3.6M687 454.1h3.6M711 458.5h3.6M729 458.5h3.6M792 458.5h3.6M696 520.7h3.6M753 525.1h6.6M792 525.1h3.6M702 529.6h6.6M684 547.3h3.6M687 551.8h3.6M720 645h3.6M654 649.5h3.6M741 658.3h3.6M642 662.8h3.6M744 667.2h3.6"/><path stroke="#007cff" d="M684 449.6h3.6M687 458.5h3.6M699 458.5h3.6M705 458.5h3.6M759 458.5h3.6M771 458.5h9.6M687 462.9h3.6M693 516.2h3.6M726 525.1h3.6M771 525.1h6.6M795 525.1h3.6M687 578.4h3.6M705 622.8h3.6M660 636.1h3.6M657 645h3.6M729 653.9h3.6M645 658.3h3.6M738 658.3h3.6M744 662.8h3.6M645 667.2h3.6M741 667.2h3.6"/><path stroke="#0083ff" d="M684 454.1h3.6M726 458.5h3.6M687 467.4h3.6M687 471.8h3.6M801 476.3h3.6M690 582.8h3.6M684 587.3h3.6M681 596.2h3.6M678 605.1h3.6M675 613.9h3.6M702 618.4h3.6M708 627.3h3.6M663 631.7h3.6M738 667.2h3.6"/><path stroke="#008bff" d="M684 458.5h3.6M684 462.9h3.6M684 467.4h3.6M684 471.8h3.6M687 476.3h3.6M687 480.7h3.6M801 507.4h3.6M708 529.6h3.6M687 547.3h3.6M693 591.7h3.6M714 636.1h3.6M717 645h3.6M651 653.9h3.6M735 658.3h3.6M645 662.8h3.6M741 662.8h3.6M648 667.2h3.6M735 667.2h3.6"/><path stroke="#0093ff" d="M708 458.5h3.6M714 458.5h6.6M747 462.9h3.6M693 471.8h3.6M684 476.3h3.6M684 480.7h3.6M684 485.2h6.6M684 489.6h6.6M699 525.1h3.6M759 525.1h3.6M684 542.9h3.6M687 582.8h3.6M696 605.1h3.6M711 631.7h3.6M660 640.6h3.6M726 653.9h3.6M648 658.3h3.6M738 662.8h3.6"/><path stroke="#009bff" d="M702 458.5h3.6M735 462.9h3.6M798 462.9h3.6M684 494h6.6M684 498.5h6.6M684 502.9h6.6M747 520.7h3.6M717 525.1h3.6M687 542.9h3.6M690 587.3h3.6M684 591.7h3.6M699 613.9h3.6M720 649.5h3.6M732 667.2h3.6"/><path stroke="#00a3ff" d="M720 462.9h3.6M741 462.9h3.6M801 480.7h3.6M684 507.4h6.6M684 511.8h6.6M693 511.8h3.6M684 516.2h3.6M735 520.7h3.6M741 520.7h3.6M684 538.4h3.6M687 587.3h3.6M681 600.6h3.6M714 640.6h3.6M657 649.5h3.6M732 658.3h3.6M648 662.8h3.6M735 662.8h3.6M651 667.2h3.6"/><path stroke="#00abff" d="M732 462.9h3.6M786 462.9h3.6M801 502.9h3.6M687 516.2h3.6M684 520.7h6.6M786 520.7h3.6M798 520.7h3.6M684 525.1h3.6M684 529.6h3.6M684 534h3.6M687 538.4h3.6M693 596.2h3.6M678 609.5h3.6M672 622.8h3.6M660 645h3.6M654 653.9h3.6M723 653.9h3.6M729 667.2h3.6"/><path stroke="#00b3ff" d="M738 462.9h3.6M750 462.9h3.6M768 462.9h3.6M783 462.9h3.6M789 462.9h3.6M720 520.7h3.6M732 520.7h3.6M783 520.7h3.6M789 520.7h3.6M687 525.1h3.6M711 525.1h6.6M687 529.6h3.6M687 534h3.6M690 591.7h3.6M669 627.3h3.6M717 649.5h3.6M651 658.3h3.6M732 662.8h3.6M654 667.2h3.6M726 667.2h3.6"/><path stroke="#00bbff" d="M723 462.9h3.6M729 462.9h3.6M744 462.9h3.6M753 462.9h6.6M762 462.9h6.6M795 462.9h3.6M696 467.4h3.6M693 476.3h3.6M729 520.7h3.6M738 520.7h3.6M744 520.7h3.6M750 520.7h3.6M765 520.7h6.6M684 596.2h3.6M675 618.4h3.6M663 636.1h3.6M714 645h3.6M729 658.3h3.6M651 662.8h3.6"/><path stroke="#00c3ff" d="M780 462.9h3.6M792 462.9h3.6M801 485.2h3.6M801 498.5h3.6M693 507.4h3.6M723 520.7h3.6M762 520.7h3.6M687 591.7h3.6M696 609.5h3.6M702 622.8h3.6M705 627.3h3.6M666 631.7h3.6M657 667.2h3.6M723 667.2h3.6"/><path stroke="#00cbff" d="M711 462.9h3.6M774 462.9h6.6M801 489.6h3.6M753 520.7h6.6M777 520.7h6.6M792 520.7h3.6M690 596.2h3.6M693 600.6h3.6M681 605.1h3.6M711 636.1h3.6M663 640.6h3.6M660 649.5h3.6M726 658.3h3.6M729 662.8h3.6"/><path stroke="#00d3ff" d="M699 462.9h3.6M759 462.9h3.6M771 462.9h3.6M801 494h3.6M696 516.2h3.6M774 520.7h3.6M795 520.7h3.6M702 525.1h6.6M699 618.4h3.6M708 631.7h3.6M657 653.9h3.6M654 658.3h3.6M660 667.2h3.6"/><path stroke="#00dbff" d="M726 462.9h3.6M693 480.7h3.6M726 520.7h3.6M771 520.7h3.6M687 596.2h3.6M684 600.6h3.6M678 613.9h3.6M720 653.9h3.6M654 662.8h3.6M726 662.8h3.6M663 667.2h3.6M717 667.2h6.6"/><path stroke="#00e3ff" d="M705 462.9h3.6M693 502.9h3.6M711 640.6h3.6M663 645h3.6M714 649.5h3.6M723 658.3h3.6M714 667.2h3.6"/><path stroke="#00ebff" d="M714 462.9h6.6M798 467.4h3.6M759 520.7h3.6M708 525.1h3.6M690 600.6h3.6M723 662.8h3.6M666 667.2h3.6"/><path stroke="#00f3ff" d="M735 467.4h3.6M693 485.2h3.6M699 520.7h3.6M693 605.1h3.6M681 609.5h3.6M696 613.9h3.6M711 645h3.6M717 653.9h3.6M657 658.3h3.6M657 662.8h3.6M669 667.2h3.6M711 667.2h3.6"/><path stroke="#00fbff" d="M708 462.9h3.6M747 467.4h3.6M693 489.6h3.6M693 498.5h3.6M735 516.2h3.6M717 520.7h3.6M687 600.6h3.6M684 605.1h3.6M672 627.3h3.6M666 636.1h3.6M663 649.5h3.6M660 653.9h3.6M708 667.2h3.6"/><path stroke="#04fffb" d="M702 462.9h3.6M732 467.4h3.6M693 494h3.6M747 516.2h3.6M798 516.2h3.6M675 622.8h3.6M672 667.2h3.6M705 667.2h3.6"/><path stroke="#0cfff3" d="M720 467.4h3.6M741 467.4h3.6M732 516.2h3.6M714 520.7h3.6M669 631.7h3.6M708 636.1h3.6M666 640.6h3.6M720 658.3h3.6M660 662.8h3.6M720 662.8h3.6M675 667.2h3.6M702 667.2h3.6"/><path stroke="#14ffeb" d="M750 467.4h3.6M762 467.4h3.6M768 467.4h3.6M783 467.4h9.6M741 516.2h3.6M786 516.2h3.6M690 605.1h3.6M678 618.4h3.6M699 622.8h3.6M702 627.3h3.6M711 649.5h3.6M714 653.9h3.6M660 658.3h3.6M717 662.8h3.6M678 667.2h6.6M696 667.2h6.6"/><path stroke="#1cffe3" d="M729 467.4h3.6M738 467.4h3.6M744 467.4h3.6M765 467.4h3.6M720 516.2h3.6M729 516.2h3.6M765 516.2h6.6M783 516.2h3.6M711 520.7h3.6M687 605.1h3.6M693 609.5h3.6M705 631.7h3.6M708 640.6h3.6M666 645h3.6M717 658.3h3.6M684 667.2h9.6"/><path stroke="#24ffdb" d="M723 467.4h3.6M753 467.4h6.6M795 467.4h3.6M696 471.8h3.6M738 516.2h3.6M744 516.2h3.6M750 516.2h3.6M762 516.2h3.6M789 516.2h3.6M684 609.5h3.6M681 613.9h3.6M663 653.9h3.6M663 662.8h3.6M693 667.2h3.6"/><path stroke="#2cffd3" d="M759 467.4h3.6M780 467.4h3.6M792 467.4h3.6M777 516.2h3.6M696 618.4h3.6M708 645h3.6M666 649.5h3.6M714 662.8h3.6"/><path stroke="#34ffcb" d="M771 467.4h9.6M723 516.2h3.6M753 516.2h6.6M780 516.2h3.6M792 516.2h6.6"/><path stroke="#3cffc3" d="M699 467.4h3.6M696 511.8h3.6M774 516.2h3.6M690 609.5h3.6M711 653.9h3.6M663 658.3h3.6M714 658.3h3.6M666 662.8h3.6M711 662.8h3.6"/><path stroke="#44ffbb" d="M711 467.4h3.6M726 467.4h3.6M726 516.2h3.6M771 516.2h3.6M702 520.7h3.6M687 609.5h3.6M669 636.1h3.6M708 649.5h3.6"/><path stroke="#4cffb3" d="M717 467.4h3.6M798 471.8h3.6M759 516.2h3.6M705 520.7h3.6M693 613.9h3.6M675 627.3h3.6M669 640.6h3.6M666 653.9h3.6M669 662.8h3.6M708 662.8h3.6"/><path stroke="#54ffab" d="M714 467.4h3.6M735 471.8h3.6M684 613.9h3.6M681 618.4h3.6M678 622.8h3.6M672 631.7h3.6M705 636.1h3.6M669 645h3.6M711 658.3h3.6"/><path stroke="#5cffa3" d="M705 467.4h3.6M732 471.8h3.6M735 511.8h3.6M717 516.2h3.6M708 520.7h3.6M699 627.3h3.6M705 640.6h3.6M669 649.5h3.6M708 653.9h3.6M666 658.3h3.6M672 662.8h3.6M705 662.8h3.6"/><path stroke="#64ff9b" d="M732 511.8h3.6M798 511.8h3.6M699 516.2h3.6M690 613.9h3.6M696 622.8h3.6M702 631.7h3.6M705 645h3.6"/><path stroke="#6cff93" d="M747 471.8h3.6M687 613.9h3.6M705 649.5h3.6M708 658.3h3.6M702 662.8h3.6"/><path stroke="#74ff8b" d="M702 467.4h3.6M708 467.4h3.6M729 471.8h3.6M714 516.2h3.6M669 653.9h3.6M669 658.3h3.6M675 662.8h3.6"/><path stroke="#7cff83" d="M738 471.8h6.6M750 471.8h3.6M762 471.8h3.6M768 471.8h3.6M786 471.8h3.6M729 511.8h3.6M747 511.8h3.6M693 618.4h3.6M699 662.8h3.6"/><path stroke="#83ff7c" d="M720 471.8h3.6M744 471.8h3.6M765 471.8h3.6M783 471.8h3.6M789 471.8h3.6M795 471.8h3.6M696 476.3h3.6M741 511.8h3.6M762 511.8h3.6M768 511.8h3.6M786 511.8h3.6M684 618.4h3.6M705 653.9h3.6M678 662.8h6.6M696 662.8h3.6"/><path stroke="#8bff74" d="M723 471.8h3.6M753 471.8h9.6M792 471.8h3.6M738 511.8h3.6M750 511.8h3.6M765 511.8h3.6M783 511.8h3.6M672 636.1h3.6M672 640.6h3.6M672 645h3.6M672 649.5h3.6M705 658.3h3.6M684 662.8h9.6"/><path stroke="#93ff6c" d="M774 471.8h9.6M744 511.8h3.6M789 511.8h3.6M711 516.2h3.6M690 618.4h3.6M681 622.8h3.6M672 653.9h3.6M672 658.3h3.6M693 662.8h3.6"/><path stroke="#9bff64" d="M771 471.8h3.6M696 507.4h3.6M720 511.8h3.6M777 511.8h3.6M792 511.8h6.6M687 618.4h3.6M678 627.3h3.6M702 636.1h3.6M702 640.6h3.6M702 645h3.6M702 649.5h3.6M702 658.3h3.6"/><path stroke="#a3ff5c" d="M798 476.3h3.6M723 511.8h3.6M753 511.8h6.6M774 511.8h3.6M780 511.8h3.6M675 631.7h3.6M702 653.9h3.6"/><path stroke="#abff54" d="M699 471.8h3.6M717 471.8h3.6M726 471.8h3.6M732 476.3h6.6M759 511.8h3.6M771 511.8h3.6M696 627.3h3.6M699 631.7h3.6M675 658.3h3.6"/><path stroke="#b3ff4c" d="M732 507.4h3.6M726 511.8h3.6M693 622.8h3.6M699 658.3h3.6"/><path stroke="#bbff44" d="M711 471.8h6.6M735 507.4h3.6M798 507.4h3.6M702 516.2h3.6M684 622.8h3.6M675 649.5h3.6M675 653.9h3.6"/><path stroke="#c3ff3c" d="M717 511.8h3.6M690 622.8h3.6M675 645h3.6M699 649.5h3.6M699 653.9h3.6M678 658.3h3.6M696 658.3h3.6"/><path stroke="#cbff34" d="M729 476.3h3.6M705 516.2h3.6M687 622.8h3.6M675 636.1h3.6M675 640.6h3.6M699 645h3.6M681 658.3h3.6"/><path stroke="#d3ff2c" d="M762 476.3h3.6M729 507.4h3.6M699 511.8h3.6M681 627.3h3.6M699 640.6h3.6M678 653.9h3.6M684 658.3h9.6"/><path stroke="#dbff24" d="M705 471.8h3.6M747 476.3h6.6M768 476.3h3.6M696 480.7h3.6M714 511.8h3.6M708 516.2h3.6M699 636.1h3.6M696 653.9h3.6M693 658.3h3.6"/><path stroke="#e3ff1c" d="M738 476.3h6.6M765 476.3h3.6M786 476.3h3.6M762 507.4h3.6M678 649.5h3.6M696 649.5h3.6M681 653.9h3.6"/><path stroke="#ebff14" d="M702 471.8h3.6M744 476.3h3.6M759 476.3h3.6M783 476.3h3.6M789 476.3h9.6M732 480.7h3.6M798 480.7h3.6M747 507.4h6.6M768 507.4h3.6M786 507.4h3.6M678 631.7h3.6"/><path stroke="#f3ff0c" d="M708 471.8h3.6M753 476.3h6.6M774 476.3h3.6M735 480.7h3.6M696 502.9h3.6M738 507.4h9.6M765 507.4h3.6M684 627.3h3.6M693 627.3h3.6M696 631.7h3.6M678 645h3.6M696 645h3.6M681 649.5h3.6M684 653.9h12.6"/><path stroke="#fbff04" d="M720 476.3h6.6M771 476.3h3.6M777 476.3h6.6M732 502.9h3.6M783 507.4h3.6M789 507.4h9.6M690 627.3h3.6"/><path stroke="#fffb00" d="M735 502.9h3.6M798 502.9h3.6M759 507.4h3.6M774 507.4h6.6M687 627.3h3.6M678 640.6h3.6M684 649.5h3.6M690 649.5h6.6"/><path stroke="#fff300" d="M717 476.3h3.6M726 476.3h3.6M720 507.4h6.6M753 507.4h6.6M771 507.4h3.6M780 507.4h3.6M711 511.8h3.6M678 636.1h3.6M696 640.6h3.6M681 645h3.6M687 649.5h3.6"/><path stroke="#ffeb00" d="M699 476.3h3.6M729 480.7h3.6M726 507.4h3.6M681 631.7h3.6M696 636.1h3.6"/><path stroke="#ffe300" d="M714 476.3h3.6M696 485.2h3.6M732 485.2h3.6M729 502.9h3.6M717 507.4h3.6M693 645h3.6"/><path stroke="#ffdb00" d="M762 480.7h3.6M798 485.2h3.6M732 498.5h3.6M684 645h3.6M690 645h3.6"/><path stroke="#ffd300" d="M711 476.3h3.6M768 480.7h3.6M735 485.2h3.6M696 498.5h3.6M798 498.5h3.6M762 502.9h3.6M681 640.6h3.6M687 645h3.6"/><path stroke="#ffcb00" d="M738 480.7h3.6M750 480.7h3.6M759 480.7h3.6M732 489.6h3.6M735 498.5h3.6M702 511.8h3.6M684 631.7h3.6M693 631.7h3.6M681 636.1h3.6"/><path stroke="#ffc300" d="M744 480.7h6.6M765 480.7h3.6M786 480.7h3.6M792 480.7h6.6M696 489.6h3.6M798 489.6h3.6M732 494h3.6M750 502.9h3.6M768 502.9h3.6M699 507.4h3.6M714 507.4h3.6M690 631.7h3.6M684 640.6h3.6M693 640.6h3.6"/><path stroke="#ffbb00" d="M741 480.7h3.6M774 480.7h3.6M783 480.7h3.6M789 480.7h3.6M729 485.2h3.6M735 489.6h3.6M696 494h3.6M735 494h3.6M798 494h3.6M738 502.9h3.6M765 502.9h3.6M786 502.9h3.6M687 631.7h3.6M690 640.6h3.6"/><path stroke="#ffb300" d="M753 480.7h6.6M771 480.7h3.6M777 480.7h6.6M729 498.5h3.6M744 502.9h6.6M759 502.9h3.6M792 502.9h6.6M705 511.8h3.6M693 636.1h3.6M687 640.6h3.6"/><path stroke="#ffab00" d="M717 480.7h3.6M723 480.7h3.6M762 485.2h3.6M741 502.9h3.6M771 502.9h9.6M783 502.9h3.6M789 502.9h3.6M684 636.1h3.6M690 636.1h3.6"/><path stroke="#ffa300" d="M702 476.3h6.6M729 489.6h3.6M729 494h3.6M762 498.5h3.6M753 502.9h6.6M780 502.9h3.6M708 511.8h3.6M687 636.1h3.6"/><path stroke="#ff9b00" d="M720 480.7h3.6M726 480.7h3.6M768 485.2h3.6M717 502.9h3.6M723 502.9h3.6"/><path stroke="#ff9300" d="M699 480.7h3.6M714 480.7h3.6M738 485.2h3.6M750 485.2h3.6M759 485.2h3.6M768 498.5h3.6M726 502.9h3.6"/><path stroke="#ff8b00" d="M708 476.3h3.6M765 485.2h3.6M786 485.2h3.6M792 485.2h6.6M762 489.6h3.6M762 494h3.6M738 498.5h3.6M750 498.5h3.6M759 498.5h3.6M720 502.9h3.6M711 507.4h3.6"/><path stroke="#ff8300" d="M744 485.2h3.6M774 485.2h3.6M765 498.5h3.6M786 498.5h3.6M792 498.5h3.6"/><path stroke="#ff7c00" d="M717 485.2h3.6M741 485.2h3.6M747 485.2h3.6M771 485.2h3.6M777 485.2h3.6M783 485.2h3.6M789 485.2h3.6M759 489.6h3.6M768 489.6h3.6M768 494h3.6M744 498.5h3.6M774 498.5h3.6M795 498.5h3.6M714 502.9h3.6"/><path stroke="#ff7400" d="M753 485.2h6.6M780 485.2h3.6M738 489.6h3.6M750 489.6h3.6M738 494h3.6M750 494h3.6M759 494h3.6M741 498.5h3.6M747 498.5h3.6M771 498.5h3.6M777 498.5h3.6M783 498.5h3.6M789 498.5h3.6M699 502.9h3.6"/><path stroke="#ff6c00" d="M711 480.7h3.6M723 485.2h3.6M765 489.6h3.6M774 489.6h3.6M786 489.6h3.6M792 489.6h6.6M765 494h3.6M786 494h3.6M792 494h6.6M717 498.5h3.6M753 498.5h6.6M780 498.5h3.6"/><path stroke="#ff6400" d="M726 485.2h3.6M744 489.6h3.6M771 489.6h3.6M777 489.6h3.6M789 489.6h3.6M744 494h3.6M771 494h6.6M723 498.5h3.6M702 507.4h3.6"/><path stroke="#ff5c00" d="M714 485.2h3.6M717 489.6h3.6M741 489.6h3.6M747 489.6h3.6M780 489.6h6.6M717 494h3.6M747 494h3.6M777 494h3.6M783 494h3.6M789 494h3.6M726 498.5h3.6"/><path stroke="#ff5400" d="M699 485.2h3.6M720 485.2h3.6M753 489.6h6.6M741 494h3.6M753 494h6.6M780 494h3.6"/><path stroke="#ff4c00" d="M723 489.6h6.6M723 494h3.6M714 498.5h3.6M720 498.5h3.6"/><path stroke="#ff4400" d="M702 480.7h3.6M714 489.6h3.6M726 494h3.6M699 498.5h3.6M705 507.4h3.6"/><path stroke="#ff3c00" d="M714 494h3.6"/><path stroke="#ff3400" d="M705 480.7h3.6M699 489.6h3.6M711 502.9h3.6"/><path stroke="#ff2c00" d="M720 489.6h3.6M699 494h3.6M720 494h3.6M708 507.4h3.6"/><path stroke="#ff1c00" d="M708 480.7h3.6M711 485.2h3.6"/><path stroke="#ff0c00" d="M702 502.9h3.6"/><path stroke="#fb0000" d="M702 485.2h3.6M711 498.5h3.6"/><path stroke="#f30000" d="M711 489.6h3.6"/><path stroke="#e30000" d="M711 494h3.6M705 502.9h3.6"/><path stroke="#db0000" d="M705 485.2h3.6M702 498.5h3.6"/><path stroke="#d30000" d="M702 489.6h3.6M708 502.9h3.6"/><path stroke="#cb0000" d="M708 485.2h3.6M702 494h3.6"/><path stroke="#ab0000" d="M705 489.6h3.6M705 498.5h3.6"/><path stroke="#9b0000" d="M708 489.6h3.6M705 494h3.6M708 498.5h3.6"/><path stroke="#8b0000" d="M708 494h3.6"/></g></g><line x1="677.4" y1="404.0" x2="677.4" y2="664.7" stroke="#a4a4ff" stroke-width="2" stroke-dasharray="2,2.4"/><clipPath id="cp12"><polygon points="962.9,402.9 1342.4,402.9 1342.4,660.1 1327.7,660.1 1327.7,664.7 962.9,664.7"/></clipPath><g clip-path="url(#cp12)"><g fill="none" stroke-width="5.14" filter="url(#hb)"><rect x="957.0" y="398.6" width="393.0" height="270.9" fill="#00009b"/><path stroke="#0000a3" d="M957 400.8h9.6M978 400.8h3.6M987 400.8h3.6M1029 400.8h6.6M1056 400.8h6.6M1086 400.8h3.6M1116 400.8h3.6M1152 400.8h3.6M1161 400.8h3.6M1167 400.8h3.6M1188 400.8h3.6M1206 400.8h3.6M1212 400.8h3.6M1218 400.8h3.6M1227 400.8h6.6M1254 400.8h6.6M1299 400.8h3.6M1347 400.8h3.6M957 405.2h9.6M978 405.2h3.6M1029 405.2h6.6M1059 405.2h3.6M1086 405.2h3.6M1107 405.2h3.6M1116 405.2h3.6M1152 405.2h3.6M1161 405.2h3.6M1167 405.2h3.6M1188 405.2h3.6M1206 405.2h3.6M1212 405.2h3.6M1218 405.2h3.6M1227 405.2h6.6M1254 405.2h6.6M1299 405.2h3.6M1347 405.2h3.6M957 409.7h12.6M978 409.7h3.6M1029 409.7h6.6M1059 409.7h3.6M1086 409.7h3.6M1098 409.7h3.6M1107 409.7h3.6M1116 409.7h3.6M1152 409.7h3.6M1161 409.7h3.6M1167 409.7h3.6M1188 409.7h3.6M1206 409.7h3.6M1212 409.7h3.6M1218 409.7h3.6M1227 409.7h6.6M1254 409.7h6.6M1347 409.7h3.6M957 414.1h12.6M978 414.1h3.6M1017 414.1h3.6M1029 414.1h6.6M1086 414.1h3.6M1098 414.1h3.6M1107 414.1h3.6M1116 414.1h3.6M1152 414.1h3.6M1161 414.1h3.6M1167 414.1h6.6M1188 414.1h3.6M1212 414.1h3.6M1230 414.1h3.6M1254 414.1h9.6M1347 414.1h3.6M957 418.5h12.6M978 418.5h3.6M1017 418.5h3.6M1032 418.5h3.6M1062 418.5h3.6M1086 418.5h3.6M1116 418.5h3.6M1128 418.5h3.6M1152 418.5h3.6M1161 418.5h3.6M1167 418.5h6.6M1188 418.5h3.6M1212 418.5h3.6M1230 418.5h3.6M1254 418.5h9.6M1347 418.5h3.6M957 423h12.6M978 423h3.6M1017 423h3.6M1029 423h6.6M1062 423h3.6M1086 423h3.6M1110 423h3.6M1116 423h3.6M1128 423h3.6M1149 423h6.6M1167 423h6.6M1188 423h3.6M1212 423h3.6M1230 423h3.6M1254 423h9.6M1302 423h3.6M1347 423h3.6M957 427.4h12.6M978 427.4h3.6M1017 427.4h3.6M1029 427.4h6.6M1062 427.4h3.6M1086 427.4h3.6M1110 427.4h3.6M1116 427.4h3.6M1125 427.4h6.6M1143 427.4h3.6M1149 427.4h3.6M1170 427.4h6.6M1188 427.4h3.6M1212 427.4h3.6M1254 427.4h9.6M1302 427.4h3.6M1320 427.4h3.6M1347 427.4h3.6M957 431.9h12.6M978 431.9h3.6M1017 431.9h3.6M1029 431.9h6.6M1062 431.9h3.6M1095 431.9h3.6M1110 431.9h3.6M1125 431.9h6.6M1134 431.9h3.6M1140 431.9h6.6M1149 431.9h3.6M1155 431.9h9.6M1170 431.9h6.6M1185 431.9h6.6M1206 431.9h3.6M1254 431.9h6.6M1302 431.9h3.6M1320 431.9h3.6M1347 431.9h3.6M957 436.3h12.6M978 436.3h3.6M1026 436.3h9.6M1062 436.3h3.6M1095 436.3h3.6M1113 436.3h3.6M1122 436.3h3.6M1128 436.3h9.6M1140 436.3h3.6M1146 436.3h6.6M1155 436.3h9.6M1176 436.3h6.6M1185 436.3h3.6M1191 436.3h21.6M1254 436.3h6.6M1302 436.3h3.6M1320 436.3h3.6M1347 436.3h3.6M957 440.7h12.6M978 440.7h3.6M1014 440.7h3.6M1023 440.7h12.6M1062 440.7h3.6M1095 440.7h3.6M1113 440.7h3.6M1122 440.7h3.6M1137 440.7h3.6M1182 440.7h3.6M1200 440.7h3.6M1206 440.7h6.6M1224 440.7h3.6M1254 440.7h6.6M1302 440.7h3.6M1320 440.7h3.6M1347 440.7h3.6M957 445.2h12.6M978 445.2h3.6M987 445.2h3.6M1014 445.2h3.6M1023 445.2h12.6M1062 445.2h3.6M1224 445.2h3.6M1254 445.2h6.6M1302 445.2h3.6M1320 445.2h3.6M1347 445.2h3.6M957 449.6h12.6M978 449.6h3.6M984 449.6h6.6M1014 449.6h3.6M1023 449.6h15.6M1062 449.6h3.6M1224 449.6h3.6M1254 449.6h6.6M1320 449.6h3.6M1347 449.6h3.6M957 454.1h12.6M978 454.1h3.6M984 454.1h6.6M1014 454.1h3.6M1023 454.1h15.6M1062 454.1h3.6M1224 454.1h3.6M1254 454.1h6.6M1320 454.1h3.6M1347 454.1h3.6M957 458.5h12.6M978 458.5h3.6M984 458.5h6.6M1014 458.5h3.6M1023 458.5h15.6M1062 458.5h3.6M1254 458.5h3.6M1320 458.5h3.6M1347 458.5h3.6M957 462.9h12.6M978 462.9h3.6M984 462.9h6.6M1014 462.9h3.6M1023 462.9h15.6M1062 462.9h3.6M1233 462.9h3.6M1254 462.9h3.6M1320 462.9h3.6M1347 462.9h3.6M957 467.4h12.6M978 467.4h3.6M984 467.4h6.6M1014 467.4h3.6M1023 467.4h15.6M1062 467.4h3.6M1233 467.4h3.6M1254 467.4h3.6M1320 467.4h3.6M1347 467.4h3.6M957 471.8h12.6M978 471.8h3.6M984 471.8h6.6M1014 471.8h3.6M1023 471.8h12.6M1062 471.8h3.6M1233 471.8h3.6M1248 471.8h3.6M1320 471.8h3.6M1341 471.8h3.6M1347 471.8h3.6M957 476.3h12.6M978 476.3h3.6M984 476.3h6.6M1014 476.3h3.6M1026 476.3h9.6M1062 476.3h3.6M1233 476.3h3.6M1248 476.3h3.6M1257 476.3h3.6M1263 476.3h3.6M1341 476.3h3.6M1347 476.3h3.6M957 480.7h3.6M963 480.7h6.6M978 480.7h3.6M984 480.7h6.6M1014 480.7h3.6M1029 480.7h3.6M1062 480.7h3.6M1233 480.7h3.6M1248 480.7h3.6M1257 480.7h3.6M1263 480.7h3.6M1341 480.7h3.6M1347 480.7h3.6M963 485.2h6.6M978 485.2h3.6M984 485.2h6.6M1014 485.2h3.6M1029 485.2h3.6M1062 485.2h3.6M1233 485.2h3.6M1248 485.2h3.6M1257 485.2h3.6M1263 485.2h3.6M1341 485.2h3.6M1347 485.2h3.6M978 489.6h3.6M984 489.6h6.6M1014 489.6h3.6M1053 489.6h6.6M1062 489.6h3.6M1248 489.6h3.6M1257 489.6h3.6M1263 489.6h3.6M1338 489.6h6.6M1347 489.6h3.6M978 494h3.6M984 494h6.6M1014 494h3.6M1020 494h3.6M1053 494h6.6M1062 494h3.6M1257 494h3.6M1263 494h3.6M1338 494h3.6M978 498.5h3.6M987 498.5h3.6M1014 498.5h3.6M1020 498.5h3.6M1053 498.5h6.6M1062 498.5h3.6M1257 498.5h3.6M1263 498.5h3.6M1338 498.5h3.6M1344 498.5h3.6M987 502.9h3.6M1014 502.9h3.6M1020 502.9h3.6M1053 502.9h6.6M1062 502.9h3.6M1257 502.9h3.6M1263 502.9h3.6M1302 502.9h3.6M1338 502.9h3.6M1344 502.9h3.6M987 507.4h3.6M1014 507.4h3.6M1020 507.4h3.6M1029 507.4h3.6M1056 507.4h3.6M1062 507.4h3.6M1257 507.4h3.6M1263 507.4h3.6M1281 507.4h3.6M1293 507.4h3.6M1302 507.4h3.6M1338 507.4h3.6M1344 507.4h3.6M987 511.8h3.6M1014 511.8h3.6M1020 511.8h3.6M1029 511.8h3.6M1059 511.8h6.6M1086 511.8h3.6M1257 511.8h3.6M1263 511.8h3.6M1281 511.8h3.6M1293 511.8h3.6M1302 511.8h3.6M1338 511.8h3.6M1344 511.8h3.6M987 516.2h3.6M1014 516.2h3.6M1020 516.2h3.6M1029 516.2h3.6M1059 516.2h6.6M1086 516.2h3.6M1257 516.2h3.6M1263 516.2h3.6M1281 516.2h3.6M1293 516.2h3.6M1302 516.2h3.6M1323 516.2h3.6M1338 516.2h3.6M1344 516.2h3.6M987 520.7h3.6M1014 520.7h3.6M1020 520.7h3.6M1029 520.7h3.6M1059 520.7h6.6M1086 520.7h3.6M1263 520.7h3.6M1281 520.7h6.6M1293 520.7h3.6M1302 520.7h3.6M1323 520.7h3.6M1338 520.7h3.6M1344 520.7h3.6M987 525.1h3.6M1014 525.1h3.6M1020 525.1h3.6M1029 525.1h3.6M1059 525.1h6.6M1086 525.1h3.6M1236 525.1h3.6M1263 525.1h3.6M1281 525.1h6.6M1293 525.1h3.6M1302 525.1h3.6M1323 525.1h3.6M1338 525.1h3.6M1344 525.1h3.6M987 529.6h3.6M1014 529.6h3.6M1020 529.6h3.6M1029 529.6h3.6M1038 529.6h6.6M1059 529.6h6.6M1086 529.6h3.6M1236 529.6h3.6M1263 529.6h3.6M1281 529.6h6.6M1323 529.6h3.6M1338 529.6h3.6M1344 529.6h3.6M987 534h3.6M1014 534h3.6M1020 534h3.6M1029 534h3.6M1038 534h6.6M1059 534h6.6M1086 534h3.6M1236 534h3.6M1263 534h3.6M1284 534h3.6M1299 534h3.6M1323 534h3.6M1338 534h3.6M1344 534h3.6M987 538.4h3.6M1014 538.4h3.6M1029 538.4h3.6M1038 538.4h6.6M1059 538.4h6.6M1086 538.4h3.6M1236 538.4h3.6M1263 538.4h3.6M1284 538.4h3.6M1299 538.4h3.6M1323 538.4h3.6M1338 538.4h3.6M1344 538.4h3.6M972 542.9h3.6M987 542.9h3.6M1014 542.9h3.6M1029 542.9h6.6M1038 542.9h6.6M1059 542.9h6.6M1071 542.9h3.6M1086 542.9h3.6M1263 542.9h3.6M1284 542.9h3.6M1293 542.9h3.6M1299 542.9h3.6M1317 542.9h3.6M1323 542.9h3.6M1338 542.9h3.6M1344 542.9h3.6M972 547.3h3.6M987 547.3h3.6M1014 547.3h3.6M1032 547.3h3.6M1038 547.3h6.6M1059 547.3h6.6M1071 547.3h6.6M1116 547.3h9.6M1137 547.3h15.6M1161 547.3h3.6M1176 547.3h18.6M1200 547.3h3.6M1206 547.3h6.6M1263 547.3h3.6M1284 547.3h3.6M1293 547.3h3.6M1299 547.3h3.6M1317 547.3h3.6M1323 547.3h3.6M1338 547.3h3.6M972 551.8h3.6M1014 551.8h3.6M1032 551.8h3.6M1038 551.8h3.6M1059 551.8h6.6M1071 551.8h6.6M1116 551.8h6.6M1128 551.8h9.6M1146 551.8h3.6M1158 551.8h3.6M1164 551.8h3.6M1176 551.8h6.6M1200 551.8h3.6M1209 551.8h3.6M1263 551.8h3.6M1284 551.8h3.6M1293 551.8h3.6M1299 551.8h3.6M1317 551.8h3.6M1323 551.8h3.6M1338 551.8h3.6M1014 556.2h3.6M1023 556.2h3.6M1032 556.2h3.6M1053 556.2h3.6M1059 556.2h6.6M1071 556.2h6.6M1116 556.2h3.6M1125 556.2h12.6M1152 556.2h3.6M1164 556.2h3.6M1194 556.2h3.6M1200 556.2h3.6M1263 556.2h3.6M1284 556.2h3.6M1293 556.2h3.6M1299 556.2h3.6M1317 556.2h3.6M1323 556.2h3.6M1338 556.2h3.6M1014 560.6h6.6M1023 560.6h3.6M1032 560.6h3.6M1053 560.6h3.6M1059 560.6h6.6M1071 560.6h6.6M1092 560.6h3.6M1116 560.6h3.6M1152 560.6h6.6M1164 560.6h3.6M1194 560.6h3.6M1200 560.6h3.6M1263 560.6h3.6M1284 560.6h3.6M1293 560.6h3.6M1299 560.6h3.6M1317 560.6h3.6M1323 560.6h3.6M1338 560.6h6.6M1017 565.1h3.6M1023 565.1h3.6M1053 565.1h3.6M1059 565.1h6.6M1071 565.1h6.6M1092 565.1h3.6M1098 565.1h3.6M1116 565.1h3.6M1152 565.1h6.6M1164 565.1h3.6M1194 565.1h3.6M1200 565.1h3.6M1248 565.1h3.6M1263 565.1h3.6M1284 565.1h3.6M1317 565.1h3.6M1323 565.1h3.6M1341 565.1h3.6M1017 569.5h3.6M1023 569.5h6.6M1053 569.5h3.6M1059 569.5h6.6M1071 569.5h6.6M1092 569.5h3.6M1098 569.5h3.6M1116 569.5h3.6M1152 569.5h6.6M1164 569.5h3.6M1194 569.5h3.6M1200 569.5h3.6M1248 569.5h3.6M1260 569.5h6.6M1284 569.5h3.6M1317 569.5h3.6M1323 569.5h3.6M1341 569.5h3.6M1017 574h3.6M1023 574h6.6M1053 574h3.6M1059 574h6.6M1071 574h6.6M1092 574h3.6M1098 574h3.6M1152 574h6.6M1164 574h3.6M1194 574h3.6M1200 574h3.6M1248 574h3.6M1260 574h6.6M1272 574h3.6M1281 574h6.6M1317 574h3.6M1323 574h3.6M1341 574h3.6M1017 578.4h3.6M1023 578.4h6.6M1053 578.4h3.6M1062 578.4h3.6M1071 578.4h6.6M1092 578.4h3.6M1098 578.4h3.6M1152 578.4h6.6M1164 578.4h6.6M1194 578.4h3.6M1200 578.4h3.6M1248 578.4h3.6M1260 578.4h6.6M1272 578.4h3.6M1281 578.4h6.6M1317 578.4h3.6M1323 578.4h3.6M1017 582.8h3.6M1026 582.8h3.6M1053 582.8h6.6M1062 582.8h3.6M1071 582.8h6.6M1092 582.8h3.6M1098 582.8h3.6M1119 582.8h3.6M1155 582.8h3.6M1164 582.8h6.6M1194 582.8h3.6M1200 582.8h3.6M1245 582.8h6.6M1260 582.8h6.6M1272 582.8h3.6M1281 582.8h6.6M1317 582.8h3.6M1323 582.8h3.6M1017 587.3h6.6M1026 587.3h3.6M1056 587.3h3.6M1071 587.3h6.6M1092 587.3h3.6M1119 587.3h3.6M1155 587.3h3.6M1164 587.3h6.6M1194 587.3h3.6M1200 587.3h3.6M1245 587.3h6.6M1260 587.3h6.6M1272 587.3h3.6M1281 587.3h6.6M1317 587.3h3.6M1323 587.3h3.6M1017 591.7h6.6M1026 591.7h3.6M1056 591.7h3.6M1071 591.7h6.6M1092 591.7h3.6M1155 591.7h3.6M1164 591.7h6.6M1194 591.7h3.6M1200 591.7h6.6M1239 591.7h3.6M1245 591.7h6.6M1260 591.7h6.6M1272 591.7h3.6M1281 591.7h6.6M1317 591.7h3.6M1323 591.7h3.6M1020 596.2h3.6M1026 596.2h3.6M1056 596.2h3.6M1071 596.2h6.6M1092 596.2h3.6M1122 596.2h3.6M1155 596.2h3.6M1164 596.2h6.6M1194 596.2h3.6M1200 596.2h6.6M1209 596.2h3.6M1239 596.2h3.6M1245 596.2h3.6M1260 596.2h6.6M1272 596.2h3.6M1281 596.2h6.6M1317 596.2h3.6M1323 596.2h3.6M1020 600.6h3.6M1056 600.6h3.6M1071 600.6h6.6M1092 600.6h3.6M1122 600.6h3.6M1164 600.6h6.6M1194 600.6h3.6M1200 600.6h3.6M1206 600.6h6.6M1239 600.6h3.6M1245 600.6h3.6M1260 600.6h6.6M1272 600.6h3.6M1281 600.6h6.6M1317 600.6h3.6M1323 600.6h3.6M984 605.1h3.6M1017 605.1h6.6M1056 605.1h3.6M1071 605.1h6.6M1125 605.1h3.6M1164 605.1h3.6M1191 605.1h3.6M1206 605.1h6.6M1239 605.1h3.6M1245 605.1h3.6M1260 605.1h6.6M1272 605.1h3.6M1281 605.1h6.6M1317 605.1h3.6M1323 605.1h3.6M984 609.5h3.6M1017 609.5h6.6M1056 609.5h3.6M1071 609.5h6.6M1089 609.5h3.6M1125 609.5h3.6M1164 609.5h3.6M1185 609.5h9.6M1206 609.5h3.6M1239 609.5h3.6M1245 609.5h3.6M1260 609.5h3.6M1272 609.5h3.6M1281 609.5h6.6M1317 609.5h3.6M1323 609.5h3.6M984 613.9h3.6M990 613.9h3.6M1005 613.9h15.6M1029 613.9h3.6M1056 613.9h3.6M1071 613.9h6.6M1089 613.9h3.6M1128 613.9h3.6M1164 613.9h3.6M1185 613.9h9.6M1239 613.9h3.6M1245 613.9h3.6M1272 613.9h3.6M1281 613.9h6.6M1320 613.9h6.6M984 618.4h3.6M990 618.4h30.6M1029 618.4h3.6M1056 618.4h3.6M1071 618.4h3.6M1077 618.4h3.6M1083 618.4h6.6M1131 618.4h3.6M1164 618.4h3.6M1182 618.4h9.6M1239 618.4h3.6M1245 618.4h3.6M1272 618.4h3.6M1281 618.4h6.6M1320 618.4h6.6M975 622.8h9.6M993 622.8h6.6M1029 622.8h9.6M1056 622.8h3.6M1071 622.8h3.6M1077 622.8h9.6M1134 622.8h3.6M1164 622.8h3.6M1182 622.8h9.6M1239 622.8h3.6M1245 622.8h3.6M1272 622.8h3.6M1281 622.8h6.6M1320 622.8h6.6M969 627.3h3.6M975 627.3h9.6M1032 627.3h6.6M1056 627.3h3.6M1071 627.3h3.6M1077 627.3h3.6M1137 627.3h3.6M1164 627.3h3.6M1182 627.3h9.6M1239 627.3h3.6M1245 627.3h3.6M1272 627.3h3.6M1281 627.3h6.6M1320 627.3h6.6M966 631.7h6.6M975 631.7h3.6M1032 631.7h6.6M1041 631.7h3.6M1056 631.7h3.6M1068 631.7h3.6M1140 631.7h6.6M1164 631.7h3.6M1182 631.7h9.6M1239 631.7h3.6M1245 631.7h3.6M1272 631.7h3.6M1281 631.7h6.6M1320 631.7h6.6M963 636.1h9.6M1035 636.1h3.6M1041 636.1h6.6M1065 636.1h6.6M1143 636.1h3.6M1164 636.1h3.6M1182 636.1h12.6M1236 636.1h6.6M1245 636.1h3.6M1272 636.1h3.6M1320 636.1h3.6M960 640.6h12.6M1035 640.6h3.6M1044 640.6h9.6M1059 640.6h12.6M1146 640.6h9.6M1164 640.6h3.6M1176 640.6h18.6M1233 640.6h6.6M1245 640.6h3.6M1272 640.6h3.6M1320 640.6h3.6M957 645h12.6M1044 645h9.6M1236 645h9.6M1248 645h3.6M1272 645h3.6M1320 645h3.6M957 649.5h6.6M1248 649.5h9.6M1260 649.5h3.6M1272 649.5h3.6M1320 649.5h3.6M1257 653.9h12.6M1320 653.9h3.6M1263 658.3h9.6M1320 658.3h3.6M1263 662.8h9.6M1320 662.8h3.6M957 667.2h15.6M975 667.2h3.6M1257 667.2h12.6M1320 667.2h3.6"/><path stroke="#0000ab" d="M966 400.8h3.6M984 400.8h3.6M1020 400.8h9.6M1101 400.8h3.6M1164 400.8h3.6M1221 400.8h6.6M1245 400.8h3.6M1317 400.8h3.6M966 405.2h3.6M984 405.2h6.6M1020 405.2h9.6M1056 405.2h3.6M1164 405.2h3.6M1221 405.2h6.6M1317 405.2h3.6M984 409.7h6.6M1020 409.7h9.6M1056 409.7h3.6M1164 409.7h3.6M1221 409.7h6.6M1299 409.7h3.6M1317 409.7h3.6M984 414.1h6.6M1020 414.1h9.6M1056 414.1h6.6M1164 414.1h3.6M1218 414.1h12.6M1299 414.1h3.6M1317 414.1h3.6M984 418.5h6.6M1020 418.5h12.6M1056 418.5h6.6M1098 418.5h3.6M1107 418.5h3.6M1164 418.5h3.6M1218 418.5h12.6M1299 418.5h3.6M1317 418.5h3.6M984 423h6.6M1020 423h9.6M1098 423h3.6M1164 423h3.6M1218 423h12.6M1299 423h3.6M1317 423h3.6M984 427.4h6.6M1020 427.4h9.6M1152 427.4h3.6M1164 427.4h6.6M1218 427.4h15.6M1299 427.4h3.6M1317 427.4h3.6M984 431.9h6.6M1020 431.9h9.6M1086 431.9h3.6M1116 431.9h3.6M1152 431.9h3.6M1164 431.9h6.6M1212 431.9h3.6M1218 431.9h15.6M1260 431.9h3.6M1299 431.9h3.6M1317 431.9h3.6M984 436.3h6.6M1017 436.3h9.6M1086 436.3h3.6M1110 436.3h3.6M1116 436.3h3.6M1125 436.3h3.6M1143 436.3h3.6M1164 436.3h3.6M1170 436.3h6.6M1188 436.3h3.6M1212 436.3h3.6M1218 436.3h9.6M1230 436.3h3.6M1260 436.3h3.6M1317 436.3h3.6M984 440.7h6.6M1017 440.7h6.6M1086 440.7h3.6M1110 440.7h3.6M1128 440.7h6.6M1140 440.7h12.6M1155 440.7h9.6M1176 440.7h6.6M1185 440.7h3.6M1191 440.7h9.6M1203 440.7h3.6M1221 440.7h3.6M1230 440.7h3.6M1260 440.7h3.6M1317 440.7h3.6M984 445.2h3.6M1017 445.2h6.6M1086 445.2h3.6M1095 445.2h3.6M1113 445.2h3.6M1137 445.2h3.6M1182 445.2h3.6M1230 445.2h3.6M1260 445.2h3.6M1317 445.2h3.6M1020 449.6h3.6M1086 449.6h3.6M1095 449.6h3.6M1230 449.6h3.6M1302 449.6h3.6M1317 449.6h3.6M1020 454.1h3.6M1086 454.1h3.6M1095 454.1h3.6M1230 454.1h3.6M1302 454.1h3.6M1317 454.1h3.6M1020 458.5h3.6M1086 458.5h3.6M1095 458.5h3.6M1224 458.5h3.6M1230 458.5h3.6M1257 458.5h3.6M1302 458.5h3.6M1317 458.5h3.6M1020 462.9h3.6M1086 462.9h3.6M1095 462.9h3.6M1224 462.9h3.6M1230 462.9h3.6M1257 462.9h3.6M1302 462.9h3.6M1317 462.9h3.6M1020 467.4h3.6M1086 467.4h3.6M1095 467.4h3.6M1230 467.4h3.6M1257 467.4h3.6M1302 467.4h3.6M1317 467.4h3.6M1020 471.8h3.6M1086 471.8h3.6M1095 471.8h3.6M1230 471.8h3.6M1257 471.8h3.6M1302 471.8h3.6M1317 471.8h3.6M1020 476.3h3.6M1056 476.3h3.6M1086 476.3h3.6M1095 476.3h3.6M1227 476.3h6.6M1302 476.3h3.6M1317 476.3h6.6M1020 480.7h3.6M1032 480.7h3.6M1053 480.7h6.6M1086 480.7h3.6M1095 480.7h3.6M1227 480.7h6.6M1302 480.7h3.6M1317 480.7h6.6M1020 485.2h3.6M1032 485.2h3.6M1053 485.2h6.6M1086 485.2h3.6M1095 485.2h3.6M1227 485.2h6.6M1302 485.2h3.6M1317 485.2h6.6M1020 489.6h3.6M1029 489.6h6.6M1086 489.6h3.6M1095 489.6h3.6M1227 489.6h9.6M1302 489.6h3.6M1317 489.6h6.6M1029 494h6.6M1059 494h3.6M1086 494h3.6M1095 494h3.6M1227 494h9.6M1248 494h3.6M1302 494h3.6M1317 494h6.6M1341 494h3.6M1029 498.5h6.6M1059 498.5h3.6M1086 498.5h3.6M1095 498.5h3.6M1227 498.5h9.6M1248 498.5h3.6M1302 498.5h3.6M1317 498.5h6.6M1341 498.5h3.6M1029 502.9h6.6M1059 502.9h3.6M1086 502.9h3.6M1095 502.9h3.6M1227 502.9h9.6M1248 502.9h3.6M1317 502.9h6.6M1341 502.9h3.6M1032 507.4h3.6M1059 507.4h3.6M1086 507.4h3.6M1095 507.4h3.6M1227 507.4h6.6M1299 507.4h3.6M1317 507.4h6.6M1341 507.4h3.6M1032 511.8h3.6M1095 511.8h3.6M1227 511.8h6.6M1299 511.8h3.6M1317 511.8h6.6M1341 511.8h3.6M1032 516.2h3.6M1095 516.2h3.6M1227 516.2h6.6M1260 516.2h3.6M1299 516.2h3.6M1317 516.2h6.6M1032 520.7h3.6M1095 520.7h3.6M1227 520.7h6.6M1260 520.7h3.6M1299 520.7h3.6M1317 520.7h6.6M1032 525.1h3.6M1095 525.1h3.6M1227 525.1h3.6M1260 525.1h3.6M1299 525.1h3.6M1317 525.1h6.6M1032 529.6h3.6M1224 529.6h6.6M1260 529.6h3.6M1293 529.6h3.6M1299 529.6h3.6M1317 529.6h6.6M1032 534h3.6M1224 534h6.6M1260 534h3.6M1281 534h3.6M1293 534h3.6M1317 534h6.6M1341 534h3.6M1017 538.4h3.6M1032 538.4h3.6M1224 538.4h3.6M1260 538.4h3.6M1281 538.4h3.6M1293 538.4h3.6M1317 538.4h6.6M1341 538.4h3.6M1017 542.9h3.6M1095 542.9h3.6M1116 542.9h9.6M1137 542.9h9.6M1149 542.9h3.6M1161 542.9h3.6M1176 542.9h3.6M1182 542.9h12.6M1200 542.9h3.6M1206 542.9h6.6M1221 542.9h6.6M1236 542.9h3.6M1260 542.9h3.6M1281 542.9h3.6M1320 542.9h3.6M1341 542.9h3.6M1017 547.3h3.6M1095 547.3h3.6M1158 547.3h3.6M1164 547.3h3.6M1194 547.3h3.6M1218 547.3h6.6M1236 547.3h3.6M1248 547.3h3.6M1260 547.3h3.6M1281 547.3h3.6M1320 547.3h3.6M1341 547.3h3.6M987 551.8h3.6M1017 551.8h3.6M1041 551.8h3.6M1095 551.8h3.6M1125 551.8h3.6M1152 551.8h6.6M1173 551.8h3.6M1194 551.8h6.6M1218 551.8h6.6M1236 551.8h3.6M1248 551.8h3.6M1260 551.8h3.6M1281 551.8h3.6M1320 551.8h3.6M1341 551.8h3.6M972 556.2h3.6M987 556.2h3.6M1017 556.2h3.6M1038 556.2h6.6M1095 556.2h3.6M1155 556.2h3.6M1167 556.2h9.6M1197 556.2h3.6M1218 556.2h6.6M1236 556.2h3.6M1245 556.2h6.6M1260 556.2h3.6M1281 556.2h3.6M1320 556.2h3.6M1341 556.2h3.6M972 560.6h3.6M987 560.6h3.6M1038 560.6h6.6M1095 560.6h6.6M1167 560.6h9.6M1197 560.6h3.6M1203 560.6h3.6M1212 560.6h3.6M1218 560.6h6.6M1236 560.6h3.6M1245 560.6h6.6M1260 560.6h3.6M1281 560.6h3.6M1320 560.6h3.6M972 565.1h3.6M987 565.1h3.6M1038 565.1h6.6M1095 565.1h3.6M1167 565.1h9.6M1197 565.1h3.6M1203 565.1h3.6M1212 565.1h3.6M1218 565.1h3.6M1245 565.1h3.6M1260 565.1h3.6M1281 565.1h3.6M1320 565.1h3.6M987 569.5h3.6M1038 569.5h6.6M1095 569.5h3.6M1167 569.5h3.6M1173 569.5h3.6M1197 569.5h3.6M1203 569.5h3.6M1212 569.5h3.6M1218 569.5h3.6M1245 569.5h3.6M1281 569.5h3.6M1320 569.5h3.6M987 574h3.6M1038 574h6.6M1095 574h3.6M1116 574h3.6M1167 574h3.6M1173 574h3.6M1197 574h3.6M1203 574h3.6M1212 574h3.6M1218 574h3.6M1245 574h3.6M1320 574h3.6M987 578.4h3.6M1038 578.4h3.6M1095 578.4h3.6M1116 578.4h3.6M1173 578.4h3.6M1197 578.4h3.6M1203 578.4h3.6M1212 578.4h3.6M1218 578.4h3.6M1245 578.4h3.6M1320 578.4h3.6M987 582.8h3.6M1023 582.8h3.6M1038 582.8h3.6M1173 582.8h3.6M1197 582.8h3.6M1203 582.8h3.6M1212 582.8h3.6M1320 582.8h3.6M987 587.3h3.6M1023 587.3h3.6M1038 587.3h3.6M1053 587.3h3.6M1098 587.3h3.6M1173 587.3h3.6M1197 587.3h3.6M1203 587.3h3.6M1212 587.3h3.6M1320 587.3h3.6M1023 591.7h3.6M1038 591.7h6.6M1053 591.7h3.6M1119 591.7h3.6M1173 591.7h3.6M1197 591.7h3.6M1212 591.7h3.6M1320 591.7h3.6M1023 596.2h3.6M1038 596.2h6.6M1053 596.2h3.6M1173 596.2h3.6M1197 596.2h3.6M1320 596.2h3.6M1026 600.6h3.6M1038 600.6h6.6M1053 600.6h3.6M1173 600.6h3.6M1197 600.6h3.6M1203 600.6h3.6M1320 600.6h3.6M1026 605.1h3.6M1038 605.1h6.6M1053 605.1h3.6M1092 605.1h3.6M1122 605.1h3.6M1167 605.1h3.6M1173 605.1h3.6M1194 605.1h3.6M1200 605.1h6.6M1320 605.1h3.6M972 609.5h3.6M1026 609.5h3.6M1038 609.5h6.6M1053 609.5h3.6M1167 609.5h3.6M1173 609.5h3.6M1194 609.5h3.6M1200 609.5h6.6M1209 609.5h3.6M1320 609.5h3.6M972 613.9h3.6M1020 613.9h3.6M1026 613.9h3.6M1038 613.9h6.6M1053 613.9h3.6M1167 613.9h3.6M1173 613.9h3.6M1194 613.9h3.6M1200 613.9h12.6M972 618.4h3.6M1020 618.4h3.6M1038 618.4h6.6M1053 618.4h3.6M1074 618.4h3.6M1128 618.4h3.6M1167 618.4h3.6M1173 618.4h3.6M1191 618.4h3.6M1206 618.4h6.6M972 622.8h3.6M984 622.8h3.6M990 622.8h3.6M999 622.8h24.6M1038 622.8h6.6M1074 622.8h3.6M1131 622.8h3.6M1167 622.8h3.6M1173 622.8h3.6M1191 622.8h3.6M1206 622.8h6.6M972 627.3h3.6M984 627.3h3.6M990 627.3h30.6M1029 627.3h3.6M1038 627.3h6.6M1074 627.3h3.6M1080 627.3h3.6M1134 627.3h3.6M1167 627.3h3.6M1173 627.3h3.6M1191 627.3h3.6M1206 627.3h6.6M1236 627.3h3.6M972 631.7h3.6M978 631.7h6.6M1029 631.7h3.6M1038 631.7h3.6M1071 631.7h3.6M1137 631.7h3.6M1167 631.7h3.6M1173 631.7h3.6M1191 631.7h6.6M1203 631.7h9.6M1233 631.7h6.6M972 636.1h9.6M1029 636.1h6.6M1038 636.1h3.6M1056 636.1h3.6M1071 636.1h3.6M1140 636.1h3.6M1167 636.1h3.6M1173 636.1h3.6M1194 636.1h3.6M1200 636.1h15.6M1218 636.1h6.6M1227 636.1h9.6M972 640.6h6.6M1029 640.6h6.6M1038 640.6h6.6M1056 640.6h3.6M1143 640.6h3.6M1167 640.6h3.6M1173 640.6h3.6M1194 640.6h3.6M1200 640.6h15.6M1218 640.6h15.6M969 645h3.6M1032 645h12.6M1059 645h9.6M1149 645h15.6M1176 645h18.6M1218 645h18.6M1245 645h3.6M963 649.5h9.6M1236 649.5h9.6M957 653.9h15.6M1251 653.9h6.6M1272 653.9h3.6M957 658.3h15.6M1254 658.3h9.6M1272 658.3h3.6M957 662.8h27.6M990 662.8h18.6M1254 662.8h9.6M1272 662.8h3.6M972 667.2h3.6M978 667.2h42.6M1251 667.2h6.6M1272 667.2h3.6"/><path stroke="#0000b3" d="M1104 400.8h3.6M1119 400.8h3.6M1215 400.8h3.6M1101 405.2h6.6M1119 405.2h3.6M1215 405.2h3.6M1245 405.2h3.6M1101 409.7h3.6M1119 409.7h3.6M1215 409.7h3.6M1245 409.7h3.6M1119 414.1h3.6M1215 414.1h3.6M1245 414.1h3.6M1119 418.5h3.6M1215 418.5h3.6M1245 418.5h3.6M1056 423h6.6M1107 423h3.6M1119 423h3.6M1215 423h3.6M1245 423h3.6M1056 427.4h6.6M1098 427.4h3.6M1119 427.4h3.6M1215 427.4h3.6M1245 427.4h3.6M1056 431.9h6.6M1119 431.9h3.6M1215 431.9h3.6M1245 431.9h3.6M1056 436.3h3.6M1119 436.3h3.6M1152 436.3h3.6M1167 436.3h3.6M1215 436.3h3.6M1227 436.3h3.6M1245 436.3h3.6M1299 436.3h3.6M1056 440.7h3.6M1116 440.7h3.6M1134 440.7h3.6M1164 440.7h3.6M1170 440.7h6.6M1188 440.7h3.6M1212 440.7h3.6M1218 440.7h3.6M1227 440.7h3.6M1245 440.7h3.6M1299 440.7h3.6M1056 445.2h3.6M1110 445.2h3.6M1122 445.2h3.6M1140 445.2h3.6M1149 445.2h3.6M1161 445.2h3.6M1176 445.2h3.6M1185 445.2h3.6M1191 445.2h3.6M1197 445.2h15.6M1221 445.2h3.6M1227 445.2h3.6M1245 445.2h3.6M1299 445.2h3.6M1017 449.6h3.6M1056 449.6h3.6M1110 449.6h6.6M1227 449.6h3.6M1245 449.6h3.6M1260 449.6h3.6M1299 449.6h3.6M1017 454.1h3.6M1056 454.1h3.6M1227 454.1h3.6M1245 454.1h3.6M1260 454.1h3.6M1299 454.1h3.6M1017 458.5h3.6M1056 458.5h3.6M1227 458.5h3.6M1245 458.5h3.6M1260 458.5h3.6M1299 458.5h3.6M1017 462.9h3.6M1056 462.9h3.6M1227 462.9h3.6M1245 462.9h3.6M1260 462.9h3.6M1299 462.9h3.6M1056 467.4h3.6M1224 467.4h6.6M1245 467.4h3.6M1299 467.4h3.6M1053 471.8h6.6M1227 471.8h3.6M1245 471.8h3.6M1299 471.8h3.6M1053 476.3h3.6M1245 476.3h3.6M1299 476.3h3.6M1059 480.7h3.6M1299 480.7h3.6M1059 485.2h3.6M1260 485.2h3.6M1299 485.2h3.6M1059 489.6h3.6M1260 489.6h3.6M1299 489.6h3.6M1260 494h3.6M1299 494h3.6M1260 498.5h3.6M1299 498.5h3.6M1260 502.9h3.6M1299 502.9h3.6M1233 507.4h3.6M1248 507.4h3.6M1260 507.4h3.6M1017 511.8h3.6M1233 511.8h3.6M1248 511.8h3.6M1260 511.8h3.6M1017 516.2h3.6M1233 516.2h3.6M1248 516.2h3.6M1341 516.2h3.6M1017 520.7h3.6M1224 520.7h3.6M1233 520.7h3.6M1248 520.7h3.6M1341 520.7h3.6M1017 525.1h3.6M1224 525.1h3.6M1230 525.1h6.6M1248 525.1h3.6M1341 525.1h3.6M1017 529.6h3.6M1095 529.6h3.6M1230 529.6h6.6M1248 529.6h3.6M1341 529.6h3.6M1017 534h3.6M1095 534h3.6M1230 534h6.6M1248 534h3.6M1095 538.4h3.6M1149 538.4h3.6M1182 538.4h6.6M1206 538.4h3.6M1221 538.4h3.6M1227 538.4h9.6M1248 538.4h3.6M1113 542.9h3.6M1146 542.9h3.6M1158 542.9h3.6M1164 542.9h3.6M1179 542.9h3.6M1218 542.9h3.6M1227 542.9h6.6M1245 542.9h6.6M1113 547.3h3.6M1125 547.3h12.6M1152 547.3h6.6M1170 547.3h6.6M1197 547.3h3.6M1203 547.3h3.6M1215 547.3h3.6M1224 547.3h6.6M1245 547.3h3.6M1113 551.8h3.6M1167 551.8h6.6M1203 551.8h3.6M1212 551.8h6.6M1224 551.8h3.6M1245 551.8h3.6M1098 556.2h3.6M1113 556.2h3.6M1203 556.2h3.6M1212 556.2h6.6M1215 560.6h3.6M1101 565.1h3.6M1215 565.1h3.6M1221 565.1h3.6M1236 565.1h3.6M972 569.5h3.6M1101 569.5h3.6M1170 569.5h3.6M1215 569.5h3.6M1221 569.5h3.6M1236 569.5h3.6M972 574h3.6M1101 574h3.6M1170 574h3.6M1215 574h3.6M1236 574h3.6M972 578.4h3.6M1041 578.4h3.6M1170 578.4h3.6M1215 578.4h3.6M1236 578.4h3.6M972 582.8h3.6M1041 582.8h3.6M1095 582.8h3.6M1116 582.8h3.6M1170 582.8h3.6M1215 582.8h6.6M1236 582.8h3.6M972 587.3h3.6M1041 587.3h3.6M1095 587.3h3.6M1170 587.3h3.6M972 591.7h3.6M987 591.7h3.6M1098 591.7h3.6M1170 591.7h3.6M972 596.2h3.6M987 596.2h3.6M1119 596.2h3.6M1170 596.2h3.6M1212 596.2h3.6M972 600.6h3.6M987 600.6h3.6M1023 600.6h3.6M1170 600.6h3.6M1212 600.6h3.6M972 605.1h3.6M987 605.1h3.6M1023 605.1h3.6M1170 605.1h3.6M1197 605.1h3.6M1212 605.1h3.6M987 609.5h3.6M1023 609.5h3.6M1092 609.5h3.6M1170 609.5h3.6M1197 609.5h3.6M1212 609.5h3.6M987 613.9h3.6M1125 613.9h3.6M1170 613.9h3.6M1197 613.9h3.6M1212 613.9h3.6M987 618.4h3.6M1026 618.4h3.6M1089 618.4h3.6M1170 618.4h3.6M1194 618.4h3.6M1200 618.4h6.6M1212 618.4h3.6M1236 618.4h3.6M987 622.8h3.6M1026 622.8h3.6M1053 622.8h3.6M1086 622.8h3.6M1170 622.8h3.6M1194 622.8h3.6M1200 622.8h6.6M1212 622.8h3.6M1236 622.8h3.6M1020 627.3h3.6M1053 627.3h3.6M1083 627.3h3.6M1170 627.3h3.6M1194 627.3h3.6M1200 627.3h6.6M1212 627.3h3.6M1233 627.3h3.6M984 631.7h3.6M990 631.7h33.6M1053 631.7h3.6M1074 631.7h9.6M1170 631.7h3.6M1197 631.7h6.6M1212 631.7h3.6M1218 631.7h6.6M1230 631.7h3.6M981 636.1h6.6M1011 636.1h9.6M1053 636.1h3.6M1074 636.1h6.6M1137 636.1h3.6M1170 636.1h3.6M1197 636.1h3.6M1215 636.1h3.6M1224 636.1h3.6M978 640.6h6.6M1017 640.6h3.6M1053 640.6h3.6M1071 640.6h3.6M1140 640.6h3.6M1197 640.6h3.6M1215 640.6h3.6M972 645h12.6M1029 645h3.6M1056 645h3.6M1068 645h3.6M1143 645h6.6M1164 645h6.6M1173 645h3.6M1194 645h24.6M972 649.5h12.6M1029 649.5h24.6M1230 649.5h6.6M1245 649.5h3.6M972 653.9h12.6M1242 653.9h3.6M1248 653.9h3.6M972 658.3h15.6M990 658.3h27.6M1251 658.3h3.6M984 662.8h6.6M1008 662.8h12.6M1251 662.8h3.6M1020 667.2h3.6M1029 667.2h6.6M1242 667.2h3.6M1248 667.2h3.6"/><path stroke="#0000bb" d="M1053 400.8h3.6M1053 405.2h3.6M1053 409.7h3.6M1104 409.7h3.6M1101 414.1h3.6M1107 427.4h3.6M1098 431.9h3.6M1059 436.3h3.6M1059 440.7h3.6M1119 440.7h3.6M1125 440.7h3.6M1152 440.7h3.6M1167 440.7h3.6M1215 440.7h3.6M1059 445.2h3.6M1116 445.2h3.6M1128 445.2h6.6M1143 445.2h6.6M1155 445.2h6.6M1170 445.2h3.6M1179 445.2h3.6M1188 445.2h3.6M1194 445.2h3.6M1218 445.2h3.6M1059 449.6h3.6M1137 449.6h3.6M1221 449.6h3.6M1059 454.1h3.6M1110 454.1h3.6M1059 458.5h3.6M1110 458.5h3.6M1053 462.9h3.6M1059 462.9h3.6M1017 467.4h3.6M1053 467.4h3.6M1059 467.4h3.6M1260 467.4h3.6M1017 471.8h3.6M1059 471.8h3.6M1224 471.8h3.6M1260 471.8h3.6M1017 476.3h3.6M1059 476.3h3.6M1224 476.3h3.6M1260 476.3h3.6M1017 480.7h3.6M1245 480.7h3.6M1260 480.7h3.6M1017 485.2h3.6M1245 485.2h3.6M1017 489.6h3.6M1245 489.6h3.6M1017 494h3.6M1245 494h3.6M1017 498.5h3.6M1245 498.5h3.6M1017 502.9h3.6M1245 502.9h3.6M1017 507.4h3.6M1245 507.4h3.6M1224 516.2h3.6M1245 516.2h3.6M1245 520.7h3.6M1245 525.1h3.6M1245 529.6h3.6M1221 534h3.6M1245 534h3.6M1113 538.4h12.6M1137 538.4h9.6M1161 538.4h3.6M1176 538.4h3.6M1188 538.4h6.6M1200 538.4h3.6M1209 538.4h3.6M1218 538.4h3.6M1245 538.4h3.6M1152 542.9h6.6M1170 542.9h6.6M1194 542.9h6.6M1203 542.9h3.6M1215 542.9h3.6M1233 542.9h3.6M1167 547.3h3.6M1212 547.3h3.6M1230 547.3h6.6M1098 551.8h3.6M1227 551.8h9.6M1224 556.2h3.6M1230 556.2h6.6M1101 560.6h3.6M1113 560.6h3.6M1224 560.6h3.6M1233 560.6h3.6M1233 565.1h3.6M1233 569.5h3.6M1221 574h3.6M1233 574h3.6M1101 578.4h3.6M1116 587.3h3.6M1215 587.3h6.6M1236 587.3h3.6M1095 591.7h3.6M1215 591.7h3.6M1236 591.7h3.6M1095 596.2h6.6M1119 600.6h3.6M1236 605.1h3.6M1122 609.5h3.6M1236 609.5h3.6M1023 613.9h3.6M1236 613.9h3.6M1023 618.4h3.6M1197 618.4h3.6M1128 622.8h3.6M1197 622.8h3.6M1218 622.8h3.6M1233 622.8h3.6M987 627.3h3.6M1026 627.3h3.6M1131 627.3h3.6M1197 627.3h3.6M1215 627.3h9.6M1230 627.3h3.6M1026 631.7h3.6M1134 631.7h3.6M1215 631.7h3.6M1224 631.7h6.6M990 636.1h21.6M1020 636.1h3.6M1026 636.1h3.6M1080 636.1h3.6M984 640.6h3.6M990 640.6h27.6M1020 640.6h3.6M1074 640.6h6.6M1137 640.6h3.6M1170 640.6h3.6M984 645h3.6M990 645h33.6M1053 645h3.6M1071 645h3.6M1140 645h3.6M984 649.5h3.6M990 649.5h33.6M1059 649.5h6.6M1221 649.5h9.6M984 653.9h3.6M990 653.9h30.6M1029 653.9h12.6M1239 653.9h3.6M1245 653.9h3.6M987 658.3h3.6M1017 658.3h6.6M1029 658.3h6.6M1248 658.3h3.6M1020 662.8h3.6M1029 662.8h6.6M1248 662.8h3.6M1026 667.2h3.6M1035 667.2h6.6M1239 667.2h3.6M1245 667.2h3.6"/><path stroke="#0000c3" d="M1053 414.1h3.6M1104 414.1h3.6M1053 418.5h3.6M1101 418.5h3.6M1053 423h3.6M1107 431.9h3.6M1119 445.2h3.6M1134 445.2h3.6M1164 445.2h3.6M1173 445.2h3.6M1212 445.2h6.6M1053 449.6h3.6M1122 449.6h3.6M1140 449.6h3.6M1149 449.6h3.6M1161 449.6h3.6M1182 449.6h6.6M1191 449.6h3.6M1200 449.6h12.6M1053 454.1h3.6M1113 454.1h3.6M1221 454.1h3.6M1053 458.5h3.6M1110 462.9h3.6M1224 480.7h3.6M1224 507.4h3.6M1224 511.8h3.6M1245 511.8h3.6M1113 534h3.6M1146 538.4h3.6M1155 538.4h6.6M1164 538.4h3.6M1170 538.4h3.6M1179 538.4h3.6M1215 538.4h3.6M1128 542.9h9.6M1167 542.9h3.6M1212 542.9h3.6M1227 556.2h3.6M1227 560.6h6.6M1113 565.1h3.6M1224 565.1h3.6M1230 565.1h3.6M1113 569.5h3.6M1221 578.4h3.6M1233 578.4h3.6M1101 582.8h3.6M1218 591.7h3.6M1215 596.2h3.6M1236 596.2h3.6M1095 600.6h6.6M1215 600.6h3.6M1236 600.6h3.6M1215 605.1h3.6M1215 609.5h3.6M1092 613.9h3.6M1215 613.9h6.6M1125 618.4h3.6M1215 618.4h6.6M1233 618.4h3.6M1023 622.8h3.6M1089 622.8h3.6M1215 622.8h3.6M1221 622.8h3.6M1023 627.3h3.6M1086 627.3h3.6M1224 627.3h6.6M987 631.7h3.6M987 636.1h3.6M1134 636.1h3.6M987 640.6h3.6M1026 640.6h3.6M1080 640.6h3.6M987 645h3.6M1026 645h3.6M1074 645h3.6M1170 645h3.6M987 649.5h3.6M1026 649.5h3.6M1056 649.5h3.6M1065 649.5h3.6M1158 649.5h6.6M1176 649.5h15.6M1203 649.5h12.6M1218 649.5h3.6M987 653.9h3.6M1020 653.9h3.6M1041 653.9h9.6M1233 653.9h6.6M1035 658.3h6.6M1242 658.3h6.6M1026 662.8h3.6M1035 662.8h6.6M1242 662.8h6.6M1023 667.2h3.6M1041 667.2h6.6M1233 667.2h6.6"/><path stroke="#0000cb" d="M1104 418.5h3.6M1053 427.4h3.6M1053 431.9h3.6M1053 436.3h3.6M1098 436.3h3.6M1107 436.3h3.6M1053 440.7h3.6M1053 445.2h3.6M1125 445.2h3.6M1152 445.2h3.6M1167 445.2h3.6M1116 449.6h3.6M1131 449.6h3.6M1143 449.6h6.6M1155 449.6h3.6M1170 449.6h3.6M1176 449.6h3.6M1188 449.6h3.6M1197 449.6h3.6M1215 449.6h6.6M1110 467.4h3.6M1224 485.2h3.6M1224 489.6h3.6M1224 494h3.6M1224 498.5h3.6M1224 502.9h3.6M1221 529.6h3.6M1116 534h3.6M1149 534h3.6M1161 534h3.6M1182 534h6.6M1191 534h3.6M1206 534h3.6M1152 538.4h3.6M1173 538.4h3.6M1194 538.4h6.6M1203 538.4h3.6M1125 542.9h3.6M1098 547.3h3.6M1101 556.2h3.6M1227 565.1h3.6M1224 569.5h3.6M1230 569.5h3.6M1113 574h3.6M1221 582.8h3.6M1233 582.8h3.6M1101 587.3h3.6M1116 591.7h3.6M1218 596.2h3.6M1218 600.6h3.6M1095 605.1h3.6M1119 605.1h3.6M1218 605.1h3.6M1218 609.5h3.6M1122 613.9h3.6M1233 613.9h3.6M1221 618.4h3.6M1224 622.8h9.6M1023 631.7h3.6M1083 631.7h3.6M1023 636.1h3.6M1023 640.6h3.6M1134 640.6h3.6M1023 645h3.6M1077 645h3.6M1137 645h3.6M1053 649.5h3.6M1068 649.5h3.6M1146 649.5h12.6M1164 649.5h3.6M1191 649.5h12.6M1215 649.5h3.6M1026 653.9h3.6M1050 653.9h3.6M1227 653.9h6.6M1026 658.3h3.6M1041 658.3h6.6M1236 658.3h6.6M1023 662.8h3.6M1041 662.8h6.6M1236 662.8h6.6M1047 667.2h6.6M1230 667.2h3.6"/><path stroke="#0000d3" d="M1101 423h6.6M1098 440.7h3.6M1107 440.7h3.6M1119 449.6h3.6M1128 449.6h3.6M1158 449.6h3.6M1164 449.6h3.6M1179 449.6h3.6M1194 449.6h3.6M1212 449.6h3.6M1137 454.1h3.6M1113 458.5h3.6M1221 458.5h3.6M1110 471.8h3.6M1113 529.6h3.6M1119 534h6.6M1137 534h9.6M1176 534h3.6M1188 534h3.6M1200 534h3.6M1209 534h3.6M1215 534h6.6M1167 538.4h3.6M1212 538.4h3.6M1098 542.9h3.6M1227 569.5h3.6M1224 574h3.6M1230 574h3.6M1230 578.4h3.6M1221 587.3h3.6M1233 587.3h3.6M1101 591.7h3.6M1098 605.1h3.6M1233 609.5h3.6M1221 613.9h3.6M1092 618.4h3.6M1230 618.4h3.6M1128 627.3h3.6M1131 631.7h3.6M1083 636.1h3.6M1080 645h3.6M1023 649.5h3.6M1071 649.5h3.6M1143 649.5h3.6M1167 649.5h3.6M1173 649.5h3.6M1023 653.9h3.6M1059 653.9h3.6M1224 653.9h3.6M1023 658.3h3.6M1047 658.3h3.6M1233 658.3h3.6M1047 662.8h3.6M1233 662.8h3.6M1224 667.2h6.6"/><path stroke="#0000db" d="M1098 445.2h3.6M1107 445.2h3.6M1098 449.6h3.6M1134 449.6h3.6M1152 449.6h3.6M1173 449.6h3.6M1122 454.1h3.6M1149 454.1h3.6M1161 454.1h3.6M1182 454.1h6.6M1191 454.1h3.6M1200 454.1h3.6M1206 454.1h6.6M1218 454.1h3.6M1110 476.3h3.6M1146 534h3.6M1155 534h6.6M1164 534h3.6M1170 534h3.6M1179 534h3.6M1098 538.4h3.6M1128 538.4h9.6M1104 560.6h3.6M1104 565.1h3.6M1104 569.5h3.6M1104 574h3.6M1227 574h3.6M1113 578.4h3.6M1224 578.4h3.6M1221 591.7h3.6M1233 591.7h3.6M1116 596.2h3.6M1233 600.6h3.6M1233 605.1h3.6M1095 609.5h3.6M1221 609.5h3.6M1224 618.4h6.6M1125 622.8h3.6M1131 636.1h3.6M1083 640.6h3.6M1134 645h3.6M1074 649.5h3.6M1140 649.5h3.6M1170 649.5h3.6M1053 653.9h6.6M1062 653.9h3.6M1218 653.9h6.6M1050 658.3h3.6M1230 658.3h3.6M1050 662.8h3.6M1230 662.8h3.6M1218 667.2h6.6"/><path stroke="#0000e3" d="M1101 427.4h6.6M1107 449.6h3.6M1125 449.6h3.6M1167 449.6h3.6M1098 454.1h3.6M1116 454.1h3.6M1140 454.1h6.6M1155 454.1h3.6M1170 454.1h3.6M1176 454.1h3.6M1188 454.1h3.6M1197 454.1h3.6M1203 454.1h3.6M1215 454.1h3.6M1098 458.5h3.6M1098 462.9h3.6M1110 480.7h3.6M1110 485.2h3.6M1098 520.7h3.6M1110 520.7h3.6M1098 525.1h3.6M1110 525.1h6.6M1221 525.1h3.6M1098 529.6h3.6M1110 529.6h3.6M1149 529.6h3.6M1098 534h3.6M1110 534h3.6M1152 534h3.6M1194 534h6.6M1203 534h3.6M1110 538.4h3.6M1125 538.4h3.6M1110 542.9h3.6M1110 547.3h3.6M1101 551.8h3.6M1104 578.4h3.6M1227 578.4h3.6M1113 582.8h3.6M1224 582.8h3.6M1230 582.8h3.6M1101 596.2h3.6M1221 596.2h3.6M1233 596.2h3.6M1221 600.6h3.6M1221 605.1h3.6M1119 609.5h3.6M1224 613.9h3.6M1230 613.9h3.6M1122 618.4h3.6M1089 627.3h3.6M1086 631.7h3.6M1131 640.6h3.6M1083 645h3.6M1077 649.5h3.6M1065 653.9h3.6M1209 653.9h6.6M1227 658.3h3.6M1227 662.8h3.6M1053 667.2h12.6"/><path stroke="#0000eb" d="M1107 454.1h3.6M1119 454.1h3.6M1131 454.1h3.6M1146 454.1h3.6M1158 454.1h3.6M1164 454.1h3.6M1179 454.1h3.6M1194 454.1h3.6M1107 458.5h3.6M1113 462.9h3.6M1221 462.9h3.6M1098 467.4h3.6M1098 471.8h3.6M1098 476.3h3.6M1098 480.7h3.6M1098 485.2h3.6M1098 489.6h3.6M1110 489.6h3.6M1098 494h3.6M1110 494h3.6M1098 498.5h3.6M1110 498.5h3.6M1098 502.9h3.6M1110 502.9h3.6M1098 507.4h3.6M1110 507.4h3.6M1098 511.8h3.6M1110 511.8h3.6M1098 516.2h3.6M1110 516.2h3.6M1116 529.6h3.6M1161 529.6h3.6M1182 529.6h6.6M1191 529.6h3.6M1206 529.6h3.6M1215 529.6h6.6M1173 534h3.6M1212 534h3.6M1110 551.8h3.6M1104 556.2h3.6M1110 556.2h3.6M1227 582.8h3.6M1224 587.3h3.6M1230 587.3h3.6M1116 600.6h3.6M1098 609.5h3.6M1230 609.5h3.6M1095 613.9h3.6M1227 613.9h3.6M1092 622.8h3.6M1086 636.1h3.6M1080 649.5h3.6M1137 649.5h3.6M1068 653.9h3.6M1200 653.9h9.6M1215 653.9h3.6M1224 658.3h3.6M1224 662.8h3.6M1065 667.2h3.6M1203 667.2h15.6"/><path stroke="#0000f3" d="M1101 431.9h6.6M1128 454.1h3.6M1173 454.1h3.6M1212 454.1h3.6M1107 462.9h3.6M1107 467.4h3.6M1119 529.6h6.6M1137 529.6h9.6M1188 529.6h3.6M1200 529.6h3.6M1209 529.6h3.6M1167 534h3.6M1110 560.6h3.6M1110 565.1h3.6M1104 582.8h3.6M1113 587.3h3.6M1227 587.3h3.6M1230 591.7h3.6M1101 600.6h3.6M1230 605.1h3.6M1224 609.5h6.6M1128 631.7h3.6M1086 640.6h3.6M1131 645h3.6M1134 649.5h3.6M1071 653.9h3.6M1152 653.9h12.6M1176 653.9h24.6M1053 658.3h9.6M1221 658.3h3.6M1053 662.8h9.6M1221 662.8h3.6M1068 667.2h3.6M1182 667.2h21.6"/><path stroke="#0000fb" d="M1134 454.1h3.6M1152 454.1h3.6M1122 458.5h3.6M1137 458.5h3.6M1149 458.5h3.6M1161 458.5h3.6M1182 458.5h3.6M1206 458.5h3.6M1215 458.5h6.6M1107 471.8h3.6M1107 476.3h3.6M1107 480.7h3.6M1107 485.2h3.6M1113 520.7h3.6M1221 520.7h3.6M1146 529.6h3.6M1155 529.6h3.6M1164 529.6h3.6M1170 529.6h3.6M1176 529.6h3.6M1134 534h3.6M1101 547.3h3.6M1104 551.8h3.6M1107 556.2h3.6M1107 560.6h3.6M1107 565.1h3.6M1110 569.5h3.6M1104 587.3h3.6M1224 591.7h3.6M1230 596.2h3.6M1230 600.6h3.6M1116 605.1h3.6M1224 605.1h3.6M1119 613.9h3.6M1125 627.3h3.6M1128 636.1h3.6M1086 645h3.6M1083 649.5h3.6M1146 653.9h6.6M1164 653.9h6.6M1173 653.9h3.6M1062 658.3h3.6M1218 658.3h3.6M1062 662.8h3.6M1218 662.8h3.6M1071 667.2h3.6M1161 667.2h3.6M1176 667.2h6.6"/><path stroke="#0004ff" d="M1125 454.1h3.6M1167 454.1h3.6M1116 458.5h3.6M1140 458.5h3.6M1155 458.5h3.6M1185 458.5h3.6M1191 458.5h3.6M1200 458.5h3.6M1209 458.5h3.6M1113 467.4h3.6M1221 467.4h3.6M1107 489.6h3.6M1107 494h3.6M1107 498.5h3.6M1107 502.9h3.6M1107 507.4h3.6M1152 529.6h3.6M1158 529.6h3.6M1179 529.6h3.6M1194 529.6h6.6M1203 529.6h3.6M1128 534h6.6M1107 547.3h3.6M1107 551.8h3.6M1107 569.5h3.6M1110 574h3.6M1113 591.7h3.6M1227 591.7h3.6M1224 596.2h3.6M1224 600.6h6.6M1227 605.1h3.6M1098 613.9h3.6M1122 622.8h3.6M1089 631.7h3.6M1128 640.6h3.6M1074 653.9h3.6M1143 653.9h3.6M1065 658.3h3.6M1209 658.3h9.6M1065 662.8h3.6M1212 662.8h6.6M1074 667.2h6.6M1149 667.2h12.6M1164 667.2h6.6M1173 667.2h3.6"/><path stroke="#000cff" d="M1101 436.3h6.6M1143 458.5h6.6M1170 458.5h3.6M1176 458.5h3.6M1188 458.5h3.6M1197 458.5h3.6M1203 458.5h3.6M1107 511.8h3.6M1107 516.2h3.6M1107 520.7h3.6M1107 525.1h3.6M1116 525.1h3.6M1149 525.1h3.6M1218 525.1h3.6M1173 529.6h3.6M1212 529.6h3.6M1125 534h3.6M1107 542.9h3.6M1107 574h3.6M1104 591.7h3.6M1227 596.2h3.6M1101 605.1h3.6M1095 618.4h3.6M1089 636.1h3.6M1128 645h3.6M1131 649.5h3.6M1077 653.9h3.6M1140 653.9h3.6M1170 653.9h3.6M1068 658.3h3.6M1203 658.3h6.6M1068 662.8h3.6M1203 662.8h9.6M1080 667.2h6.6M1140 667.2h9.6M1170 667.2h3.6"/><path stroke="#0014ff" d="M1119 458.5h3.6M1158 458.5h3.6M1164 458.5h3.6M1179 458.5h3.6M1194 458.5h3.6M1212 458.5h3.6M1113 516.2h3.6M1161 525.1h3.6M1182 525.1h6.6M1206 525.1h3.6M1215 525.1h3.6M1107 529.6h3.6M1167 529.6h3.6M1107 534h3.6M1107 538.4h3.6M1101 542.9h3.6M1104 547.3h3.6M1107 578.4h6.6M1113 596.2h3.6M1116 609.5h3.6M1119 618.4h3.6M1092 627.3h3.6M1089 640.6h3.6M1086 649.5h3.6M1080 653.9h3.6M1137 653.9h3.6M1071 658.3h3.6M1182 658.3h21.6M1191 662.8h12.6M1086 667.2h6.6M1134 667.2h6.6"/><path stroke="#001cff" d="M1101 440.7h6.6M1128 458.5h6.6M1152 458.5h3.6M1113 471.8h3.6M1221 516.2h3.6M1137 525.1h9.6M1188 525.1h6.6M1209 525.1h3.6M1110 582.8h3.6M1104 596.2h3.6M1089 645h3.6M1128 649.5h3.6M1155 658.3h9.6M1176 658.3h6.6M1071 662.8h3.6M1176 662.8h15.6M1125 667.2h9.6"/><path stroke="#0024ff" d="M1134 458.5h3.6M1173 458.5h3.6M1116 462.9h3.6M1137 462.9h3.6M1215 462.9h6.6M1221 471.8h3.6M1119 525.1h6.6M1146 525.1h3.6M1155 525.1h3.6M1170 525.1h3.6M1200 525.1h3.6M1107 582.8h3.6M1110 587.3h3.6M1113 600.6h3.6M1101 609.5h3.6M1098 618.4h3.6M1125 631.7h3.6M1083 653.9h3.6M1134 653.9h3.6M1074 658.3h3.6M1149 658.3h6.6M1164 658.3h6.6M1173 658.3h3.6M1074 662.8h3.6M1152 662.8h15.6M1173 662.8h3.6M1092 667.2h3.6M1098 667.2h27.6"/><path stroke="#002cff" d="M1101 445.2h6.6M1125 458.5h3.6M1167 458.5h3.6M1122 462.9h3.6M1140 462.9h3.6M1149 462.9h3.6M1161 462.9h3.6M1182 462.9h6.6M1191 462.9h3.6M1206 462.9h6.6M1113 511.8h3.6M1158 525.1h3.6M1164 525.1h3.6M1176 525.1h3.6M1134 529.6h3.6M1101 538.4h3.6M1104 542.9h3.6M1107 587.3h3.6M1095 622.8h3.6M1122 627.3h3.6M1125 636.1h3.6M1125 640.6h3.6M1125 645h3.6M1089 649.5h3.6M1131 653.9h3.6M1077 658.3h3.6M1143 658.3h6.6M1170 658.3h3.6M1077 662.8h6.6M1146 662.8h6.6M1167 662.8h3.6M1095 667.2h3.6"/><path stroke="#0034ff" d="M1101 449.6h3.6M1155 462.9h3.6M1188 462.9h3.6M1200 462.9h3.6M1113 476.3h3.6M1221 511.8h3.6M1152 525.1h3.6M1179 525.1h3.6M1194 525.1h6.6M1203 525.1h3.6M1212 525.1h3.6M1125 529.6h9.6M1101 534h3.6M1104 538.4h3.6M1110 591.7h3.6M1104 600.6h3.6M1116 613.9h3.6M1125 649.5h3.6M1086 653.9h3.6M1080 658.3h3.6M1140 658.3h3.6M1083 662.8h3.6M1140 662.8h6.6M1170 662.8h3.6"/><path stroke="#003cff" d="M1104 449.6h3.6M1101 454.1h3.6M1119 462.9h3.6M1143 462.9h6.6M1170 462.9h3.6M1197 462.9h3.6M1203 462.9h3.6M1221 476.3h3.6M1116 520.7h3.6M1218 520.7h3.6M1101 525.1h3.6M1173 525.1h3.6M1101 529.6h3.6M1107 591.7h3.6M1113 605.1h3.6M1101 613.9h3.6M1119 622.8h3.6M1092 631.7h3.6M1128 653.9h3.6M1083 658.3h3.6M1137 658.3h3.6M1137 662.8h3.6"/><path stroke="#0044ff" d="M1104 454.1h3.6M1101 458.5h6.6M1101 462.9h3.6M1158 462.9h3.6M1164 462.9h3.6M1176 462.9h3.6M1194 462.9h3.6M1212 462.9h3.6M1101 494h3.6M1101 498.5h3.6M1101 502.9h3.6M1101 507.4h3.6M1113 507.4h3.6M1101 511.8h3.6M1101 516.2h3.6M1101 520.7h3.6M1149 520.7h3.6M1161 520.7h3.6M1185 520.7h3.6M1215 520.7h3.6M1104 525.1h3.6M1167 525.1h3.6M1104 529.6h3.6M1104 534h3.6M1110 596.2h3.6M1104 605.1h3.6M1098 622.8h3.6M1092 636.1h3.6M1092 640.6h3.6M1092 645h3.6M1089 653.9h3.6M1134 658.3h3.6M1086 662.8h3.6M1131 662.8h6.6"/><path stroke="#004cff" d="M1104 462.9h3.6M1152 462.9h3.6M1179 462.9h3.6M1101 467.4h6.6M1101 471.8h6.6M1101 476.3h6.6M1101 480.7h6.6M1113 480.7h3.6M1101 485.2h6.6M1101 489.6h6.6M1104 494h3.6M1104 498.5h3.6M1104 502.9h3.6M1104 507.4h3.6M1221 507.4h3.6M1104 511.8h3.6M1104 516.2h3.6M1104 520.7h3.6M1140 520.7h6.6M1182 520.7h3.6M1188 520.7h6.6M1206 520.7h3.6M1107 596.2h3.6M1122 645h3.6M1092 649.5h3.6M1086 658.3h3.6M1131 658.3h3.6M1089 662.8h3.6M1128 662.8h3.6"/><path stroke="#0054ff" d="M1128 462.9h6.6M1167 462.9h3.6M1173 462.9h3.6M1116 467.4h3.6M1218 467.4h3.6M1221 480.7h3.6M1113 502.9h3.6M1119 520.7h3.6M1137 520.7h3.6M1146 520.7h3.6M1155 520.7h3.6M1209 520.7h3.6M1110 600.6h3.6M1113 609.5h3.6M1116 618.4h3.6M1095 627.3h3.6M1122 631.7h3.6M1122 640.6h3.6M1122 649.5h3.6M1125 653.9h3.6M1089 658.3h3.6M1092 662.8h3.6M1122 662.8h6.6"/><path stroke="#005cff" d="M1134 462.9h3.6M1137 467.4h3.6M1149 467.4h3.6M1161 467.4h3.6M1215 467.4h3.6M1113 485.2h3.6M1122 520.7h3.6M1158 520.7h3.6M1164 520.7h3.6M1170 520.7h3.6M1200 520.7h3.6M1107 600.6h3.6M1104 609.5h3.6M1101 618.4h3.6M1122 636.1h3.6M1092 653.9h3.6M1128 658.3h3.6M1098 662.8h6.6M1119 662.8h3.6"/><path stroke="#0064ff" d="M1125 462.9h3.6M1122 467.4h3.6M1140 467.4h3.6M1182 467.4h6.6M1191 467.4h3.6M1206 467.4h6.6M1221 485.2h3.6M1113 489.6h3.6M1113 494h3.6M1113 498.5h3.6M1221 502.9h3.6M1176 520.7h3.6M1203 520.7h3.6M1134 525.1h3.6M1110 605.1h3.6M1119 627.3h3.6M1122 653.9h3.6M1125 658.3h3.6M1095 662.8h3.6M1104 662.8h15.6"/><path stroke="#006cff" d="M1119 467.4h3.6M1143 467.4h6.6M1155 467.4h3.6M1188 467.4h3.6M1200 467.4h3.6M1221 498.5h3.6M1116 516.2h3.6M1152 520.7h3.6M1179 520.7h3.6M1194 520.7h6.6M1212 520.7h3.6M1125 525.1h3.6M1107 605.1h3.6M1113 613.9h3.6M1095 645h3.6M1119 645h3.6M1095 649.5h3.6M1119 649.5h3.6M1092 658.3h3.6M1122 658.3h3.6"/><path stroke="#0074ff" d="M1158 467.4h3.6M1164 467.4h3.6M1170 467.4h3.6M1203 467.4h3.6M1212 467.4h3.6M1221 489.6h3.6M1221 494h3.6M1218 516.2h3.6M1167 520.7h3.6M1173 520.7h3.6M1128 525.1h6.6M1104 613.9h3.6M1116 622.8h3.6M1098 627.3h3.6M1095 640.6h3.6M1098 649.5h3.6M1095 653.9h6.6M1119 653.9h3.6M1098 658.3h3.6M1119 658.3h3.6"/><path stroke="#007cff" d="M1176 467.4h3.6M1194 467.4h6.6M1149 516.2h3.6M1161 516.2h3.6M1185 516.2h3.6M1215 516.2h3.6M1110 609.5h3.6M1095 631.7h3.6M1095 636.1h3.6M1119 640.6h3.6M1098 645h3.6M1116 649.5h3.6M1116 653.9h3.6M1095 658.3h3.6M1101 658.3h3.6M1116 658.3h3.6"/><path stroke="#0083ff" d="M1152 467.4h3.6M1179 467.4h3.6M1116 471.8h3.6M1218 471.8h3.6M1140 516.2h3.6M1182 516.2h3.6M1188 516.2h3.6M1107 609.5h3.6M1113 618.4h3.6M1101 622.8h3.6M1101 649.5h3.6M1101 653.9h3.6M1104 658.3h12.6"/><path stroke="#008bff" d="M1167 467.4h3.6M1173 467.4h3.6M1119 516.2h3.6M1137 516.2h3.6M1143 516.2h6.6M1191 516.2h3.6M1206 516.2h6.6M1119 631.7h3.6M1119 636.1h3.6M1098 640.6h3.6M1116 645h3.6M1113 649.5h3.6M1104 653.9h12.6"/><path stroke="#0093ff" d="M1128 467.4h9.6M1149 471.8h3.6M1161 471.8h3.6M1215 471.8h3.6M1122 516.2h3.6M1155 516.2h6.6M1164 516.2h3.6M1200 516.2h3.6M1107 613.9h6.6M1104 618.4h3.6M1101 645h3.6M1104 649.5h3.6M1110 649.5h3.6"/><path stroke="#009bff" d="M1125 467.4h3.6M1137 471.8h6.6M1182 471.8h12.6M1116 511.8h3.6M1170 516.2h3.6M1212 516.2h3.6M1134 520.7h3.6M1116 627.3h3.6M1098 631.7h3.6M1098 636.1h3.6M1107 649.5h3.6"/><path stroke="#00a3ff" d="M1119 471.8h6.6M1143 471.8h6.6M1155 471.8h3.6M1206 471.8h6.6M1152 516.2h3.6M1176 516.2h6.6M1194 516.2h6.6M1203 516.2h3.6M1113 622.8h3.6M1101 627.3h3.6M1116 640.6h3.6M1113 645h3.6"/><path stroke="#00abff" d="M1158 471.8h3.6M1164 471.8h3.6M1200 471.8h3.6M1212 471.8h3.6M1218 511.8h3.6M1167 516.2h3.6M1125 520.7h3.6M1110 618.4h3.6M1101 640.6h3.6M1104 645h3.6"/><path stroke="#00b3ff" d="M1170 471.8h3.6M1194 471.8h3.6M1203 471.8h3.6M1116 476.3h3.6M1161 511.8h3.6M1173 516.2h3.6M1131 520.7h3.6M1107 618.4h3.6M1104 622.8h3.6M1107 645h6.6"/><path stroke="#00bbff" d="M1152 471.8h3.6M1176 471.8h6.6M1197 471.8h3.6M1218 476.3h3.6M1149 511.8h3.6M1185 511.8h6.6M1215 511.8h3.6M1128 520.7h3.6M1116 631.7h3.6M1116 636.1h3.6"/><path stroke="#00c3ff" d="M1167 471.8h3.6M1119 511.8h3.6M1140 511.8h9.6M1182 511.8h3.6M1191 511.8h3.6M1209 511.8h3.6M1101 636.1h3.6M1113 640.6h3.6"/><path stroke="#00cbff" d="M1173 471.8h3.6M1161 476.3h3.6M1215 476.3h3.6M1116 507.4h3.6M1137 511.8h3.6M1155 511.8h6.6M1164 511.8h3.6M1206 511.8h3.6M1107 622.8h6.6M1113 627.3h3.6M1101 631.7h3.6M1104 640.6h3.6"/><path stroke="#00d3ff" d="M1125 471.8h3.6M1134 471.8h3.6M1119 476.3h3.6M1137 476.3h6.6M1146 476.3h6.6M1185 476.3h6.6M1122 511.8h3.6M1200 511.8h3.6M1212 511.8h3.6M1104 627.3h3.6M1107 640.6h6.6"/><path stroke="#00dbff" d="M1128 471.8h6.6M1122 476.3h3.6M1143 476.3h3.6M1155 476.3h6.6M1164 476.3h3.6M1182 476.3h3.6M1191 476.3h3.6M1206 476.3h6.6M1116 480.7h3.6M1218 507.4h3.6M1152 511.8h3.6M1170 511.8h3.6M1194 511.8h3.6M1134 516.2h3.6M1113 636.1h3.6"/><path stroke="#00e3ff" d="M1212 476.3h3.6M1167 511.8h3.6M1176 511.8h6.6M1197 511.8h3.6M1203 511.8h3.6M1110 627.3h3.6M1104 636.1h3.6"/><path stroke="#00ebff" d="M1194 476.3h3.6M1200 476.3h6.6M1218 480.7h3.6M1116 502.9h3.6M1146 507.4h3.6M1161 507.4h3.6M1125 516.2h3.6M1107 627.3h3.6M1113 631.7h3.6"/><path stroke="#00f3ff" d="M1152 476.3h3.6M1170 476.3h3.6M1176 476.3h6.6M1119 507.4h3.6M1140 507.4h6.6M1149 507.4h3.6M1185 507.4h6.6M1215 507.4h3.6M1173 511.8h3.6M1104 631.7h3.6M1107 636.1h6.6"/><path stroke="#00fbff" d="M1167 476.3h3.6M1197 476.3h3.6M1146 480.7h3.6M1161 480.7h3.6M1116 485.2h3.6M1155 507.4h6.6M1164 507.4h3.6M1182 507.4h3.6M1191 507.4h3.6M1209 507.4h3.6"/><path stroke="#04fffb" d="M1173 476.3h3.6M1119 480.7h3.6M1140 480.7h3.6M1149 480.7h3.6M1158 480.7h3.6M1185 480.7h6.6M1215 480.7h3.6M1116 498.5h3.6M1218 502.9h3.6M1137 507.4h3.6M1206 507.4h3.6M1128 516.2h6.6M1107 631.7h6.6"/><path stroke="#0cfff3" d="M1125 476.3h3.6M1134 476.3h3.6M1137 480.7h3.6M1143 480.7h3.6M1155 480.7h3.6M1164 480.7h3.6M1182 480.7h3.6M1191 480.7h3.6M1209 480.7h3.6M1218 485.2h3.6M1116 489.6h3.6M1116 494h3.6M1122 507.4h3.6M1194 507.4h3.6M1212 507.4h3.6"/><path stroke="#14ffeb" d="M1122 480.7h3.6M1206 480.7h3.6M1212 480.7h3.6M1146 502.9h3.6M1161 502.9h3.6M1152 507.4h3.6M1200 507.4h3.6"/><path stroke="#1cffe3" d="M1194 480.7h3.6M1200 480.7h3.6M1146 485.2h3.6M1161 485.2h3.6M1218 498.5h3.6M1119 502.9h3.6M1140 502.9h3.6M1149 502.9h3.6M1158 502.9h3.6M1185 502.9h6.6M1215 502.9h3.6M1167 507.4h6.6M1176 507.4h6.6M1203 507.4h3.6M1134 511.8h3.6"/><path stroke="#24ffdb" d="M1128 476.3h6.6M1152 480.7h3.6M1167 480.7h3.6M1203 480.7h3.6M1119 485.2h3.6M1140 485.2h3.6M1158 485.2h3.6M1188 485.2h3.6M1218 489.6h3.6M1218 494h3.6M1143 502.9h3.6M1155 502.9h3.6M1164 502.9h3.6M1182 502.9h3.6M1191 502.9h3.6M1209 502.9h3.6M1197 507.4h3.6M1125 511.8h3.6"/><path stroke="#2cffd3" d="M1170 480.7h3.6M1176 480.7h6.6M1197 480.7h3.6M1143 485.2h3.6M1149 485.2h3.6M1155 485.2h3.6M1164 485.2h3.6M1185 485.2h3.6M1191 485.2h3.6M1209 485.2h3.6M1215 485.2h3.6M1146 489.6h3.6M1161 489.6h3.6M1146 498.5h3.6M1161 498.5h3.6M1137 502.9h3.6M1212 502.9h3.6M1173 507.4h3.6"/><path stroke="#34ffcb" d="M1137 485.2h3.6M1182 485.2h3.6M1212 485.2h3.6M1119 489.6h3.6M1158 489.6h3.6M1188 489.6h3.6M1146 494h3.6M1161 494h3.6M1119 498.5h3.6M1140 498.5h3.6M1158 498.5h3.6M1188 498.5h3.6M1122 502.9h3.6M1194 502.9h3.6M1206 502.9h3.6"/><path stroke="#3cffc3" d="M1134 480.7h3.6M1173 480.7h3.6M1122 485.2h3.6M1194 485.2h3.6M1206 485.2h3.6M1140 489.6h6.6M1149 489.6h3.6M1164 489.6h3.6M1185 489.6h3.6M1215 489.6h3.6M1119 494h3.6M1140 494h3.6M1158 494h3.6M1188 494h3.6M1143 498.5h3.6M1149 498.5h3.6M1155 498.5h3.6M1164 498.5h3.6M1185 498.5h3.6M1191 498.5h3.6M1215 498.5h3.6M1152 502.9h3.6M1167 502.9h3.6M1200 502.9h3.6"/><path stroke="#44ffbb" d="M1125 480.7h3.6M1152 485.2h3.6M1167 485.2h3.6M1200 485.2h3.6M1155 489.6h3.6M1182 489.6h3.6M1191 489.6h3.6M1209 489.6h3.6M1143 494h3.6M1149 494h3.6M1155 494h3.6M1164 494h3.6M1185 494h3.6M1215 494h3.6M1182 498.5h3.6M1209 498.5h6.6M1170 502.9h3.6M1179 502.9h3.6M1203 502.9h3.6"/><path stroke="#4cffb3" d="M1179 485.2h3.6M1203 485.2h3.6M1137 489.6h3.6M1194 489.6h3.6M1212 489.6h3.6M1182 494h3.6M1191 494h3.6M1209 494h6.6M1137 498.5h3.6M1194 498.5h3.6M1206 498.5h3.6M1176 502.9h3.6M1197 502.9h3.6M1134 507.4h3.6M1128 511.8h6.6"/><path stroke="#54ffab" d="M1170 485.2h3.6M1176 485.2h3.6M1197 485.2h3.6M1122 489.6h3.6M1152 489.6h3.6M1206 489.6h3.6M1122 494h3.6M1137 494h3.6M1194 494h3.6M1122 498.5h3.6M1152 498.5h3.6M1167 498.5h3.6M1173 502.9h3.6M1125 507.4h3.6"/><path stroke="#5cffa3" d="M1173 485.2h3.6M1167 489.6h3.6M1179 489.6h3.6M1200 489.6h3.6M1152 494h3.6M1167 494h3.6M1206 494h3.6M1179 498.5h3.6M1200 498.5h3.6"/><path stroke="#64ff9b" d="M1128 480.7h6.6M1134 485.2h3.6M1203 489.6h3.6M1179 494h3.6M1200 494h3.6M1170 498.5h3.6M1176 498.5h3.6M1203 498.5h3.6"/><path stroke="#6cff93" d="M1125 485.2h3.6M1170 489.6h3.6M1176 489.6h3.6M1197 489.6h3.6M1170 494h3.6M1176 494h3.6M1203 494h3.6M1173 498.5h3.6M1197 498.5h3.6M1134 502.9h3.6"/><path stroke="#74ff8b" d="M1173 489.6h3.6M1173 494h3.6M1197 494h3.6M1125 502.9h3.6"/><path stroke="#7cff83" d="M1134 489.6h3.6"/><path stroke="#83ff7c" d="M1125 489.6h3.6M1134 498.5h3.6M1128 507.4h6.6"/><path stroke="#8bff74" d="M1125 494h3.6M1134 494h3.6M1125 498.5h3.6"/><path stroke="#9bff64" d="M1128 485.2h6.6"/><path stroke="#b3ff4c" d="M1128 502.9h6.6"/><path stroke="#bbff44" d="M1128 489.6h6.6"/><path stroke="#c3ff3c" d="M1128 498.5h3.6"/><path stroke="#cbff34" d="M1128 494h6.6M1131 498.5h3.6"/></g></g><line x1="1094.3" y1="404.0" x2="1094.3" y2="664.7" stroke="#a4a4ff" stroke-width="2" stroke-dasharray="2,2.4"/><text x="117.0" y="125.3" font-size="38" text-anchor="end" font-weight="normal" >60</text><text x="117.0" y="214.2" font-size="38" text-anchor="end" font-weight="normal" >40</text><text x="117.0" y="303.1" font-size="38" text-anchor="end" font-weight="normal" >20</text><text x="117.0" y="421.1" font-size="38" text-anchor="end" font-weight="normal" >60</text><text x="117.0" y="510.1" font-size="38" text-anchor="end" font-weight="normal" >40</text><text x="117.0" y="599.0" font-size="38" text-anchor="end" font-weight="normal" >20</text><text x="126.4" y="714.8" font-size="38" text-anchor="start" font-weight="normal" >-</text><path transform="translate(135.30,714.8) scale(38)" d="M0.462 0L0.462 -0.716L0.392 -0.716C0.362 -0.655 0.3 -0.585 0.2 -0.535L0.2 -0.453C0.27 -0.48 0.335 -0.52 0.375 -0.558L0.375 0Z"/><text x="259.7" y="714.8" font-size="38" text-anchor="middle" font-weight="normal" >0</text><path transform="translate(366.10,714.8) scale(38)" d="M0.462 0L0.462 -0.716L0.392 -0.716C0.362 -0.655 0.3 -0.585 0.2 -0.535L0.2 -0.453C0.27 -0.48 0.335 -0.52 0.375 -0.558L0.375 0Z"/><text x="494.5" y="714.8" font-size="38" text-anchor="middle" font-weight="normal" >2</text><text x="545.1" y="714.8" font-size="38" text-anchor="start" font-weight="normal" >-</text><path transform="translate(554.00,714.8) scale(38)" d="M0.462 0L0.462 -0.716L0.392 -0.716C0.362 -0.655 0.3 -0.585 0.2 -0.535L0.2 -0.453C0.27 -0.48 0.335 -0.52 0.375 -0.558L0.375 0Z"/><text x="678.4" y="714.8" font-size="38" text-anchor="middle" font-weight="normal" >0</text><path transform="translate(784.80,714.8) scale(38)" d="M0.462 0L0.462 -0.716L0.392 -0.716C0.362 -0.655 0.3 -0.585 0.2 -0.535L0.2 -0.453C0.27 -0.48 0.335 -0.52 0.375 -0.558L0.375 0Z"/><text x="913.2" y="714.8" font-size="38" text-anchor="middle" font-weight="normal" >2</text><text x="961.5" y="714.8" font-size="38" text-anchor="start" font-weight="normal" >-</text><path transform="translate(970.40,714.8) scale(38)" d="M0.462 0L0.462 -0.716L0.392 -0.716C0.362 -0.655 0.3 -0.585 0.2 -0.535L0.2 -0.453C0.27 -0.48 0.335 -0.52 0.375 -0.558L0.375 0Z"/><text x="1094.8" y="714.8" font-size="38" text-anchor="middle" font-weight="normal" >0</text><path transform="translate(1201.20,714.8) scale(38)" d="M0.462 0L0.462 -0.716L0.392 -0.716C0.362 -0.655 0.3 -0.585 0.2 -0.535L0.2 -0.453C0.27 -0.48 0.335 -0.52 0.375 -0.558L0.375 0Z"/><text x="1329.6" y="714.8" font-size="38" text-anchor="middle" font-weight="normal" >2</text><text x="746.6" y="768.7" font-size="38" text-anchor="middle" font-weight="normal" >Time (s)</text><text transform="translate(31.7,353.3) rotate(-90)" font-size="37.2" text-anchor="middle">Frequency (Hz)</text><text x="733.6" y="36.0" font-size="43.2" text-anchor="middle" font-weight="bold" >Inter-trial Phase Coherence of 40-Hz ASSR</text><defs><linearGradient id="cb" x1="0" y1="0" x2="0" y2="1"><stop offset="0.0078" stop-color="#800000"/><stop offset="0.0234" stop-color="#8f0000"/><stop offset="0.0391" stop-color="#9f0000"/><stop offset="0.0547" stop-color="#af0000"/><stop offset="0.0703" stop-color="#bf0000"/><stop offset="0.0859" stop-color="#cf0000"/><stop offset="0.1016" stop-color="#df0000"/><stop offset="0.1172" stop-color="#ef0000"/><stop offset="0.1328" stop-color="#ff0000"/><stop offset="0.1484" stop-color="#ff1000"/><stop offset="0.1641" stop-color="#ff2000"/><stop offset="0.1797" stop-color="#ff3000"/><stop offset="0.1953" stop-color="#ff4000"/><stop offset="0.2109" stop-color="#ff5000"/><stop offset="0.2266" stop-color="#ff6000"/><stop offset="0.2422" stop-color="#ff7000"/><stop offset="0.2578" stop-color="#ff8000"/><stop offset="0.2734" stop-color="#ff8f00"/><stop offset="0.2891" stop-color="#ff9f00"/><stop offset="0.3047" stop-color="#ffaf00"/><stop offset="0.3203" stop-color="#ffbf00"/><stop offset="0.3359" stop-color="#ffcf00"/><stop offset="0.3516" stop-color="#ffdf00"/><stop offset="0.3672" stop-color="#ffef00"/><stop offset="0.3828" stop-color="#ffff00"/><stop offset="0.3984" stop-color="#efff10"/><stop offset="0.4141" stop-color="#dfff20"/><stop offset="0.4297" stop-color="#cfff30"/><stop offset="0.4453" stop-color="#bfff40"/><stop offset="0.4609" stop-color="#afff50"/><stop offset="0.4766" stop-color="#9fff60"/><stop offset="0.4922" stop-color="#8fff70"/><stop offset="0.5078" stop-color="#80ff80"/><stop offset="0.5234" stop-color="#70ff8f"/><stop offset="0.5391" stop-color="#60ff9f"/><stop offset="0.5547" stop-color="#50ffaf"/><stop offset="0.5703" stop-color="#40ffbf"/><stop offset="0.5859" stop-color="#30ffcf"/><stop offset="0.6016" stop-color="#20ffdf"/><stop offset="0.6172" stop-color="#10ffef"/><stop offset="0.6328" stop-color="#00ffff"/><stop offset="0.6484" stop-color="#00efff"/><stop offset="0.6641" stop-color="#00dfff"/><stop offset="0.6797" stop-color="#00cfff"/><stop offset="0.6953" stop-color="#00bfff"/><stop offset="0.7109" stop-color="#00afff"/><stop offset="0.7266" stop-color="#009fff"/><stop offset="0.7422" stop-color="#008fff"/><stop offset="0.7578" stop-color="#0080ff"/><stop offset="0.7734" stop-color="#0070ff"/><stop offset="0.7891" stop-color="#0060ff"/><stop offset="0.8047" stop-color="#0050ff"/><stop offset="0.8203" stop-color="#0040ff"/><stop offset="0.8359" stop-color="#0030ff"/><stop offset="0.8516" stop-color="#0020ff"/><stop offset="0.8672" stop-color="#0010ff"/><stop offset="0.8828" stop-color="#0000ff"/><stop offset="0.8984" stop-color="#0000ef"/><stop offset="0.9141" stop-color="#0000df"/><stop offset="0.9297" stop-color="#0000cf"/><stop offset="0.9453" stop-color="#0000bf"/><stop offset="0.9609" stop-color="#0000af"/><stop offset="0.9766" stop-color="#00009f"/><stop offset="0.9922" stop-color="#00008f"/></linearGradient></defs><rect x="1397.4" y="281.9" width="39.2" height="314.8" fill="url(#cb)"/><text x="1448.0" y="302.6" font-size="31" text-anchor="start" font-weight="normal" >0.3</text><text x="1448.0" y="402.6" font-size="31" text-anchor="start" font-weight="normal" >0.2</text><text x="1448.0" y="502.6" font-size="31" text-anchor="start" font-weight="normal" >0.</text><path transform="translate(1471.55,502.6) scale(31)" d="M0.462 0L0.462 -0.716L0.392 -0.716C0.362 -0.655 0.3 -0.585 0.2 -0.535L0.2 -0.453C0.27 -0.48 0.335 -0.52 0.375 -0.558L0.375 0Z"/><text x="1448.0" y="602.6" font-size="31" text-anchor="start" font-weight="normal" >0</text><text x="1390.0" y="253.8" font-size="28.4" text-anchor="start" font-weight="normal" >ITPC</text></svg></body></html>
